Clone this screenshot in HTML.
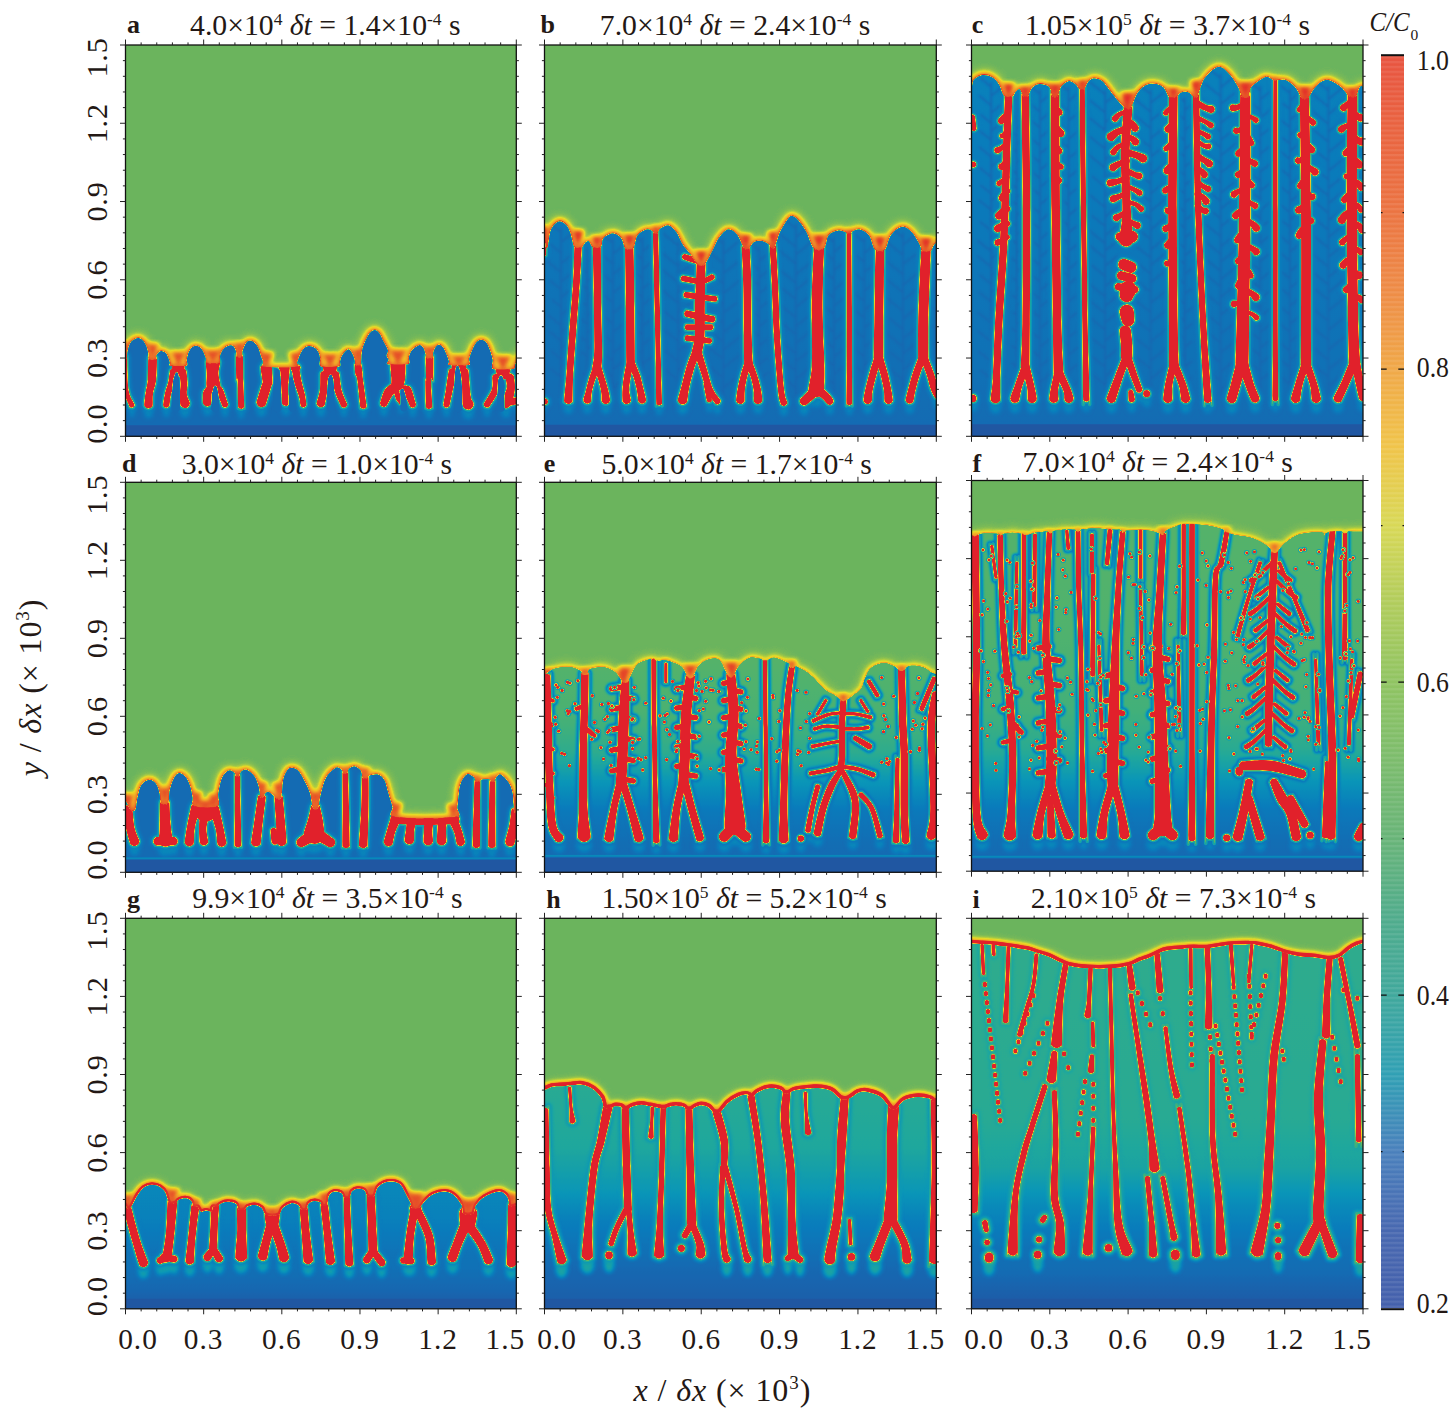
<!DOCTYPE html><html><head><meta charset="utf-8"><style>html,body{margin:0;padding:0;background:#fff;}svg{display:block;}</style></head><body><svg width="1450" height="1412" viewBox="0 0 1450 1412">
<defs><filter id="cmap" x="0" y="0" width="100%" height="100%" color-interpolation-filters="sRGB"><feComponentTransfer><feFuncR type="table" tableValues="0.165 0.129 0.094 0.039 0.039 0.125 0.251 0.361 0.416 0.627 0.902 0.949 0.941 0.925 0.902 0.890 0.886"/><feFuncG type="table" tableValues="0.310 0.341 0.400 0.486 0.588 0.659 0.690 0.706 0.706 0.784 0.863 0.753 0.627 0.471 0.314 0.188 0.133"/><feFuncB type="table" tableValues="0.620 0.639 0.690 0.737 0.722 0.612 0.486 0.392 0.369 0.282 0.157 0.141 0.157 0.157 0.157 0.165 0.169"/></feComponentTransfer></filter><filter id="gb05" x="-10%" y="-10%" width="120%" height="120%" color-interpolation-filters="sRGB"><feGaussianBlur stdDeviation="0.5"/></filter><filter id="gb25" x="-10%" y="-10%" width="120%" height="120%" color-interpolation-filters="sRGB"><feGaussianBlur stdDeviation="2.5"/></filter><filter id="gb6" x="-10%" y="-10%" width="120%" height="120%" color-interpolation-filters="sRGB"><feGaussianBlur stdDeviation="6.0"/></filter><filter id="gb07" x="-10%" y="-10%" width="120%" height="120%" color-interpolation-filters="sRGB"><feGaussianBlur stdDeviation="0.7"/></filter><filter id="gb1" x="-10%" y="-10%" width="120%" height="120%" color-interpolation-filters="sRGB"><feGaussianBlur stdDeviation="1.0"/></filter><filter id="gb15" x="-10%" y="-10%" width="120%" height="120%" color-interpolation-filters="sRGB"><feGaussianBlur stdDeviation="1.5"/></filter><filter id="gb2" x="-10%" y="-10%" width="120%" height="120%" color-interpolation-filters="sRGB"><feGaussianBlur stdDeviation="2.0"/></filter><filter id="gb3" x="-10%" y="-10%" width="120%" height="120%" color-interpolation-filters="sRGB"><feGaussianBlur stdDeviation="3.0"/></filter><filter id="gb4" x="-10%" y="-10%" width="120%" height="120%" color-interpolation-filters="sRGB"><feGaussianBlur stdDeviation="4.0"/></filter><filter id="gb5" x="-10%" y="-10%" width="120%" height="120%" color-interpolation-filters="sRGB"><feGaussianBlur stdDeviation="5.0"/></filter><filter id="gb8" x="-10%" y="-10%" width="120%" height="120%" color-interpolation-filters="sRGB"><feGaussianBlur stdDeviation="8.0"/></filter><filter id="blur1" x="-5%" y="-5%" width="110%" height="110%"><feGaussianBlur stdDeviation="1.2"/></filter><filter id="blur3" x="-10%" y="-10%" width="120%" height="120%"><feGaussianBlur stdDeviation="3"/></filter><filter id="blur6" x="-10%" y="-20%" width="120%" height="140%"><feGaussianBlur stdDeviation="6"/></filter></defs>
<rect width="1450" height="1412" fill="#fff"/>
<svg x="125.50" y="45.00" width="390.80" height="391.30" viewBox="0 0 391 391" preserveAspectRatio="none" overflow="hidden">
<rect width="391" height="391" fill="#69b35f"/>
<defs><path id="fra" d="M-6 300.7C-5.4 301.8 -3.6 305.4 -2.6 307.6C-1.5 309.8 -0.5 312.9 0.2 313.8C0.9 314.7 1.2 314.6 1.6 313.1C1.9 311.6 1.6 307.6 2.3 304.8C2.9 302 4 298.3 5.7 296.3C7.4 294.3 10.6 292.9 12.6 292.7C14.6 292.5 16.1 293.8 17.4 295.2C18.8 296.5 20 298.6 20.9 300.7C21.8 302.8 22.3 305.3 22.7 307.6C23.1 309.9 21.9 313.3 23.2 314.5C24.5 315.6 29.2 315.3 30.5 314.5C31.9 313.7 30.8 310.9 31.2 309.7C31.7 308.4 32.4 307.5 33.3 306.9C34.2 306.3 35.6 305.8 36.7 305.9C37.9 306 39.2 306.6 40.2 307.6C41.2 308.6 41.8 310.1 42.5 311.7C43.2 313.3 43.9 315.7 44.3 317.2C44.7 318.7 42.3 320.1 45 320.7C47.8 321.3 58.2 321.7 60.9 320.7C63.6 319.7 60.9 316.7 61.3 314.5C61.6 312.3 62.1 309.7 62.9 307.6C63.8 305.5 65.1 303.3 66.4 302.1C67.7 300.9 69.2 300.4 70.5 300.4C71.9 300.4 73.4 301 74.7 302.1C75.9 303.1 77.2 305.1 78.1 306.9C79 308.7 79.7 311.3 80.2 313.1C80.7 314.9 78.9 317.1 81.2 317.9C83.5 318.7 91.7 319.2 94 317.9C96.2 316.7 94 312.8 94.7 310.3C95.4 307.9 96.5 305.2 98.1 303.4C99.7 301.7 102.6 300.3 104.3 300C106.1 299.7 107.4 300.3 108.5 301.4C109.5 302.4 110.1 304.5 110.5 306.2C111 307.9 110.2 310.8 111.2 311.7C112.3 312.6 115.7 312.9 116.7 311.7C117.8 310.6 116.7 307.2 117.4 304.8C118.1 302.4 119.6 298.9 120.9 297.2C122.1 295.6 123.5 295.1 125 295.2C126.5 295.3 128.5 296.6 129.8 297.9C131.2 299.3 132.4 301.4 133.3 303.4C134.2 305.5 134.7 308.3 135.4 310.3C136 312.4 136.9 314.3 137.2 315.9C137.4 317.5 136.7 319 136.7 320C136.8 321 131.7 321.7 137.4 322.1C143.2 322.4 165.5 322.9 171.2 322.1C177 321.3 171.3 319.4 171.9 317.2C172.5 315.1 173.5 311.4 174.7 309C175.8 306.6 177.3 304.1 178.8 302.8C180.3 301.4 181.8 300.7 183.6 300.7C185.5 300.7 188.2 301.6 189.8 302.8C191.5 303.9 192.5 305.9 193.3 307.6C194.1 309.3 194.3 310.8 194.7 313.1C195.1 315.4 192.5 320 195.6 321.4C198.8 322.8 210.4 322.3 213.6 321.4C216.7 320.5 214.1 317.8 214.7 315.9C215.2 313.9 215.6 311.6 217 309.7C218.4 307.7 221.5 304.1 223.2 304.1C225 304.1 226.6 307.7 227.6 309.7C228.7 311.6 229 314.1 229.4 315.9C229.8 317.6 229.1 319.3 230.1 320C231.1 320.7 234.3 322.1 235.4 320C236.4 317.9 235.8 311 236.3 307.6C236.8 304.1 237.1 302.5 238.4 299.3C239.7 296.1 242.1 290.7 243.9 288.3C245.8 285.9 247.7 284.8 249.4 284.8C251.2 284.8 252.9 286.6 254.3 288.3C255.6 290 256.3 292.4 257.7 295.2C259.1 297.9 262 302.3 262.5 304.8C263.1 307.4 261 308.7 261.2 310.3C261.3 312 263 313 263.2 314.5C263.5 316 259.3 318.5 262.5 319.3C265.8 320.1 279 320.6 282.5 319.3C286.1 318 282.9 314.1 283.6 311.7C284.3 309.3 285 306.8 286.7 304.8C288.3 302.9 291.7 300.5 293.6 300C295.4 299.5 296.7 300.8 297.7 302.1C298.7 303.3 299.3 305.7 299.8 307.6C300.3 309.4 299.4 312.2 300.7 313.1C302.1 314 306.4 314.1 307.6 313.1C308.9 312.1 307.6 308.7 308.1 306.9C308.5 305.1 309.2 303.3 310.1 302.1C311 300.8 312.3 299.3 313.6 299.3C314.8 299.3 316.6 300.7 317.7 302.1C318.9 303.4 319.5 305.3 320.5 307.6C321.5 309.9 323.1 313.8 323.6 315.9C324.2 317.9 320.6 319.3 323.9 320C327.2 320.7 339.9 321.1 343.2 320C346.6 318.9 343.2 315.9 343.9 313.1C344.6 310.3 346.1 306.2 347.4 303.4C348.6 300.7 350.1 298 351.5 296.6C352.9 295.1 354.1 294.5 355.6 294.5C357.1 294.5 359 294.8 360.5 296.6C362 298.3 363.5 301.8 364.6 304.8C365.8 307.8 366.8 311.3 367.4 314.5C367.9 317.7 364.7 322.5 368.1 324.1C371.4 325.7 383.7 325.1 387.4 324.1C391 323.2 389.2 320.5 390.1 318.6C391 316.8 391.5 314.9 392.9 313.1C394.3 311.3 397.5 308.5 398.4 307.6L398.4 430L-6 430Z"/><g id="cha"><path d="M-2.1 313.2C-2 318.7 -2.2 337.3 -1.3 345.2C-0.3 353.1 2.8 357.9 3.7 360.7C4.7 363.4 4.2 361.5 4.5 361.8C4.9 362.1 5.3 362.3 5.8 362.4C6.2 362.5 6.8 362.4 7.2 362.3C7.6 362.1 8 361.8 8.3 361.5C8.6 361.1 8.8 360.7 8.9 360.2C9 359.8 9.8 361.4 8.8 358.8C7.8 356.2 4.2 352.2 3 344.6C1.8 337 1.9 318.5 1.6 313C1.3 307.6 1.5 312.4 1.3 312.1C1.2 311.9 0.9 311.6 0.6 311.5C0.4 311.3 0 311.3 -0.3 311.3C-0.6 311.3 -0.9 311.4 -1.2 311.5C-1.5 311.7 -1.7 312 -1.8 312.2C-2 312.5 -2.2 307.7 -2.1 313.2Z"/><path d="M22.7 314.1C22.5 317.9 22.6 329.3 22.2 334.8C21.7 340.3 20.7 343.1 20.1 347.1C19.5 351 18.9 356.3 18.7 358.6C18.6 360.9 18.8 360.2 19.1 360.8C19.5 361.5 20 362.1 20.6 362.5C21.2 362.9 22 363.2 22.7 363.2C23.4 363.3 24.3 363.1 24.9 362.8C25.6 362.5 26.2 362 26.6 361.4C27 360.8 27.2 361.5 27.3 359.2C27.5 357 27 352.1 27.6 348.1C28.1 344.2 30 341.2 30.6 335.6C31.3 330 31.4 318.3 31.5 314.4C31.5 310.4 31.3 312.8 31 312.1C30.6 311.5 30 310.9 29.4 310.5C28.8 310.1 28 309.8 27.2 309.8C26.5 309.8 25.7 310 25 310.3C24.4 310.7 23.7 311.3 23.4 311.9C23 312.5 22.9 310.3 22.7 314.1Z"/><path d="M46.7 320.5C46.5 321.8 46.6 323.7 46.7 325C46.7 326.2 46.8 327.1 47.2 328C47.6 328.9 48.3 329.8 49.1 330.4C50 331 51.1 331.4 52 331.5C53 331.6 54.2 331.4 55.1 330.9C56 330.5 56.9 329.8 57.5 329C58.1 328.2 58.2 327.3 58.5 326.1C58.9 324.9 59.3 323 59.3 321.7C59.3 320.4 59.2 319.4 58.8 318.5C58.3 317.5 57.5 316.6 56.7 316C55.8 315.3 54.7 314.9 53.6 314.8C52.6 314.7 51.3 314.9 50.4 315.4C49.4 315.8 48.5 316.6 47.9 317.4C47.3 318.3 46.9 319.3 46.7 320.5Z"/><path d="M44.3 326.4C43.9 328.4 43.4 333.7 42.7 337.1C41.9 340.5 40.6 343.2 39.7 346.8C38.9 350.4 38 356.4 37.7 358.7C37.4 360.9 37.6 359.9 37.8 360.4C38 360.9 38.4 361.4 38.8 361.7C39.2 362.1 39.8 362.3 40.3 362.4C40.9 362.5 41.5 362.4 42 362.2C42.5 362 43 361.7 43.4 361.3C43.7 360.8 43.7 361.9 44.1 359.7C44.5 357.6 44.8 351.8 45.8 348.3C46.7 344.8 48.7 342.3 49.6 338.8C50.5 335.3 51 329.6 51.3 327.4C51.5 325.2 51.3 326.1 51.1 325.6C50.9 325 50.5 324.5 50 324.1C49.5 323.7 48.9 323.5 48.3 323.4C47.7 323.3 47 323.4 46.5 323.6C45.9 323.8 45.4 324.2 45 324.7C44.6 325.1 44.6 324.3 44.3 326.4Z"/><path d="M53.9 327.3C54 329.3 54.9 334.4 55 338C55.1 341.6 54.4 345.7 54.4 349.1C54.4 352.6 54.5 356.7 54.7 358.7C55 360.7 55.3 360.4 55.8 361C56.3 361.6 57.1 362.2 57.9 362.4C58.6 362.7 59.6 362.8 60.4 362.6C61.2 362.5 62 362.1 62.7 361.6C63.3 361 63.8 360.3 64.1 359.5C64.4 358.7 64.7 358.8 64.3 357C63.8 355.2 61.8 352 61.4 348.8C61 345.6 62.2 341.6 62.1 337.9C62 334.2 61.3 328.7 61 326.5C60.7 324.4 60.7 325.3 60.3 324.8C60 324.3 59.4 323.9 58.9 323.7C58.4 323.4 57.7 323.3 57.1 323.4C56.5 323.4 55.8 323.7 55.4 324C54.9 324.4 54.4 324.9 54.2 325.4C53.9 326 53.8 325.2 53.9 327.3Z"/><path d="M80.4 317.4C80.3 319.8 81 324.6 81.1 328.4C81.2 332.1 80.6 337.3 80.8 339.7C80.9 342.2 81.3 342.2 81.9 343.2C82.6 344.2 83.6 345.1 84.7 345.6C85.7 346.1 87 346.4 88.2 346.3C89.4 346.2 90.7 345.8 91.7 345.1C92.6 344.5 93.5 343.5 94.1 342.4C94.6 341.4 94.9 341.2 94.8 338.9C94.6 336.5 93.1 331.7 93.1 328.2C93 324.7 94.5 320.2 94.6 317.9C94.8 315.6 94.4 315.4 93.8 314.3C93.3 313.3 92.3 312.2 91.3 311.6C90.3 311 89 310.6 87.8 310.5C86.6 310.5 85.2 310.8 84.2 311.3C83.1 311.9 82.1 312.8 81.5 313.8C80.8 314.9 80.4 315 80.4 317.4Z"/><path d="M81.9 341.1C80.9 342.2 78.5 344 77.8 346.6C77 349.2 77.3 354.5 77.4 356.5C77.4 358.5 77.6 358.1 78 358.8C78.4 359.5 79 360.1 79.7 360.5C80.3 360.9 81.2 361.1 82 361.1C82.7 361.1 83.6 360.9 84.2 360.5C84.9 360.1 85.5 359.5 85.9 358.8C86.3 358.1 86.5 358.2 86.5 356.5C86.6 354.8 85.9 350.4 86.2 348.6C86.4 346.8 87.7 346.6 88.2 345.8C88.6 345 88.8 344.5 88.9 343.9C89 343.2 88.9 342.5 88.6 341.9C88.3 341.3 87.9 340.7 87.3 340.3C86.8 339.9 86.1 339.6 85.5 339.6C84.8 339.5 84.1 339.6 83.5 339.9C82.9 340.1 82.8 340 81.9 341.1Z"/><path d="M89.7 345.6C90.1 346.2 90.3 345.2 91.5 347.6C92.6 350.1 95.6 358 96.6 360.3C97.6 362.6 97.2 361.3 97.6 361.6C98 361.9 98.5 362.2 99 362.3C99.5 362.4 100.1 362.3 100.6 362.1C101.1 361.9 101.6 361.6 101.9 361.2C102.2 360.8 102.5 360.2 102.6 359.7C102.7 359.2 103.2 360.6 102.4 358.1C101.6 355.6 99 347.6 97.9 344.8C96.7 342 96.1 342.1 95.5 341.3C94.8 340.6 94.6 340.4 94 340.2C93.5 339.9 92.8 339.8 92.2 339.9C91.6 340 91 340.2 90.5 340.6C90 340.9 89.6 341.5 89.3 342C89.1 342.6 89 343.3 89.1 343.8C89.1 344.4 89.3 344.9 89.7 345.6Z"/><path d="M110.4 311.5C110.4 315.8 110.7 331.5 111 335.3C111.2 339.1 111.7 330 112 334.2C112.3 338.4 112.5 356 112.7 360.7C112.8 365.3 112.8 361.8 113.1 362.2C113.4 362.6 113.8 363 114.3 363.3C114.7 363.5 115.3 363.7 115.8 363.7C116.4 363.6 116.9 363.5 117.4 363.2C117.8 362.9 118.2 362.5 118.5 362C118.7 361.6 118.9 365.2 118.8 360.5C118.7 355.8 118.1 338.2 117.9 333.9C117.7 329.7 117.9 338.8 117.8 335C117.8 331.3 117.7 315.6 117.5 311.4C117.4 307.2 117.3 310.1 117 309.6C116.7 309.1 116.2 308.6 115.7 308.3C115.2 308 114.5 307.9 113.9 307.9C113.3 307.9 112.7 308.1 112.1 308.4C111.6 308.7 111.2 309.2 110.9 309.7C110.6 310.2 110.4 307.2 110.4 311.5Z"/><path d="M135.3 323.6C135.5 326.5 137.1 335.7 137.3 338.1C137.6 340.5 137.8 335 136.8 338C135.8 340.9 132.3 352.3 131.4 355.6C130.5 359 131.1 357.3 131.3 358.1C131.5 358.9 131.9 359.8 132.5 360.4C133 360.9 133.8 361.5 134.6 361.7C135.4 361.9 136.3 362 137.1 361.8C137.9 361.6 138.7 361.2 139.3 360.6C139.9 360.1 139.5 361.7 140.7 358.5C141.8 355.2 145 344.4 146 341C147.1 337.5 147.1 340.8 147.2 337.8C147.3 334.7 146.8 325.5 146.5 322.5C146.2 319.5 146 320.5 145.5 319.8C144.9 319 144.1 318.3 143.2 317.9C142.4 317.5 141.3 317.3 140.4 317.4C139.4 317.5 138.4 317.9 137.6 318.4C136.9 319 136.2 319.8 135.8 320.7C135.4 321.5 135 320.7 135.3 323.6Z"/><path d="M153.3 324C153.5 325 154.6 323.4 154.9 326.9C155.2 330.4 155 340 155.2 345C155.4 350 155.9 354.7 156.2 357C156.5 359.3 156.6 358.4 157 359C157.4 359.6 158.1 360.1 158.7 360.3C159.3 360.6 160.1 360.7 160.8 360.7C161.5 360.6 162.3 360.3 162.8 359.9C163.4 359.4 163.9 358.8 164.2 358.2C164.5 357.5 164.7 358.3 164.5 356C164.3 353.8 162.8 349.6 162.8 344.8C162.7 339.9 163.8 330.6 164.1 326.9C164.4 323.1 164.5 323.3 164.4 322C164.2 320.8 163.7 320.1 163.1 319.4C162.5 318.7 161.6 318.1 160.7 317.7C159.8 317.4 158.7 317.3 157.8 317.5C156.9 317.7 155.9 318.1 155.2 318.7C154.5 319.3 153.8 320.2 153.5 321.1C153.2 322 153 323.1 153.3 324Z"/><path d="M165.3 323.5C165.5 324.4 166.1 324.5 166.7 326.8C167.3 329.2 167.7 333.7 168.9 337.7C170 341.7 172.4 347.4 173.4 351C174.5 354.7 174.6 358 175 359.7C175.4 361.3 175.3 360.7 175.6 361.1C175.9 361.4 176.4 361.8 176.8 362C177.3 362.1 177.9 362.2 178.4 362.1C178.9 362.1 179.4 361.8 179.8 361.5C180.2 361.2 180.5 360.8 180.7 360.3C180.9 359.8 181 360.6 180.9 358.8C180.7 357 180.5 353.4 179.7 349.5C178.9 345.7 177.1 339.8 176.2 335.9C175.3 331.9 174.6 327.8 174.4 325.6C174.2 323.4 175.2 323.5 175.2 322.6C175.2 321.7 174.8 320.9 174.3 320.2C173.8 319.5 173.1 318.9 172.3 318.6C171.6 318.2 170.7 318 169.8 318.1C169 318.2 168.1 318.5 167.4 319C166.8 319.5 166.1 320.2 165.8 320.9C165.4 321.7 165.2 322.5 165.3 323.5Z"/><path d="M197.6 321.7C197.6 323 198 324.9 198.3 326.2C198.5 327.5 198.6 328.5 199.1 329.4C199.7 330.3 200.5 331.2 201.4 331.7C202.4 332.2 203.6 332.5 204.6 332.5C205.7 332.5 206.9 332.2 207.8 331.7C208.7 331.2 209.5 330.3 210.1 329.4C210.6 328.5 210.7 327.5 210.9 326.2C211.2 324.9 211.7 323 211.6 321.7C211.6 320.3 211.3 319.2 210.7 318.2C210.1 317.1 209.1 316.2 208.1 315.6C207.1 315 205.8 314.6 204.6 314.6C203.4 314.6 202.1 315 201.1 315.6C200.1 316.2 199.1 317.1 198.5 318.2C198 319.2 197.6 320.3 197.6 321.7Z"/><path d="M194.8 329.4C194.7 332.3 195 339.8 194.5 344.4C193.9 349 191.9 354.5 191.4 357C190.9 359.5 191.3 358.5 191.5 359.2C191.7 359.8 192.2 360.5 192.7 361C193.2 361.4 194 361.8 194.6 362C195.3 362.1 196.1 362 196.8 361.8C197.5 361.6 198.2 361.2 198.6 360.6C199.1 360.1 199 361.3 199.6 358.7C200.1 356.2 201.3 350.2 201.9 345.4C202.6 340.6 203.2 332.8 203.3 329.9C203.5 327 203.2 328.4 202.9 327.7C202.6 327.1 202 326.5 201.4 326.1C200.8 325.7 200 325.5 199.3 325.4C198.6 325.4 197.8 325.5 197.2 325.9C196.5 326.2 195.9 326.7 195.5 327.3C195.1 327.9 195 326.6 194.8 329.4Z"/><path d="M206.3 330.3C206.8 333.5 208.2 342.2 209.7 347.2C211.2 352.2 214.4 358 215.5 360.5C216.6 362.9 216.1 361.5 216.5 361.8C216.9 362.1 217.5 362.3 218.1 362.4C218.6 362.5 219.2 362.4 219.7 362.2C220.2 362 220.7 361.6 221 361.2C221.4 360.7 221.6 360.2 221.7 359.6C221.8 359.1 222.3 360.4 221.5 358C220.6 355.6 217.7 350.1 216.4 345.3C215.2 340.4 214.5 332 214 329C213.4 325.9 213.5 327.6 213.1 327.1C212.7 326.6 212.1 326.2 211.4 326C210.8 325.8 210.1 325.7 209.4 325.8C208.8 325.9 208.1 326.2 207.6 326.7C207.1 327.1 206.7 327.7 206.5 328.3C206.2 328.9 205.7 327.2 206.3 330.3Z"/><path d="M229.2 320.1C229.3 321.9 229.5 326.4 229.9 328.8C230.3 331.2 231 329.2 231.8 334.5C232.6 339.8 234.1 356.1 234.7 360.7C235.3 365.3 235 361.8 235.4 362.2C235.7 362.7 236.2 363.1 236.7 363.3C237.2 363.5 237.8 363.6 238.3 363.5C238.9 363.4 239.5 363.2 239.9 362.9C240.3 362.5 240.7 362 240.9 361.6C241.1 361.1 241.7 364.5 241.2 359.9C240.6 355.2 238.3 339 237.6 333.7C237 328.3 237.5 330.1 237.2 327.7C237 325.4 236.3 321 236 319.3C235.7 317.7 235.7 318.2 235.4 317.7C235 317.2 234.5 316.8 234 316.6C233.4 316.4 232.8 316.3 232.2 316.3C231.7 316.4 231 316.6 230.6 317C230.1 317.3 229.7 317.8 229.5 318.4C229.2 318.9 229.1 318.4 229.2 320.1Z"/><path d="M264.9 320.2C264.9 322.8 265.7 329.2 265.9 332.3C266 335.3 265.8 337.1 265.9 338.7C266 340.3 266 340.9 266.4 341.9C266.9 342.9 267.6 343.8 268.5 344.4C269.4 345.1 270.5 345.5 271.6 345.6C272.6 345.7 273.8 345.5 274.8 345.1C275.7 344.6 276.7 343.9 277.3 343C277.9 342.1 278 341.7 278.5 339.9C278.9 338.2 279.6 335.9 279.9 332.6C280.2 329.2 280.4 322.6 280.3 319.8C280.2 317.1 279.8 317.1 279.2 316C278.5 314.9 277.4 313.9 276.3 313.3C275.2 312.6 273.7 312.3 272.4 312.3C271.2 312.3 269.7 312.8 268.6 313.4C267.5 314.1 266.5 315.2 265.9 316.3C265.2 317.4 264.9 317.5 264.9 320.2Z"/><path d="M265.5 338.8C264.1 340 260.8 342 259 344.9C257.3 347.9 255.8 354.1 255 356.3C254.3 358.5 254.7 357.6 254.7 358.2C254.8 358.9 255.1 359.6 255.4 360.1C255.8 360.6 256.4 361 256.9 361.3C257.5 361.6 258.3 361.7 258.9 361.6C259.5 361.5 260.2 361.3 260.7 360.9C261.2 360.5 260.9 361.2 261.9 359.4C263 357.6 265.5 352.6 267.2 350.2C268.8 347.9 270.9 346.5 271.9 345.4C272.9 344.2 273 344.1 273.2 343.3C273.4 342.6 273.4 341.7 273.2 340.9C273 340.2 272.6 339.4 272 338.9C271.5 338.3 270.7 337.9 270 337.6C269.2 337.4 268.4 337.4 267.6 337.6C266.9 337.8 267 337.6 265.5 338.8Z"/><path d="M277.9 346.4C278.1 346.7 277.2 344.4 278.2 346.7C279.3 349 283.2 357.9 284.4 360.4C285.6 362.9 284.9 361.4 285.4 361.7C285.8 362.1 286.4 362.3 286.9 362.4C287.4 362.5 288.1 362.4 288.6 362.2C289.1 362 289.6 361.7 289.9 361.3C290.3 360.8 290.5 360.3 290.6 359.7C290.7 359.2 291.2 360.8 290.4 358.1C289.6 355.3 287.2 346 285.8 343.1C284.3 340.1 282.7 341 281.7 340.5C280.7 339.9 280.5 339.9 279.9 339.9C279.4 339.9 278.7 340 278.1 340.3C277.6 340.6 277.1 341 276.8 341.5C276.5 342 276.2 342.7 276.2 343.3C276.2 343.9 276.3 344.6 276.6 345.1C276.9 345.6 277.6 346.2 277.9 346.4Z"/><path d="M268.6 347C268.9 348.4 269.7 352.1 270.6 354C271.5 356 273.1 357.5 273.8 358.4C274.5 359.3 274.4 359 274.7 359.2C275.1 359.4 275.5 359.5 275.9 359.5C276.3 359.4 276.8 359.3 277.1 359.1C277.5 358.8 277.8 358.5 278 358.1C278.1 357.8 278.2 357.3 278.2 356.9C278.2 356.5 278.2 356.5 277.8 355.7C277.4 354.9 276.2 353.6 275.6 351.9C274.9 350.2 274.2 346.8 273.8 345.5C273.4 344.2 273.4 344.6 273.1 344.3C272.8 344 272.3 343.7 271.9 343.6C271.4 343.5 270.9 343.5 270.5 343.6C270 343.8 269.6 344 269.3 344.4C269 344.7 268.7 345.1 268.6 345.6C268.5 346 268.3 345.5 268.6 347Z"/><path d="M300.1 312.9C300.1 316.9 300.8 331.4 300.8 334.9C300.7 338.5 299.9 329.7 299.9 334C299.8 338.3 300.2 355.9 300.4 360.7C300.6 365.4 300.6 361.8 300.9 362.3C301.2 362.7 301.6 363.2 302.1 363.4C302.6 363.7 303.2 363.8 303.7 363.8C304.3 363.8 304.9 363.6 305.3 363.3C305.8 363 306.2 362.6 306.5 362.1C306.7 361.6 307 365.1 306.9 360.5C306.8 355.8 305.6 338.3 305.8 334.1C306 330 307.5 339 307.9 335.4C308.3 331.8 308.3 316.9 308.3 312.8C308.3 308.7 308.1 311.3 307.7 310.8C307.4 310.2 306.8 309.6 306.2 309.3C305.6 308.9 304.8 308.7 304.2 308.7C303.5 308.7 302.7 308.9 302.1 309.3C301.5 309.6 301 310.2 300.6 310.8C300.3 311.4 300.1 308.8 300.1 312.9Z"/><path d="M326.3 319.9C326.1 320.9 326.5 321.8 326.7 322.8C326.8 323.9 326.8 325.2 327.2 326.2C327.7 327.2 328.5 328.2 329.4 328.9C330.3 329.5 331.6 330 332.7 330.1C333.8 330.2 335.1 330 336.1 329.5C337.1 329 338.1 328.2 338.7 327.3C339.4 326.4 339.6 325.1 339.9 324.1C340.3 323.1 340.8 322.3 340.9 321.2C340.9 320.2 340.8 318.6 340.3 317.5C339.7 316.4 338.8 315.3 337.8 314.6C336.8 313.9 335.5 313.3 334.3 313.2C333 313.1 331.6 313.4 330.5 313.9C329.4 314.4 328.3 315.3 327.6 316.3C326.9 317.3 326.4 318.8 326.3 319.9Z"/><path d="M323.2 326.1C322.6 329.4 321.3 338.8 320.5 344.2C319.6 349.6 318.4 355.9 318 358.6C317.6 361.3 318 359.8 318.2 360.3C318.3 360.8 318.7 361.3 319.1 361.7C319.5 362 320.1 362.3 320.6 362.4C321.1 362.5 321.8 362.4 322.3 362.3C322.8 362.1 323.3 361.7 323.7 361.3C324 360.9 323.8 362.4 324.4 359.8C325 357.2 326.2 350.9 327.4 345.5C328.5 340.2 330.9 331 331.5 327.7C332.2 324.4 331.6 326.2 331.4 325.5C331.1 324.8 330.7 324.1 330.1 323.7C329.6 323.2 328.9 322.9 328.2 322.7C327.5 322.6 326.6 322.7 326 322.9C325.3 323.1 324.6 323.6 324.1 324.1C323.7 324.7 323.8 322.7 323.2 326.1Z"/><path d="M334.8 327.2C334.9 331.7 335.4 346.6 335.9 352.2C336.3 357.8 337 358.7 337.5 360.5C338.1 362.3 338.4 362.3 339 363C339.7 363.6 340.6 364.1 341.5 364.3C342.4 364.5 343.5 364.5 344.4 364.2C345.3 364 346.2 363.4 346.8 362.7C347.5 362.1 348 361.1 348.2 360.2C348.4 359.3 348.6 358.9 348.1 357.4C347.7 355.8 346.3 356.2 345.5 351.1C344.7 346 343.8 331 343.3 326.6C342.8 322.2 343 325.1 342.6 324.5C342.2 324 341.6 323.4 341 323.1C340.3 322.8 339.5 322.6 338.8 322.7C338.1 322.7 337.3 323 336.7 323.4C336.1 323.8 335.6 324.4 335.3 325C335 325.6 334.8 322.6 334.8 327.2Z"/><path d="M370.4 324.4C370.3 325.6 370.8 326.5 371 327.6C371.3 328.7 371.4 330 371.9 330.9C372.5 331.9 373.4 332.8 374.4 333.4C375.3 333.9 376.6 334.2 377.7 334.2C378.8 334.2 380.1 333.9 381 333.4C382 332.8 382.9 331.9 383.5 330.9C384 330 384.1 328.7 384.4 327.6C384.6 326.5 385.1 325.6 385.1 324.4C385 323.3 384.7 321.8 384.1 320.7C383.5 319.7 382.4 318.7 381.4 318C380.3 317.4 378.9 317.1 377.7 317.1C376.5 317.1 375.1 317.4 374 318C373 318.7 372 319.7 371.3 320.7C370.7 321.8 370.4 323.3 370.4 324.4Z"/><path d="M366.9 332.1C366.7 334.4 367.9 339.5 366.6 343.8C365.2 348 360.3 355 358.9 357.6C357.6 360.2 358.5 358.7 358.5 359.2C358.5 359.8 358.7 360.4 359 360.9C359.2 361.3 359.7 361.8 360.2 362C360.6 362.3 361.2 362.4 361.8 362.4C362.3 362.4 362.9 362.3 363.4 362C363.9 361.7 362.9 363.5 364.6 360.8C366.2 358.1 371.5 350.7 373.2 346C374.9 341.3 374.5 335.3 374.7 332.7C374.9 330.2 374.6 331.3 374.3 330.7C374 330.1 373.5 329.6 373 329.2C372.5 328.8 371.8 328.6 371.1 328.5C370.5 328.5 369.7 328.6 369.1 328.9C368.5 329.2 368 329.7 367.6 330.2C367.2 330.8 367.1 329.9 366.9 332.1Z"/><path d="M380.4 332.8C380.5 334.7 381.7 339 381.4 341.9C381.1 344.8 379.6 347.8 378.7 350.2C377.9 352.7 376.9 355.2 376.4 356.7C376 358.2 376 358.3 376.1 359.1C376.3 359.8 376.6 360.6 377.1 361.2C377.6 361.8 378.3 362.4 379 362.7C379.7 362.9 380.6 363 381.3 362.9C382.1 362.8 382.9 362.5 383.5 362C384.1 361.5 384.2 361.6 384.9 360.1C385.7 358.6 387.2 356 388 353C388.8 350.1 389.6 345.9 389.7 342.4C389.9 338.9 389.1 334.1 388.8 332C388.6 329.9 388.5 330.5 388.1 329.9C387.6 329.4 387 328.8 386.4 328.5C385.7 328.3 384.9 328.1 384.2 328.2C383.5 328.3 382.7 328.5 382.1 329C381.6 329.4 381 330 380.7 330.7C380.4 331.3 380.3 330.9 380.4 332.8Z"/><path d="M381.4 361C383.7 360.6 391.2 359.1 393.5 358.6C395.8 358.1 394.7 358.2 395.2 357.8C395.6 357.4 396 356.8 396.2 356.3C396.4 355.7 396.4 355 396.3 354.5C396.2 353.9 395.9 353.3 395.5 352.8C395.1 352.4 394.5 352 394 351.8C393.4 351.6 394.5 351.3 392.2 351.7C389.8 352.1 382.3 353.6 380 354.2C377.7 354.7 378.8 354.6 378.4 355C377.9 355.3 377.6 355.9 377.4 356.5C377.2 357 377.1 357.7 377.2 358.3C377.4 358.8 377.7 359.5 378.1 359.9C378.4 360.3 379 360.7 379.6 360.9C380.1 361.1 379 361.4 381.4 361Z"/></g><clipPath id="cla"><use href="#fra" transform="translate(0,-0.5)"/></clipPath><clipPath id="c0a"><use href="#fra"/></clipPath></defs><g filter="url(#cmap)"><rect x="-5" y="-5" width="401" height="401" fill="#808080"/><use href="#fra" fill="#b2b2b2" stroke="#b2b2b2" stroke-width="6" filter="url(#gb5)"/><use href="#fra" fill="#e6e6e6" stroke="#e6e6e6" stroke-width="3.0" filter="url(#gb25)"/><use href="#fra" fill="#ffffff" stroke="#ffffff" stroke-width="1.0" filter="url(#gb05)"/><path d="M-4.3 297.1L3.8 297.1L-0.2 316.1ZM20.5 298.2L33.7 298.2L27.1 317.2ZM44.5 306.0L61.5 306.0L53.0 324.1ZM78.2 304.2L96.8 304.2L87.5 320.7ZM108.2 297.3L119.7 297.3L114.0 314.4ZM133.1 307.0L148.7 307.0L140.9 326.0ZM163.1 307.0L177.4 307.0L170.3 326.0ZM195.4 308.1L213.8 308.1L204.6 324.7ZM227.0 303.7L238.2 303.7L232.6 322.7ZM262.7 304.0L282.5 304.0L272.6 323.0ZM297.9 301.0L310.5 301.0L304.2 315.8ZM324.0 309.7L343.1 309.7L333.6 323.6ZM368.2 310.3L387.3 310.3L377.7 327.4Z" fill="#e0e0e0" filter="url(#gb25)"/><g filter="url(#gb07)"><use href="#fra" fill="#242424"/><g fill="#383838" filter="url(#gb2)"><ellipse cx="6.3" cy="365.1" rx="3.1" ry="7.0"/><ellipse cx="23.0" cy="366.0" rx="4.7" ry="7.0"/><ellipse cx="40.9" cy="365.1" rx="3.6" ry="7.0"/><ellipse cx="59.5" cy="365.4" rx="5.3" ry="7.0"/><ellipse cx="87.8" cy="349.0" rx="7.4" ry="7.0"/><ellipse cx="82.0" cy="363.8" rx="5.0" ry="7.0"/><ellipse cx="99.5" cy="365.0" rx="3.5" ry="7.0"/><ellipse cx="115.7" cy="366.4" rx="3.5" ry="7.0"/><ellipse cx="136.0" cy="364.6" rx="5.3" ry="7.0"/><ellipse cx="160.4" cy="363.4" rx="4.6" ry="7.0"/><ellipse cx="177.9" cy="364.9" rx="3.4" ry="7.0"/><ellipse cx="195.5" cy="364.7" rx="4.6" ry="7.0"/><ellipse cx="218.5" cy="365.1" rx="3.6" ry="7.0"/><ellipse cx="237.9" cy="366.2" rx="3.6" ry="7.0"/><ellipse cx="272.2" cy="348.3" rx="6.7" ry="7.0"/><ellipse cx="258.5" cy="364.3" rx="4.2" ry="7.0"/><ellipse cx="287.4" cy="365.1" rx="3.6" ry="7.0"/><ellipse cx="275.8" cy="362.2" rx="2.8" ry="7.0"/><ellipse cx="303.6" cy="366.5" rx="3.6" ry="7.0"/><ellipse cx="321.2" cy="365.1" rx="3.6" ry="7.0"/><ellipse cx="342.8" cy="367.2" rx="5.9" ry="7.0"/><ellipse cx="361.8" cy="365.1" rx="3.6" ry="7.0"/><ellipse cx="380.7" cy="365.7" rx="5.0" ry="7.0"/><ellipse cx="392.8" cy="361.4" rx="3.9" ry="7.0"/></g><use href="#cha" fill="#333333" stroke="#333333" stroke-width="7" filter="url(#gb15)" clip-path="url(#c0a)"/><use href="#cha" fill="#4c4c4c" stroke="#4c4c4c" stroke-width="3.5" filter="url(#gb07)" clip-path="url(#c0a)"/><use href="#cha" fill="#fff" clip-path="url(#cla)"/><g fill="#242424"><path d="M49.7 328.5C49.3 329.7 48.2 332.1 47.7 335.1C47.2 338 47 341.5 46.7 346.1C46.5 350.7 46.1 359.6 46.1 362.7C46.1 365.8 46.3 364.2 46.6 364.8C47 365.4 47.5 366 48.1 366.3C48.7 366.7 49.5 366.9 50.2 366.9C50.9 366.9 51.7 366.7 52.3 366.4C52.9 366 53.5 365.5 53.8 364.9C54.2 364.3 54.3 365.9 54.4 362.8C54.5 359.7 54.4 350.9 54.3 346.3C54.2 341.7 54.2 338.2 53.9 335.3C53.6 332.4 53 329.9 52.7 328.6C52.5 327.4 52.7 328.1 52.6 327.9C52.5 327.7 52.3 327.4 52.1 327.3C51.9 327.1 51.6 327.1 51.3 327C51.1 327 50.8 327.1 50.5 327.2C50.3 327.3 50.1 327.5 50 327.7C49.8 327.9 50.1 327.2 49.7 328.5Z"/><path d="M88.1 342.3C87.9 343.6 87.1 345.6 86.7 349C86.3 352.4 85.8 360.1 85.7 362.8C85.6 365.4 85.9 364.2 86.3 364.8C86.6 365.4 87.2 366 87.8 366.3C88.4 366.7 89.2 366.9 89.8 366.9C90.5 366.9 91.3 366.7 91.9 366.3C92.5 366 93.1 365.4 93.4 364.8C93.8 364.2 94.1 365.4 94 362.8C93.9 360.1 93.4 352.4 92.9 349C92.5 345.6 91.8 343.6 91.6 342.3C91.3 341.1 91.5 341.7 91.3 341.5C91.2 341.2 91 341 90.7 340.9C90.5 340.7 90.1 340.6 89.8 340.6C89.6 340.6 89.2 340.7 89 340.9C88.7 341 88.5 341.2 88.4 341.5C88.2 341.7 88.4 341.1 88.1 342.3Z"/><path d="M149.8 325.8C149.6 327.5 148.8 331.3 148.5 335.2C148.1 339 147.9 344.4 147.8 349C147.7 353.6 147.7 360.1 147.8 362.8C147.9 365.4 148 364.2 148.3 364.8C148.7 365.4 149.2 366 149.8 366.3C150.4 366.7 151.2 366.9 151.9 366.9C152.6 366.9 153.4 366.7 154 366.3C154.6 366 155.2 365.4 155.5 364.8C155.8 364.2 156 365.4 156.1 362.8C156.1 360.1 156.2 353.6 156.1 349C155.9 344.4 155.7 339 155.4 335.2C155 331.3 154.3 327.5 154 325.8C153.7 324.1 153.9 325.1 153.7 324.8C153.5 324.5 153.2 324.2 152.9 324C152.6 323.8 152.3 323.7 151.9 323.7C151.6 323.7 151.2 323.8 150.9 324C150.6 324.2 150.3 324.5 150.1 324.8C149.9 325.1 150.1 324.1 149.8 325.8Z"/><path d="M163.8 334.2C163.7 335.7 163.4 337.4 163.3 342.2C163.2 347 163.2 359.1 163.3 362.9C163.4 366.6 163.5 364.2 163.9 364.8C164.2 365.3 164.7 365.8 165.3 366.1C165.9 366.4 166.6 366.6 167.2 366.5C167.8 366.5 168.6 366.3 169.1 366C169.6 365.6 170.1 365.1 170.4 364.5C170.7 364 171 366.4 170.9 362.6C170.7 358.9 170 346.7 169.5 341.9C169 337.1 168 335.4 167.6 333.9C167.3 332.4 167.5 333.2 167.3 333C167.1 332.7 166.8 332.5 166.5 332.3C166.2 332.2 165.9 332.1 165.5 332.1C165.2 332.2 164.9 332.3 164.6 332.5C164.3 332.7 164.1 333 164 333.3C163.8 333.5 163.9 332.7 163.8 334.2Z"/><path d="M203.6 331.3C203.3 332.6 202.5 332.7 202.2 337.9C201.8 343.2 201.5 358.3 201.5 362.8C201.5 367.2 201.7 364.1 202 364.7C202.3 365.2 202.8 365.7 203.4 366C203.9 366.4 204.7 366.6 205.3 366.6C205.9 366.6 206.6 366.4 207.2 366C207.7 365.7 208.3 365.2 208.6 364.7C208.9 364.1 209.1 367.2 209.1 362.8C209.1 358.3 208.7 343.2 208.4 337.9C208.1 332.7 207.3 332.6 207 331.3C206.7 330.1 206.9 330.7 206.8 330.4C206.6 330.2 206.4 330 206.2 329.8C205.9 329.7 205.6 329.6 205.3 329.6C205 329.6 204.7 329.7 204.4 329.8C204.2 330 203.9 330.2 203.8 330.4C203.7 330.7 203.8 330.1 203.6 331.3Z"/><path d="M275.3 345.3C275.2 346.5 275 349 275 351.9C274.9 354.9 274.9 360.9 275 363C275 365.1 275.2 364.2 275.5 364.7C275.8 365.1 276.3 365.6 276.9 365.8C277.4 366.1 278 366.2 278.6 366.2C279.2 366.2 279.8 365.9 280.3 365.6C280.8 365.3 281.2 364.8 281.5 364.3C281.7 363.8 282 364.7 281.8 362.5C281.7 360.4 281 354.4 280.5 351.5C279.9 348.6 279.1 346.2 278.7 344.9C278.4 343.7 278.6 344.3 278.4 344.1C278.2 343.9 278 343.6 277.7 343.5C277.5 343.4 277.1 343.4 276.8 343.4C276.6 343.4 276.2 343.5 276 343.7C275.8 343.9 275.6 344.1 275.4 344.4C275.3 344.7 275.4 344 275.3 345.3Z"/><path d="M330.5 322.4C330.2 323.8 329.6 326.5 329.4 329.8C329.1 333 329.2 336.6 329.1 342.1C329 347.6 328.7 359 328.7 362.8C328.8 366.5 329 364.2 329.3 364.8C329.6 365.4 330.2 366 330.8 366.3C331.4 366.7 332.2 366.9 332.9 366.9C333.6 366.9 334.4 366.7 334.9 366.3C335.5 366 336.1 365.4 336.5 364.8C336.8 364.2 337 366.6 337 362.8C337.1 359 336.9 347.6 336.7 342C336.4 336.5 336 332.8 335.6 329.5C335.1 326.3 334.2 323.6 333.9 322.3C333.6 320.9 333.8 321.7 333.6 321.4C333.5 321.2 333.2 321 333 320.8C332.7 320.7 332.4 320.6 332.1 320.6C331.8 320.6 331.5 320.7 331.3 320.9C331 321 330.8 321.3 330.7 321.5C330.5 321.8 330.7 321 330.5 322.4Z"/><path d="M373.9 332C373.6 333.1 372.9 332.8 372.5 337.9C372.2 343.1 371.9 358.3 371.8 362.8C371.8 367.2 372 364.1 372.4 364.7C372.7 365.2 373.2 365.7 373.7 366C374.3 366.4 375 366.6 375.6 366.6C376.3 366.6 377 366.4 377.5 366C378.1 365.7 378.6 365.2 378.9 364.7C379.2 364.1 379.5 367.2 379.4 362.8C379.4 358.3 379.1 343.1 378.7 337.9C378.4 332.8 377.6 333.1 377.4 332C377.1 330.9 377.3 331.4 377.1 331.1C377 330.9 376.7 330.7 376.5 330.5C376.3 330.4 375.9 330.3 375.6 330.3C375.4 330.3 375 330.4 374.8 330.5C374.5 330.7 374.3 330.9 374.1 331.1C374 331.4 374.2 330.9 373.9 332Z"/></g><rect x="-5" y="380" width="401" height="30" fill="#101010"/></g></g>
</svg>
<rect x="125.50" y="45.00" width="390.80" height="391.30" fill="none" stroke="#111" stroke-width="1.3"/>
<path d="M125.50 45.00v-5.5M125.50 436.30v5.5M125.50 436.30h-5.5M516.30 436.30h5.5M141.13 45.00v-2.6M141.13 436.30v2.6M125.50 420.65h-2.6M516.30 420.65h2.6M156.76 45.00v-2.6M156.76 436.30v2.6M125.50 405.00h-2.6M516.30 405.00h2.6M172.40 45.00v-2.6M172.40 436.30v2.6M125.50 389.34h-2.6M516.30 389.34h2.6M188.03 45.00v-2.6M188.03 436.30v2.6M125.50 373.69h-2.6M516.30 373.69h2.6M203.66 45.00v-5.5M203.66 436.30v5.5M125.50 358.04h-5.5M516.30 358.04h5.5M219.29 45.00v-2.6M219.29 436.30v2.6M125.50 342.39h-2.6M516.30 342.39h2.6M234.92 45.00v-2.6M234.92 436.30v2.6M125.50 326.74h-2.6M516.30 326.74h2.6M250.56 45.00v-2.6M250.56 436.30v2.6M125.50 311.08h-2.6M516.30 311.08h2.6M266.19 45.00v-2.6M266.19 436.30v2.6M125.50 295.43h-2.6M516.30 295.43h2.6M281.82 45.00v-5.5M281.82 436.30v5.5M125.50 279.78h-5.5M516.30 279.78h5.5M297.45 45.00v-2.6M297.45 436.30v2.6M125.50 264.13h-2.6M516.30 264.13h2.6M313.08 45.00v-2.6M313.08 436.30v2.6M125.50 248.48h-2.6M516.30 248.48h2.6M328.72 45.00v-2.6M328.72 436.30v2.6M125.50 232.82h-2.6M516.30 232.82h2.6M344.35 45.00v-2.6M344.35 436.30v2.6M125.50 217.17h-2.6M516.30 217.17h2.6M359.98 45.00v-5.5M359.98 436.30v5.5M125.50 201.52h-5.5M516.30 201.52h5.5M375.61 45.00v-2.6M375.61 436.30v2.6M125.50 185.87h-2.6M516.30 185.87h2.6M391.24 45.00v-2.6M391.24 436.30v2.6M125.50 170.22h-2.6M516.30 170.22h2.6M406.88 45.00v-2.6M406.88 436.30v2.6M125.50 154.56h-2.6M516.30 154.56h2.6M422.51 45.00v-2.6M422.51 436.30v2.6M125.50 138.91h-2.6M516.30 138.91h2.6M438.14 45.00v-5.5M438.14 436.30v5.5M125.50 123.26h-5.5M516.30 123.26h5.5M453.77 45.00v-2.6M453.77 436.30v2.6M125.50 107.61h-2.6M516.30 107.61h2.6M469.40 45.00v-2.6M469.40 436.30v2.6M125.50 91.96h-2.6M516.30 91.96h2.6M485.04 45.00v-2.6M485.04 436.30v2.6M125.50 76.30h-2.6M516.30 76.30h2.6M500.67 45.00v-2.6M500.67 436.30v2.6M125.50 60.65h-2.6M516.30 60.65h2.6M516.30 45.00v-5.5M516.30 436.30v5.5M125.50 45.00h-5.5M516.30 45.00h5.5" stroke="#222" stroke-width="1" fill="none"/>
<svg x="544.50" y="45.00" width="391.80" height="391.30" viewBox="0 0 391 391" preserveAspectRatio="none" overflow="hidden">
<rect width="391" height="391" fill="#69b35f"/>
<defs><path id="frb" d="M-8.6 182C-7.3 183.8 -2.1 189.5 -0.5 192.8C1.1 196.2 0.4 201 1.1 202.3C1.8 203.7 2.7 203.9 3.6 201C4.4 198 4.5 188.9 6.3 184.7C8.1 180.6 11.7 176.8 14.4 176.1C17.1 175.4 20.5 178.3 22.5 180.7C24.5 183 25.3 186.5 26.5 190.1C27.8 193.7 28 200.3 29.8 202.3C31.6 204.3 35.6 203 37.3 202.3C39.1 201.6 38.9 199.3 40.1 198.3C41.2 197.2 42.8 195.4 44.1 196.1C45.5 196.8 46.1 201.3 48.2 202.3C50.2 203.3 54.5 203.9 56.3 202.3C58.1 200.7 56.9 195.2 59 192.8C61 190.5 65.5 188 68.4 188C71.4 188 74.5 190.2 76.5 192.8C78.6 195.5 78.6 201.9 80.6 203.7C82.6 205.5 86.7 205.9 88.7 203.7C90.7 201.4 90.5 193.4 92.8 190.1C95 186.9 99.8 184.9 102.2 184.2C104.7 183.5 106.5 185.3 107.6 186.1C108.8 186.9 108.4 188.3 109.3 188.8C110.1 189.2 111.4 189.7 112.5 188.8C113.6 187.9 113.9 184.8 115.7 183.4C117.6 181.9 121.2 179.5 123.9 180.1C126.6 180.8 129.7 184.4 132 187.4C134.2 190.5 135.1 194.7 137.4 198.3C139.6 201.9 142.9 205.5 145.5 209.1C148.1 212.7 150.7 218.1 153.1 219.9C155.4 221.7 157.2 222.1 159.5 219.9C161.9 217.6 164.7 210.9 167.1 206.4C169.5 201.9 171.2 196.5 173.9 192.8C176.6 189.2 180.2 184.6 183.3 184.2C186.5 183.7 190.2 186.9 192.8 190.1C195.4 193.4 197.2 201.4 199 203.7C200.9 205.9 202.2 204.8 203.9 203.7C205.5 202.5 207 198.3 209 196.9C211 195.6 213.5 195.3 215.8 195.6C218 195.8 220.8 197.1 222.5 198.3C224.2 199.4 224.8 201.6 226 202.3C227.3 203 228.4 204.8 229.8 202.3C231.3 199.8 232.5 192.2 234.7 187.4C236.9 182.7 240.8 176.7 242.8 173.9C244.8 171.1 245.1 170.5 246.9 170.7C248.7 170.9 251.1 172.5 253.6 175.3C256.1 178.1 259.2 182.7 261.7 187.4C264.3 192.2 265.9 201 268.8 203.7C271.6 206.4 276.6 205.9 279 203.7C281.5 201.4 281.1 193.2 283.4 190.1C285.7 187.1 290.1 185.8 292.8 185.3C295.5 184.7 298 186.3 299.6 186.9C301.2 187.5 301.2 188.5 302.3 188.8C303.3 189.1 304.9 189.2 305.8 188.8C306.7 188.3 306.2 186.9 307.7 186.1C309.1 185.3 311.7 183.5 314.4 184.2C317.2 184.9 321.3 186.7 323.9 190.1C326.5 193.6 327.2 202.5 329.9 205C332.5 207.5 337 207.5 339.6 205C342.2 202.5 342.7 194.1 345.5 190.1C348.3 186.2 353 182.2 356.4 181.5C359.7 180.8 362.9 183.3 365.8 186.1C368.7 188.9 372.1 194.9 373.9 198.3C375.8 201.6 375 205 376.9 206.4C378.8 207.7 383.6 207.5 385.6 206.4C387.5 205.2 386.9 201.9 388.8 199.6C390.7 197.4 395.6 194 396.9 192.8L396.9 430L-8.6 430Z"/><g id="chb"><path d="M-4 195.7C-3.8 198.2 -2.9 206.7 -2.6 209.2C-2.3 211.6 -2.5 209.9 -2.3 210.2C-2.1 210.5 -1.8 210.8 -1.5 210.9C-1.2 211.1 -0.8 211.2 -0.4 211.2C-0.1 211.2 0.3 211.1 0.6 210.9C0.9 210.7 1.2 210.4 1.4 210.1C1.5 209.7 1.5 211.4 1.6 209C1.7 206.5 1.9 197.9 1.9 195.4C1.9 192.9 1.7 194.4 1.4 194C1.2 193.6 0.8 193.2 0.3 193C-0.1 192.7 -0.7 192.6 -1.2 192.6C-1.6 192.6 -2.2 192.8 -2.6 193.1C-3 193.3 -3.4 193.8 -3.6 194.2C-3.9 194.6 -4.1 193.2 -4 195.7Z"/><path d="M2 353.8C1.4 353.4 0.2 352.8 -0.4 352.5C-1.1 352.2 -1.4 352.1 -1.9 352.1C-2.4 352.1 -2.9 352.3 -3.4 352.5C-3.8 352.8 -4.2 353.2 -4.4 353.6C-4.7 354.1 -4.8 354.6 -4.8 355.1C-4.8 355.6 -4.6 356.1 -4.4 356.6C-4.1 357 -3.9 357.2 -3.3 357.6C-2.7 358 -1.5 358.7 -0.8 359C-0.2 359.3 0.1 359.3 0.6 359.3C1.1 359.3 1.7 359.2 2.1 358.9C2.5 358.7 2.9 358.3 3.1 357.8C3.4 357.4 3.5 356.8 3.5 356.4C3.5 355.9 3.3 355.3 3.1 354.9C2.8 354.5 2.6 354.2 2 353.8Z"/><path d="M29.8 200.8C29.5 206.9 29.4 221 28.5 235.9C27.6 250.7 25.5 274.2 24.4 289.9C23.3 305.7 22.5 319.8 21.7 330.5C20.9 341.2 19.8 349.9 19.6 354.3C19.3 358.6 19.7 355.8 20 356.4C20.3 357.1 20.9 357.7 21.5 358.1C22.1 358.5 22.9 358.8 23.6 358.8C24.3 358.8 25.1 358.7 25.8 358.3C26.4 358 27 357.5 27.4 356.9C27.8 356.3 27.9 359.1 28.1 354.8C28.3 350.4 28.1 341.7 28.6 330.9C29.2 320.2 30.2 306.2 31.4 290.4C32.5 274.6 34.4 251.2 35.4 236.3C36.4 221.4 37.1 207.3 37.3 201.1C37.6 195 37.2 199.8 36.9 199.2C36.6 198.7 36.1 198.1 35.6 197.8C35.1 197.5 34.4 197.2 33.7 197.2C33.1 197.2 32.4 197.3 31.8 197.6C31.3 197.9 30.7 198.4 30.4 198.9C30.1 199.5 30.1 194.6 29.8 200.8Z"/><path d="M48.2 201C48.3 211.7 49.1 245.6 49.3 263.2C49.5 280.7 49.8 296.5 49.6 306.3C49.3 316.2 47.9 319.2 47.7 322.2C47.4 325.3 47.8 323.9 48.1 324.6C48.4 325.2 49 325.9 49.6 326.4C50.2 326.8 51.1 327.1 51.8 327.2C52.6 327.2 53.5 327.1 54.2 326.7C54.8 326.4 55.5 325.8 56 325.2C56.4 324.6 56.5 326.1 56.8 323C57 319.9 57.6 316.4 57.6 306.4C57.6 296.5 57 280.7 56.8 263.1C56.5 245.5 56.4 211.6 56.2 200.9C56 190.2 56 199.5 55.7 198.9C55.3 198.3 54.8 197.8 54.2 197.5C53.6 197.1 52.8 196.9 52.2 196.9C51.5 197 50.7 197.2 50.2 197.5C49.6 197.9 49 198.4 48.7 199C48.4 199.6 48.1 190.3 48.2 201Z"/><path d="M49 320.1C47.9 322.8 45.1 330.8 43.8 335.2C42.4 339.5 41.8 343.1 41 346.3C40.2 349.4 39.1 352.2 38.8 353.8C38.5 355.4 38.8 355.2 39 355.9C39.2 356.5 39.7 357.2 40.2 357.6C40.7 358 41.4 358.3 42 358.5C42.7 358.6 43.5 358.5 44.1 358.3C44.7 358.1 45.4 357.6 45.8 357.1C46.3 356.6 46.5 356.8 46.7 355.2C46.9 353.6 46.7 350.7 47.2 347.6C47.8 344.6 48.5 341.3 49.9 337.1C51.2 332.9 54.5 325.2 55.5 322.4C56.4 319.7 55.7 321.2 55.6 320.7C55.5 320.1 55.2 319.5 54.9 319C54.5 318.6 53.9 318.2 53.4 318C52.9 317.8 52.2 317.7 51.6 317.8C51 317.9 50.4 318.2 50 318.6C49.5 319 50 317.3 49 320.1Z"/><path d="M49.7 322.3C50.5 325.1 53.1 332.9 54.3 337.1C55.4 341.3 56.2 344.7 56.6 347.6C57.1 350.6 56.7 353.4 56.9 355C57 356.5 57.3 356.5 57.7 357C58.1 357.6 58.8 358.1 59.4 358.4C60.1 358.7 60.9 358.8 61.6 358.8C62.3 358.7 63.1 358.4 63.7 358C64.2 357.6 64.8 356.9 65.1 356.2C65.3 355.6 65.6 355.7 65.4 354.1C65.2 352.4 64.7 349.4 64 346.2C63.3 343.1 62.2 339.5 61 335.2C59.7 330.8 57.3 323 56.3 320.2C55.4 317.5 55.8 319.1 55.4 318.7C55 318.3 54.4 318 53.8 317.9C53.2 317.7 52.6 317.8 52 317.9C51.4 318.1 50.9 318.5 50.5 318.9C50.1 319.3 49.8 319.9 49.6 320.5C49.5 321.1 48.9 319.5 49.7 322.3Z"/><path d="M80.4 202.4C80.4 212.9 81 244 81.2 263.2C81.4 282.3 81.5 307.9 81.7 317.2C81.9 326.6 82 318.8 82.3 319.4C82.7 320 83.3 320.6 83.9 320.9C84.5 321.3 85.3 321.5 86.1 321.5C86.8 321.5 87.6 321.3 88.2 320.9C88.8 320.5 89.4 319.9 89.7 319.3C90.1 318.7 90.3 326.5 90.3 317.2C90.3 307.8 90 282.2 89.8 263.1C89.5 243.9 89.2 212.7 88.9 202.3C88.7 191.8 88.7 200.7 88.3 200.1C88 199.5 87.4 198.9 86.8 198.6C86.1 198.2 85.3 198 84.6 198C83.9 198 83.1 198.3 82.5 198.6C81.9 199 81.3 199.6 80.9 200.2C80.6 200.8 80.3 191.9 80.4 202.4Z"/><path d="M82.1 316.5C81.5 319.1 80.1 325.6 79.3 330.2C78.6 334.8 77.9 340 77.7 344.1C77.4 348.2 77.6 352.7 77.7 354.9C77.8 357 78 356.4 78.4 356.9C78.8 357.5 79.5 358.1 80.1 358.4C80.8 358.7 81.6 358.8 82.3 358.8C83 358.7 83.8 358.4 84.4 358C85 357.6 85.5 357 85.8 356.4C86.1 355.7 86.4 356.2 86.2 354.2C86 352.2 84.6 348.2 84.6 344.4C84.6 340.5 85.5 335.7 86.2 331.3C86.9 326.9 88.4 320.4 88.9 317.9C89.3 315.4 88.9 316.6 88.8 316.1C88.6 315.5 88.2 315 87.8 314.6C87.3 314.2 86.7 313.9 86.2 313.8C85.6 313.7 84.9 313.7 84.4 313.9C83.8 314.1 83.2 314.5 82.9 314.9C82.5 315.3 82.7 314 82.1 316.5Z"/><path d="M83.3 318.5C84.2 321 87.2 327.4 88.7 331.8C90.1 336.2 91.3 341.1 92.1 345C92.9 348.9 93 353.2 93.4 355.2C93.8 357.3 93.9 356.6 94.3 357.1C94.7 357.6 95.4 358.1 96 358.3C96.7 358.5 97.4 358.6 98.1 358.5C98.7 358.3 99.5 358 100 357.6C100.5 357.1 100.9 356.5 101.1 355.9C101.4 355.2 101.7 355.9 101.3 353.8C100.9 351.7 99.9 347.5 98.9 343.5C97.8 339.4 96.8 334.2 95.3 329.6C93.7 325 90.9 318.4 89.8 315.9C88.7 313.4 89.2 314.8 88.7 314.5C88.2 314.1 87.6 313.9 87 313.8C86.5 313.7 85.8 313.8 85.3 314C84.7 314.2 84.2 314.6 83.8 315.1C83.5 315.5 83.2 316.1 83.1 316.7C83 317.3 82.4 316 83.3 318.5Z"/><path d="M108.2 187.5C108.4 200.3 109.4 241.6 109.8 263.2C110.3 284.8 110.7 301.6 110.9 317.3C111.2 332.9 111.3 350.4 111.5 357.3C111.6 364.2 111.6 358.3 111.9 358.7C112.1 359.2 112.6 359.6 113 359.8C113.4 360 114 360.2 114.5 360.1C114.9 360.1 115.5 360 115.9 359.7C116.3 359.5 116.7 359.1 117 358.6C117.2 358.2 117.4 364.1 117.3 357.2C117.2 350.2 116.6 332.8 116.2 317.2C115.9 301.5 115.6 284.7 115.2 263.1C114.7 241.5 113.9 200.2 113.5 187.4C113.2 174.5 113.4 186.4 113.2 186.1C112.9 185.7 112.6 185.3 112.2 185.1C111.8 184.9 111.3 184.8 110.8 184.8C110.4 184.8 109.9 184.9 109.5 185.2C109.1 185.4 108.8 185.8 108.5 186.2C108.3 186.5 108 174.7 108.2 187.5Z"/><path d="M151.7 218.4C151.5 221.7 151.5 228.5 151.2 236C150.9 243.4 150 254.1 149.9 263.1C149.7 272 150.6 282.8 150.1 289.9C149.7 297 147.7 302.5 147.2 305.6C146.8 308.6 147.2 307.4 147.5 308.2C147.8 309 148.3 309.8 149 310.3C149.7 310.9 150.6 311.3 151.4 311.4C152.2 311.6 153.2 311.5 154 311.2C154.8 310.9 155.6 310.3 156.2 309.6C156.7 309 156.7 310.4 157.3 307.2C157.9 304 159.3 297.8 159.8 290.5C160.2 283.1 160 272.3 160 263.2C160.1 254.2 160.2 243.7 160.3 236.2C160.4 228.8 160.9 222 160.9 218.7C160.9 215.4 160.7 217 160.3 216.4C160 215.7 159.3 215.1 158.7 214.7C158.1 214.3 157.2 214 156.4 214C155.7 214 154.8 214.2 154.1 214.5C153.5 214.9 152.8 215.5 152.4 216.1C152 216.8 151.9 215.1 151.7 218.4Z"/><path d="M147.7 305C146.5 308 143.5 315.5 141.6 321.4C139.8 327.4 138.1 335.3 136.7 340.6C135.3 346 133.8 351 133.2 353.5C132.6 356.1 133.1 355.3 133.3 356C133.6 356.8 134.1 357.6 134.7 358.1C135.3 358.6 136.1 359.1 136.9 359.2C137.7 359.4 138.7 359.3 139.4 359.1C140.2 358.8 141 358.3 141.5 357.7C142.1 357.1 142.1 358 142.6 355.5C143.1 353 143.4 347.7 144.5 342.5C145.6 337.2 147.5 329.6 149.3 323.8C151.1 318 154.2 310.8 155.2 307.8C156.2 304.8 155.5 306.4 155.4 305.7C155.3 305 154.9 304.3 154.5 303.8C154.1 303.3 153.4 302.9 152.8 302.6C152.2 302.4 151.4 302.3 150.7 302.4C150.1 302.6 149.4 302.9 148.9 303.3C148.3 303.7 148.9 302 147.7 305Z"/><path d="M149.5 307.5C150.5 311 153.6 320 155.7 326.4C157.8 332.7 159.7 340.3 162 345.5C164.4 350.7 168.3 355.4 169.8 357.6C171.3 359.8 170.6 358.5 171.1 358.7C171.5 359 172.2 359.1 172.7 359.1C173.2 359 173.8 358.8 174.3 358.5C174.7 358.3 175.1 357.8 175.4 357.3C175.6 356.8 175.7 356.2 175.7 355.7C175.7 355.2 176.5 356.2 175.2 354.1C173.9 352 170 347.9 167.9 342.9C165.7 338 164.2 330.6 162.3 324.3C160.4 318 157.7 308.7 156.6 305.3C155.5 301.8 156 304.1 155.6 303.6C155.1 303.2 154.5 302.9 153.9 302.7C153.3 302.6 152.5 302.6 151.9 302.8C151.3 303 150.7 303.4 150.3 303.9C149.9 304.3 149.5 305 149.4 305.6C149.3 306.2 148.4 304.1 149.5 307.5Z"/><path d="M139.2 214.6C142.1 215.6 152.4 219 155.4 220C158.3 220.9 156.4 220.2 156.9 220.1C157.4 220 157.9 219.7 158.2 219.4C158.6 219 158.9 218.6 159.1 218.1C159.2 217.6 159.3 217.1 159.2 216.6C159.1 216.1 158.8 215.6 158.5 215.2C158.2 214.9 160.1 215.4 157.2 214.4C154.3 213.4 144 209.9 141 209C138.1 208.1 140 208.8 139.5 208.9C139 209 138.5 209.3 138.1 209.6C137.8 209.9 137.5 210.4 137.3 210.8C137.1 211.3 137.1 211.9 137.2 212.4C137.3 212.8 137.6 213.4 137.9 213.7C138.2 214.1 136.2 213.5 139.2 214.6Z"/><path d="M138.3 236.3C141.5 236.9 151.5 239.3 156.4 239C161.4 238.8 166 235.6 168.1 234.8C170.3 233.9 169.1 234.3 169.4 233.9C169.7 233.5 169.9 233 170 232.5C170.1 232 170 231.5 169.9 231C169.7 230.6 169.4 230.1 169 229.8C168.6 229.5 168.1 229.2 167.6 229.2C167.1 229.1 168 228.6 166.1 229.3C164.2 230 160.6 233 156.2 233.2C151.7 233.4 142.3 230.9 139.2 230.5C136.1 230.1 138.1 230.5 137.7 230.7C137.2 230.8 136.7 231.2 136.4 231.6C136.1 231.9 135.9 232.5 135.8 233C135.8 233.4 135.8 234 136 234.5C136.2 234.9 136.5 235.4 136.9 235.7C137.3 236 135 235.7 138.3 236.3Z"/><path d="M141 252.5C146 253.3 164.4 255.9 169.4 256.6C174.4 257.2 170.5 256.6 170.9 256.4C171.4 256.2 171.8 255.9 172.1 255.5C172.4 255.1 172.7 254.6 172.7 254.1C172.8 253.6 172.7 253 172.5 252.6C172.4 252.1 172 251.7 171.6 251.4C171.2 251.1 175.2 251.5 170.2 250.8C165.3 250 146.8 247.4 141.8 246.7C136.9 246.1 140.8 246.7 140.3 246.9C139.9 247.1 139.4 247.4 139.1 247.8C138.8 248.2 138.6 248.7 138.5 249.2C138.5 249.7 138.5 250.3 138.7 250.7C138.9 251.2 139.2 251.6 139.6 251.9C140 252.2 136.1 251.7 141 252.5Z"/><path d="M142 271.9C146.3 273 162 276.5 166.4 277.3C170.7 278.2 167.6 277.4 168.2 277.3C168.7 277.1 169.3 276.7 169.7 276.3C170.1 275.9 170.4 275.3 170.5 274.7C170.6 274.1 170.6 273.5 170.4 272.9C170.3 272.4 169.9 271.8 169.5 271.4C169 271 172.2 271.6 167.9 270.6C163.5 269.5 147.9 266 143.5 265.2C139.2 264.3 142.3 265.1 141.7 265.2C141.2 265.4 140.6 265.8 140.2 266.2C139.8 266.6 139.5 267.2 139.4 267.8C139.3 268.4 139.3 269 139.5 269.6C139.6 270.1 140 270.7 140.4 271.1C140.9 271.5 137.7 270.9 142 271.9Z"/><path d="M142.8 285C146.9 285.1 161.7 285.1 165.8 285C169.8 284.9 166.8 284.8 167.2 284.6C167.7 284.4 168.1 284 168.3 283.5C168.5 283.1 168.7 282.6 168.7 282.1C168.7 281.6 168.5 281 168.3 280.6C168.1 280.2 167.7 279.8 167.2 279.5C166.8 279.3 169.8 279.2 165.8 279.1C161.7 279.1 146.9 279.1 142.8 279.1C138.7 279.2 141.7 279.3 141.3 279.5C140.9 279.8 140.5 280.2 140.2 280.6C140 281 139.8 281.6 139.8 282.1C139.8 282.6 140 283.1 140.2 283.5C140.5 284 140.9 284.4 141.3 284.6C141.7 284.8 138.7 284.9 142.8 285Z"/><path d="M142.4 295.8C146.3 296.3 160.2 298.1 164 298.5C167.9 298.9 165.1 298.5 165.5 298.3C166 298.1 166.5 297.7 166.7 297.3C167 297 167.3 296.4 167.3 295.9C167.4 295.5 167.3 294.9 167.1 294.4C166.9 294 166.6 293.5 166.2 293.2C165.8 292.9 168.6 293.2 164.8 292.7C160.9 292.1 147 290.4 143.1 290C139.3 289.5 142.1 290 141.6 290.2C141.2 290.4 140.7 290.7 140.4 291.1C140.1 291.5 139.9 292 139.9 292.5C139.8 293 139.9 293.6 140.1 294C140.3 294.5 140.6 294.9 141 295.2C141.4 295.5 138.6 295.2 142.4 295.8Z"/><path d="M158.8 339.3C159.3 342.1 161.2 352.2 161.8 355.1C162.4 357.9 162.1 356 162.4 356.3C162.7 356.6 163.2 356.9 163.6 357C164 357.2 164.5 357.2 164.9 357.1C165.4 357 165.8 356.8 166.2 356.5C166.5 356.2 166.8 355.8 166.9 355.3C167.1 354.9 167.6 356.8 167 354C166.4 351.1 164.2 341.1 163.5 338.3C162.8 335.6 163.2 337.5 163 337.2C162.7 336.9 162.3 336.7 161.9 336.6C161.5 336.4 161.1 336.4 160.7 336.5C160.3 336.6 159.9 336.8 159.6 337C159.3 337.3 159 337.7 158.9 338.1C158.8 338.5 158.3 336.5 158.8 339.3Z"/><path d="M196.9 203.8C197 209.6 197.9 221.8 198.2 236.2C198.6 250.6 198.6 276.7 198.8 290.2C199 303.8 199.1 312.5 199.3 317.3C199.5 322.2 199.6 318.9 200 319.5C200.3 320.1 201 320.6 201.6 321C202.2 321.3 203 321.5 203.7 321.5C204.5 321.5 205.3 321.2 205.9 320.9C206.5 320.5 207 319.9 207.4 319.2C207.7 318.6 208 321.9 207.9 317.1C207.8 312.2 207.1 303.6 206.8 290.1C206.5 276.6 206.6 250.5 206.3 236C206 221.6 205.2 209.2 204.9 203.5C204.6 197.7 204.7 202.1 204.3 201.5C203.9 200.9 203.4 200.4 202.8 200.1C202.2 199.8 201.4 199.6 200.7 199.7C200.1 199.7 199.3 199.9 198.8 200.3C198.2 200.6 197.7 201.2 197.3 201.8C197 202.4 196.7 198.1 196.9 203.8Z"/><path d="M200 316.1C199.1 318.7 196.9 325.3 195.7 329.8C194.4 334.4 193.3 339.6 192.6 343.7C191.9 347.7 191.4 352.1 191.2 354.2C191.1 356.3 191.3 355.7 191.6 356.4C191.9 357 192.5 357.6 193.1 358C193.7 358.4 194.4 358.7 195.2 358.8C195.9 358.8 196.7 358.7 197.3 358.4C198 358.1 198.6 357.5 199 356.9C199.4 356.4 199.6 356.9 199.8 354.9C199.9 352.8 199.6 348.7 200 344.8C200.4 340.9 201.3 336 202.4 331.6C203.5 327.2 205.9 320.8 206.6 318.3C207.4 315.7 206.9 317 206.7 316.5C206.6 315.9 206.3 315.3 205.9 314.9C205.5 314.4 204.9 314.1 204.4 313.9C203.8 313.7 203.2 313.7 202.6 313.8C202 313.9 201.4 314.2 201 314.6C200.6 315 200.9 313.6 200 316.1Z"/><path d="M200.6 318.4C201.5 321 204.4 327.3 205.7 331.8C207 336.2 208.1 341 208.6 344.9C209.1 348.7 208.6 352.8 208.8 354.9C209 356.9 209.1 356.4 209.5 356.9C209.9 357.5 210.6 358.1 211.2 358.4C211.9 358.7 212.7 358.8 213.4 358.8C214.1 358.7 214.9 358.4 215.5 358C216.1 357.6 216.6 357 216.9 356.4C217.2 355.7 217.5 356.3 217.3 354.2C217.2 352.1 216.8 347.7 216 343.6C215.1 339.5 213.8 334.3 212.3 329.7C210.9 325.1 208.2 318.5 207.1 316C206.1 313.4 206.5 314.9 206.1 314.5C205.6 314.1 205 313.9 204.4 313.8C203.9 313.7 203.2 313.8 202.6 314C202.1 314.2 201.6 314.6 201.2 315C200.8 315.5 200.5 316.1 200.5 316.7C200.4 317.2 199.8 315.9 200.6 318.4Z"/><path d="M224.7 202.5C225 208.4 226 221.6 226.6 236.3C227.3 250.9 227.8 272.3 228.8 290.4C229.8 308.4 231.8 333.3 232.9 344.6C234 355.8 234.8 355.4 235.4 357.9C235.9 360.4 235.8 359.1 236.2 359.5C236.5 360 237.1 360.3 237.7 360.5C238.2 360.7 238.9 360.7 239.5 360.6C240 360.5 240.6 360.2 241.1 359.8C241.5 359.4 241.9 358.9 242.1 358.3C242.2 357.8 242.6 358.9 242.2 356.5C241.7 354.1 240.4 355 239.2 343.9C238.1 332.8 236.2 308 235.2 290C234.2 272 233.7 250.6 233 236C232.4 221.3 231.5 208 231.1 202.1C230.7 196.2 230.9 201 230.6 200.6C230.3 200.1 229.9 199.7 229.4 199.5C228.9 199.2 228.3 199.1 227.8 199.1C227.2 199.1 226.6 199.3 226.2 199.6C225.7 199.9 225.3 200.4 225.1 200.9C224.8 201.3 224.5 196.6 224.7 202.5Z"/><path d="M268.8 203.4C268.4 209.3 267.6 226 267.2 235.9C266.8 245.9 266.4 254.1 266.4 263.1C266.3 272.2 266.9 280.4 266.9 290.3C267 300.2 267.2 313.6 266.6 322.5C266.1 331.3 263.8 339.4 263.4 343.6C263 347.7 263.6 346.4 264.1 347.5C264.7 348.7 265.7 349.9 266.7 350.6C267.8 351.4 269.2 351.9 270.5 352C271.8 352.1 273.3 351.9 274.5 351.3C275.7 350.8 276.8 349.8 277.6 348.7C278.3 347.6 278.6 349.2 279 344.9C279.3 340.6 279.7 331.9 279.5 322.8C279.4 313.6 278.5 300 278.2 290.1C277.9 280.1 277.7 272.1 277.6 263.1C277.6 254.2 277.7 246.2 277.9 236.3C278.1 226.4 278.9 209.7 279 203.9C279.1 198 278.8 202.1 278.4 201.3C278 200.5 277.3 199.8 276.6 199.4C275.9 198.9 275 198.6 274.1 198.6C273.3 198.5 272.3 198.8 271.5 199.1C270.8 199.5 270.1 200.2 269.6 200.9C269.1 201.6 269.2 197.6 268.8 203.4Z"/><path d="M266.2 342C264.8 343.4 261.6 347.3 259.9 349C258.3 350.8 257.1 351.7 256.2 352.6C255.4 353.5 255.2 353.8 255 354.5C254.7 355.1 254.7 356 254.8 356.7C255 357.4 255.3 358.1 255.8 358.7C256.3 359.2 257 359.7 257.6 359.9C258.3 360.1 259.1 360.2 259.8 360.1C260.5 359.9 260.8 359.8 261.8 359.1C262.9 358.4 264.3 357.3 266.2 355.7C268.2 354 272 350.7 273.4 349.2C274.9 347.7 274.5 347.7 274.8 346.9C275 346.1 275 345.1 274.8 344.3C274.5 343.5 274 342.6 273.4 342C272.8 341.4 272 340.9 271.2 340.7C270.3 340.5 269.3 340.5 268.5 340.7C267.7 340.9 267.7 340.6 266.2 342Z"/><path d="M271.1 349.1C272.4 350.3 276.1 352.4 277.9 353.9C279.7 355.4 280.9 357.4 281.8 358.3C282.8 359.2 282.8 359.2 283.4 359.4C284 359.6 284.7 359.7 285.3 359.6C286 359.4 286.6 359.1 287.1 358.7C287.6 358.3 288 357.7 288.2 357.2C288.4 356.6 288.5 355.8 288.4 355.2C288.3 354.6 288.4 354.7 287.6 353.5C286.8 352.3 285.2 350 283.4 348.1C281.6 346.2 278.2 343.2 276.7 342C275.3 340.9 275.3 341.2 274.6 341.1C273.8 341 272.9 341.1 272.2 341.3C271.5 341.6 270.8 342.2 270.3 342.7C269.9 343.3 269.5 344.2 269.4 344.9C269.3 345.7 269.4 346.5 269.7 347.2C269.9 348 269.7 348 271.1 349.1Z"/><path d="M301.5 189.6C301.5 202.1 301.5 241.9 301.5 263.1C301.5 284.4 301.6 301.5 301.5 317.2C301.5 332.9 301.2 350.3 301.2 357.2C301.3 364.1 301.4 358.3 301.6 358.7C301.9 359.1 302.3 359.5 302.7 359.8C303.1 360 303.7 360.1 304.2 360.1C304.7 360.1 305.2 360 305.6 359.8C306.1 359.5 306.5 359.1 306.7 358.7C307 358.3 307.1 364.1 307.1 357.2C307.1 350.3 306.9 332.9 306.8 317.2C306.8 301.5 306.9 284.4 306.8 263.1C306.7 241.9 306.4 202.1 306.3 189.6C306.2 177.1 306.2 188.7 306 188.4C305.8 188.1 305.4 187.7 305.1 187.5C304.7 187.3 304.3 187.2 303.9 187.2C303.5 187.2 303 187.3 302.7 187.5C302.4 187.7 302 188.1 301.8 188.4C301.6 188.8 301.6 177.2 301.5 189.6Z"/><path d="M330.4 204.9C330.2 210.5 329.9 224.1 329.6 236C329.4 248 329.3 264 329.1 276.6C328.9 289.2 328.5 305.5 328.5 311.8C328.6 318 328.8 313.5 329.2 314.2C329.6 314.9 330.2 315.6 330.9 316C331.6 316.4 332.5 316.6 333.3 316.6C334.1 316.6 335.1 316.4 335.8 316C336.5 315.6 337.1 314.9 337.5 314.2C337.9 313.6 338.1 318.1 338.2 311.8C338.3 305.6 338.1 289.3 338.2 276.7C338.3 264.1 338.6 248.1 338.7 236.2C338.9 224.2 339.1 210.6 339 205.1C339 199.5 338.8 203.6 338.5 202.9C338.1 202.3 337.5 201.7 336.9 201.3C336.3 201 335.5 200.7 334.8 200.7C334.1 200.7 333.3 200.9 332.6 201.3C332 201.6 331.4 202.2 331.1 202.8C330.7 203.4 330.7 199.4 330.4 204.9Z"/><path d="M329.5 310.7C328.5 313.7 325.9 321.5 324.4 327C322.8 332.5 321.3 339 320.2 343.5C319.2 348 318.6 351.8 318.3 354C318 356.1 318.3 355.5 318.6 356.2C318.9 356.8 319.4 357.5 320 357.9C320.5 358.3 321.3 358.7 322 358.8C322.7 358.9 323.5 358.7 324.2 358.5C324.9 358.2 325.5 357.7 326 357.1C326.4 356.6 326.5 357.1 326.8 355.1C327.1 353.1 326.8 349.3 327.6 345C328.4 340.7 330.1 334.4 331.6 329C333.1 323.7 335.8 315.9 336.7 312.9C337.5 309.9 336.9 311.6 336.8 311C336.6 310.4 336.3 309.7 335.9 309.3C335.4 308.8 334.8 308.4 334.2 308.2C333.6 308 332.9 308 332.3 308.1C331.7 308.3 331 308.6 330.6 309C330.1 309.5 330.6 307.7 329.5 310.7Z"/><path d="M330.3 312.9C331.1 315.9 333.8 323.6 335.2 329C336.5 334.3 337.9 340.5 338.6 344.9C339.3 349.2 338.9 352.9 339.1 355C339.3 357 339.5 356.5 339.9 357C340.3 357.6 341 358.1 341.6 358.4C342.3 358.7 343.1 358.8 343.8 358.8C344.5 358.7 345.3 358.4 345.9 358C346.5 357.6 347 356.9 347.3 356.3C347.6 355.6 347.9 356.2 347.6 354.1C347.4 352 346.9 348.1 346 343.6C345.1 339.1 343.8 332.6 342.4 327.1C341 321.6 338.5 313.7 337.5 310.7C336.5 307.7 336.9 309.5 336.5 309.1C336 308.6 335.4 308.3 334.8 308.2C334.2 308 333.4 308 332.8 308.2C332.2 308.4 331.6 308.8 331.2 309.2C330.8 309.7 330.4 310.3 330.3 310.9C330.1 311.5 329.5 309.9 330.3 312.9Z"/><path d="M375.9 206.1C375.5 211.5 374.7 224.2 374.2 235.9C373.7 247.6 373.1 263.9 372.9 276.6C372.7 289.2 372.8 305.5 372.9 311.8C373 318.1 373.1 313.6 373.6 314.3C374 315.1 374.7 315.8 375.4 316.2C376.2 316.6 377.1 316.9 378 316.9C378.8 316.9 379.8 316.6 380.5 316.2C381.3 315.8 382 315.1 382.4 314.3C382.8 313.6 383 318.1 383.1 311.8C383.2 305.5 382.9 289.3 383.1 276.7C383.3 264.2 384 248 384.4 236.3C384.8 224.6 385.4 211.9 385.5 206.6C385.6 201.2 385.3 204.9 385 204.1C384.6 203.4 384 202.7 383.3 202.3C382.6 201.9 381.7 201.6 380.9 201.5C380.1 201.5 379.2 201.7 378.5 202.1C377.7 202.5 377.1 203.1 376.6 203.8C376.2 204.4 376.3 200.8 375.9 206.1Z"/><path d="M373.9 310.5C372.7 313.4 369.5 321.4 367.7 326.8C365.8 332.3 364.2 338.8 363 343.3C361.8 347.8 360.9 351.6 360.5 353.7C360.1 355.8 360.4 355.1 360.6 355.8C360.9 356.4 361.3 357.1 361.8 357.5C362.3 357.9 363 358.3 363.6 358.4C364.3 358.6 365.1 358.5 365.7 358.3C366.3 358.1 367 357.7 367.5 357.2C367.9 356.7 367.9 357.3 368.4 355.3C368.9 353.3 369.2 349.5 370.3 345.2C371.3 340.8 373 334.5 374.8 329.2C376.6 323.9 379.9 316.1 380.9 313.1C382 310.1 381.2 311.8 381.1 311.2C381 310.6 380.7 309.9 380.3 309.4C380 309 379.4 308.5 378.8 308.3C378.2 308.1 377.5 308 376.9 308.1C376.2 308.2 375.6 308.5 375.1 308.9C374.6 309.3 375.2 307.5 373.9 310.5Z"/><path d="M375 313.1C376.1 316.1 379.5 324.3 381.2 329.2C382.9 334.2 383.7 339.2 385 342.9C386.3 346.7 388.1 349.9 389 351.6C389.9 353.3 389.9 352.8 390.5 353.2C391.1 353.6 391.9 353.9 392.6 353.9C393.3 354 394.1 353.8 394.8 353.5C395.4 353.2 396 352.6 396.4 352C396.8 351.4 397.1 350.6 397.1 349.9C397.2 349.2 397.4 349.4 396.7 347.7C395.9 346.1 394 343.6 392.6 340.1C391.2 336.6 390 331.7 388.3 326.8C386.5 321.9 383.3 313.4 382 310.5C380.8 307.5 381.4 309.3 380.9 308.9C380.4 308.5 379.7 308.2 379.1 308.1C378.5 308 377.8 308.1 377.2 308.3C376.6 308.5 376 309 375.6 309.4C375.2 309.9 374.9 310.6 374.8 311.2C374.7 311.8 374 310.1 375 313.1Z"/></g><clipPath id="clb"><use href="#frb" transform="translate(0,-0.5)"/></clipPath><clipPath id="c0b"><use href="#frb"/></clipPath><linearGradient id="cg_b" gradientUnits="userSpaceOnUse" x1="0" y1="0" x2="0" y2="391"><stop offset="0.3836" stop-color="#2e2e2e"/><stop offset="0.6394" stop-color="#2a2a2a"/><stop offset="0.8696" stop-color="#262626"/><stop offset="0.9719" stop-color="#242424"/></linearGradient></defs><g filter="url(#cmap)"><rect x="-5" y="-5" width="401" height="401" fill="#808080"/><use href="#frb" fill="#b2b2b2" stroke="#b2b2b2" stroke-width="6" filter="url(#gb5)"/><use href="#frb" fill="#e6e6e6" stroke="#e6e6e6" stroke-width="3.0" filter="url(#gb25)"/><use href="#frb" fill="#ffffff" stroke="#ffffff" stroke-width="1.0" filter="url(#gb05)"/><path d="M-6.5 181.3L4.4 181.3L-1.0 198.6ZM27.3 185.0L39.8 185.0L33.6 204.0ZM45.7 191.2L58.7 191.2L52.2 204.0ZM77.9 189.2L91.4 189.2L84.7 205.3ZM106.6 181.2L115.1 181.2L110.9 190.4ZM149.2 205.4L163.4 205.4L156.3 221.5ZM194.4 189.3L207.4 189.3L200.9 206.7ZM222.2 186.3L233.6 186.3L227.9 205.3ZM266.3 189.4L281.5 189.4L273.9 206.7ZM300.4 184.9L307.4 184.9L303.9 192.6ZM327.9 190.8L341.5 190.8L334.7 208.0ZM373.4 192.0L388.0 192.0L380.7 209.4Z" fill="#f2f2f2" filter="url(#gb25)"/><g filter="url(#gb07)"><use href="#frb" fill="url(#cg_b)"/><g clip-path="url(#c0b)"><path d="M16.5 183.3L16.5 350.0M16.5 187.3L5.1 178.1M16.5 197.2L28.9 187.3M16.5 207.8L4.5 198.1M16.5 218.3L25.1 211.4M16.5 227.2L3.5 216.7M16.5 236.7L29.4 226.4M16.5 244.3L5.8 235.7M16.5 252.4L27.6 243.5M16.5 261.7L8.0 254.9M16.5 269.7L26.3 261.8M16.5 280.1L4.4 270.4M16.5 287.9L28.9 278.1M16.5 295.6L5.1 286.5M16.5 303.3L25.0 296.5M16.5 313.6L7.1 306.1M16.5 321.6L29.8 311.0M16.5 331.9L6.7 324.1M16.5 342.6L27.6 333.7M42.9 202.7L42.9 350.0M42.9 206.7L38.6 203.3M42.9 217.3L48.2 213.1M42.9 228.0L37.1 223.4M42.9 236.3L47.5 232.6M42.9 244.1L38.8 240.8M42.9 251.5L47.4 247.9M42.9 260.9L39.1 257.8M42.9 270.5L47.4 266.9M42.9 278.8L37.3 274.4M42.9 287.8L47.4 284.2M42.9 296.7L37.5 292.4M42.9 304.1L48.8 299.3M42.9 311.4L37.4 307.0M42.9 321.6L46.7 318.6M42.9 331.7L38.3 328.0M42.9 341.0L46.7 337.9M68.4 194.0L68.4 350.0M68.4 198.0L59.7 191.0M68.4 208.6L77.3 201.5M68.4 218.5L56.2 208.8M68.4 229.1L78.0 221.5M68.4 237.6L58.1 229.3M68.4 247.6L76.9 240.9M68.4 257.5L56.8 248.2M68.4 267.8L76.5 261.3M68.4 278.4L60.1 271.7M68.4 286.8L79.2 278.2M68.4 297.3L58.9 289.7M68.4 307.9L78.9 299.5M68.4 316.2L59.0 308.7M68.4 324.0L76.7 317.4M68.4 331.8L57.3 322.9M68.4 342.5L77.1 335.6M97.8 193.0L97.8 350.0M97.8 197.0L88.2 189.4M97.8 206.1L105.3 200.1M97.8 214.2L89.6 207.6M97.8 224.4L105.4 218.2M97.8 233.1L91.5 228.1M97.8 243.6L104.0 238.6M97.8 252.5L88.7 245.3M97.8 260.2L106.4 253.3M97.8 270.8L89.5 264.2M97.8 280.9L104.2 275.7M97.8 289.6L91.2 284.4M97.8 299.9L104.9 294.2M97.8 308.7L88.2 301.0M97.8 319.0L107.3 311.4M97.8 327.8L90.0 321.6M97.8 337.6L105.5 331.4M97.8 345.9L90.3 339.9M133.6 196.7L133.6 350.0M133.6 200.7L119.2 189.1M133.6 211.4L152.0 196.7M133.6 220.9L118.3 208.7M133.6 229.3L146.0 219.4M133.6 237.5L116.4 223.7M133.6 247.8L147.9 236.4M133.6 257.9L116.4 244.1M133.6 267.6L150.0 254.4M133.6 277.5L119.3 266.0M133.6 287.2L147.4 276.2M133.6 296.2L116.5 282.5M133.6 305.9L147.4 294.8M133.6 316.5L117.3 303.4M133.6 325.8L145.5 316.2M133.6 334.9L120.0 324.1M133.6 344.5L148.6 332.5M178.6 194.5L178.6 350.0M178.6 198.5L162.6 185.8M178.6 208.6L192.5 197.4M178.6 218.1L162.0 204.9M178.6 228.3L192.5 217.1M178.6 238.5L161.1 224.6M178.6 248.2L196.8 233.7M178.6 258.8L163.5 246.8M178.6 268.0L191.3 257.8M178.6 278.2L160.7 263.8M178.6 287.1L194.9 274.1M178.6 296.9L162.1 283.7M178.6 304.7L195.5 291.2M178.6 314.0L162.5 301.1M178.6 322.7L194.4 310.1M178.6 332.7L162.7 320.0M178.6 342.5L190.4 333.1M214.4 201.8L214.4 350.0M214.4 205.8L206.5 199.5M214.4 215.4L221.5 209.7M214.4 225.0L205.8 218.1M214.4 232.4L222.5 225.9M214.4 240.4L207.9 235.2M214.4 248.1L221.9 242.1M214.4 255.9L207.4 250.3M214.4 263.3L222.4 256.8M214.4 271.8L205.9 265.0M214.4 281.2L221.6 275.4M214.4 291.6L208.1 286.6M214.4 300.3L221.8 294.4M214.4 308.9L207.7 303.6M214.4 319.1L222.1 313.0M214.4 326.5L205.9 319.6M214.4 334.0L222.7 327.4M214.4 342.4L206.0 335.7M250.9 179.4L250.9 350.0M250.9 183.4L233.2 169.3M250.9 192.1L268.6 178.0M250.9 201.7L236.3 190.0M250.9 209.4L267.1 196.4M250.9 218.6L232.2 203.7M250.9 229.3L267.2 216.3M250.9 237.7L232.7 223.2M250.9 245.0L263.7 234.8M250.9 254.2L234.6 241.2M250.9 261.9L267.3 248.8M250.9 272.3L236.3 260.6M250.9 281.1L264.5 270.2M250.9 289.3L232.1 274.3M250.9 297.9L269.6 282.9M250.9 308.4L234.8 295.4M250.9 316.5L269.8 301.4M250.9 325.5L236.0 313.6M250.9 333.8L269.8 318.7M250.9 342.8L236.9 331.6M288.9 193.3L288.9 350.0M288.9 197.3L281.2 191.1M288.9 206.7L298.0 199.5M288.9 215.0L278.4 206.6M288.9 225.2L296.2 219.4M288.9 234.3L280.5 227.6M288.9 244.8L299.4 236.5M288.9 252.9L280.6 246.3M288.9 260.7L300.3 251.6M288.9 268.9L279.1 261.1M288.9 277.9L298.8 269.9M288.9 287.2L278.6 279.0M288.9 294.9L299.3 286.5M288.9 303.1L279.5 295.6M288.9 311.5L297.4 304.8M288.9 320.7L279.7 313.3M288.9 329.2L299.2 320.9M288.9 338.5L281.5 332.6M319.3 193.3L319.3 350.0M319.3 197.3L309.9 189.7M319.3 207.8L330.6 198.7M319.3 216.9L311.8 210.9M319.3 226.9L328.6 219.5M319.3 236.2L308.8 227.8M319.3 245.7L328.9 238.0M319.3 256.2L310.2 248.9M319.3 264.8L330.5 255.8M319.3 272.7L310.6 265.7M319.3 282.9L327.0 276.7M319.3 293.1L308.9 284.7M319.3 301.8L328.0 294.9M319.3 311.8L307.9 302.7M319.3 319.6L328.8 311.9M319.3 328.7L309.7 321.0M319.3 337.1L327.4 330.6M357.7 188.2L357.7 350.0M357.7 192.2L340.0 178.0M357.7 199.6L371.3 188.7M357.7 209.7L340.2 195.7M357.7 219.3L369.9 209.6M357.7 229.1L338.9 214.1M357.7 239.9L374.6 226.4M357.7 247.3L339.8 233.0M357.7 255.3L374.2 242.1M357.7 265.9L340.7 252.3M357.7 273.6L371.7 262.4M357.7 284.1L344.7 273.7M357.7 293.5L372.6 281.6M357.7 301.3L341.4 288.2M357.7 308.6L370.4 298.5M357.7 317.2L345.2 307.2M357.7 324.6L373.7 311.8M357.7 334.5L339.6 320.0M357.7 342.2L372.7 330.2M390.1 204.5L390.1 350.0M390.1 208.5L384.9 204.3M390.1 217.4L396.1 212.6M390.1 226.0L386.1 222.8M390.1 235.7L394.4 232.3M390.1 245.2L385.1 241.2M390.1 255.7L395.3 251.5M390.1 265.1L385.7 261.5M390.1 274.3L394.6 270.7M390.1 284.2L385.1 280.1M390.1 291.9L394.6 288.3M390.1 300.4L384.6 296.0M390.1 308.2L395.6 303.8M390.1 317.8L386.1 314.5M390.1 327.4L394.2 324.1M390.1 335.0L384.9 330.9M390.1 343.1L396.0 338.4" stroke="#212121" stroke-width="1.6" fill="none" stroke-linecap="round" filter="url(#gb1)"/></g><g fill="#383838" filter="url(#gb2)"><ellipse cx="-1.9" cy="361.0" rx="3.6" ry="7.0"/><ellipse cx="23.8" cy="361.8" rx="5.0" ry="7.0"/><ellipse cx="42.8" cy="361.5" rx="4.7" ry="7.0"/><ellipse cx="61.1" cy="361.8" rx="5.0" ry="7.0"/><ellipse cx="82.0" cy="361.8" rx="5.0" ry="7.0"/><ellipse cx="97.4" cy="361.5" rx="4.7" ry="7.0"/><ellipse cx="114.4" cy="363.1" rx="3.6" ry="7.0"/><ellipse cx="137.9" cy="362.3" rx="5.5" ry="7.0"/><ellipse cx="172.5" cy="362.1" rx="3.9" ry="7.0"/><ellipse cx="164.4" cy="360.2" rx="3.4" ry="7.0"/><ellipse cx="195.5" cy="361.8" rx="5.0" ry="7.0"/><ellipse cx="213.1" cy="361.8" rx="5.0" ry="7.0"/><ellipse cx="238.8" cy="363.7" rx="4.2" ry="7.0"/><ellipse cx="271.2" cy="355.0" rx="8.5" ry="7.0"/><ellipse cx="259.0" cy="363.1" rx="5.0" ry="7.0"/><ellipse cx="284.7" cy="362.6" rx="4.4" ry="7.0"/><ellipse cx="304.2" cy="363.1" rx="3.6" ry="7.0"/><ellipse cx="322.6" cy="361.8" rx="5.0" ry="7.0"/><ellipse cx="343.4" cy="361.8" rx="5.0" ry="7.0"/><ellipse cx="364.5" cy="361.5" rx="4.7" ry="7.0"/><ellipse cx="392.8" cy="356.9" rx="5.0" ry="7.0"/></g><use href="#chb" fill="#333333" stroke="#333333" stroke-width="7" filter="url(#gb15)" clip-path="url(#c0b)"/><use href="#chb" fill="#4c4c4c" stroke="#4c4c4c" stroke-width="3.5" filter="url(#gb07)" clip-path="url(#c0b)"/><use href="#chb" fill="#fff" clip-path="url(#clb)"/><rect x="-5" y="379.5" width="401" height="30" fill="#101010"/></g></g>
</svg>
<rect x="544.50" y="45.00" width="391.80" height="391.30" fill="none" stroke="#111" stroke-width="1.3"/>
<path d="M544.50 45.00v-5.5M544.50 436.30v5.5M544.50 436.30h-5.5M936.30 436.30h5.5M560.17 45.00v-2.6M560.17 436.30v2.6M544.50 420.65h-2.6M936.30 420.65h2.6M575.84 45.00v-2.6M575.84 436.30v2.6M544.50 405.00h-2.6M936.30 405.00h2.6M591.52 45.00v-2.6M591.52 436.30v2.6M544.50 389.34h-2.6M936.30 389.34h2.6M607.19 45.00v-2.6M607.19 436.30v2.6M544.50 373.69h-2.6M936.30 373.69h2.6M622.86 45.00v-5.5M622.86 436.30v5.5M544.50 358.04h-5.5M936.30 358.04h5.5M638.53 45.00v-2.6M638.53 436.30v2.6M544.50 342.39h-2.6M936.30 342.39h2.6M654.20 45.00v-2.6M654.20 436.30v2.6M544.50 326.74h-2.6M936.30 326.74h2.6M669.88 45.00v-2.6M669.88 436.30v2.6M544.50 311.08h-2.6M936.30 311.08h2.6M685.55 45.00v-2.6M685.55 436.30v2.6M544.50 295.43h-2.6M936.30 295.43h2.6M701.22 45.00v-5.5M701.22 436.30v5.5M544.50 279.78h-5.5M936.30 279.78h5.5M716.89 45.00v-2.6M716.89 436.30v2.6M544.50 264.13h-2.6M936.30 264.13h2.6M732.56 45.00v-2.6M732.56 436.30v2.6M544.50 248.48h-2.6M936.30 248.48h2.6M748.24 45.00v-2.6M748.24 436.30v2.6M544.50 232.82h-2.6M936.30 232.82h2.6M763.91 45.00v-2.6M763.91 436.30v2.6M544.50 217.17h-2.6M936.30 217.17h2.6M779.58 45.00v-5.5M779.58 436.30v5.5M544.50 201.52h-5.5M936.30 201.52h5.5M795.25 45.00v-2.6M795.25 436.30v2.6M544.50 185.87h-2.6M936.30 185.87h2.6M810.92 45.00v-2.6M810.92 436.30v2.6M544.50 170.22h-2.6M936.30 170.22h2.6M826.60 45.00v-2.6M826.60 436.30v2.6M544.50 154.56h-2.6M936.30 154.56h2.6M842.27 45.00v-2.6M842.27 436.30v2.6M544.50 138.91h-2.6M936.30 138.91h2.6M857.94 45.00v-5.5M857.94 436.30v5.5M544.50 123.26h-5.5M936.30 123.26h5.5M873.61 45.00v-2.6M873.61 436.30v2.6M544.50 107.61h-2.6M936.30 107.61h2.6M889.28 45.00v-2.6M889.28 436.30v2.6M544.50 91.96h-2.6M936.30 91.96h2.6M904.96 45.00v-2.6M904.96 436.30v2.6M544.50 76.30h-2.6M936.30 76.30h2.6M920.63 45.00v-2.6M920.63 436.30v2.6M544.50 60.65h-2.6M936.30 60.65h2.6M936.30 45.00v-5.5M936.30 436.30v5.5M544.50 45.00h-5.5M936.30 45.00h5.5" stroke="#222" stroke-width="1" fill="none"/>
<svg x="971.50" y="45.00" width="391.50" height="391.30" viewBox="0 0 391 391" preserveAspectRatio="none" overflow="hidden">
<rect width="391" height="391" fill="#69b35f"/>
<defs><path id="frc" d="M-8.8 33.3C-7.4 34.7 -2.4 41.4 -0.5 41.6C1.4 41.9 0.4 36.6 2.3 34.7C4.1 32.8 7.6 30.4 10.6 30C13.6 29.5 17.5 30.4 20.3 31.9C23.1 33.4 25.2 35.6 27.3 38.9C29.3 42.1 30.5 49.3 32.8 51.4C35.1 53.4 39.3 52.1 41.1 51.4C43 50.7 42.8 48.4 43.9 47.2C45.1 46 46.8 43.7 48.1 44.4C49.4 45.1 50.3 50.2 51.7 51.4C53.1 52.5 54.9 52.7 56.4 51.4C57.9 50 58.7 45.1 60.6 43C62.4 40.9 64.7 39.1 67.5 38.9C70.3 38.6 75.1 39.6 77.2 41.6C79.4 43.7 79.1 49.7 80.6 51.4C82 53 84.6 53 86.1 51.4C87.6 49.7 88 44.2 89.7 41.6C91.5 39.1 94.4 36.6 96.7 36.1C99 35.6 101.8 37.5 103.6 38.9C105.5 40.3 106.2 43.5 107.8 44.4C109.3 45.3 111.4 45.6 112.8 44.4C114.2 43.3 114.6 39.3 116.1 37.5C117.6 35.6 119.3 33.6 121.7 33.3C124 33 127.7 34.1 130 35.5C132.3 36.9 133.2 38.8 135.5 41.6C137.8 44.5 140.9 49.1 143.9 52.7C146.9 56.4 151 61.5 153.6 63.3C156.1 65.1 157.1 66 159.1 63.3C161.2 60.6 163.1 51.3 166.1 47.2C169.1 43.1 173 39.8 177.2 38.9C181.3 37.9 187.7 39.4 191.1 41.6C194.4 43.9 194.9 50.4 197.2 52.2C199.5 54 203.2 52.8 204.9 52.2C206.7 51.6 206.6 49.5 207.7 48.6C208.9 47.7 210.3 46.8 211.9 46.6C213.5 46.5 216 47 217.4 47.8C218.9 48.5 219.4 50.8 220.8 51.4C222.2 52 223.8 54.4 225.8 51.4C227.8 48.4 229.2 38.3 232.7 33.3C236.2 28.4 242.4 22.3 246.6 21.7C250.7 21 254.5 25.8 257.7 29.2C260.9 32.5 263.9 37.8 266 41.6C268.1 45.5 268.3 50.4 270.2 52.2C272 54 275.5 54 277.1 52.2C278.7 50.4 277.1 45 279.9 41.6C282.7 38.3 290.2 32.9 293.8 31.9C297.4 30.9 299.6 34.9 301.6 35.5C303.5 36.1 303.5 35.7 305.4 35.5C307.4 35.4 310.3 33.7 313.2 34.7C316.1 35.7 320.2 38.5 322.9 41.6C325.7 44.7 327.7 51.4 329.9 53.3C332 55.2 333.7 55.2 336 53.3C338.3 51.4 340.6 44.7 343.8 41.6C346.9 38.5 350.7 34.7 354.9 34.7C359 34.7 365 38.9 368.7 41.6C372.4 44.4 374.5 49.7 377.1 51.4C379.6 53 382.2 53 384 51.4C385.9 49.7 386.6 43.3 388.2 41.6C389.8 40 390.9 42.6 393.7 41.6C396.5 40.7 403 37 404.8 36.1L404.8 430L-8.8 430Z"/><g id="chc"><path d="M33.2 51.2C32.8 61.5 32 87.1 31.2 110.9C30.4 134.7 29.7 166.4 28.5 194.2C27.2 221.9 24.7 254.3 23.5 277.4C22.3 300.6 22 320.4 21.2 333C20.5 345.6 19.3 349.1 19 352.9C18.7 356.6 19.2 354.6 19.5 355.4C19.9 356.1 20.6 356.8 21.2 357.3C21.9 357.7 22.8 358 23.7 358C24.5 358.1 25.4 357.9 26.2 357.5C26.9 357.2 27.6 356.5 28 355.8C28.5 355.1 28.7 357.2 28.8 353.4C29 349.7 28.5 345.9 28.8 333.3C29.2 320.7 29.9 301 31.1 277.8C32.3 254.7 34.8 222.3 36.1 194.5C37.4 166.7 38.1 135 38.8 111.2C39.6 87.3 40.5 61.8 40.8 51.5C41 41.2 40.6 50.1 40.3 49.6C40 49 39.5 48.5 39 48.1C38.5 47.8 37.7 47.6 37.1 47.6C36.5 47.5 35.7 47.7 35.2 48C34.6 48.3 34.1 48.8 33.7 49.3C33.4 49.9 33.6 41 33.2 51.2Z"/><path d="M49.8 51.4C50 70.9 51.1 128.9 51.2 166.6C51.4 204.3 51 251.7 50.7 277.6C50.3 303.5 49.4 314.2 49.3 322C49.1 329.7 49.5 323.5 49.8 324.2C50.2 324.8 50.8 325.4 51.4 325.8C52 326.2 52.8 326.4 53.6 326.4C54.3 326.4 55.1 326.2 55.7 325.9C56.4 325.5 57 324.9 57.4 324.3C57.8 323.7 57.8 329.9 58 322.1C58.2 314.4 58.1 303.6 58.3 277.7C58.4 251.7 59 204.3 58.8 166.6C58.7 128.8 57.8 70.8 57.4 51.3C57.1 31.8 57.2 50 56.9 49.4C56.6 48.9 56.1 48.3 55.5 48C54.9 47.7 54.2 47.5 53.6 47.6C53 47.6 52.2 47.8 51.7 48.1C51.1 48.4 50.6 48.9 50.3 49.5C50 50 49.7 31.9 49.8 51.4Z"/><path d="M50 320.8C48.7 324.3 44.9 335.1 43.1 340.3C41.2 345.5 39.6 349.5 38.9 351.9C38.2 354.2 38.7 353.5 38.9 354.3C39 355 39.5 355.8 40 356.4C40.6 356.9 41.3 357.4 42.1 357.6C42.8 357.8 43.7 357.8 44.5 357.6C45.2 357.5 46 357 46.6 356.5C47.1 355.9 47.2 356.7 47.8 354.4C48.4 352.1 48.7 347.9 50.3 342.7C51.9 337.5 56 326.9 57.2 323.3C58.4 319.8 57.5 322 57.4 321.4C57.3 320.7 57 320.1 56.5 319.6C56.1 319.1 55.5 318.7 54.9 318.5C54.3 318.2 53.6 318.2 53 318.3C52.3 318.4 51.7 318.7 51.2 319.1C50.7 319.6 51.4 317.2 50 320.8Z"/><path d="M50.8 322.9C51.5 326.5 54.6 337.1 55.5 342.2C56.3 347.3 55.7 351.4 56 353.7C56.2 356 56.4 355.3 56.9 355.9C57.3 356.5 58 357.1 58.7 357.4C59.5 357.7 60.4 357.8 61.1 357.7C61.9 357.7 62.7 357.3 63.4 356.9C64 356.4 64.5 355.7 64.8 355C65.1 354.3 65.5 355 65.2 352.6C64.9 350.2 64.1 346 62.9 340.7C61.8 335.5 59.1 324.7 58.2 321.1C57.2 317.6 57.7 319.9 57.2 319.4C56.8 319 56.2 318.6 55.5 318.4C54.9 318.2 54.2 318.2 53.6 318.3C53 318.5 52.3 318.8 51.8 319.3C51.4 319.7 51 320.4 50.8 321C50.6 321.6 50 319.4 50.8 322.9Z"/><path d="M79 51.4C79 71 79.4 128.9 79.8 166.6C80.2 204.3 80.8 250.8 81.2 277.7C81.6 304.6 81.8 319 82 327.7C82.3 336.5 82.3 329.5 82.8 330.2C83.2 330.9 83.9 331.5 84.6 331.9C85.3 332.3 86.3 332.5 87.1 332.5C87.9 332.5 88.8 332.2 89.5 331.8C90.2 331.4 90.9 330.7 91.3 329.9C91.7 329.2 92.1 336.2 91.9 327.5C91.6 318.7 90.5 304.4 89.9 277.5C89.4 250.7 88.9 204.2 88.5 166.5C88.2 128.8 87.9 70.9 87.7 51.3C87.5 31.8 87.5 49.8 87.1 49.2C86.7 48.5 86.1 47.9 85.5 47.6C84.9 47.2 84 47 83.3 47C82.6 47 81.8 47.2 81.1 47.6C80.5 48 79.9 48.6 79.5 49.2C79.2 49.8 78.9 31.8 79 51.4Z"/><path d="M82.7 326.8C81.9 329.9 79.9 339.3 79 343.6C78.2 348 77.8 350.9 77.6 352.8C77.4 354.8 77.7 354.5 78.1 355.2C78.4 355.9 79 356.6 79.7 357C80.3 357.4 81.2 357.7 81.9 357.8C82.7 357.8 83.6 357.6 84.3 357.3C85 356.9 85.7 356.3 86.1 355.7C86.5 355.1 86.8 355.2 86.9 353.4C86.9 351.6 86 349 86.5 344.9C87.1 340.7 89.5 331.5 90.1 328.4C90.7 325.3 90.2 327 90 326.4C89.8 325.8 89.4 325.2 89 324.8C88.5 324.3 87.8 324 87.2 323.9C86.6 323.7 85.8 323.8 85.2 324C84.6 324.2 84 324.6 83.6 325C83.1 325.5 83.4 323.7 82.7 326.8Z"/><path d="M84.3 329.2C85.6 332.2 90.3 341.4 91.7 345.6C93.1 349.7 92.3 352.3 92.7 354.1C93 355.9 93.3 355.7 93.8 356.3C94.3 356.8 95.1 357.3 95.8 357.6C96.6 357.8 97.5 357.8 98.2 357.7C99 357.5 99.8 357.1 100.3 356.6C100.9 356 101.4 355.3 101.6 354.5C101.9 353.8 102.2 354.1 101.8 352.1C101.3 350.2 100.6 347.3 98.9 342.9C97.1 338.6 92.7 329.1 91.3 326C89.8 323 90.5 324.9 90 324.5C89.5 324.1 88.8 323.9 88.2 323.8C87.5 323.7 86.8 323.9 86.2 324.1C85.6 324.4 85.1 324.9 84.7 325.4C84.3 325.9 84.1 326.6 84 327.2C83.9 327.8 83 326.1 84.3 329.2Z"/><path d="M107.9 44.5C108 65 108.8 127.7 109.2 166.6C109.7 205.5 110.3 246.6 110.6 277.7C111 308.8 111.2 340.3 111.5 353.2C111.7 366.1 111.6 354.4 111.9 354.8C112.2 355.3 112.7 355.7 113.1 356C113.6 356.2 114.2 356.4 114.8 356.4C115.3 356.4 115.9 356.2 116.4 355.9C116.9 355.6 117.3 355.2 117.6 354.7C117.8 354.2 118.2 365.9 118 353.1C117.7 340.2 116.6 308.7 116 277.6C115.5 246.5 115.1 205.4 114.6 166.5C114.2 127.7 113.5 65 113.2 44.4C113 23.8 113.1 43.4 112.9 43C112.6 42.7 112.3 42.3 111.9 42.1C111.5 41.8 111 41.7 110.5 41.7C110.1 41.7 109.6 41.9 109.2 42.1C108.8 42.3 108.4 42.7 108.2 43.1C108 43.5 107.7 23.9 107.9 44.5Z"/><path d="M152 63C151.4 71.4 149.4 93.7 149.2 111C149 128.3 150.9 152.8 150.6 166.6C150.3 180.5 147.7 189 147.3 194.2C146.9 199.4 147.6 196.7 148.2 197.8C148.7 198.8 149.7 199.8 150.7 200.4C151.7 201.1 153.1 201.5 154.3 201.5C155.5 201.5 156.8 201.2 157.9 200.6C158.9 200 159.9 199 160.5 198C161.1 197 161.8 199.7 161.6 194.5C161.4 189.2 159.9 180.4 159.3 166.5C158.7 152.6 157.7 128.3 157.9 111.1C158.2 93.9 160.3 71.8 160.7 63.6C161.1 55.3 160.6 62 160.3 61.3C159.9 60.7 159.4 60.1 158.8 59.7C158.1 59.3 157.3 59 156.6 58.9C155.9 58.9 155 59.1 154.4 59.4C153.7 59.7 153.1 60.3 152.7 60.9C152.3 61.5 152.6 54.7 152 63Z"/><path d="M148 195.9C150.5 196.3 158 197.2 160.5 197.3C163.1 197.4 162.6 197 163.4 196.5C164.2 196.1 165 195.3 165.5 194.4C166 193.6 166.3 192.5 166.3 191.6C166.3 190.6 166 189.5 165.5 188.7C165 187.9 164.2 187.1 163.4 186.6C162.6 186.1 163.1 185.7 160.5 185.8C158 185.9 150.5 186.9 148 187.2C145.6 187.5 146.5 187.4 145.8 187.8C145.2 188.1 144.6 188.7 144.2 189.4C143.9 190 143.7 190.8 143.7 191.6C143.7 192.3 143.9 193.1 144.2 193.7C144.6 194.4 145.2 195 145.8 195.3C146.5 195.7 145.6 195.6 148 195.9Z"/><path d="M150.1 224.7C151.6 225.4 155.3 226.9 157 227.4C158.6 228 159 227.9 160 227.8C160.9 227.7 161.9 227.2 162.7 226.6C163.4 226 164.1 225.1 164.5 224.2C164.8 223.3 165 222.2 164.8 221.3C164.7 220.3 164.2 219.3 163.7 218.5C163.1 217.8 162.8 217.5 161.3 216.8C159.7 216 156 214.5 154.3 214C152.7 213.5 152.3 213.5 151.4 213.6C150.4 213.8 149.4 214.2 148.6 214.8C147.9 215.4 147.2 216.3 146.9 217.2C146.5 218.1 146.4 219.2 146.5 220.1C146.6 221.1 147.1 222.1 147.7 222.9C148.3 223.6 148.5 223.9 150.1 224.7Z"/><path d="M148.4 234.7C150.5 235.3 157.2 237 159.5 237.4C161.7 237.9 161 237.6 161.7 237.4C162.4 237.2 163.2 236.8 163.7 236.2C164.2 235.7 164.6 235 164.8 234.3C164.9 233.6 164.9 232.7 164.7 232C164.5 231.3 164.1 230.6 163.6 230.1C163 229.6 163.8 229.6 161.6 229C159.4 228.3 152.7 226.6 150.5 226.2C148.2 225.7 148.9 226 148.2 226.2C147.5 226.4 146.8 226.9 146.3 227.4C145.8 227.9 145.4 228.7 145.2 229.4C145 230.1 145 230.9 145.2 231.6C145.4 232.3 145.9 233.1 146.4 233.6C146.9 234.1 146.2 234 148.4 234.7Z"/><path d="M148.1 242.2C147.7 243.9 148 246.5 148 248.1C148 249.7 147.8 250.7 148.1 251.8C148.4 253 149.2 254.2 150 255C150.9 255.8 152.1 256.5 153.2 256.8C154.4 257.1 155.8 257.1 156.9 256.7C158.1 256.4 159.3 255.7 160.1 254.8C160.9 254 161.1 253 161.9 251.6C162.7 250.2 164.2 248 164.6 246.4C165.1 244.8 164.9 243.3 164.6 242C164.2 240.6 163.3 239.2 162.3 238.2C161.3 237.2 159.8 236.4 158.4 236C157 235.7 155.4 235.7 154 236.1C152.6 236.5 151.2 237.4 150.2 238.4C149.2 239.4 148.4 240.6 148.1 242.2Z"/><path d="M146 245.2C149.1 245.7 159.6 247.5 162.7 247.9C165.8 248.4 164 248 164.6 247.7C165.2 247.5 165.7 247.1 166.1 246.6C166.5 246.2 166.8 245.5 166.9 244.9C167 244.3 166.9 243.6 166.7 243C166.5 242.4 166.1 241.9 165.6 241.5C165.2 241.1 167 241.3 163.9 240.7C160.8 240.1 150.3 238.3 147.2 237.9C144.2 237.5 145.9 237.9 145.4 238.1C144.8 238.3 144.2 238.7 143.8 239.2C143.4 239.7 143.1 240.3 143 240.9C142.9 241.5 143 242.2 143.2 242.8C143.4 243.4 143.8 244 144.3 244.4C144.8 244.8 143 244.6 146 245.2Z"/><path d="M147.9 267.7C148.2 269.7 149.4 274 150 275.9C150.6 277.8 150.7 278.1 151.4 278.9C152.1 279.8 153.1 280.5 154.1 280.9C155.1 281.3 156.4 281.4 157.4 281.2C158.5 281 159.6 280.5 160.5 279.8C161.3 279.1 162 278.1 162.4 277.1C162.8 276.1 162.8 275.7 162.7 273.8C162.7 271.8 162.4 267.3 162 265.3C161.6 263.4 161.2 262.9 160.5 262C159.7 261.1 158.6 260.2 157.5 259.8C156.4 259.4 155 259.3 153.8 259.5C152.6 259.7 151.3 260.2 150.4 261C149.5 261.8 148.7 262.9 148.3 264C147.9 265.1 147.6 265.7 147.9 267.7Z"/><path d="M147.9 286.5C148 289.3 149 296.1 149.2 300.2C149.5 304.2 149.1 308.7 149.2 310.9C149.3 313.2 149.5 313 150 313.8C150.5 314.6 151.3 315.4 152.1 315.9C152.9 316.4 154 316.7 155 316.7C155.9 316.7 157 316.4 157.8 315.9C158.7 315.4 159.5 314.6 160 313.8C160.4 313 160.6 313.3 160.7 310.9C160.8 308.6 160.9 303.8 160.7 299.5C160.5 295.3 159.7 288.2 159.3 285.4C158.9 282.6 158.8 283.4 158.3 282.6C157.7 281.8 156.8 281.1 155.9 280.7C155.1 280.3 154 280.1 153 280.2C152.1 280.3 151 280.7 150.2 281.3C149.4 281.8 148.7 282.7 148.3 283.6C147.9 284.5 147.7 283.8 147.9 286.5Z"/><path d="M151.4 309.6C149.8 313.6 145.5 324.8 142.8 331.8C140.1 338.8 136.6 347.9 135.3 351.6C134 355.3 135 353.3 135.1 354C135.3 354.8 135.7 355.6 136.2 356.2C136.7 356.8 137.4 357.3 138.2 357.5C138.9 357.8 139.8 357.8 140.6 357.7C141.3 357.6 142.2 357.2 142.7 356.6C143.3 356.1 142.8 358.3 144.1 354.7C145.4 351 148.1 341.6 150.5 334.5C152.9 327.5 157.2 316.3 158.5 312.3C159.9 308.2 158.8 310.9 158.7 310.3C158.6 309.7 158.3 309 157.9 308.5C157.5 308 156.9 307.6 156.3 307.4C155.7 307.1 155 307.1 154.3 307.2C153.7 307.3 153 307.6 152.5 308C152.1 308.4 153 305.6 151.4 309.6Z"/><path d="M151.9 312.2C153.3 316.2 157.9 328.8 160 334.3C162.1 339.9 163.5 343.3 164.4 345.4C165.3 347.5 165 346.4 165.4 346.8C165.8 347.1 166.4 347.4 166.9 347.5C167.5 347.6 168.1 347.5 168.6 347.3C169.1 347.1 169.6 346.7 170 346.3C170.3 345.9 170.6 345.3 170.7 344.8C170.8 344.3 171.2 345.2 170.5 343.1C169.8 341 168.5 337.5 166.6 332C164.7 326.4 160.6 313.7 159.1 309.7C157.7 305.7 158.5 308.5 158 308.1C157.5 307.6 156.9 307.3 156.2 307.2C155.6 307.1 154.9 307.1 154.3 307.3C153.7 307.6 153.1 308 152.6 308.5C152.2 308.9 151.9 309.6 151.8 310.2C151.7 310.9 150.6 308.2 151.9 312.2Z"/><path d="M156.5 347.4C156.5 348.7 156.6 352.9 156.7 354.4C156.9 355.8 157 355.5 157.4 355.9C157.7 356.4 158.2 356.7 158.7 357C159.2 357.2 159.8 357.3 160.4 357.2C160.9 357.1 161.5 356.9 161.9 356.6C162.4 356.2 162.7 355.7 163 355.2C163.2 354.8 163.4 355 163.2 353.6C163 352.2 162.1 348.1 161.8 346.7C161.5 345.3 161.6 345.8 161.3 345.4C161 345.1 160.6 344.7 160.2 344.5C159.8 344.4 159.3 344.3 158.8 344.4C158.4 344.4 157.9 344.6 157.5 344.9C157.2 345.1 156.8 345.6 156.7 346C156.5 346.4 156.4 346 156.5 347.4Z"/><path d="M171.4 348.4a3.5 3.5 0 1 0 7.1 0a3.5 3.5 0 1 0 -7.1 0Z"/><path d="M197.2 52.2C197 71.6 196.4 129 196.4 166.6C196.4 204.2 197.1 252.2 197.2 277.7C197.4 303.1 197.1 312 197.2 319.3C197.4 326.7 197.5 321.1 197.9 321.8C198.4 322.5 199 323.2 199.8 323.6C200.5 324 201.4 324.2 202.2 324.2C203.1 324.2 204 323.9 204.7 323.5C205.4 323.1 206.1 322.4 206.5 321.7C206.9 321 207.2 326.5 207.1 319.2C207 311.9 206.3 303 206 277.6C205.7 252.1 205.1 204.1 205.1 166.6C205.1 129 205.9 71.6 206 52.2C206 32.8 205.8 50.7 205.4 50C205 49.4 204.4 48.8 203.8 48.4C203.2 48.1 202.4 47.8 201.6 47.8C200.9 47.8 200.1 48 199.5 48.4C198.8 48.8 198.2 49.4 197.8 50C197.5 50.6 197.5 32.7 197.2 52.2Z"/><path d="M197.9 318.4C197 322 194.5 332.4 193.4 338.1C192.3 343.8 191.7 349.9 191.4 352.8C191.2 355.6 191.5 354.4 191.9 355.1C192.2 355.8 192.8 356.5 193.4 357C194.1 357.4 194.9 357.7 195.7 357.8C196.5 357.8 197.4 357.7 198.1 357.3C198.8 357 199.5 356.4 199.9 355.8C200.3 355.1 200.5 356.2 200.7 353.5C200.9 350.8 200.2 344.9 200.9 339.3C201.7 333.8 204.6 323.6 205.3 320.1C206 316.6 205.4 318.8 205.3 318.1C205.1 317.5 204.7 316.9 204.2 316.5C203.7 316 203.1 315.7 202.5 315.6C201.8 315.4 201.1 315.4 200.5 315.6C199.9 315.8 199.3 316.2 198.8 316.7C198.4 317.1 198.8 314.9 197.9 318.4Z"/><path d="M199.2 320.7C200.5 324.2 205.2 334.3 206.9 339.9C208.6 345.5 208.7 351.4 209.3 354.2C209.9 356.9 209.9 355.7 210.4 356.3C211 356.9 211.7 357.3 212.5 357.6C213.2 357.8 214.1 357.8 214.9 357.7C215.6 357.5 216.4 357.1 217 356.5C217.6 356 218 355.2 218.3 354.5C218.5 353.8 219 354.9 218.3 352.1C217.7 349.3 216.1 343.2 214.1 337.5C212.1 331.8 207.8 321.4 206.3 317.9C204.8 314.3 205.6 316.7 205.1 316.3C204.6 315.9 203.9 315.6 203.3 315.5C202.6 315.4 201.9 315.5 201.3 315.7C200.7 316 200.1 316.4 199.7 316.9C199.3 317.4 199 318.1 199 318.7C198.9 319.4 197.9 317.2 199.2 320.7Z"/><path d="M221.1 51.4C221.4 70.9 222.2 128.9 223.3 166.7C224.5 204.4 226.6 246.5 228.1 277.8C229.5 309 231.4 341.2 232.2 354.2C233 367.3 232.5 355.5 232.9 356.1C233.2 356.6 233.8 357.1 234.3 357.4C234.9 357.7 235.6 357.8 236.3 357.8C236.9 357.7 237.6 357.5 238.1 357.1C238.7 356.8 239.2 356.2 239.4 355.7C239.7 355.1 240.7 366.8 239.8 353.7C239 340.7 236.2 308.7 234.6 277.5C232.9 246.2 231 204.2 229.8 166.5C228.7 128.8 228.1 70.8 227.6 51.3C227.2 31.8 227.4 50.1 227.2 49.7C226.9 49.2 226.4 48.8 225.9 48.5C225.5 48.2 224.9 48.1 224.3 48.1C223.8 48.1 223.2 48.3 222.7 48.6C222.2 48.9 221.8 49.3 221.5 49.8C221.3 50.3 220.8 31.9 221.1 51.4Z"/><path d="M268.3 52.2C268 71.7 267.8 129 267.2 166.5C266.6 204.1 265.3 252.1 264.7 277.5C264.1 302.9 263.6 311.6 263.6 319.1C263.5 326.6 263.9 321.5 264.4 322.4C264.9 323.4 265.8 324.3 266.8 324.9C267.7 325.5 269 325.8 270.1 325.9C271.1 325.9 272.4 325.6 273.4 325C274.3 324.5 275.3 323.6 275.8 322.7C276.4 321.7 276.5 326.9 276.8 319.4C277 311.9 277 303.2 277.3 277.7C277.6 252.3 278.5 204.2 278.7 166.6C278.9 129.1 278.8 71.7 278.7 52.2C278.6 32.7 278.5 50.4 278 49.6C277.6 48.9 276.9 48.1 276.1 47.7C275.4 47.3 274.4 47 273.5 47C272.7 47 271.7 47.3 270.9 47.7C270.2 48.1 269.5 48.8 269 49.6C268.6 50.3 268.6 32.7 268.3 52.2Z"/><path d="M264.3 317.9C263.1 322 260 334.5 258.5 340.2C257 345.8 255.7 349.4 255.2 351.8C254.6 354.1 254.9 353.5 255.1 354.3C255.3 355.1 255.8 356 256.4 356.6C256.9 357.1 257.8 357.6 258.6 357.9C259.3 358.1 260.3 358.1 261.1 357.9C261.9 357.7 262.7 357.2 263.3 356.7C263.9 356.1 263.9 356.8 264.6 354.5C265.4 352.2 266.4 348.4 268 342.8C269.6 337.2 273.3 324.8 274.4 320.6C275.4 316.5 274.6 318.8 274.4 318C274.2 317.1 273.7 316.2 273 315.6C272.4 315 271.6 314.5 270.7 314.3C269.9 314 268.9 314 268 314.2C267.2 314.5 266.3 315 265.7 315.6C265.1 316.2 265.5 313.8 264.3 317.9Z"/><path d="M266.9 320.7C268.1 324.9 272.3 337.2 274.4 342.9C276.4 348.6 278.2 352.5 279.2 354.8C280.2 357.1 280 356.1 280.5 356.6C281.1 357 281.9 357.4 282.6 357.5C283.3 357.6 284.2 357.5 284.9 357.2C285.5 356.9 286.2 356.4 286.7 355.8C287.1 355.2 287.5 354.5 287.6 353.7C287.7 353 288.1 353.8 287.3 351.5C286.5 349.2 284.5 345.7 282.6 340.1C280.8 334.4 277.6 321.9 276.3 317.8C275 313.7 275.5 316.2 274.9 315.6C274.3 315.1 273.4 314.6 272.6 314.5C271.8 314.3 270.9 314.3 270.1 314.6C269.3 314.8 268.5 315.3 268 315.9C267.4 316.5 267 317.4 266.8 318.2C266.6 319 265.6 316.6 266.9 320.7Z"/><path d="M301.4 35.5C301.3 57.6 301.1 126.2 301.1 166.6C301 206.9 301.2 246.5 301.1 277.6C301 308.7 300.5 340.3 300.5 353.1C300.5 366 300.7 354.2 300.9 354.6C301.2 355.1 301.6 355.5 302 355.7C302.4 356 303 356.1 303.5 356.1C304 356.1 304.6 356 305 355.7C305.4 355.5 305.8 355.1 306.1 354.6C306.3 354.2 306.5 366 306.5 353.1C306.4 340.3 306 308.7 305.9 277.6C305.8 246.5 306 206.9 305.9 166.6C305.9 126.2 305.7 57.6 305.6 35.5C305.5 13.5 305.5 34.8 305.4 34.5C305.2 34.2 304.9 33.9 304.6 33.7C304.3 33.5 303.9 33.4 303.5 33.4C303.1 33.4 302.7 33.5 302.4 33.7C302.1 33.9 301.8 34.2 301.6 34.5C301.5 34.8 301.4 13.5 301.4 35.5Z"/><path d="M328 53.4C328.1 72.6 328.9 129.2 329.1 166.6C329.3 204 329.2 252.2 329.1 277.6C329.1 303.1 328.8 311.9 328.8 319.3C328.9 326.6 329.1 321.1 329.5 321.9C330 322.6 330.7 323.3 331.4 323.8C332.2 324.2 333.2 324.5 334 324.5C334.9 324.5 335.9 324.2 336.6 323.8C337.4 323.3 338.1 322.6 338.5 321.9C339 321.1 339.2 326.6 339.2 319.3C339.3 311.9 339 303.1 339 277.6C338.9 252.2 339.2 203.9 339 166.5C338.7 129.1 337.7 72.5 337.3 53.2C336.9 34 337 51.6 336.6 50.9C336.2 50.3 335.6 49.6 334.9 49.3C334.2 48.9 333.4 48.7 332.6 48.7C331.8 48.7 330.9 48.9 330.3 49.3C329.6 49.7 329 50.4 328.6 51C328.2 51.7 327.9 34.1 328 53.4Z"/><path d="M329.6 318.1C328.4 321.7 325.1 332 323.4 337.7C321.7 343.3 319.9 349.3 319.2 352.1C318.6 354.9 319.1 353.8 319.3 354.5C319.6 355.2 320 356 320.6 356.5C321.2 357.1 322 357.5 322.7 357.7C323.5 357.8 324.4 357.8 325.1 357.6C325.9 357.3 326.6 356.9 327.2 356.3C327.7 355.7 327.7 356.9 328.3 354.2C328.9 351.4 329.3 345.4 330.8 339.7C332.2 334.1 335.8 324 336.8 320.4C337.9 316.9 337.1 319.1 336.9 318.4C336.8 317.8 336.4 317.2 336 316.7C335.6 316.2 335 315.8 334.3 315.6C333.7 315.4 333 315.4 332.4 315.5C331.8 315.7 331.1 316 330.6 316.5C330.2 316.9 330.8 314.6 329.6 318.1Z"/><path d="M331.3 320.5C332.4 324 336.4 334.1 337.9 339.7C339.3 345.3 339.3 351.3 339.7 354C340.2 356.8 340.3 355.6 340.8 356.2C341.3 356.8 342.1 357.3 342.8 357.5C343.5 357.8 344.4 357.8 345.2 357.7C345.9 357.5 346.8 357.2 347.3 356.6C347.9 356.1 348.4 355.4 348.7 354.7C348.9 353.9 349.4 355.1 348.9 352.3C348.3 349.4 346.9 343.4 345.2 337.7C343.5 332 339.8 321.6 338.5 318C337.2 314.5 337.9 316.8 337.4 316.4C336.9 316 336.2 315.7 335.6 315.5C335 315.4 334.2 315.5 333.6 315.7C333 315.9 332.4 316.3 332 316.8C331.6 317.2 331.3 317.9 331.1 318.5C331 319.2 330.1 317 331.3 320.5Z"/><path d="M375.5 51.3C375.2 71 374.6 128.9 374.6 166.6C374.7 204.3 375.7 252.2 376 277.7C376.4 303.2 376.6 312 376.9 319.5C377.2 326.9 377.2 321.5 377.7 322.3C378.2 323.1 379.1 323.9 379.9 324.3C380.8 324.8 381.9 325 382.8 325C383.8 325 384.8 324.7 385.7 324.2C386.5 323.6 387.2 322.8 387.7 322C388.1 321.1 388.6 326.5 388.4 319.1C388.2 311.7 387 302.9 386.4 277.5C385.9 252.1 385.2 204.2 385 166.6C384.9 128.9 385.4 71 385.3 51.4C385.3 31.8 385.1 49.6 384.7 48.9C384.3 48.2 383.6 47.5 382.9 47.1C382.2 46.7 381.2 46.4 380.4 46.4C379.6 46.4 378.7 46.7 378 47.1C377.2 47.5 376.6 48.2 376.2 48.9C375.7 49.6 375.7 31.7 375.5 51.3Z"/><path d="M377.2 317.5C375.6 321.1 371.7 331.4 369.2 337C366.6 342.6 363.3 348.5 362 351.2C360.8 354 361.6 352.7 361.6 353.5C361.7 354.2 361.9 355 362.4 355.6C362.8 356.2 363.4 356.8 364.1 357.1C364.7 357.4 365.6 357.5 366.3 357.5C367 357.4 367.8 357.2 368.4 356.7C369 356.3 368.5 357.8 369.9 355C371.3 352.3 374.1 346.1 376.6 340.4C379.2 334.7 383.8 324.6 385.2 321C386.7 317.4 385.7 319.5 385.6 318.8C385.5 318 385.2 317.2 384.7 316.7C384.3 316.1 383.6 315.5 383 315.3C382.3 315 381.4 314.8 380.7 314.9C380 315 379.2 315.3 378.6 315.8C378 316.2 378.8 314 377.2 317.5Z"/><path d="M379.7 320.2C380.4 323.8 382.8 334.3 383.9 339.7C385.1 345.1 386.1 350 386.8 352.5C387.4 355 387.4 354.1 388 354.7C388.6 355.2 389.4 355.7 390.2 355.9C391 356.2 392 356.2 392.8 355.9C393.6 355.7 394.4 355.3 395 354.7C395.6 354.1 396 353.3 396.3 352.5C396.5 351.7 396.9 352.4 396.3 349.9C395.6 347.5 393.8 343 392.4 337.7C391.1 332.4 389.1 321.9 388.3 318.4C387.4 314.8 387.7 316.9 387.2 316.3C386.8 315.8 386 315.3 385.4 315.1C384.7 314.9 383.8 314.8 383.1 315C382.4 315.2 381.6 315.5 381.1 316C380.5 316.5 380.1 317.2 379.9 317.9C379.6 318.6 379.1 316.6 379.7 320.2Z"/><path d="M-1.8 72.5C-1.6 74.6 -0.7 81.6 -0.4 83.6C-0.1 85.7 -0.1 84.6 0.1 84.9C0.4 85.3 0.8 85.6 1.2 85.8C1.6 85.9 2.2 86 2.6 86C3.1 85.9 3.5 85.7 3.9 85.4C4.3 85.2 4.6 84.8 4.8 84.3C4.9 83.9 5.2 85 5 83C4.8 80.9 3.9 73.9 3.6 71.8C3.2 69.8 3.3 70.9 3 70.6C2.8 70.2 2.4 69.9 1.9 69.7C1.5 69.5 1 69.4 0.6 69.5C0.1 69.6 -0.4 69.8 -0.7 70C-1.1 70.3 -1.4 70.7 -1.6 71.1C-1.8 71.5 -2 70.4 -1.8 72.5Z"/><path d="M-1.3 119.4a3 3 0 1 0 6 0a3 3 0 1 0 -6 0Z"/><path d="M-1.5 353.1a3.3 3.3 0 1 0 6.5 0a3.3 3.3 0 1 0 -6.5 0Z"/><path d="M33.8 67.1C33 67.7 31.2 69.1 30 70.3C28.9 71.4 27.5 73.1 26.8 74.1C26.2 75 26.3 75.2 26.3 75.7C26.3 76.3 26.5 77 26.7 77.5C27 78 27.4 78.4 27.9 78.7C28.4 79 29 79.2 29.6 79.3C30.2 79.3 30.8 79.1 31.3 78.9C31.8 78.6 32.1 78.5 32.6 77.7C33.1 76.8 33.3 74.9 34.1 73.9C34.9 72.9 36.6 72.3 37.3 71.7C38 71.1 38.1 70.9 38.2 70.5C38.4 70.1 38.5 69.5 38.4 69C38.4 68.6 38.2 68 37.9 67.7C37.6 67.3 37.1 66.9 36.7 66.8C36.3 66.6 35.7 66.5 35.2 66.6C34.7 66.6 34.7 66.5 33.8 67.1Z"/><path d="M33.7 84C33.1 84.8 31.7 87.2 31 87.9C30.2 88.6 29.6 88.2 29.1 88.4C28.6 88.7 28.3 89.1 28.1 89.5C27.9 89.9 27.8 90.5 27.8 90.9C27.9 91.4 28 91.9 28.3 92.3C28.5 92.7 28.9 93 29.4 93.2C29.8 93.4 30.3 93.5 30.8 93.5C31.2 93.5 31.5 93.5 32.1 93.1C32.7 92.6 33.3 92 34.2 91C35.1 89.9 36.8 87.7 37.5 86.8C38.1 86 37.9 86.1 37.9 85.7C38 85.3 37.9 84.9 37.7 84.5C37.6 84.2 37.3 83.8 37 83.6C36.7 83.3 36.3 83.2 35.9 83.1C35.5 83.1 35 83.1 34.7 83.3C34.3 83.4 34.3 83.3 33.7 84Z"/><path d="M34 96.8C32.8 97.5 30 99.9 28.4 100.8C26.8 101.7 25.2 101.8 24.4 102.2C23.5 102.6 23.4 102.9 23.1 103.4C22.8 103.8 22.6 104.4 22.6 105C22.6 105.5 22.7 106.2 23 106.7C23.2 107.2 23.7 107.6 24.1 107.9C24.6 108.2 25.2 108.4 25.8 108.4C26.3 108.5 26.5 108.6 27.4 108.1C28.3 107.5 29.6 106.4 31.2 105.3C32.8 104.2 36 102.2 37.2 101.4C38.3 100.6 37.9 100.7 38.1 100.3C38.3 99.9 38.4 99.3 38.4 98.9C38.3 98.4 38.2 97.9 37.9 97.5C37.6 97.1 37.2 96.8 36.8 96.6C36.4 96.4 35.8 96.3 35.4 96.3C34.9 96.3 35.2 96 34 96.8Z"/><path d="M33.3 113.4C32.6 114.2 31.1 116.5 30.2 117.4C29.3 118.3 28.3 118.4 27.7 118.9C27.1 119.4 26.9 119.9 26.8 120.4C26.6 121 26.6 121.7 26.8 122.3C26.9 122.8 27.2 123.4 27.6 123.8C28.1 124.3 28.6 124.6 29.2 124.8C29.8 124.9 30.5 124.9 31 124.8C31.6 124.7 32 124.5 32.6 123.9C33.2 123.3 33.6 122.3 34.5 121.1C35.3 120 37.2 118 37.9 117.1C38.6 116.1 38.4 116.1 38.5 115.7C38.6 115.2 38.5 114.6 38.3 114.1C38.2 113.7 37.8 113.2 37.4 112.9C37.1 112.6 36.5 112.4 36 112.3C35.5 112.2 35 112.3 34.5 112.5C34.1 112.6 34 112.5 33.3 113.4Z"/><path d="M34.1 130.1C33.1 130.8 30.7 132.9 29.3 133.9C27.9 135 26.5 135.6 25.7 136.2C25 136.7 25.1 136.9 24.9 137.4C24.7 137.8 24.7 138.4 24.7 138.8C24.8 139.3 25.1 139.8 25.3 140.2C25.6 140.5 26.1 140.8 26.5 141C27 141.2 27.5 141.2 28 141.2C28.5 141.1 28.6 141.2 29.3 140.5C30 139.9 30.9 138.6 32.2 137.5C33.5 136.4 36.1 134.6 37.1 133.8C38 133.1 37.7 133.2 37.8 132.8C38 132.5 38 132 38 131.6C37.9 131.2 37.7 130.8 37.5 130.5C37.2 130.2 36.9 129.9 36.5 129.7C36.1 129.6 35.7 129.5 35.3 129.6C34.9 129.6 35.1 129.3 34.1 130.1Z"/><path d="M33.3 143.8C32.6 144.5 31.2 146 30.2 147.2C29.2 148.5 27.9 150.2 27.4 151.2C26.8 152.1 27 152.4 27 153.1C27 153.7 27.3 154.4 27.6 154.9C28 155.5 28.5 155.9 29.1 156.2C29.6 156.5 30.4 156.7 31 156.6C31.6 156.6 32.3 156.4 32.9 156C33.4 155.7 33.8 155.4 34.2 154.5C34.5 153.7 34.6 151.8 35.2 150.7C35.8 149.7 37.3 148.9 37.9 148.2C38.5 147.6 38.6 147.3 38.7 146.8C38.8 146.3 38.8 145.6 38.7 145.1C38.5 144.6 38.2 144.1 37.8 143.7C37.4 143.3 36.9 143 36.4 142.9C35.9 142.8 35.2 142.8 34.7 142.9C34.2 143.1 34.1 143.1 33.3 143.8Z"/><path d="M34 160.8C32.8 161.4 30.2 162.7 28.6 164C27 165.3 25.1 167.3 24.3 168.4C23.4 169.4 23.6 169.6 23.5 170.2C23.4 170.8 23.5 171.6 23.8 172.2C24 172.8 24.5 173.4 25 173.8C25.5 174.2 26.2 174.4 26.8 174.5C27.5 174.6 28.2 174.5 28.8 174.3C29.4 174 29.7 174 30.4 173C31 172.1 31.5 169.8 32.6 168.7C33.8 167.6 36.2 167 37.2 166.4C38.1 165.9 38.1 165.7 38.4 165.3C38.7 164.8 38.8 164.2 38.8 163.6C38.8 163.1 38.7 162.5 38.4 162C38.2 161.5 37.7 161.1 37.3 160.8C36.8 160.5 36.2 160.4 35.6 160.3C35.1 160.3 35.2 160.1 34 160.8Z"/><path d="M34.6 175.5C33.3 175.9 30.3 176.9 28.5 177.8C26.8 178.6 24.8 179.7 23.8 180.4C22.9 181.1 22.9 181.4 22.7 182C22.4 182.6 22.3 183.3 22.4 184C22.5 184.6 22.8 185.3 23.2 185.8C23.6 186.3 24.2 186.7 24.8 186.9C25.4 187.2 26.1 187.3 26.7 187.2C27.4 187.1 27.8 187.1 28.6 186.4C29.3 185.7 30 184 31.4 183.2C32.7 182.4 35.5 182 36.6 181.5C37.7 181.1 37.7 181 38 180.6C38.4 180.2 38.6 179.7 38.7 179.1C38.8 178.6 38.8 178 38.6 177.5C38.4 177 38.1 176.5 37.7 176.1C37.3 175.8 36.7 175.5 36.2 175.4C35.7 175.3 35.8 175.1 34.6 175.5Z"/><path d="M34.2 189.7C33 190.3 30.2 192.4 28.6 193.2C26.9 194 25.4 194.2 24.5 194.6C23.6 195.1 23.6 195.3 23.3 195.8C23 196.2 22.8 196.9 22.8 197.4C22.8 197.9 22.9 198.6 23.2 199C23.4 199.5 23.9 200 24.3 200.3C24.8 200.6 25.4 200.8 25.9 200.8C26.5 200.8 26.7 200.9 27.6 200.4C28.5 199.9 29.6 198.7 31.2 197.8C32.7 196.8 35.9 195.2 37 194.4C38.1 193.7 37.8 193.8 38 193.4C38.2 193 38.4 192.5 38.4 192C38.3 191.6 38.2 191 38 190.7C37.7 190.3 37.3 189.9 36.9 189.7C36.5 189.4 36 189.3 35.6 189.3C35.1 189.3 35.3 189 34.2 189.7Z"/><path d="M80.8 62.9C81.5 63.6 83.2 64.9 83.9 66C84.7 67 84.9 68.5 85.4 69.2C85.8 70 86.1 70.1 86.6 70.3C87.1 70.5 87.7 70.7 88.2 70.6C88.7 70.6 89.3 70.4 89.7 70.1C90.2 69.8 90.6 69.3 90.8 68.9C91.1 68.4 91.2 67.8 91.1 67.3C91.1 66.7 91.2 66.4 90.6 65.7C90.1 65 88.9 63.8 87.9 62.8C86.9 61.7 85.5 59.9 84.7 59.2C84 58.5 84 58.6 83.5 58.5C83.1 58.4 82.6 58.4 82.2 58.5C81.7 58.6 81.3 58.8 80.9 59.1C80.6 59.4 80.4 59.9 80.2 60.3C80.1 60.7 80.1 61.3 80.2 61.7C80.3 62.1 80.2 62.2 80.8 62.9Z"/><path d="M80.4 82.7C81.2 83.5 83.3 85.2 84.2 86.4C85.1 87.7 85.4 89.5 86 90.4C86.5 91.2 86.9 91.4 87.5 91.7C88.1 91.9 88.8 92.1 89.5 92C90.1 92 90.8 91.7 91.4 91.4C91.9 91 92.4 90.4 92.6 89.8C92.9 89.2 93.1 88.5 93 87.9C93 87.2 93 86.9 92.3 86C91.7 85.1 90.2 83.8 89 82.5C87.8 81.2 86 79.1 85.2 78.2C84.3 77.3 84.2 77.5 83.7 77.3C83.2 77.2 82.6 77.1 82 77.3C81.5 77.4 80.9 77.7 80.6 78.1C80.2 78.4 79.8 79 79.7 79.5C79.5 80 79.5 80.7 79.6 81.2C79.7 81.7 79.7 81.8 80.4 82.7Z"/><path d="M80.1 99.9C80.6 100.8 82.1 102.8 82.7 104.1C83.4 105.4 83.4 106.7 83.8 107.5C84.2 108.3 84.6 108.6 85.2 108.9C85.7 109.2 86.4 109.5 87 109.5C87.7 109.5 88.4 109.3 88.9 109C89.5 108.7 90 108.2 90.3 107.6C90.7 107.1 90.9 106.4 90.9 105.7C90.9 105.1 90.9 104.6 90.4 103.8C89.9 103.1 88.8 102.3 88 101.1C87.2 99.8 86.1 97.5 85.5 96.6C84.9 95.7 84.8 95.7 84.3 95.4C83.9 95.2 83.3 95 82.7 95C82.2 95 81.6 95.2 81.2 95.5C80.7 95.8 80.3 96.2 80 96.7C79.7 97.1 79.6 97.7 79.6 98.3C79.6 98.8 79.5 98.9 80.1 99.9Z"/><path d="M81 117.1C81.8 118 83.9 119.9 85 121C86 122.2 86.7 123.3 87.3 123.9C87.9 124.5 88.1 124.5 88.6 124.6C89.1 124.7 89.7 124.7 90.2 124.6C90.7 124.4 91.2 124.1 91.5 123.7C91.8 123.4 92.1 122.8 92.2 122.3C92.3 121.9 92.3 121.3 92.1 120.8C92 120.3 91.9 120 91.3 119.5C90.7 118.9 89.5 118.6 88.4 117.6C87.3 116.6 85.4 114.4 84.6 113.6C83.8 112.8 83.9 113 83.5 112.9C83.1 112.8 82.6 112.8 82.2 112.9C81.7 113 81.3 113.2 81 113.5C80.7 113.8 80.5 114.3 80.3 114.7C80.2 115.1 80.2 115.6 80.3 116C80.4 116.4 80.2 116.3 81 117.1Z"/><path d="M80 132.1C80.5 133.1 81.8 135.8 82.8 136.9C83.8 138.1 85.1 138.7 85.9 139C86.8 139.3 87.3 139.1 87.9 138.9C88.5 138.7 89.1 138.3 89.5 137.8C89.9 137.3 90.3 136.7 90.4 136.1C90.5 135.5 90.5 134.7 90.3 134.1C90.1 133.5 89.7 132.9 89.2 132.5C88.7 132.1 87.8 131.5 87.5 131.6C87.2 131.7 87.8 133.5 87.5 133.1C87.2 132.6 86.1 129.9 85.6 129.1C85.1 128.2 84.9 128.2 84.5 127.9C84 127.6 83.4 127.4 82.9 127.4C82.4 127.4 81.8 127.5 81.3 127.8C80.8 128 80.4 128.4 80.1 128.9C79.8 129.3 79.6 129.9 79.6 130.5C79.6 131 79.5 131 80 132.1Z"/><path d="M154 64.1C152.6 64.6 148.8 65.7 146.7 66.9C144.5 68.1 142.2 70.3 141.2 71.3C140.1 72.3 140.5 72.2 140.3 72.8C140.2 73.3 140.2 73.9 140.3 74.4C140.4 75 140.7 75.5 141.1 75.9C141.5 76.3 142 76.6 142.5 76.7C143.1 76.9 143.7 76.9 144.2 76.8C144.7 76.6 144.8 76.8 145.7 75.9C146.5 75 147.7 72.5 149.4 71.3C151.1 70.2 154.6 69.7 155.9 69.2C157.2 68.7 156.8 68.7 157 68.4C157.3 68 157.6 67.6 157.7 67.1C157.7 66.7 157.7 66.1 157.5 65.7C157.4 65.3 157.1 64.8 156.7 64.5C156.4 64.3 155.9 64 155.5 63.9C155 63.9 155.5 63.6 154 64.1Z"/><path d="M153.9 79.3C154.8 79.6 157 79.4 158 80.4C159.1 81.4 159.5 84.1 160.1 85.2C160.7 86.2 161.1 86.2 161.6 86.5C162.2 86.8 162.9 86.9 163.6 86.9C164.2 86.8 164.9 86.6 165.5 86.2C166 85.9 166.5 85.3 166.8 84.7C167.1 84.2 167.2 83.4 167.2 82.8C167.2 82.2 167.4 82.1 166.6 80.9C165.7 79.7 163.7 76.9 161.9 75.6C160.2 74.3 157.3 73.6 156.1 73.1C154.8 72.7 154.9 72.9 154.4 73C153.9 73.1 153.3 73.4 152.9 73.7C152.5 74.1 152.1 74.6 151.9 75.1C151.7 75.6 151.7 76.3 151.8 76.8C151.9 77.3 152.1 77.9 152.5 78.3C152.9 78.7 153 78.9 153.9 79.3Z"/><path d="M153.8 80.5C151.9 81.1 146.9 82.6 144 83.9C141.2 85.2 138.2 87.2 136.7 88.3C135.3 89.3 135.6 89.4 135.4 90C135.1 90.7 134.9 91.5 135 92.3C135.1 93 135.4 93.8 135.9 94.3C136.3 94.9 137 95.4 137.6 95.7C138.3 96 139.1 96.1 139.9 96C140.6 96 140.7 96.2 142 95.2C143.2 94.2 144.8 91.4 147.1 90.1C149.5 88.9 154.3 88.1 156.1 87.4C157.9 86.8 157.3 86.9 157.7 86.4C158.1 85.9 158.4 85.3 158.5 84.7C158.7 84.1 158.6 83.4 158.4 82.8C158.2 82.3 157.9 81.7 157.4 81.2C157 80.8 156.3 80.5 155.7 80.4C155.1 80.3 155.8 79.9 153.8 80.5Z"/><path d="M153.9 94.7C154.9 95.1 157.4 95.3 158.6 96.1C159.8 96.9 160.3 98.8 161 99.5C161.7 100.3 162.1 100.3 162.7 100.5C163.3 100.6 164.1 100.6 164.7 100.4C165.3 100.3 165.9 99.9 166.4 99.4C166.8 99 167.2 98.3 167.3 97.7C167.5 97.1 167.5 96.3 167.3 95.7C167.1 95.1 167.2 94.8 166.3 94C165.4 93.2 163.4 91.7 161.7 90.8C160 89.9 157.2 89 156 88.6C154.8 88.2 154.9 88.4 154.3 88.5C153.8 88.6 153.2 88.9 152.8 89.2C152.4 89.6 152.1 90.1 151.9 90.6C151.7 91.1 151.7 91.8 151.8 92.3C151.9 92.8 152.2 93.4 152.5 93.8C152.9 94.2 152.9 94.3 153.9 94.7Z"/><path d="M154.4 97C152.7 97.4 148.2 97.9 145.7 99.2C143.2 100.5 140.5 103.6 139.3 104.8C138.1 106 138.7 105.7 138.5 106.2C138.4 106.8 138.4 107.4 138.6 107.9C138.7 108.4 139.1 109 139.4 109.4C139.8 109.7 140.4 110 140.9 110.2C141.4 110.3 142.1 110.3 142.6 110.1C143.1 110 143.1 110.3 144 109.3C145 108.2 146.3 104.9 148.3 103.7C150.2 102.6 154.1 102.7 155.6 102.3C157 102 156.5 102 156.8 101.7C157.2 101.4 157.4 100.9 157.6 100.5C157.7 100.1 157.7 99.5 157.6 99.1C157.5 98.6 157.3 98.2 157 97.8C156.7 97.5 156.2 97.2 155.8 97.1C155.4 96.9 156 96.7 154.4 97Z"/><path d="M154 110.8C155.9 111.4 161 112.2 163.6 113.3C166.1 114.3 168.1 116.4 169.4 117.1C170.7 117.9 170.8 117.6 171.5 117.6C172.2 117.5 173 117.3 173.6 116.9C174.2 116.5 174.7 115.9 175 115.3C175.4 114.6 175.5 113.8 175.5 113.1C175.4 112.4 175.2 111.6 174.8 111C174.4 110.5 174.6 110.3 173.2 109.6C171.7 108.9 168.8 107.9 165.9 106.9C163 106 157.9 104.5 155.9 104C153.9 103.5 154.7 103.8 154.1 103.9C153.5 104.1 152.9 104.4 152.5 104.9C152.1 105.3 151.7 105.9 151.5 106.4C151.4 107 151.4 107.7 151.5 108.3C151.7 108.9 152 109.5 152.4 109.9C152.8 110.3 152.2 110.2 154 110.8Z"/><path d="M153.8 112.8C152.1 113.4 147.9 115.2 145.5 116.2C143.1 117.3 140.7 118.3 139.4 119C138.2 119.7 138.4 119.9 138 120.5C137.7 121 137.6 121.7 137.6 122.4C137.6 123 137.8 123.7 138.1 124.3C138.5 124.8 139 125.3 139.6 125.6C140.1 126 140.8 126.1 141.5 126.1C142.1 126.1 142.3 126.3 143.4 125.6C144.5 124.8 146 122.9 148.2 121.8C150.3 120.6 154.6 119.4 156.2 118.8C157.7 118.1 157.2 118.2 157.5 117.8C157.8 117.4 158.1 116.8 158.2 116.3C158.2 115.7 158.2 115.1 158 114.6C157.8 114.1 157.4 113.6 157 113.3C156.6 112.9 156 112.7 155.4 112.6C154.9 112.5 155.4 112.2 153.8 112.8Z"/><path d="M153.6 128.3C155.1 129.1 159.2 130.9 161.3 131.9C163.4 132.9 165.1 133.9 166.3 134.3C167.4 134.7 167.5 134.5 168.1 134.3C168.7 134.2 169.3 133.9 169.8 133.5C170.2 133.1 170.6 132.5 170.8 131.9C171 131.3 171 130.6 170.9 130C170.7 129.5 170.4 128.8 170 128.4C169.6 127.9 169.5 127.7 168.4 127.4C167.4 127.1 165.6 127.3 163.5 126.6C161.5 125.8 157.8 123.5 156.3 122.9C154.9 122.2 155.3 122.5 154.8 122.6C154.3 122.6 153.7 122.8 153.3 123.1C152.9 123.3 152.5 123.8 152.2 124.2C152 124.7 151.9 125.3 151.9 125.8C152 126.3 152.2 126.9 152.4 127.3C152.7 127.7 152.2 127.5 153.6 128.3Z"/><path d="M154 130.3C152.1 130.8 147 132.9 144.3 133.6C141.6 134.2 139.2 133.8 137.8 134.1C136.4 134.3 136.5 134.5 136.1 134.9C135.6 135.3 135.2 135.9 135 136.5C134.8 137.1 134.7 137.8 134.8 138.4C135 139.1 135.3 139.7 135.7 140.2C136.1 140.6 136.7 141.1 137.3 141.3C137.9 141.5 137.8 141.7 139.2 141.4C140.7 141.1 143.1 140.2 145.9 139.3C148.7 138.5 154 136.9 155.9 136.2C157.8 135.6 156.9 135.7 157.3 135.4C157.6 135 157.9 134.4 158 133.9C158.1 133.4 158.1 132.8 158 132.3C157.8 131.8 157.5 131.3 157.1 130.9C156.7 130.6 156.1 130.3 155.6 130.2C155.1 130.1 155.9 129.7 154 130.3Z"/><path d="M153.9 143.7C155.4 144.3 159.6 145.7 161.7 146.9C163.7 148 165.4 149.8 166.4 150.5C167.4 151.1 167.4 150.9 167.9 150.9C168.4 150.9 169 150.8 169.5 150.5C169.9 150.3 170.3 149.9 170.6 149.4C170.9 149 171 148.4 171 147.9C171.1 147.4 170.9 146.8 170.7 146.4C170.4 145.9 170.7 145.9 169.6 145.2C168.4 144.6 166.2 143.5 163.9 142.5C161.6 141.4 157.5 139.5 156 138.9C154.5 138.3 155.1 138.7 154.7 138.7C154.2 138.8 153.8 139 153.4 139.2C153.1 139.5 152.8 139.9 152.6 140.3C152.4 140.7 152.4 141.2 152.4 141.6C152.5 142 152.6 142.5 152.9 142.8C153.2 143.2 152.5 143 153.9 143.7Z"/><path d="M153.7 145.3C152.1 146 148 148.2 145.8 149C143.5 149.8 141.4 150 140.2 150.4C139 150.8 139.1 151 138.7 151.5C138.3 152 138 152.6 137.9 153.2C137.8 153.8 137.9 154.5 138.1 155.1C138.3 155.7 138.8 156.2 139.2 156.6C139.7 157 140.4 157.3 141 157.4C141.6 157.5 141.7 157.7 142.9 157.2C144 156.7 145.8 155.5 148 154.4C150.3 153.4 154.6 151.7 156.2 151C157.8 150.2 157.1 150.4 157.5 150C157.8 149.6 158 149 158 148.5C158.1 148 158 147.4 157.8 146.9C157.6 146.4 157.2 146 156.8 145.7C156.4 145.4 155.8 145.2 155.3 145.1C154.8 145 155.3 144.7 153.7 145.3Z"/><path d="M154.4 159.7C156 160.1 160.4 160.2 162.6 161.2C164.7 162.3 166.3 165.3 167.4 166.2C168.4 167.1 168.3 166.8 168.8 166.9C169.3 167 169.9 166.9 170.4 166.8C170.9 166.6 171.4 166.2 171.7 165.8C172 165.5 172.3 164.9 172.4 164.4C172.5 163.9 172.4 163.3 172.2 162.8C172.1 162.4 172.6 162.5 171.3 161.5C170.1 160.5 167.3 157.9 164.6 156.8C162 155.6 157.3 155 155.5 154.6C153.8 154.3 154.6 154.6 154.2 154.7C153.8 154.9 153.3 155.1 153 155.4C152.8 155.8 152.5 156.2 152.4 156.6C152.4 157.1 152.4 157.6 152.5 158C152.6 158.4 152.9 158.8 153.2 159.1C153.6 159.4 152.9 159.3 154.4 159.7Z"/><path d="M153.5 164.4C152.2 165 149.2 167 147.5 167.8C145.7 168.6 144 168.9 143.1 169.4C142.1 169.8 142 170.1 141.7 170.6C141.4 171.2 141.2 171.8 141.2 172.5C141.1 173.1 141.3 173.8 141.6 174.3C141.9 174.8 142.4 175.3 142.9 175.7C143.4 176 144.1 176.2 144.7 176.2C145.3 176.2 145.6 176.3 146.5 175.8C147.5 175.2 148.6 173.9 150.3 172.9C151.9 171.9 155.2 170.5 156.4 169.7C157.7 169 157.3 169.1 157.6 168.7C157.9 168.2 158 167.6 158 167.1C158 166.6 157.9 166 157.7 165.6C157.4 165.1 157 164.7 156.6 164.4C156.1 164.2 155.6 164 155.1 164C154.5 164 154.8 163.7 153.5 164.4Z"/><path d="M153.6 177.6C154.9 178.3 158.4 179.8 160.1 180.8C161.9 181.8 163.1 183 164.1 183.5C165.1 184 165.3 183.9 165.9 183.9C166.5 183.8 167.1 183.6 167.6 183.3C168.1 183 168.6 182.5 168.8 181.9C169.1 181.4 169.2 180.7 169.2 180.1C169.2 179.6 168.9 178.9 168.6 178.4C168.3 177.9 168.2 177.7 167.2 177.2C166.2 176.8 164.5 176.5 162.7 175.7C160.9 174.9 157.6 172.9 156.3 172.3C155 171.7 155.3 171.9 154.8 172C154.3 172 153.8 172.2 153.4 172.4C152.9 172.7 152.6 173.1 152.3 173.6C152.1 174 152 174.6 152 175.1C152 175.6 152.2 176.1 152.5 176.5C152.7 176.9 152.3 176.9 153.6 177.6Z"/><path d="M199.3 59.2C198.4 59.9 196.4 61.6 195.1 62.8C193.9 63.9 192.5 65.5 191.8 66.3C191.2 67.1 191.3 67.2 191.3 67.7C191.2 68.1 191.3 68.7 191.5 69.1C191.7 69.5 192 69.9 192.4 70.2C192.8 70.5 193.3 70.7 193.7 70.7C194.2 70.8 194.7 70.7 195.2 70.5C195.6 70.3 195.8 70.4 196.3 69.6C196.8 68.8 197.3 67 198.3 65.9C199.3 64.8 201.5 63.6 202.2 62.9C203 62.2 202.8 62.3 203 61.9C203.1 61.6 203.2 61.1 203.1 60.7C203 60.3 202.9 59.9 202.6 59.6C202.4 59.3 202 59 201.6 58.9C201.3 58.7 200.8 58.7 200.4 58.8C200 58.8 200.2 58.6 199.3 59.2Z"/><path d="M198.7 76.7C198 77.2 196.8 78.5 195.8 79.4C194.9 80.3 193.7 81.3 193.1 82C192.6 82.8 192.6 83.2 192.5 83.9C192.5 84.5 192.6 85.2 192.9 85.8C193.2 86.3 193.7 86.9 194.2 87.2C194.7 87.5 195.4 87.8 196 87.8C196.6 87.8 197.3 87.7 197.9 87.4C198.4 87.2 198.9 86.8 199.3 86.2C199.7 85.5 199.7 84.1 200.3 83.4C200.8 82.6 202.2 82 202.8 81.4C203.4 80.9 203.6 80.6 203.7 80.1C203.9 79.6 203.9 79 203.9 78.5C203.8 78 203.5 77.4 203.2 77C202.8 76.6 202.3 76.3 201.8 76.1C201.3 75.9 200.7 75.9 200.2 76C199.7 76.1 199.5 76.1 198.7 76.7Z"/><path d="M199.4 95.9C198.6 96.5 196.6 97.8 195.4 98.8C194.2 99.7 192.8 100.9 192.2 101.6C191.5 102.3 191.6 102.5 191.5 103C191.4 103.5 191.5 104 191.6 104.5C191.8 104.9 192.1 105.4 192.5 105.7C192.8 106 193.3 106.3 193.8 106.3C194.3 106.4 194.8 106.4 195.3 106.2C195.7 106.1 196 106 196.5 105.4C197 104.7 197.5 103.2 198.4 102.3C199.4 101.4 201.4 100.5 202.1 100C202.9 99.4 202.8 99.4 202.9 99C203.1 98.7 203.2 98.2 203.2 97.8C203.2 97.4 203 97 202.8 96.6C202.6 96.3 202.2 96 201.9 95.8C201.5 95.6 201 95.5 200.6 95.5C200.2 95.6 200.3 95.4 199.4 95.9Z"/><path d="M199 117.3C198.2 117.9 196.5 119 195.4 120C194.2 121 192.8 122.6 192.2 123.5C191.6 124.4 191.6 124.8 191.6 125.4C191.6 126 191.7 126.8 192 127.3C192.3 127.9 192.8 128.4 193.4 128.7C193.9 129.1 194.6 129.3 195.2 129.3C195.9 129.4 196.6 129.2 197.1 128.9C197.7 128.6 198.1 128.3 198.6 127.6C199 126.8 199 125.1 199.7 124.2C200.4 123.4 201.9 123.1 202.5 122.6C203.2 122.2 203.4 121.9 203.6 121.4C203.9 120.9 204 120.3 204 119.8C203.9 119.3 203.7 118.7 203.4 118.2C203.1 117.8 202.7 117.4 202.2 117.1C201.7 116.9 201.1 116.8 200.6 116.8C200.1 116.8 199.9 116.8 199 117.3Z"/><path d="M199.5 138.1C198.5 138.6 196.3 139.9 195 140.7C193.6 141.5 192.2 142.4 191.4 143C190.7 143.6 190.6 143.9 190.5 144.4C190.3 144.9 190.3 145.6 190.4 146.1C190.5 146.6 190.8 147.2 191.1 147.6C191.5 148 192 148.4 192.6 148.6C193.1 148.7 193.7 148.8 194.3 148.7C194.8 148.5 195.2 148.5 195.8 147.9C196.4 147.3 196.9 145.9 198 145.1C199 144.3 201.2 143.5 202.1 143C202.9 142.5 202.9 142.5 203.1 142.1C203.4 141.7 203.5 141.2 203.6 140.7C203.6 140.2 203.4 139.7 203.2 139.3C203 138.9 202.6 138.5 202.2 138.2C201.9 138 201.3 137.8 200.9 137.8C200.4 137.8 200.5 137.7 199.5 138.1Z"/><path d="M198.2 158.5C197.6 159.3 196.5 161.7 195.9 162.3C195.3 162.9 194.9 161.9 194.4 162.1C194 162.3 193.4 163 193.1 163.5C192.8 164 192.6 164.8 192.6 165.4C192.6 166 192.8 166.7 193.2 167.2C193.5 167.8 194 168.3 194.5 168.6C195.1 168.9 195.8 169 196.4 169C197 169 197.6 169 198.3 168.5C198.9 168 199.5 167.3 200.4 166.2C201.2 165.1 202.8 162.9 203.4 162C204 161 203.9 161 203.9 160.5C203.9 159.9 203.8 159.3 203.6 158.9C203.3 158.4 202.9 157.9 202.5 157.6C202.1 157.4 201.5 157.2 201 157.1C200.5 157.1 199.9 157.2 199.4 157.5C198.9 157.7 198.8 157.7 198.2 158.5Z"/><path d="M198.7 175.8C197.9 176.6 196 178.9 194.9 179.7C193.8 180.5 192.7 180.2 192.1 180.6C191.4 180.9 191.1 181.4 190.8 181.9C190.5 182.4 190.4 183.1 190.4 183.7C190.4 184.2 190.6 184.9 190.9 185.4C191.2 185.9 191.7 186.4 192.2 186.7C192.7 186.9 193.4 187.1 194 187.1C194.6 187.1 195 187.1 195.7 186.6C196.5 186.1 197.3 185.1 198.4 184.1C199.6 183 202 181 202.8 180.1C203.7 179.2 203.5 179.3 203.6 178.8C203.8 178.3 203.8 177.8 203.7 177.3C203.5 176.8 203.3 176.3 202.9 175.9C202.6 175.6 202.1 175.3 201.6 175.1C201.1 175 200.6 175 200.1 175.1C199.6 175.2 199.6 175 198.7 175.8Z"/><path d="M198.8 192.1C198 192.7 196.6 194 195.6 195C194.6 196 193.4 197.4 192.8 198.2C192.2 199 192.3 199.4 192.3 200C192.2 200.7 192.4 201.4 192.7 201.9C193 202.4 193.5 203 194 203.3C194.6 203.6 195.3 203.8 195.9 203.8C196.5 203.8 197.2 203.7 197.7 203.4C198.3 203.1 198.7 202.8 199.1 202C199.5 201.3 199.5 199.7 200.1 198.9C200.7 198 202.2 197.5 202.8 196.9C203.4 196.4 203.5 196.1 203.7 195.6C203.9 195.1 203.9 194.5 203.8 194C203.8 193.5 203.5 192.9 203.2 192.5C202.8 192.1 202.3 191.8 201.8 191.6C201.4 191.4 200.8 191.4 200.2 191.5C199.7 191.5 199.5 191.5 198.8 192.1Z"/><path d="M198.6 211.7C197.9 212.5 196.5 215 195.8 215.6C195.1 216.2 194.9 215.1 194.4 215.2C193.9 215.3 193.3 215.7 193 216.2C192.6 216.6 192.4 217.1 192.3 217.7C192.2 218.2 192.2 218.8 192.4 219.3C192.6 219.8 192.9 220.4 193.3 220.7C193.7 221.1 194.3 221.4 194.8 221.5C195.4 221.6 195.8 221.7 196.5 221.3C197.3 221 198.3 220.5 199.4 219.4C200.4 218.4 202.3 215.9 203 215C203.6 214 203.4 214.1 203.5 213.7C203.5 213.2 203.5 212.7 203.3 212.3C203.1 211.8 202.8 211.4 202.4 211.1C202.1 210.9 201.6 210.7 201.1 210.6C200.7 210.5 200.1 210.6 199.7 210.8C199.3 211 199.3 210.9 198.6 211.7Z"/><path d="M224.2 61.1C225.8 62 230.3 64.4 232.6 65.5C235 66.6 237 67.5 238.2 67.9C239.5 68.3 239.6 68 240.2 67.9C240.8 67.7 241.5 67.3 241.9 66.9C242.4 66.5 242.7 65.8 242.9 65.2C243.1 64.6 243.1 63.8 242.9 63.2C242.8 62.6 242.4 62 241.9 61.5C241.5 61.1 241.4 60.8 240.2 60.5C239.1 60.3 237.2 60.7 235.1 59.9C232.9 59.1 228.9 56.3 227.3 55.5C225.7 54.7 226.2 55.1 225.7 55.1C225.2 55.1 224.5 55.3 224.1 55.6C223.6 55.8 223.2 56.3 223 56.8C222.7 57.2 222.5 57.8 222.6 58.4C222.6 58.9 222.8 59.5 223 60C223.3 60.4 222.6 60.2 224.2 61.1Z"/><path d="M224.7 75.4C226.2 76.1 230.5 77.7 232.6 78.9C234.8 80.2 236.4 82.1 237.5 82.8C238.5 83.5 238.5 83.3 239 83.3C239.5 83.3 240 83.2 240.5 83C240.9 82.7 241.4 82.3 241.6 81.9C241.9 81.5 242.1 80.9 242.1 80.4C242.2 79.9 242 79.4 241.8 78.9C241.6 78.5 241.9 78.5 240.8 77.7C239.6 77 237.3 75.8 234.9 74.6C232.6 73.5 228.4 71.4 226.8 70.7C225.3 70 226 70.5 225.5 70.5C225.1 70.5 224.7 70.7 224.3 71C224 71.2 223.6 71.6 223.5 72C223.3 72.4 223.2 72.8 223.2 73.3C223.3 73.7 223.4 74.2 223.7 74.5C223.9 74.9 223.2 74.6 224.7 75.4Z"/><path d="M224.8 88.8C226 89.3 229.3 90.3 230.9 91.2C232.5 92.1 233.7 93.6 234.5 94.2C235.4 94.8 235.6 94.6 236.1 94.6C236.6 94.7 237.2 94.5 237.6 94.3C238.1 94 238.5 93.6 238.8 93.2C239.1 92.7 239.2 92.2 239.3 91.7C239.3 91.1 239.1 90.5 238.9 90.1C238.7 89.6 238.8 89.5 237.8 88.9C236.8 88.4 235 87.6 233.1 86.7C231.3 85.9 228.1 84.4 226.8 83.9C225.5 83.4 225.9 83.7 225.4 83.8C225 83.8 224.5 84 224.2 84.3C223.8 84.5 223.5 84.9 223.4 85.3C223.2 85.7 223.1 86.3 223.2 86.7C223.2 87.1 223.4 87.6 223.7 87.9C223.9 88.3 223.6 88.2 224.8 88.8Z"/><path d="M224.4 98.9C225.7 99.7 229.4 102 231.3 102.9C233.3 103.8 235.1 104.1 236.2 104.3C237.3 104.5 237.3 104.3 237.8 104.2C238.3 104 238.8 103.6 239.1 103.2C239.4 102.8 239.7 102.3 239.7 101.8C239.8 101.2 239.7 100.6 239.6 100.2C239.4 99.7 239 99.2 238.6 98.9C238.2 98.5 238 98.3 237.1 98.2C236.3 98.1 235 98.9 233.3 98.3C231.6 97.7 228.3 95.2 227.1 94.4C225.9 93.7 226.2 94.1 225.8 94.1C225.4 94.1 224.9 94.2 224.5 94.4C224.1 94.6 223.7 95 223.5 95.3C223.3 95.7 223.2 96.2 223.2 96.6C223.1 97.1 223.3 97.6 223.5 98C223.7 98.3 223.1 98.1 224.4 98.9Z"/><path d="M224.1 114C225.5 114.9 229.3 116.7 231.1 118C233 119.3 234.2 121 235.2 121.8C236.2 122.5 236.4 122.4 237.1 122.5C237.7 122.5 238.5 122.4 239.1 122.1C239.6 121.9 240.2 121.4 240.6 120.9C241 120.3 241.2 119.6 241.3 119C241.3 118.3 241.2 117.6 240.9 117C240.7 116.4 240.7 116.2 239.7 115.5C238.6 114.8 236.5 113.9 234.4 112.7C232.4 111.6 228.9 109.2 227.4 108.4C226 107.6 226.3 108 225.8 107.9C225.3 107.9 224.6 108.1 224.2 108.4C223.7 108.6 223.2 109.1 223 109.5C222.7 110 222.5 110.6 222.5 111.2C222.5 111.7 222.7 112.3 222.9 112.8C223.2 113.3 222.7 113.1 224.1 114Z"/><path d="M224.3 126.8C225.1 127.3 227.1 127.7 228 128.5C228.9 129.3 229.2 131.1 229.7 131.8C230.2 132.6 230.7 132.7 231.2 132.9C231.8 133.1 232.5 133.2 233.1 133.1C233.7 133 234.4 132.7 234.8 132.3C235.3 131.9 235.7 131.4 235.9 130.8C236.1 130.2 236.2 129.5 236.1 128.9C236 128.3 236.1 128 235.3 127.2C234.6 126.4 233 124.9 231.7 123.9C230.3 123 228.2 121.8 227.2 121.4C226.2 120.9 226.2 121 225.6 121C225.1 121 224.6 121.2 224.1 121.5C223.7 121.7 223.3 122.2 223.1 122.6C222.8 123.1 222.7 123.7 222.7 124.2C222.7 124.7 222.9 125.3 223.2 125.7C223.4 126.1 223.5 126.3 224.3 126.8Z"/><path d="M224.2 139.6C225.4 140.5 228.9 142.7 230.7 143.9C232.4 145.1 233.8 146.2 234.7 146.7C235.6 147.3 235.8 147.1 236.3 147.1C236.9 147.1 237.5 146.9 237.9 146.6C238.4 146.3 238.8 145.9 239.1 145.4C239.3 144.9 239.5 144.3 239.5 143.7C239.4 143.2 239.3 142.6 239 142.1C238.7 141.7 238.7 141.4 237.7 141C236.8 140.5 235.1 140.4 233.4 139.4C231.7 138.5 228.5 135.9 227.3 135.1C226.1 134.3 226.4 134.7 226 134.7C225.5 134.6 225 134.7 224.6 134.9C224.2 135.1 223.8 135.5 223.5 135.8C223.2 136.2 223.1 136.7 223 137.2C223 137.6 223.1 138.2 223.3 138.6C223.5 139 223 138.8 224.2 139.6Z"/><path d="M224.2 151.8C225.1 152.5 227.7 153.3 228.9 154.4C230.1 155.5 230.7 157.7 231.3 158.6C232 159.4 232.4 159.5 232.9 159.7C233.5 159.9 234.3 160 234.9 159.9C235.5 159.7 236.2 159.4 236.7 159C237.2 158.6 237.6 158 237.8 157.4C238 156.8 238.1 156.1 238 155.5C237.9 154.9 238 154.7 237.1 153.7C236.3 152.7 234.4 151 232.8 149.7C231.2 148.5 228.5 147 227.4 146.3C226.2 145.7 226.3 145.9 225.8 145.9C225.3 145.9 224.7 146 224.2 146.3C223.7 146.6 223.3 147 223 147.5C222.7 147.9 222.6 148.5 222.6 149.1C222.6 149.6 222.7 150.2 223 150.7C223.3 151.1 223.2 151.2 224.2 151.8Z"/><path d="M224 163.1C225 163.9 227.7 166.1 229.2 167.1C230.6 168.1 231.9 168.7 232.8 169.1C233.7 169.4 234 169.3 234.5 169.2C235.1 169.1 235.7 168.8 236.1 168.4C236.5 168 236.9 167.5 237.1 166.9C237.2 166.4 237.3 165.7 237.2 165.2C237.1 164.6 236.8 164 236.4 163.6C236 163.2 235.6 162.8 234.9 162.6C234.2 162.4 233.3 163.1 232.1 162.5C230.8 161.8 228.5 159.4 227.6 158.6C226.6 157.9 226.7 158.1 226.2 158C225.7 157.9 225.2 158 224.7 158.2C224.3 158.3 223.8 158.7 223.5 159C223.2 159.4 223 159.9 222.9 160.4C222.9 160.9 222.9 161.4 223.1 161.9C223.3 162.3 222.9 162.2 224 163.1Z"/><path d="M271.4 55.6C270.1 56.3 266.7 58.9 264.9 59.5C263.1 60.1 261.9 59 260.9 59.1C259.9 59.1 259.6 59.4 259.1 59.8C258.6 60.1 258.2 60.7 257.9 61.3C257.7 61.8 257.5 62.6 257.6 63.2C257.7 63.8 257.9 64.5 258.3 65C258.7 65.5 259.2 65.9 259.8 66.2C260.4 66.4 260.5 66.6 261.7 66.5C262.9 66.3 264.9 65.9 267 65C269.2 64.1 273.1 61.9 274.5 61C275.9 60.2 275.4 60.3 275.7 59.9C275.9 59.4 276.1 58.9 276.1 58.3C276.1 57.8 275.9 57.2 275.7 56.8C275.4 56.3 275 55.9 274.5 55.6C274.1 55.3 273.5 55.2 273 55.2C272.5 55.2 272.8 54.9 271.4 55.6Z"/><path d="M272.2 72.2C273.4 72.7 277 73.5 278.8 74.4C280.5 75.4 281.8 77.1 282.7 77.7C283.6 78.3 283.6 78.1 284.1 78.1C284.6 78.1 285.1 78 285.5 77.8C285.9 77.6 286.3 77.2 286.6 76.8C286.8 76.4 287 75.9 287 75.5C287.1 75 287 74.5 286.7 74C286.5 73.6 286.8 73.6 285.8 73C284.8 72.3 282.7 71.2 280.7 70.3C278.7 69.5 275.1 68.2 273.8 67.7C272.4 67.3 272.9 67.6 272.5 67.6C272.1 67.7 271.7 67.9 271.4 68.2C271.1 68.4 270.9 68.8 270.7 69.2C270.6 69.6 270.6 70 270.6 70.4C270.7 70.8 270.9 71.2 271.1 71.5C271.4 71.8 270.9 71.7 272.2 72.2Z"/><path d="M271.3 79C270.3 79.7 267.9 82.1 266.6 82.7C265.4 83.2 264.6 82.3 263.9 82.4C263.1 82.5 262.7 82.8 262.3 83.1C261.9 83.5 261.5 84 261.3 84.5C261.1 85.1 261.1 85.7 261.2 86.3C261.3 86.8 261.6 87.4 261.9 87.8C262.3 88.2 262.8 88.6 263.3 88.8C263.9 89 264.1 89.1 265.1 88.9C266 88.7 267.5 88.3 269.1 87.4C270.7 86.5 273.6 84.3 274.6 83.4C275.7 82.6 275.3 82.7 275.5 82.3C275.7 81.9 275.8 81.3 275.7 80.9C275.7 80.4 275.5 79.9 275.2 79.5C274.9 79.2 274.5 78.8 274.1 78.6C273.6 78.4 273.1 78.4 272.6 78.4C272.2 78.5 272.3 78.3 271.3 79Z"/><path d="M271.9 92.5C272.6 92.9 274.3 92.6 275.2 93.7C276 94.8 276.5 98.1 277 99.2C277.4 100.3 277.5 100.1 277.9 100.4C278.3 100.7 278.8 100.9 279.3 100.9C279.8 101 280.4 100.9 280.8 100.7C281.2 100.5 281.7 100.1 281.9 99.7C282.2 99.3 282.4 98.8 282.5 98.3C282.5 97.8 282.9 98.1 282.2 96.8C281.6 95.5 280.1 92.1 278.7 90.7C277.3 89.2 275 88.6 274 88.1C273 87.7 273.2 87.9 272.7 87.9C272.3 87.9 271.9 88.1 271.6 88.3C271.2 88.6 270.9 88.9 270.7 89.3C270.6 89.7 270.5 90.1 270.5 90.5C270.6 91 270.7 91.4 271 91.7C271.2 92.1 271.2 92.2 271.9 92.5Z"/><path d="M271.4 100.7C270.5 101.2 268.6 102.6 267.4 103.5C266.2 104.5 264.7 105.6 264.1 106.3C263.4 107 263.4 107.3 263.3 107.9C263.2 108.4 263.2 109.1 263.4 109.6C263.6 110.1 264 110.7 264.4 111C264.8 111.4 265.4 111.7 266 111.8C266.5 111.9 267.2 111.8 267.7 111.7C268.2 111.5 268.6 111.4 269.1 110.7C269.7 110 270 108.5 270.9 107.6C271.8 106.7 273.8 105.9 274.5 105.4C275.3 104.8 275.3 104.7 275.5 104.3C275.7 103.8 275.8 103.3 275.8 102.8C275.7 102.4 275.6 101.8 275.3 101.4C275.1 101.1 274.6 100.7 274.2 100.5C273.8 100.3 273.3 100.2 272.8 100.2C272.3 100.2 272.3 100.1 271.4 100.7Z"/><path d="M271.8 116.1C272.9 116.7 276.1 117.7 277.6 118.6C279.2 119.5 280.2 120.9 281.1 121.5C281.9 122 282.2 122 282.8 122C283.4 122 284 121.8 284.5 121.6C285 121.3 285.5 120.8 285.8 120.3C286.1 119.8 286.3 119.2 286.3 118.6C286.3 118 286.2 117.4 285.9 116.9C285.6 116.4 285.6 116.1 284.7 115.6C283.7 115 281.9 114.4 280.2 113.7C278.4 112.9 275.4 111.3 274.1 110.8C272.9 110.3 273.1 110.5 272.7 110.6C272.2 110.6 271.6 110.8 271.3 111.1C270.9 111.4 270.5 111.8 270.3 112.3C270.1 112.7 270 113.3 270.1 113.8C270.1 114.2 270.3 114.8 270.6 115.2C270.9 115.6 270.6 115.5 271.8 116.1Z"/><path d="M271 121.7C270.2 122.4 268.3 124.5 267.2 125.4C266.1 126.2 264.9 126.3 264.3 126.8C263.6 127.3 263.4 127.7 263.2 128.2C263 128.7 262.9 129.4 263 130C263 130.5 263.3 131.2 263.7 131.6C264 132.1 264.5 132.5 265.1 132.7C265.6 132.9 266.3 133 266.8 132.9C267.4 132.8 267.8 132.8 268.4 132.2C269.1 131.6 269.7 130.6 270.8 129.5C271.9 128.5 274.1 126.7 274.9 125.9C275.7 125.1 275.6 125.1 275.7 124.7C275.9 124.2 275.9 123.6 275.8 123.2C275.7 122.7 275.4 122.2 275.1 121.8C274.8 121.5 274.3 121.2 273.8 121.1C273.4 120.9 272.8 120.9 272.3 121C271.9 121.1 271.9 121 271 121.7Z"/><path d="M271.3 135.1C272.1 135.8 274.3 137 275.3 138.2C276.3 139.3 276.8 141.2 277.4 142C277.9 142.8 278.2 142.8 278.7 143C279.2 143.2 279.8 143.3 280.3 143.3C280.8 143.2 281.4 143 281.8 142.6C282.3 142.3 282.6 141.8 282.9 141.3C283.1 140.9 283.2 140.2 283.1 139.7C283 139.2 283.2 139 282.5 138.2C281.8 137.3 280.3 135.8 279 134.6C277.7 133.4 275.6 131.6 274.6 130.9C273.7 130.2 273.8 130.4 273.4 130.4C272.9 130.3 272.4 130.4 272 130.5C271.6 130.7 271.1 131 270.9 131.4C270.6 131.7 270.4 132.2 270.3 132.6C270.2 133.1 270.3 133.6 270.4 134C270.6 134.4 270.5 134.4 271.3 135.1Z"/><path d="M271.8 140.9C270.4 141.5 267.1 143.1 265.1 144C263.2 144.9 261.2 145.7 260.2 146.4C259.1 147 259.2 147.2 259 147.7C258.7 148.2 258.5 148.9 258.6 149.5C258.6 150.1 258.8 150.7 259.1 151.2C259.5 151.7 260 152.1 260.5 152.4C261 152.7 261.7 152.8 262.2 152.8C262.8 152.8 263.1 152.9 264 152.2C264.9 151.6 266 150 267.7 149C269.4 148 272.9 146.9 274.1 146.3C275.4 145.7 275 145.8 275.3 145.4C275.6 145 275.8 144.4 275.9 143.9C275.9 143.4 275.9 142.9 275.7 142.4C275.5 142 275.1 141.5 274.7 141.2C274.3 140.9 273.8 140.7 273.3 140.7C272.8 140.6 273.1 140.4 271.8 140.9Z"/><path d="M271.6 157.1C272.8 157.8 276.1 159.5 277.8 160.6C279.5 161.6 280.7 162.9 281.6 163.5C282.5 164.1 282.7 163.9 283.2 163.9C283.8 163.9 284.4 163.8 284.8 163.5C285.3 163.2 285.8 162.8 286 162.3C286.3 161.8 286.5 161.2 286.5 160.7C286.5 160.1 286.3 159.5 286 159.1C285.8 158.6 285.8 158.4 284.9 157.9C283.9 157.4 282.2 157 280.4 156C278.7 155.1 275.6 153 274.3 152.3C273.1 151.6 273.4 152 273 152C272.5 152 272 152.1 271.6 152.3C271.2 152.5 270.8 152.9 270.6 153.3C270.4 153.7 270.2 154.2 270.2 154.7C270.2 155.1 270.3 155.7 270.6 156.1C270.8 156.5 270.4 156.3 271.6 157.1Z"/><path d="M272 161.8C270.7 162.2 267.7 163.1 265.9 164.1C264.1 165.2 262.1 167.2 261.1 168.1C260.2 169 260.4 169.2 260.3 169.7C260.1 170.3 260.1 171 260.3 171.6C260.5 172.2 260.9 172.8 261.3 173.2C261.8 173.6 262.4 173.9 263 174C263.5 174.2 264.2 174.1 264.8 173.9C265.4 173.8 265.7 173.8 266.4 173C267.1 172.1 267.7 169.9 269 169C270.2 168.1 272.9 167.9 273.9 167.5C275 167.1 274.9 167 275.2 166.7C275.6 166.3 275.8 165.8 275.9 165.3C276 164.8 276 164.2 275.8 163.7C275.7 163.2 275.3 162.7 275 162.4C274.6 162.1 274 161.8 273.6 161.7C273.1 161.6 273.3 161.4 272 161.8Z"/><path d="M271.8 178.5C273 179 276.5 179.6 278.1 180.8C279.7 181.9 280.7 184.6 281.6 185.6C282.4 186.5 282.7 186.4 283.3 186.6C283.9 186.8 284.7 186.8 285.3 186.6C285.9 186.5 286.6 186.1 287 185.7C287.5 185.2 287.9 184.6 288.1 184C288.2 183.3 288.3 182.6 288.1 181.9C287.9 181.3 288.2 181.3 287.1 180.2C286 179.1 283.7 176.8 281.5 175.6C279.3 174.3 275.7 173 274.2 172.4C272.7 171.9 273 172.1 272.5 172.2C271.9 172.3 271.4 172.6 270.9 172.9C270.5 173.2 270.1 173.7 269.9 174.2C269.7 174.8 269.7 175.4 269.7 175.9C269.8 176.5 270.1 177 270.4 177.5C270.7 177.9 270.5 177.9 271.8 178.5Z"/><path d="M271.8 185.3C270.7 185.8 268.2 186.6 266.6 187.9C265.1 189.3 263.4 192.2 262.6 193.3C261.9 194.5 262.2 194.4 262.2 195C262.2 195.5 262.3 196.2 262.6 196.6C262.9 197.1 263.3 197.6 263.8 197.9C264.3 198.1 264.9 198.3 265.5 198.3C266 198.3 266.6 198.1 267.1 197.9C267.6 197.6 267.8 197.7 268.3 196.7C268.9 195.6 269.3 192.8 270.3 191.8C271.3 190.7 273.3 190.8 274.1 190.4C274.9 190 274.9 189.9 275.2 189.5C275.5 189.1 275.7 188.6 275.7 188.1C275.8 187.7 275.7 187.1 275.5 186.7C275.3 186.3 275 185.9 274.6 185.6C274.2 185.3 273.7 185.1 273.2 185.1C272.8 185 272.9 184.8 271.8 185.3Z"/><path d="M271.5 202.4C272.9 203.2 276.5 204.6 278.3 205.7C280.1 206.9 281.3 208.8 282.2 209.5C283.1 210.3 283.4 210.2 284 210.2C284.6 210.3 285.3 210.2 285.9 209.9C286.4 209.7 287 209.2 287.4 208.7C287.7 208.3 288 207.6 288.1 207C288.1 206.4 288 205.6 287.8 205.1C287.5 204.5 287.7 204.3 286.6 203.6C285.5 202.8 283.4 201.8 281.4 200.6C279.3 199.5 275.8 197.6 274.4 196.9C273 196.2 273.3 196.5 272.8 196.6C272.3 196.6 271.7 196.8 271.3 197.1C270.8 197.3 270.4 197.8 270.2 198.2C269.9 198.7 269.8 199.3 269.8 199.8C269.9 200.3 270.1 200.9 270.3 201.4C270.6 201.8 270.2 201.7 271.5 202.4Z"/><path d="M271.8 208.4C270.8 208.8 268.7 209.6 267.4 210.5C266.1 211.4 264.5 213 263.8 213.8C263.1 214.6 263.2 214.9 263.1 215.5C263 216 263.1 216.7 263.3 217.2C263.5 217.8 263.9 218.3 264.3 218.7C264.8 219 265.4 219.3 266 219.4C266.5 219.5 267.2 219.4 267.7 219.2C268.3 219 268.7 218.8 269.2 218.1C269.7 217.4 269.9 215.7 270.7 214.9C271.6 214.2 273.4 214.1 274.1 213.7C274.9 213.4 275 213.2 275.3 212.8C275.6 212.4 275.8 211.9 275.9 211.4C275.9 210.9 275.8 210.3 275.6 209.9C275.4 209.5 275.1 209 274.7 208.7C274.3 208.4 273.8 208.2 273.3 208.2C272.8 208.1 272.8 208 271.8 208.4Z"/><path d="M271.8 225.5C272.5 225.9 274.1 225.7 274.9 226.8C275.6 227.9 276 230.9 276.5 231.9C276.9 233 277 232.8 277.4 233.1C277.8 233.4 278.3 233.6 278.8 233.6C279.3 233.6 279.8 233.6 280.2 233.4C280.7 233.2 281.1 232.8 281.4 232.4C281.7 232 281.9 231.5 281.9 231C282 230.6 282.3 230.8 281.7 229.6C281.1 228.4 279.7 225.2 278.4 223.9C277.1 222.5 275 221.7 274.1 221.2C273.2 220.8 273.3 221 272.9 221C272.5 221 272 221.1 271.7 221.3C271.3 221.5 271 221.9 270.8 222.3C270.6 222.6 270.5 223.1 270.5 223.5C270.6 223.9 270.7 224.3 270.9 224.7C271.1 225 271.2 225.2 271.8 225.5Z"/><path d="M271.4 230.3C270.4 230.8 268.4 231.7 267 233.1C265.7 234.6 264.2 237.5 263.6 238.8C262.9 240 263.2 240.1 263.2 240.7C263.3 241.3 263.6 242 263.9 242.5C264.3 243 264.9 243.5 265.4 243.7C266 244 266.7 244.1 267.3 244.1C268 244 268.7 243.7 269.2 243.4C269.7 243 270 242.9 270.4 241.9C270.8 240.8 271 238 271.7 237C272.4 236 273.8 236.2 274.5 235.8C275.2 235.4 275.4 235.1 275.7 234.7C275.9 234.2 276.1 233.6 276.1 233.1C276.1 232.6 276 232 275.7 231.5C275.5 231.1 275 230.6 274.6 230.3C274.1 230.1 273.5 229.9 273 229.9C272.5 229.9 272.4 229.8 271.4 230.3Z"/><path d="M271.5 247.9C272.8 248.6 276.3 249.7 277.9 250.8C279.6 252 280.6 254.2 281.5 255C282.4 255.8 282.7 255.7 283.3 255.9C284 256 284.7 255.9 285.4 255.7C286 255.5 286.6 255.1 287 254.6C287.4 254.1 287.8 253.4 287.9 252.8C288 252.1 288 251.4 287.7 250.8C287.5 250.1 287.7 250 286.6 249.1C285.5 248.2 283.3 246.8 281.3 245.6C279.3 244.4 275.8 242.6 274.4 242C273 241.3 273.3 241.6 272.7 241.7C272.2 241.7 271.6 241.9 271.1 242.2C270.7 242.5 270.3 243 270 243.5C269.8 244 269.7 244.6 269.7 245.2C269.7 245.7 269.9 246.3 270.2 246.8C270.5 247.2 270.2 247.2 271.5 247.9Z"/><path d="M271.6 251.5C270.3 252.2 267.1 254.5 265.4 255.2C263.8 255.8 262.3 255.3 261.4 255.5C260.5 255.7 260.3 256 259.9 256.4C259.5 256.8 259.2 257.4 259 257.9C258.9 258.5 258.9 259.1 259 259.7C259.2 260.2 259.5 260.8 259.9 261.2C260.3 261.6 260.9 261.9 261.4 262C262 262.2 262.1 262.3 263.2 262C264.2 261.7 265.8 261 267.7 260.1C269.5 259.2 273.1 257.2 274.4 256.4C275.7 255.7 275.2 255.8 275.4 255.4C275.6 255 275.8 254.5 275.8 254C275.8 253.5 275.7 253 275.4 252.6C275.2 252.2 274.8 251.8 274.4 251.5C274 251.3 273.4 251.2 273 251.1C272.5 251.1 272.8 250.8 271.6 251.5Z"/><path d="M272.1 268.4C273.4 268.9 277.1 269.7 278.9 270.8C280.7 271.8 282 274 282.9 274.7C283.8 275.5 283.8 275.2 284.3 275.3C284.7 275.4 285.3 275.3 285.7 275.1C286.2 275 286.6 274.6 286.9 274.3C287.2 273.9 287.4 273.4 287.5 272.9C287.6 272.5 287.5 271.9 287.3 271.5C287.1 271 287.5 271.1 286.5 270.3C285.4 269.5 283.2 267.8 281.1 266.8C279 265.7 275.2 264.4 273.8 264C272.4 263.5 272.9 263.8 272.5 263.8C272.2 263.9 271.7 264.1 271.4 264.4C271.1 264.6 270.9 265 270.7 265.4C270.6 265.7 270.5 266.2 270.6 266.6C270.7 267 270.9 267.4 271.1 267.7C271.4 268 270.8 267.9 272.1 268.4Z"/><path d="M332.7 56.2C331.8 56.7 329.8 57.8 328.5 59C327.3 60.2 325.8 62.3 325.2 63.3C324.6 64.2 324.8 64.2 324.8 64.7C324.8 65.2 324.9 65.8 325.1 66.2C325.4 66.6 325.8 67.1 326.2 67.3C326.6 67.6 327.2 67.7 327.7 67.8C328.2 67.8 328.7 67.6 329.1 67.4C329.6 67.2 329.8 67.2 330.3 66.3C330.7 65.5 331.1 63.3 332 62.3C332.8 61.3 334.6 60.9 335.4 60.4C336.1 60 336 59.8 336.2 59.5C336.4 59.1 336.6 58.6 336.5 58.2C336.5 57.8 336.4 57.3 336.2 57C335.9 56.6 335.6 56.3 335.2 56.1C334.8 55.9 334.4 55.8 334 55.8C333.5 55.8 333.6 55.6 332.7 56.2Z"/><path d="M332.6 74.3C333.4 74.9 335.7 75.9 336.7 76.8C337.8 77.8 338.3 79.3 338.9 79.9C339.5 80.6 339.8 80.6 340.3 80.8C340.9 80.9 341.5 80.9 342 80.7C342.5 80.6 343 80.3 343.4 79.9C343.8 79.5 344.1 79 344.2 78.5C344.4 78 344.4 77.4 344.2 76.8C344.1 76.3 344.1 76.1 343.4 75.4C342.7 74.7 341.2 73.7 339.9 72.8C338.6 71.9 336.5 70.4 335.5 69.8C334.5 69.2 334.6 69.4 334.2 69.4C333.7 69.4 333.2 69.5 332.8 69.7C332.4 69.9 332 70.2 331.8 70.6C331.5 71 331.4 71.5 331.3 71.9C331.3 72.4 331.4 72.9 331.6 73.3C331.8 73.7 331.7 73.7 332.6 74.3Z"/><path d="M331.8 82.5C331.1 83.3 329.6 85.9 328.8 86.7C328 87.5 327.3 86.9 326.7 87.2C326.2 87.5 325.8 88 325.6 88.5C325.3 89 325.2 89.6 325.2 90.2C325.3 90.7 325.5 91.4 325.8 91.8C326.1 92.3 326.6 92.7 327.1 93C327.6 93.2 328.2 93.3 328.8 93.3C329.4 93.3 329.8 93.2 330.4 92.8C331.1 92.3 331.8 91.5 332.7 90.4C333.7 89.2 335.6 86.8 336.3 85.8C337 84.9 336.8 84.9 336.8 84.5C336.9 84 336.8 83.5 336.6 83C336.4 82.6 336.1 82.2 335.7 81.9C335.4 81.6 334.8 81.4 334.4 81.3C333.9 81.3 333.4 81.4 332.9 81.5C332.5 81.7 332.5 81.6 331.8 82.5Z"/><path d="M331.8 99.9C332.6 100.8 334.5 102.4 335.4 103.5C336.3 104.7 336.6 106.1 337.1 106.8C337.6 107.5 338.1 107.7 338.6 107.9C339.2 108.1 339.9 108.2 340.4 108.1C341 108 341.7 107.7 342.1 107.4C342.6 107 343 106.4 343.2 105.9C343.5 105.3 343.5 104.6 343.4 104C343.3 103.4 343.3 103 342.7 102.3C342.1 101.6 340.8 100.8 339.7 99.7C338.6 98.7 337 96.6 336.2 95.8C335.4 95 335.4 95.1 334.9 95C334.4 94.8 333.8 94.8 333.4 94.9C332.9 95.1 332.3 95.3 332 95.7C331.6 96 331.3 96.5 331.2 97C331 97.5 331 98.1 331.1 98.6C331.2 99 331.1 99.1 331.8 99.9Z"/><path d="M332 108.3C331.1 109 329 111.6 327.9 112.2C326.8 112.9 326.2 111.9 325.5 112C324.9 112.1 324.4 112.5 324 112.9C323.5 113.3 323.2 113.9 323 114.4C322.9 115 322.9 115.7 323 116.3C323.2 116.8 323.5 117.4 323.9 117.9C324.3 118.3 324.9 118.6 325.5 118.8C326 118.9 326.4 119.1 327.3 118.8C328.2 118.5 329.5 118 331 117C332.5 116 335.1 113.6 336 112.6C337 111.7 336.7 111.8 336.9 111.4C337 110.9 337 110.3 336.9 109.8C336.8 109.3 336.6 108.8 336.2 108.5C335.9 108.1 335.4 107.8 334.9 107.6C334.5 107.5 333.9 107.4 333.4 107.6C332.9 107.7 333 107.5 332 108.3Z"/><path d="M332.4 123.7C333.5 124.4 336.4 125.6 337.8 126.6C339.2 127.6 339.9 129.2 340.7 129.9C341.5 130.6 341.9 130.6 342.6 130.7C343.2 130.7 343.9 130.7 344.5 130.4C345.1 130.2 345.7 129.7 346.1 129.2C346.5 128.7 346.8 128 346.9 127.4C347 126.7 346.9 126 346.6 125.4C346.4 124.8 346.4 124.5 345.4 123.8C344.5 123.1 342.8 122.4 341.2 121.4C339.5 120.5 336.8 118.7 335.6 118.1C334.5 117.5 334.6 117.7 334 117.7C333.5 117.7 332.9 117.9 332.4 118.1C331.9 118.4 331.5 118.9 331.2 119.3C331 119.8 330.8 120.4 330.8 120.9C330.8 121.5 331 122.1 331.2 122.6C331.5 123 331.3 123.1 332.4 123.7Z"/><path d="M332.7 132.3C331.8 132.8 329.8 133.9 328.6 135C327.4 136.2 326 138.4 325.4 139.4C324.8 140.4 325 140.4 325 140.9C325 141.4 325.1 142 325.4 142.4C325.6 142.9 326.1 143.3 326.5 143.6C326.9 143.8 327.5 144 328 144C328.5 144 329.1 143.8 329.6 143.6C330 143.3 330.2 143.3 330.7 142.4C331.1 141.6 331.5 139.4 332.2 138.4C333 137.5 334.7 137.2 335.4 136.7C336.1 136.3 336.1 136.1 336.3 135.7C336.5 135.4 336.6 134.9 336.6 134.4C336.6 134 336.5 133.5 336.2 133.2C336 132.8 335.6 132.4 335.3 132.2C334.9 132 334.4 131.9 334 131.9C333.5 131.9 333.6 131.8 332.7 132.3Z"/><path d="M331.8 148.1C332.6 149 334.7 151.4 335.9 152.6C337.1 153.7 338 154.4 338.8 154.8C339.6 155.2 340.1 155.1 340.7 155.1C341.3 155 341.9 154.8 342.4 154.4C342.9 154.1 343.3 153.5 343.6 153C343.8 152.4 343.9 151.7 343.8 151.1C343.8 150.5 343.5 149.9 343.2 149.4C342.8 148.9 342.3 148.4 341.7 148.2C341.2 148 340.6 148.9 339.7 148.2C338.8 147.5 337.1 144.9 336.3 144.1C335.5 143.3 335.5 143.4 335 143.2C334.5 143.1 334 143 333.5 143.1C333 143.2 332.4 143.5 332.1 143.8C331.7 144.1 331.3 144.6 331.2 145.1C331 145.6 331 146.2 331.1 146.7C331.2 147.2 331 147.1 331.8 148.1Z"/><path d="M332.1 157.1C331.2 157.7 329.1 159.7 327.9 160.5C326.7 161.2 325.4 161.4 324.6 161.9C323.9 162.3 323.6 162.8 323.4 163.4C323.1 163.9 323 164.7 323 165.3C323.1 165.9 323.4 166.6 323.7 167.1C324.1 167.6 324.7 168.1 325.2 168.4C325.8 168.6 326.5 168.7 327.1 168.7C327.8 168.6 328.3 168.6 329 168C329.7 167.5 330.3 166.3 331.5 165.3C332.7 164.3 335 162.9 336 162.1C336.9 161.4 336.8 161.3 337 160.8C337.2 160.3 337.3 159.7 337.2 159.2C337.1 158.7 336.9 158.1 336.6 157.7C336.2 157.3 335.8 156.9 335.3 156.7C334.8 156.5 334.2 156.4 333.6 156.4C333.1 156.5 333.1 156.4 332.1 157.1Z"/><path d="M332.2 172.8C332.8 173.4 334.5 174.5 335.2 175.3C336 176.2 336.2 177.3 336.7 177.9C337.2 178.5 337.6 178.7 338.1 178.9C338.6 179 339.3 179.1 339.8 179C340.4 178.8 341 178.5 341.4 178.2C341.8 177.8 342.1 177.3 342.3 176.7C342.5 176.2 342.5 175.6 342.4 175C342.3 174.5 342.2 174.1 341.6 173.5C341.1 172.9 339.9 172.3 339 171.5C338 170.7 336.6 169.2 335.9 168.6C335.2 168 335.1 168 334.6 167.9C334.1 167.8 333.6 167.9 333.2 168C332.7 168.2 332.3 168.5 331.9 168.8C331.6 169.2 331.4 169.7 331.3 170.1C331.2 170.6 331.2 171.1 331.4 171.6C331.5 172 331.5 172.2 332.2 172.8Z"/><path d="M332.6 179.7C331.6 180.3 329.2 181.1 327.8 182.6C326.3 184.1 324.7 187.3 324 188.6C323.3 190 323.6 189.9 323.6 190.5C323.7 191.1 323.9 191.8 324.3 192.3C324.6 192.8 325.2 193.3 325.7 193.5C326.3 193.8 327 193.9 327.6 193.9C328.2 193.8 328.9 193.6 329.4 193.2C329.9 192.9 330.1 192.9 330.6 191.8C331.1 190.7 331.4 187.6 332.2 186.5C333 185.4 334.7 185.6 335.4 185.2C336.2 184.9 336.4 184.6 336.6 184.2C336.9 183.7 337.1 183.2 337.1 182.6C337.2 182.1 337 181.5 336.8 181.1C336.6 180.6 336.2 180.2 335.7 179.9C335.3 179.6 334.7 179.4 334.2 179.4C333.7 179.4 333.7 179.2 332.6 179.7Z"/><path d="M378.5 53.1C377.4 53.9 374.8 56.1 373.3 57.2C371.7 58.4 370 59.3 369.2 60C368.3 60.7 368.3 61 368.1 61.6C367.9 62.2 367.9 62.9 368 63.5C368.2 64.1 368.5 64.7 368.9 65.2C369.3 65.6 369.9 66 370.5 66.2C371.1 66.4 371.8 66.4 372.4 66.3C373 66.1 373.3 66.2 374.1 65.4C374.8 64.7 375.6 63 377 61.8C378.3 60.5 381.2 58.8 382.3 58C383.3 57.1 383 57.2 383.2 56.7C383.4 56.3 383.5 55.7 383.5 55.1C383.4 54.6 383.2 54.1 382.9 53.7C382.5 53.3 382.1 52.9 381.6 52.7C381.1 52.5 380.5 52.4 380 52.5C379.5 52.5 379.7 52.3 378.5 53.1Z"/><path d="M378.3 69.5C379.3 70.4 382 72.4 383.4 73.5C384.8 74.7 385.8 75.7 386.6 76.2C387.5 76.7 388 76.7 388.6 76.6C389.3 76.6 390.1 76.4 390.6 76C391.2 75.7 391.7 75.1 392 74.5C392.3 74 392.5 73.2 392.5 72.5C392.5 71.9 392.2 71.1 391.9 70.5C391.5 70 391.2 69.5 390.4 69.1C389.6 68.8 388.4 69.1 387.1 68.3C385.8 67.5 383.6 65.1 382.5 64.3C381.5 63.5 381.5 63.7 381 63.6C380.4 63.5 379.8 63.5 379.2 63.7C378.7 63.9 378.2 64.3 377.8 64.7C377.5 65.2 377.2 65.8 377.1 66.3C377 66.9 377.1 67.5 377.2 68C377.4 68.6 377.2 68.6 378.3 69.5Z"/><path d="M379.4 76.1C378 76.6 374.6 77.8 372.6 78.7C370.6 79.5 368.5 80.6 367.5 81.2C366.4 81.9 366.5 82.1 366.2 82.6C366 83.2 365.8 83.9 365.9 84.5C365.9 85.1 366.2 85.8 366.5 86.3C366.8 86.8 367.4 87.3 367.9 87.5C368.5 87.8 369.2 87.9 369.8 87.9C370.4 87.9 370.7 87.9 371.6 87.3C372.5 86.6 373.5 84.9 375.1 84C376.8 83.1 380.2 82.4 381.4 81.9C382.7 81.4 382.4 81.4 382.7 81C383.1 80.6 383.3 80.1 383.4 79.6C383.5 79.1 383.5 78.5 383.3 78C383.1 77.5 382.8 77 382.4 76.7C382 76.4 381.5 76.1 381 76C380.5 75.9 380.8 75.7 379.4 76.1Z"/><path d="M378.3 94C379.5 95 382.6 97.1 384.2 98.1C385.9 99.2 387.2 100 388.3 100.4C389.3 100.8 389.8 100.7 390.5 100.6C391.2 100.4 392 100 392.5 99.6C393 99.1 393.5 98.4 393.7 97.7C393.9 97 394 96.2 393.8 95.5C393.7 94.8 393.3 94 392.8 93.5C392.4 92.9 391.8 92.5 391 92.3C390.1 92 389.1 92.8 387.6 92.1C386.2 91.5 383.7 88.9 382.5 88.2C381.4 87.4 381.4 87.6 380.8 87.5C380.2 87.4 379.5 87.5 378.9 87.8C378.4 88 377.8 88.5 377.5 89C377.1 89.5 376.9 90.1 376.8 90.7C376.7 91.3 376.8 92 377.1 92.6C377.3 93.1 377.1 93.1 378.3 94Z"/><path d="M378.6 98.8C377.7 99.5 375.6 101.4 374.4 102.6C373.1 103.9 371.6 105.3 370.9 106.2C370.3 107 370.4 107.2 370.3 107.8C370.3 108.3 370.3 108.9 370.6 109.4C370.8 109.9 371.2 110.4 371.6 110.8C372.1 111.1 372.7 111.3 373.2 111.4C373.7 111.4 374.4 111.4 374.9 111.1C375.4 110.9 375.7 110.9 376.2 110.1C376.8 109.3 377.2 107.4 378.2 106.2C379.2 105.1 381.4 103.7 382.2 102.9C383 102.1 382.9 102.1 383 101.7C383.2 101.3 383.2 100.7 383.1 100.3C383 99.8 382.8 99.3 382.5 99C382.2 98.6 381.7 98.3 381.3 98.2C380.8 98.1 380.3 98 379.8 98.1C379.4 98.2 379.5 98 378.6 98.8Z"/><path d="M378.5 116.7C379.4 117.3 381.4 117.9 382.3 118.8C383.2 119.7 383.4 121.4 384 122.2C384.5 123 385.1 123.2 385.7 123.5C386.4 123.7 387.2 123.8 387.9 123.7C388.6 123.6 389.3 123.2 389.9 122.8C390.4 122.3 390.9 121.7 391.1 121C391.4 120.4 391.4 119.6 391.3 118.9C391.2 118.2 391.2 117.8 390.4 116.9C389.7 116 388 114.7 386.7 113.7C385.3 112.7 383.3 111.3 382.3 110.7C381.2 110.1 381.1 110.2 380.5 110.2C379.9 110.2 379.3 110.3 378.7 110.6C378.2 110.9 377.7 111.3 377.4 111.8C377.1 112.3 376.9 113 376.9 113.6C376.9 114.2 377 114.8 377.3 115.4C377.6 115.9 377.7 116.1 378.5 116.7Z"/><path d="M378.4 124.1C377.7 124.8 376.1 127.2 375.2 127.9C374.3 128.7 373.5 128.3 372.9 128.6C372.4 128.9 372 129.3 371.8 129.7C371.5 130.2 371.4 130.8 371.4 131.3C371.4 131.9 371.6 132.4 371.9 132.9C372.2 133.3 372.6 133.8 373.1 134C373.5 134.3 374.1 134.4 374.7 134.4C375.2 134.4 375.6 134.4 376.2 133.9C376.9 133.5 377.6 132.7 378.6 131.7C379.7 130.6 381.7 128.5 382.4 127.6C383.1 126.7 382.9 126.8 383 126.3C383.1 125.9 383.1 125.4 382.9 125C382.8 124.6 382.5 124.1 382.2 123.8C381.8 123.5 381.4 123.3 380.9 123.2C380.5 123.1 380 123.2 379.5 123.3C379.1 123.4 379.1 123.3 378.4 124.1Z"/><path d="M379.4 139.4C380.4 139.8 382.8 139.8 383.9 140.6C385 141.5 385.5 143.7 386.2 144.5C386.8 145.3 387.2 145.4 387.9 145.6C388.5 145.8 389.2 145.8 389.9 145.7C390.5 145.6 391.2 145.2 391.7 144.8C392.2 144.3 392.6 143.7 392.8 143.1C393 142.5 393.1 141.7 392.9 141C392.8 140.4 392.9 140.2 392 139.2C391.1 138.3 389.1 136.3 387.3 135.3C385.5 134.3 382.7 133.5 381.4 133.1C380.2 132.8 380.2 132.9 379.7 133.1C379.2 133.2 378.6 133.5 378.2 133.8C377.8 134.2 377.4 134.8 377.3 135.3C377.1 135.8 377 136.4 377.2 137C377.3 137.5 377.6 138.1 377.9 138.5C378.3 138.9 378.4 139.1 379.4 139.4Z"/><path d="M378.8 144.8C377.8 145.5 375.2 147.1 373.7 148.5C372.2 149.8 370.4 151.8 369.6 152.8C368.8 153.7 369 153.8 369 154.3C368.9 154.9 369 155.5 369.2 156C369.4 156.5 369.8 157.1 370.3 157.4C370.7 157.7 371.3 158 371.9 158C372.4 158.1 373.1 158 373.6 157.8C374.1 157.6 374.3 157.6 374.9 156.7C375.5 155.8 376.2 153.6 377.3 152.4C378.5 151.1 381 150.1 382 149.4C382.9 148.8 382.7 148.8 382.9 148.3C383.1 147.9 383.2 147.4 383.2 146.9C383.2 146.5 383 145.9 382.7 145.6C382.5 145.2 382 144.8 381.6 144.6C381.2 144.4 380.7 144.3 380.2 144.3C379.7 144.4 379.9 144.1 378.8 144.8Z"/><path d="M379.2 160.2C380.2 160.7 382.7 161.1 383.9 162.2C385.1 163.2 385.7 165.5 386.4 166.4C387 167.3 387.2 167.2 387.7 167.4C388.2 167.6 388.8 167.6 389.4 167.5C389.9 167.5 390.5 167.2 390.9 166.9C391.3 166.6 391.7 166.1 391.8 165.6C392 165.1 392.1 164.4 392 163.9C391.9 163.4 392.2 163.4 391.4 162.4C390.5 161.4 388.7 159.3 387.1 158.1C385.4 157 382.7 155.8 381.6 155.3C380.4 154.8 380.6 155 380.2 155.1C379.7 155.1 379.2 155.3 378.9 155.5C378.5 155.8 378.2 156.2 378 156.6C377.8 157 377.7 157.5 377.7 157.9C377.8 158.4 377.9 158.9 378.2 159.3C378.4 159.6 378.3 159.7 379.2 160.2Z"/><path d="M379.3 163.7C377.8 164.2 374.3 164.9 372.1 166.3C370 167.7 367.6 170.9 366.5 172.2C365.5 173.5 365.8 173.5 365.7 174.2C365.7 174.9 365.8 175.7 366.1 176.4C366.3 177 366.9 177.7 367.4 178.1C368 178.5 368.8 178.8 369.5 178.9C370.2 179 371 178.9 371.6 178.6C372.3 178.3 372.6 178.4 373.4 177.2C374.1 176.1 374.8 172.9 376.1 171.8C377.5 170.7 380.3 170.9 381.5 170.5C382.6 170.2 382.6 170 383 169.5C383.4 169.1 383.7 168.5 383.9 167.9C384 167.3 384 166.6 383.8 166.1C383.6 165.5 383.3 164.9 382.8 164.5C382.4 164.1 381.8 163.8 381.2 163.6C380.6 163.5 380.9 163.3 379.3 163.7Z"/><path d="M379.1 180.8C380.2 181.3 383.1 181.8 384.4 182.8C385.8 183.9 386.5 186.2 387.2 187.1C388 188 388.4 188 389 188.2C389.6 188.4 390.4 188.4 391.1 188.3C391.8 188.1 392.5 187.8 392.9 187.3C393.4 186.9 393.9 186.2 394.1 185.5C394.3 184.9 394.3 184.1 394.1 183.5C394 182.8 394.2 182.6 393.1 181.6C392.1 180.6 390 178.7 388.1 177.5C386.2 176.3 383.1 175.1 381.7 174.5C380.4 174 380.5 174.2 380 174.3C379.4 174.4 378.8 174.6 378.3 175C377.9 175.3 377.5 175.8 377.3 176.3C377 176.9 377 177.5 377 178.1C377.1 178.6 377.3 179.3 377.7 179.7C378 180.2 377.9 180.3 379.1 180.8Z"/><path d="M378.9 187C377.6 187.8 374.6 189.8 372.8 191.1C370.9 192.3 369 193.8 368.1 194.7C367.1 195.5 367.3 195.6 367.2 196.2C367 196.7 367 197.4 367.1 197.9C367.3 198.5 367.6 199.1 368 199.5C368.4 199.9 369 200.2 369.5 200.4C370 200.5 370.7 200.5 371.2 200.4C371.8 200.2 372 200.4 372.8 199.5C373.6 198.7 374.5 196.7 376.1 195.4C377.6 194.1 380.8 192.6 381.9 191.9C383.1 191.1 382.7 191.2 382.9 190.8C383.1 190.4 383.3 189.8 383.3 189.4C383.2 188.9 383.1 188.3 382.8 187.9C382.6 187.5 382.2 187.2 381.7 186.9C381.3 186.7 380.8 186.6 380.3 186.6C379.8 186.6 380.1 186.3 378.9 187Z"/><path d="M379 203.6C380 204.3 382.7 205.5 384 206.5C385.3 207.5 386.2 208.9 386.9 209.5C387.6 210.1 387.9 210 388.4 210.1C388.9 210.2 389.6 210.1 390 209.9C390.5 209.7 391 209.3 391.4 208.9C391.7 208.5 391.9 207.9 392 207.4C392.1 206.8 392 206.2 391.8 205.7C391.6 205.2 391.6 205 390.8 204.4C389.9 203.8 388.4 203.1 386.9 202.2C385.4 201.3 382.9 199.6 381.8 199C380.7 198.4 380.9 198.7 380.4 198.6C380 198.6 379.5 198.8 379.1 199C378.7 199.2 378.3 199.6 378.1 199.9C377.9 200.3 377.7 200.8 377.7 201.3C377.7 201.7 377.8 202.2 378.1 202.6C378.3 203 378 203 379 203.6Z"/><path d="M379.2 210.4C377.9 210.9 374.9 211.9 373.1 213.1C371.3 214.3 369.2 216.5 368.2 217.6C367.3 218.6 367.5 218.7 367.4 219.3C367.3 220 367.4 220.7 367.6 221.3C367.8 221.9 368.2 222.5 368.7 222.9C369.2 223.3 369.9 223.6 370.5 223.7C371.1 223.8 371.9 223.8 372.5 223.6C373 223.3 373.4 223.3 374.1 222.4C374.7 221.5 375.4 219.1 376.6 218C377.9 217 380.5 216.8 381.6 216.4C382.6 215.9 382.6 215.8 382.9 215.4C383.2 215 383.5 214.4 383.6 213.9C383.6 213.4 383.6 212.7 383.4 212.2C383.2 211.7 382.8 211.2 382.4 210.9C382 210.6 381.4 210.3 380.9 210.3C380.4 210.2 380.5 210 379.2 210.4Z"/><path d="M378 227.7C378.9 228.6 381 230.3 382.2 231.3C383.3 232.3 384 233.2 384.8 233.7C385.6 234.1 386.2 234.2 386.9 234.2C387.6 234.1 388.4 233.9 389 233.5C389.6 233.2 390.1 232.6 390.5 231.9C390.8 231.3 391 230.5 391 229.8C391 229.1 390.7 228.3 390.3 227.7C390 227.1 389.4 226.5 388.8 226.2C388.1 225.9 387.3 226.5 386.3 225.9C385.3 225.3 383.6 223.2 382.8 222.5C381.9 221.8 381.7 221.8 381.2 221.6C380.6 221.5 379.9 221.5 379.3 221.7C378.8 221.9 378.2 222.3 377.8 222.7C377.4 223.1 377.1 223.8 376.9 224.3C376.8 224.9 376.8 225.6 377 226.2C377.2 226.7 377.1 226.9 378 227.7Z"/><path d="M378.3 236C377.5 236.8 375.8 238.8 374.7 239.8C373.6 240.9 372.3 241.6 371.7 242.2C371 242.9 371 243.3 370.9 243.8C370.7 244.4 370.8 245.1 371 245.6C371.1 246.2 371.5 246.8 371.9 247.1C372.4 247.5 373 247.8 373.6 247.9C374.1 248.1 374.8 248 375.3 247.8C375.9 247.7 376.3 247.5 376.8 246.9C377.4 246.2 377.8 244.8 378.7 243.7C379.7 242.6 381.7 241 382.5 240.2C383.2 239.4 383.1 239.3 383.2 238.9C383.4 238.4 383.4 237.8 383.2 237.4C383.1 236.9 382.8 236.4 382.5 236C382.1 235.7 381.6 235.4 381.2 235.3C380.7 235.2 380.1 235.2 379.7 235.3C379.2 235.4 379.2 235.3 378.3 236Z"/><path d="M379.1 252.2C380.2 252.8 383 253.7 384.4 254.6C385.8 255.4 386.6 256.9 387.4 257.5C388.2 258.1 388.6 258.1 389.2 258.1C389.8 258.2 390.5 258 391 257.8C391.6 257.5 392.1 257.1 392.5 256.6C392.8 256.1 393.1 255.4 393.1 254.8C393.1 254.2 393 253.5 392.8 252.9C392.5 252.4 392.4 252.1 391.5 251.5C390.6 250.9 388.9 250.2 387.3 249.4C385.6 248.6 382.9 247.2 381.7 246.7C380.5 246.2 380.6 246.4 380.1 246.4C379.6 246.4 379.1 246.7 378.6 246.9C378.2 247.2 377.8 247.7 377.6 248.2C377.4 248.6 377.3 249.2 377.3 249.7C377.4 250.2 377.6 250.8 377.9 251.2C378.2 251.6 378 251.7 379.1 252.2Z"/></g><clipPath id="clc"><use href="#frc" transform="translate(0,-0.5)"/></clipPath><clipPath id="c0c"><use href="#frc"/></clipPath><linearGradient id="cg_c" gradientUnits="userSpaceOnUse" x1="0" y1="0" x2="0" y2="391"><stop offset="0.1023" stop-color="#333333"/><stop offset="0.3069" stop-color="#303030"/><stop offset="0.6394" stop-color="#2b2b2b"/><stop offset="0.8440" stop-color="#282828"/><stop offset="0.9719" stop-color="#242424"/></linearGradient></defs><g filter="url(#cmap)"><rect x="-5" y="-5" width="401" height="401" fill="#808080"/><use href="#frc" fill="#b2b2b2" stroke="#b2b2b2" stroke-width="6" filter="url(#gb5)"/><use href="#frc" fill="#e6e6e6" stroke="#e6e6e6" stroke-width="3.0" filter="url(#gb25)"/><use href="#frc" fill="#ffffff" stroke="#ffffff" stroke-width="1.0" filter="url(#gb05)"/><path d="M30.4 38.1L43.6 38.1L37.0 54.4ZM47.0 41.1L60.2 41.1L53.6 54.4ZM76.2 38.6L90.5 38.6L83.3 54.4ZM105.1 34.6L116.0 34.6L110.5 47.4ZM149.2 47.3L163.5 47.3L156.4 66.3ZM194.4 42.4L208.8 42.4L201.6 55.2ZM218.3 35.4L230.4 35.4L224.4 54.4ZM265.5 36.6L281.5 36.6L273.5 55.2ZM300.5 32.5L306.5 32.5L303.5 38.5ZM325.2 41.3L340.1 41.3L332.6 56.3ZM372.7 42.5L388.1 42.5L380.4 54.4ZM149.4 50.6L160.5 50.6L155.0 69.6ZM328.7 42.3L339.3 42.3L334.0 61.3ZM374.5 42.9L386.3 42.9L380.4 58.5Z" fill="#f2f2f2" filter="url(#gb25)"/><g filter="url(#gb07)"><use href="#frc" fill="url(#cg_c)"/><g clip-path="url(#c0c)"><path d="M19.6 37.8L19.6 350.0M19.6 41.8L9.8 33.9M19.6 50.9L30.1 42.6M19.6 60.3L7.9 50.9M19.6 67.8L28.3 60.8M19.6 78.0L9.7 70.0M19.6 86.0L33.2 75.1M19.6 94.9L6.8 84.7M19.6 103.8L31.4 94.4M19.6 111.6L7.8 102.1M19.6 121.9L30.9 112.9M19.6 131.8L7.6 122.2M19.6 139.2L32.0 129.3M19.6 148.5L9.5 140.4M19.6 155.8L32.6 145.5M19.6 164.7L7.4 155.0M19.6 175.1L31.8 165.3M19.6 185.6L9.0 177.1M19.6 195.7L30.5 187.0M19.6 206.3L6.6 195.8M19.6 213.8L28.9 206.4M19.6 221.8L6.2 211.0M19.6 230.6L31.4 221.2M19.6 238.8L8.5 229.9M19.6 247.4L30.0 239.1M19.6 256.7L8.1 247.5M19.6 267.2L31.7 257.6M19.6 277.7L6.7 267.4M19.6 288.5L31.6 278.9M19.6 296.3L6.7 286.0M19.6 307.0L32.8 296.4M19.6 316.2L7.4 306.5M19.6 324.2L32.4 313.9M19.6 333.4L9.6 325.4M19.6 340.9L32.5 330.6M45.3 52.3L45.3 350.0M45.3 56.3L41.9 53.6M45.3 66.4L49.3 63.2M45.3 74.1L41.6 71.1M45.3 84.1L50.1 80.2M45.3 91.4L41.0 87.9M45.3 98.8L49.8 95.2M45.3 107.2L40.5 103.3M45.3 117.9L49.4 114.6M45.3 128.7L41.5 125.7M45.3 136.2L49.6 132.7M45.3 143.5L41.7 140.6M45.3 152.2L49.6 148.7M45.3 159.9L42.0 157.3M45.3 170.2L49.1 167.2M45.3 180.9L40.4 177.0M45.3 189.5L49.4 186.2M45.3 198.5L40.9 195.0M45.3 207.9L49.5 204.5M45.3 217.3L40.4 213.3M45.3 226.3L49.3 223.1M45.3 236.1L41.7 233.2M45.3 244.4L50.3 240.4M45.3 253.5L41.1 250.1M45.3 260.7L49.3 257.5M45.3 270.0L42.1 267.4M45.3 279.4L49.7 275.9M45.3 286.8L40.9 283.4M45.3 295.7L49.8 292.2M45.3 304.2L40.8 300.6M45.3 314.1L48.5 311.5M45.3 321.5L40.8 317.9M45.3 332.1L49.0 329.2M45.3 341.0L41.0 337.5M68.5 45.1L68.5 350.0M68.5 49.1L59.9 42.2M68.5 57.5L77.1 50.6M68.5 66.8L60.1 60.1M68.5 75.4L78.8 67.1M68.5 82.7L59.0 75.1M68.5 92.5L76.9 85.8M68.5 100.5L58.0 92.2M68.5 108.6L76.4 102.3M68.5 117.3L58.5 109.3M68.5 124.9L76.9 118.2M68.5 133.3L57.9 124.9M68.5 142.1L79.2 133.6M68.5 149.9L60.0 143.1M68.5 159.4L79.3 150.8M68.5 168.3L60.4 161.8M68.5 175.9L77.8 168.5M68.5 183.8L58.0 175.4M68.5 194.0L76.4 187.7M68.5 202.2L58.0 193.8M68.5 211.7L78.9 203.4M68.5 220.2L60.8 214.0M68.5 228.4L78.9 220.1M68.5 236.6L59.9 229.8M68.5 245.3L77.3 238.2M68.5 254.0L57.6 245.2M68.5 261.7L75.6 256.0M68.5 272.3L57.7 263.7M68.5 283.1L77.4 275.9M68.5 293.7L57.5 284.9M68.5 301.7L78.7 293.5M68.5 311.9L58.6 304.0M68.5 321.0L76.8 314.3M68.5 329.4L60.4 323.0M68.5 336.8L78.0 329.2M68.5 345.1L58.0 336.7M96.9 42.2L96.9 350.0M96.9 46.2L87.2 38.4M96.9 55.9L106.7 48.1M96.9 66.3L87.2 58.6M96.9 75.6L103.4 70.5M96.9 85.5L89.9 79.9M96.9 93.8L105.8 86.7M96.9 102.9L89.0 96.5M96.9 113.4L105.6 106.5M96.9 121.9L89.6 116.0M96.9 132.2L105.1 125.7M96.9 142.2L89.3 136.1M96.9 150.1L105.3 143.4M96.9 160.2L89.9 154.6M96.9 170.3L106.7 162.5M96.9 180.4L87.5 172.9M96.9 187.6L105.6 180.7M96.9 197.9L90.4 192.7M96.9 206.1L104.3 200.2M96.9 215.2L89.0 208.8M96.9 224.1L106.2 216.7M96.9 231.3L90.4 226.1M96.9 239.0L103.8 233.5M96.9 246.4L87.0 238.4M96.9 256.7L103.6 251.3M96.9 265.7L89.4 259.7M96.9 274.0L104.6 267.9M96.9 283.6L88.4 276.7M96.9 292.1L104.0 286.4M96.9 300.4L90.1 295.0M96.9 309.6L106.0 302.4M96.9 318.2L90.3 312.9M96.9 326.0L104.7 319.8M96.9 335.4L87.7 328.0M96.9 344.0L106.3 336.5M133.5 45.4L133.5 350.0M133.5 49.4L118.5 37.4M133.5 57.9L148.9 45.6M133.5 67.6L118.6 55.7M133.5 77.3L148.6 65.2M133.5 85.4L117.8 72.9M133.5 95.1L145.9 85.2M133.5 103.8L118.5 91.9M133.5 114.2L151.9 99.4M133.5 122.8L115.3 108.2M133.5 132.8L147.2 121.8M133.5 141.7L120.7 131.4M133.5 151.8L150.0 138.6M133.5 162.2L116.0 148.2M133.5 171.8L150.5 158.2M133.5 181.0L120.8 170.9M133.5 190.3L145.4 180.8M133.5 198.1L116.1 184.2M133.5 205.4L146.0 195.4M133.5 213.0L115.4 198.5M133.5 220.8L145.6 211.1M133.5 231.0L120.7 220.8M133.5 241.3L150.1 228.0M133.5 251.5L114.9 236.6M133.5 260.8L151.0 246.8M133.5 268.1L116.2 254.3M133.5 277.2L150.4 263.6M133.5 284.7L116.3 271.0M133.5 295.3L145.8 285.4M133.5 303.7L117.6 291.0M133.5 313.9L147.1 302.9M133.5 321.7L119.8 310.8M133.5 331.1L150.6 317.4M133.5 339.7L119.0 328.1M179.0 45.2L179.0 350.0M179.0 49.2L164.8 37.9M179.0 57.9L191.3 48.1M179.0 66.9L160.5 52.2M179.0 75.6L195.9 62.1M179.0 83.4L162.5 70.2M179.0 93.3L195.4 80.2M179.0 102.4L163.9 90.3M179.0 111.9L196.9 97.5M179.0 119.6L166.5 109.7M179.0 129.5L197.1 115.1M179.0 138.6L164.2 126.7M179.0 148.4L192.0 137.9M179.0 156.5L165.8 146.0M179.0 165.8L192.9 154.7M179.0 173.9L162.5 160.7M179.0 184.5L192.8 173.5M179.0 194.3L164.4 182.6M179.0 204.5L194.8 191.9M179.0 212.7L165.7 202.1M179.0 220.0L194.1 207.9M179.0 228.6L166.0 218.2M179.0 237.1L193.0 225.9M179.0 247.0L166.2 236.8M179.0 257.8L194.1 245.8M179.0 267.2L164.0 255.2M179.0 277.4L196.4 263.4M179.0 286.6L163.9 274.5M179.0 296.4L196.6 282.2M179.0 305.0L162.2 291.6M179.0 315.7L194.0 303.7M179.0 323.7L165.6 313.0M179.0 333.5L195.4 320.3M179.0 344.1L161.3 330.0M213.0 52.9L213.0 350.0M213.0 56.9L207.4 52.4M213.0 65.0L218.6 60.5M213.0 74.7L205.4 68.7M213.0 85.2L218.8 80.5M213.0 95.5L207.0 90.7M213.0 104.2L220.2 98.5M213.0 111.7L207.7 107.5M213.0 121.9L218.9 117.2M213.0 130.4L206.3 125.0M213.0 140.0L218.0 136.0M213.0 148.4L206.7 143.4M213.0 157.4L218.6 152.9M213.0 166.7L205.2 160.4M213.0 175.3L219.6 170.0M213.0 182.9L207.2 178.3M213.0 192.5L218.4 188.2M213.0 202.9L205.3 196.8M213.0 210.5L220.8 204.2M213.0 219.0L205.7 213.2M213.0 228.9L218.9 224.2M213.0 238.6L206.0 233.0M213.0 248.7L218.8 244.0M213.0 258.6L205.1 252.3M213.0 268.2L219.6 262.9M213.0 275.8L206.5 270.6M213.0 284.3L220.1 278.6M213.0 293.9L206.3 288.6M213.0 301.8L219.9 296.3M213.0 311.3L207.4 306.8M213.0 321.7L219.9 316.1M213.0 329.3L205.2 323.1M213.0 337.0L219.0 332.2M248.9 29.2L248.9 350.0M248.9 33.2L231.5 19.3M248.9 42.4L266.8 28.2M248.9 51.3L233.6 39.1M248.9 59.1L262.4 48.4M248.9 68.9L230.3 54.0M248.9 78.1L267.5 63.2M248.9 86.6L234.0 74.6M248.9 95.1L268.5 79.5M248.9 102.5L232.2 89.1M248.9 110.6L267.7 95.6M248.9 119.0L233.5 106.7M248.9 127.7L266.0 114.1M248.9 137.7L233.3 125.2M248.9 147.9L262.7 136.9M248.9 156.1L235.3 145.1M248.9 163.7L267.8 148.7M248.9 173.5L234.6 162.1M248.9 181.4L265.0 168.5M248.9 191.3L229.8 176.0M248.9 201.2L266.4 187.3M248.9 208.9L233.0 196.1M248.9 216.8L265.9 203.3M248.9 226.0L234.5 214.5M248.9 234.1L267.8 219.1M248.9 241.5L229.9 226.3M248.9 251.9L269.1 235.8M248.9 260.4L231.8 246.8M248.9 269.7L266.7 255.6M248.9 280.5L230.8 266.0M248.9 288.7L268.4 273.2M248.9 297.7L231.5 283.7M248.9 307.5L261.9 297.1M248.9 317.5L231.0 303.1M248.9 326.4L265.8 312.9M248.9 335.3L234.5 323.8M248.9 344.4L262.2 333.8M288.5 41.6L288.5 350.0M288.5 45.6L278.6 37.7M288.5 54.4L298.1 46.8M288.5 65.1L277.6 56.3M288.5 72.8L299.0 64.3M288.5 82.2L281.1 76.3M288.5 90.7L296.7 84.2M288.5 98.2L279.0 90.6M288.5 108.7L297.1 101.9M288.5 119.1L278.4 111.0M288.5 126.7L299.3 118.1M288.5 136.1L277.4 127.2M288.5 145.9L298.8 137.6M288.5 154.3L277.9 145.9M288.5 164.9L299.3 156.2M288.5 173.6L278.1 165.4M288.5 182.6L296.2 176.5M288.5 189.9L281.0 183.9M288.5 197.9L296.4 191.6M288.5 206.9L278.4 198.8M288.5 216.0L297.5 208.8M288.5 225.5L280.0 218.8M288.5 234.4L298.9 226.1M288.5 243.0L280.6 236.7M288.5 253.5L298.7 245.3M288.5 262.0L279.8 255.0M288.5 271.1L298.2 263.4M288.5 279.1L281.3 273.4M288.5 287.1L299.0 278.7M288.5 294.8L279.4 287.5M288.5 302.7L296.6 296.2M288.5 310.5L279.6 303.4M288.5 318.3L295.8 312.5M288.5 325.9L280.6 319.6M288.5 334.9L296.0 328.9M288.5 342.2L279.4 334.9M318.1 44.2L318.1 350.0M318.1 48.2L308.3 40.3M318.1 55.6L326.7 48.7M318.1 64.2L311.0 58.5M318.1 74.9L325.9 68.6M318.1 82.4L309.2 75.3M318.1 90.2L327.5 82.6M318.1 98.6L310.6 92.7M318.1 106.0L328.0 98.1M318.1 114.2L307.9 106.1M318.1 123.1L328.8 114.5M318.1 131.4L310.1 125.0M318.1 139.5L328.3 131.3M318.1 149.0L309.7 142.3M318.1 156.5L327.8 148.8M318.1 167.2L308.7 159.7M318.1 174.4L325.1 168.8M318.1 182.0L310.4 175.9M318.1 189.3L325.2 183.6M318.1 198.8L307.5 190.4M318.1 206.8L329.0 198.1M318.1 215.7L307.9 207.5M318.1 226.2L328.8 217.6M318.1 233.5L309.9 227.0M318.1 242.9L328.9 234.3M318.1 250.4L309.9 243.9M318.1 260.7L325.5 254.7M318.1 269.3L309.8 262.6M318.1 278.9L328.8 270.4M318.1 286.8L308.1 278.8M318.1 296.6L328.4 288.3M318.1 305.8L307.4 297.2M318.1 314.3L326.7 307.4M318.1 322.3L308.0 314.2M318.1 331.3L326.1 324.8M318.1 339.1L308.2 331.2M356.5 41.5L356.5 350.0M356.5 45.5L338.8 31.4M356.5 54.1L372.6 41.3M356.5 61.9L338.8 47.7M356.5 69.2L372.5 56.4M356.5 79.1L339.0 65.1M356.5 86.6L370.8 75.2M356.5 96.9L339.3 83.1M356.5 107.2L375.4 92.1M356.5 116.1L337.4 100.8M356.5 125.9L371.5 113.9M356.5 134.4L343.5 124.0M356.5 143.1L376.0 127.5M356.5 150.7L339.8 137.3M356.5 158.2L369.6 147.8M356.5 167.8L342.2 156.4M356.5 175.2L370.2 164.2M356.5 184.7L339.7 171.2M356.5 191.9L370.7 180.6M356.5 202.6L342.4 191.3M356.5 211.8L372.1 199.4M356.5 221.8L339.6 208.3M356.5 231.9L373.0 218.7M356.5 239.8L342.7 228.7M356.5 247.2L375.1 232.4M356.5 254.8L343.8 244.7M356.5 265.5L370.5 254.3M356.5 275.9L343.4 265.4M356.5 284.8L370.7 273.5M356.5 295.0L339.5 281.4M356.5 304.5L374.6 290.0M356.5 314.9L341.5 302.8M356.5 324.2L372.3 311.6M356.5 331.8L337.9 316.9M356.5 341.2L375.0 326.4M392.6 47.6L392.6 350.0M392.6 51.6L385.3 45.8M392.6 60.5L400.5 54.2M392.6 68.0L386.0 62.7M392.6 76.9L398.4 72.3M392.6 86.1L384.7 79.8M392.6 94.8L400.2 88.8M392.6 104.2L386.4 99.3M392.6 112.7L401.4 105.7M392.6 121.1L385.7 115.6M392.6 128.6L398.8 123.6M392.6 136.4L384.1 129.6M392.6 146.2L401.0 139.5M392.6 157.0L385.1 151.0M392.6 167.5L399.9 161.7M392.6 176.2L384.0 169.4M392.6 186.7L401.2 179.8M392.6 195.6L384.6 189.2M392.6 204.3L401.4 197.3M392.6 214.8L386.1 209.6M392.6 225.4L398.7 220.5M392.6 232.9L384.8 226.6M392.6 241.2L399.8 235.4M392.6 250.7L387.0 246.1M392.6 260.5L399.0 255.4M392.6 269.3L386.0 264.0M392.6 279.2L400.6 272.8M392.6 287.4L386.8 282.7M392.6 295.7L399.5 290.2M392.6 303.2L386.6 298.3M392.6 313.1L400.4 306.9M392.6 323.8L383.9 316.9M392.6 334.2L399.3 328.8M392.6 342.0L386.1 336.7" stroke="#212121" stroke-width="1.6" fill="none" stroke-linecap="round" filter="url(#gb1)"/></g><g fill="#383838" filter="url(#gb2)"><ellipse cx="23.9" cy="361.4" rx="5.9" ry="7.0"/><ellipse cx="43.4" cy="361.1" rx="5.6" ry="7.0"/><ellipse cx="60.6" cy="361.1" rx="5.6" ry="7.0"/><ellipse cx="82.2" cy="361.1" rx="5.6" ry="7.0"/><ellipse cx="97.2" cy="361.1" rx="5.6" ry="7.0"/><ellipse cx="114.7" cy="359.7" rx="4.3" ry="7.0"/><ellipse cx="139.7" cy="361.1" rx="5.6" ry="7.0"/><ellipse cx="167.5" cy="350.8" rx="4.3" ry="7.0"/><ellipse cx="160.0" cy="360.5" rx="4.3" ry="7.0"/><ellipse cx="175.0" cy="355.2" rx="4.5" ry="7.0"/><ellipse cx="196.1" cy="361.1" rx="5.6" ry="7.0"/><ellipse cx="213.8" cy="361.1" rx="5.6" ry="7.0"/><ellipse cx="236.0" cy="361.1" rx="4.8" ry="7.0"/><ellipse cx="259.9" cy="361.4" rx="5.9" ry="7.0"/><ellipse cx="283.2" cy="360.8" rx="5.4" ry="7.0"/><ellipse cx="303.5" cy="359.4" rx="4.0" ry="7.0"/><ellipse cx="323.8" cy="361.1" rx="5.6" ry="7.0"/><ellipse cx="344.3" cy="361.1" rx="5.6" ry="7.0"/><ellipse cx="366.0" cy="360.8" rx="5.4" ry="7.0"/><ellipse cx="391.5" cy="359.4" rx="5.9" ry="7.0"/><ellipse cx="1.7" cy="359.7" rx="4.3" ry="7.0"/></g><use href="#chc" fill="#333333" stroke="#333333" stroke-width="7" filter="url(#gb15)" clip-path="url(#c0c)"/><use href="#chc" fill="#4c4c4c" stroke="#4c4c4c" stroke-width="3.5" filter="url(#gb07)" clip-path="url(#c0c)"/><use href="#chc" fill="#fff" clip-path="url(#clc)"/><rect x="-5" y="379" width="401" height="30" fill="#101010"/></g></g>
</svg>
<rect x="971.50" y="45.00" width="391.50" height="391.30" fill="none" stroke="#111" stroke-width="1.3"/>
<path d="M971.50 45.00v-5.5M971.50 436.30v5.5M971.50 436.30h-5.5M1363.00 436.30h5.5M987.16 45.00v-2.6M987.16 436.30v2.6M971.50 420.65h-2.6M1363.00 420.65h2.6M1002.82 45.00v-2.6M1002.82 436.30v2.6M971.50 405.00h-2.6M1363.00 405.00h2.6M1018.48 45.00v-2.6M1018.48 436.30v2.6M971.50 389.34h-2.6M1363.00 389.34h2.6M1034.14 45.00v-2.6M1034.14 436.30v2.6M971.50 373.69h-2.6M1363.00 373.69h2.6M1049.80 45.00v-5.5M1049.80 436.30v5.5M971.50 358.04h-5.5M1363.00 358.04h5.5M1065.46 45.00v-2.6M1065.46 436.30v2.6M971.50 342.39h-2.6M1363.00 342.39h2.6M1081.12 45.00v-2.6M1081.12 436.30v2.6M971.50 326.74h-2.6M1363.00 326.74h2.6M1096.78 45.00v-2.6M1096.78 436.30v2.6M971.50 311.08h-2.6M1363.00 311.08h2.6M1112.44 45.00v-2.6M1112.44 436.30v2.6M971.50 295.43h-2.6M1363.00 295.43h2.6M1128.10 45.00v-5.5M1128.10 436.30v5.5M971.50 279.78h-5.5M1363.00 279.78h5.5M1143.76 45.00v-2.6M1143.76 436.30v2.6M971.50 264.13h-2.6M1363.00 264.13h2.6M1159.42 45.00v-2.6M1159.42 436.30v2.6M971.50 248.48h-2.6M1363.00 248.48h2.6M1175.08 45.00v-2.6M1175.08 436.30v2.6M971.50 232.82h-2.6M1363.00 232.82h2.6M1190.74 45.00v-2.6M1190.74 436.30v2.6M971.50 217.17h-2.6M1363.00 217.17h2.6M1206.40 45.00v-5.5M1206.40 436.30v5.5M971.50 201.52h-5.5M1363.00 201.52h5.5M1222.06 45.00v-2.6M1222.06 436.30v2.6M971.50 185.87h-2.6M1363.00 185.87h2.6M1237.72 45.00v-2.6M1237.72 436.30v2.6M971.50 170.22h-2.6M1363.00 170.22h2.6M1253.38 45.00v-2.6M1253.38 436.30v2.6M971.50 154.56h-2.6M1363.00 154.56h2.6M1269.04 45.00v-2.6M1269.04 436.30v2.6M971.50 138.91h-2.6M1363.00 138.91h2.6M1284.70 45.00v-5.5M1284.70 436.30v5.5M971.50 123.26h-5.5M1363.00 123.26h5.5M1300.36 45.00v-2.6M1300.36 436.30v2.6M971.50 107.61h-2.6M1363.00 107.61h2.6M1316.02 45.00v-2.6M1316.02 436.30v2.6M971.50 91.96h-2.6M1363.00 91.96h2.6M1331.68 45.00v-2.6M1331.68 436.30v2.6M971.50 76.30h-2.6M1363.00 76.30h2.6M1347.34 45.00v-2.6M1347.34 436.30v2.6M971.50 60.65h-2.6M1363.00 60.65h2.6M1363.00 45.00v-5.5M1363.00 436.30v5.5M971.50 45.00h-5.5M1363.00 45.00h5.5" stroke="#222" stroke-width="1" fill="none"/>
<svg x="125.50" y="482.30" width="390.80" height="390.00" viewBox="0 0 391 391" preserveAspectRatio="none" overflow="hidden">
<rect width="391" height="391" fill="#69b35f"/>
<defs><path id="frd" d="M-8.6 311.8C-7.3 312.9 -2.8 315.7 -0.5 318.5C1.8 321.3 3.2 326.9 4.9 328.5C6.6 330.2 8.6 330.4 9.8 328.5C10.9 326.6 10.7 321.3 11.7 317.2C12.7 313 13.7 306.8 15.7 303.7C17.7 300.5 21.4 298.5 23.8 298.3C26.3 298 28.9 300.1 30.6 302.3C32.3 304.6 33.3 308.5 34.1 311.8C34.9 315.1 34 320.3 35.5 322C36.9 323.8 41.3 324.2 42.8 322C44.2 319.9 43.2 313.3 44.1 309.1C45 304.9 46.6 299.8 48.2 296.9C49.7 294 51.5 291.7 53.6 291.5C55.6 291.3 58.4 293.3 60.3 295.5C62.2 297.8 63.8 301.6 64.9 305C66 308.4 66.5 312.4 67.1 315.8C67.7 319.2 64.6 323.7 68.7 325.3C72.9 326.9 87.9 327.5 92 325.3C96 323 92 316.7 92.8 311.8C93.6 306.8 95 299.4 96.8 295.5C98.6 291.7 101.6 289.5 103.6 288.8C105.6 288.1 107.9 290.5 109 291.5C110.1 292.5 109.6 294.4 110.3 295C111.1 295.6 112.7 295.8 113.6 295C114.5 294.2 114.5 291.3 115.7 290.1C117 289 119 287.6 121.2 288.2C123.3 288.9 126.7 291.4 128.7 294.2C130.8 297 132.3 301.4 133.3 305C134.3 308.6 133.9 314 134.7 315.8C135.4 317.6 137 316.5 137.9 315.8C138.8 315.1 139.2 312.7 140.1 311.8C141 310.9 142.2 310.2 143.3 310.4C144.4 310.6 145.6 312 146.8 313.1C148.1 314.2 149.4 316.6 150.9 317.2C152.4 317.8 154.6 319.8 155.8 316.6C156.9 313.5 156.7 302.9 157.7 298.3C158.6 293.6 160.4 290.8 161.7 288.8C163.1 286.8 164 286.1 165.8 286.1C167.6 286.1 170.3 286.5 172.5 288.8C174.8 291 177.3 295.8 179.3 299.6C181.3 303.4 183.3 307.3 184.7 311.8C186 316.3 186 324.2 187.4 326.6C188.7 329.1 191.4 329.1 192.8 326.6C194.1 324.2 194.1 317 195.5 311.8C196.9 306.6 198.4 299.8 200.9 295.5C203.4 291.3 207.9 287.3 210.4 286.1C212.8 284.8 214.5 286.9 215.8 288C217 289 216.9 291.6 217.9 292.3C218.9 293 220.7 293.2 221.7 292.3C222.7 291.4 222.6 288.2 223.9 286.9C225.1 285.6 227.4 284.4 229.3 284.7C231.2 285 233.9 286.8 235.2 288.8C236.6 290.8 236.2 295.5 237.4 296.9C238.6 298.3 241.1 297.4 242.3 296.9C243.4 296.4 242.5 294.9 244.2 294.2C245.8 293.5 249.8 292.2 252.3 292.8C254.7 293.5 257.2 295.1 259 298.3C260.8 301.4 261.7 307.3 263.1 311.8C264.4 316.3 266 321.2 267.1 325.3C268.3 329.3 259.5 334.3 269.8 336.1C280.2 337.9 319 337.9 329.3 336.1C339.7 334.3 331.1 330.7 332 325.3C332.9 319.9 333.1 309.1 334.7 303.7C336.3 298.3 339.2 294.2 341.5 292.8C343.7 291.5 346.8 294.3 348.2 295.5C349.7 296.8 349.2 299.6 350.1 300.4C351.1 301.2 352.9 300.8 353.9 300.4C355 300.1 355.3 298.7 356.4 298.3C357.4 297.8 359.1 297.7 360.4 297.7C361.8 297.7 363.7 297.8 364.5 298.3C365.3 298.7 364.5 300.1 365.3 300.4C366 300.8 368.1 301.2 369.1 300.4C370.1 299.6 370.2 296.8 371.2 295.5C372.3 294.3 373.2 291.9 375.3 292.8C377.3 293.7 381.4 297.8 383.4 301C385.4 304.1 386.5 306.9 387.4 311.8C388.3 316.6 387.9 327.1 388.8 330.2C389.7 333.2 391.5 331.4 392.8 330.2C394.2 328.9 396.2 323.8 396.9 322.6L396.9 430L-8.6 430Z"/><g id="chd"><path d="M-2.6 329.2C-2.1 332.8 -0.5 342.5 0.7 347.8C1.8 353.2 3.5 358.7 4.3 361.3C5.2 363.9 5.1 362.9 5.7 363.5C6.3 364 7.1 364.4 7.9 364.6C8.7 364.8 9.6 364.8 10.4 364.5C11.2 364.3 12 363.8 12.5 363.2C13.1 362.6 13.5 361.7 13.7 361C13.9 360.2 14.4 360.9 13.6 358.4C12.8 356 10.2 351.1 9.1 346C8 340.9 7.5 331.2 7 327.8C6.5 324.4 6.5 326.2 6 325.5C5.5 324.9 4.7 324.3 4 324C3.2 323.7 2.3 323.6 1.5 323.7C0.7 323.8 -0.2 324.2 -0.8 324.7C-1.4 325.2 -2 326 -2.3 326.7C-2.6 327.5 -3.1 325.7 -2.6 329.2Z"/><path d="M34.4 322.1C34.2 325.3 34.2 333.9 34.1 338.9C34 344 34.1 349.4 33.8 352.5C33.6 355.6 32.5 356.2 32.5 357.7C32.4 359.2 32.9 360.4 33.5 361.5C34.1 362.6 35.2 363.6 36.3 364.3C37.4 364.9 38.8 365.3 40.1 365.3C41.3 365.3 42.7 364.9 43.8 364.3C44.9 363.6 46 362.6 46.6 361.5C47.2 360.4 47.7 359.3 47.6 357.7C47.6 356.2 46.7 355.3 46.3 352.1C45.8 349 45.3 343.7 44.9 338.7C44.5 333.6 44.3 325.1 44.1 322C43.8 318.8 43.8 320.2 43.4 319.5C43 318.9 42.3 318.2 41.6 317.8C40.9 317.4 40 317.2 39.2 317.2C38.4 317.2 37.4 317.5 36.7 317.9C36.1 318.3 35.4 319 35 319.7C34.6 320.4 34.5 318.9 34.4 322.1Z"/><path d="M31.9 364.1C35 364.2 45.1 364.2 48.2 364.1C51.2 364 49.6 363.9 50.3 363.5C50.9 363.2 51.4 362.6 51.8 362C52.1 361.4 52.3 360.6 52.3 359.9C52.3 359.2 52.1 358.4 51.8 357.8C51.4 357.2 50.9 356.6 50.3 356.3C49.6 355.9 51.2 355.8 48.2 355.7C45.1 355.6 35 355.6 31.9 355.7C28.9 355.8 30.5 355.9 29.9 356.3C29.2 356.6 28.7 357.2 28.3 357.8C28 358.4 27.8 359.2 27.8 359.9C27.8 360.6 28 361.4 28.3 362C28.7 362.6 29.2 363.2 29.9 363.5C30.5 363.9 28.9 364 31.9 364.1Z"/><path d="M67.9 325.8C67.8 327.3 68.3 327.1 68.7 328.5C69.1 329.9 69.3 332.7 70.3 334.3C71.2 336 72.8 337.6 74.5 338.6C76.2 339.6 78.4 340.1 80.3 340.1C82.3 340.1 84.5 339.6 86.1 338.6C87.8 337.6 89.4 336 90.4 334.3C91.4 332.7 91.6 329.9 91.9 328.5C92.3 327.1 92.9 327.3 92.8 325.8C92.6 324.3 92.1 321.4 91.1 319.6C90.1 317.8 88.3 316.1 86.5 315.1C84.8 314 82.4 313.4 80.3 313.4C78.3 313.4 75.9 314 74.1 315.1C72.3 316.1 70.6 317.8 69.6 319.6C68.5 321.4 68.1 324.3 67.9 325.8Z"/><path d="M65.6 325.4C64.8 328.8 62.8 337.7 61.8 343.4C60.7 349.2 59.6 356.8 59.3 359.9C58.9 363 59.3 361.5 59.6 362.2C59.9 362.9 60.5 363.7 61.1 364.1C61.7 364.6 62.6 364.9 63.3 365C64.1 365.1 65 364.9 65.7 364.6C66.4 364.3 67.1 363.8 67.5 363.2C68 362.6 68 364 68.4 361C68.8 357.9 68.6 350.5 69.7 345C70.8 339.5 74.1 331.1 75 327.9C75.9 324.6 75.2 326.1 75 325.4C74.8 324.6 74.3 323.8 73.7 323.2C73.2 322.6 72.3 322.1 71.6 321.9C70.8 321.7 69.8 321.7 69 322C68.3 322.2 67.4 322.6 66.9 323.2C66.3 323.8 66.5 322 65.6 325.4Z"/><path d="M74.4 330.1C74.1 333.3 73.6 341.8 73.6 346.8C73.5 351.8 73.9 357.7 74.1 360.2C74.4 362.8 74.5 361.8 74.9 362.3C75.3 362.9 76 363.5 76.6 363.8C77.3 364.1 78.1 364.2 78.8 364.2C79.5 364.1 80.3 363.8 80.9 363.4C81.5 363 82 362.4 82.3 361.7C82.6 361.1 82.9 362 82.7 359.5C82.5 357.1 80.9 351.7 81.1 347C81.4 342.3 83.6 334.3 84.1 331.3C84.5 328.2 84 329.5 83.7 328.8C83.4 328 82.8 327.3 82.1 326.8C81.5 326.3 80.6 326 79.8 325.9C79 325.8 78.1 325.9 77.3 326.2C76.6 326.6 75.8 327.1 75.4 327.8C74.9 328.4 74.7 327 74.4 330.1Z"/><path d="M84.6 329.8C85.5 333.2 89 342.5 90.2 347.8C91.4 353.1 91.3 359 91.8 361.7C92.2 364.3 92.2 363.2 92.7 363.8C93.2 364.4 93.9 365 94.6 365.2C95.3 365.5 96.2 365.6 97 365.5C97.7 365.4 98.6 365 99.2 364.5C99.7 364.1 100.3 363.3 100.6 362.6C100.8 361.9 101.2 363 100.8 360.3C100.4 357.5 99.2 351.6 98.1 346.1C96.9 340.6 94.8 330.8 93.9 327.3C93.1 323.8 93.3 325.7 92.7 325.1C92.1 324.5 91.3 324.1 90.5 323.8C89.7 323.6 88.8 323.6 88 323.8C87.2 324 86.4 324.5 85.8 325.1C85.3 325.7 84.8 326.5 84.6 327.3C84.4 328 83.6 326.4 84.6 329.8Z"/><path d="M109.3 295C109.2 300.3 109.3 314 109.3 325.3C109.2 336.6 109 356.1 109 362.6C109 369.1 109.2 363.9 109.5 364.4C109.8 364.9 110.3 365.4 110.8 365.6C111.3 365.9 111.9 366.1 112.5 366.1C113.1 366.1 113.8 365.9 114.3 365.6C114.8 365.3 115.3 364.8 115.6 364.3C115.8 363.8 116.1 369.1 116 362.6C115.9 356.1 115.4 336.5 115.2 325.3C115 314 114.8 300.3 114.7 295C114.5 289.7 114.5 294 114.3 293.6C114.1 293.3 113.7 292.9 113.3 292.7C112.9 292.4 112.4 292.3 111.9 292.3C111.5 292.3 111 292.5 110.6 292.7C110.2 292.9 109.8 293.3 109.6 293.7C109.4 294.1 109.3 289.8 109.3 295Z"/><path d="M132.3 316.1C131.6 320.1 130.1 331 129 338.2C128 345.5 126.3 355.8 125.8 359.8C125.3 363.8 125.8 361.6 126.1 362.3C126.5 363.1 127 363.8 127.7 364.3C128.3 364.8 129.2 365.1 130 365.2C130.8 365.3 131.8 365.2 132.5 364.9C133.2 364.6 134 364 134.5 363.4C135 362.7 134.9 365 135.4 361C136 357 136.8 346.7 137.6 339.4C138.4 332 139.9 321.2 140.3 317.2C140.7 313.1 140.3 315.7 140 315.1C139.8 314.5 139.3 313.8 138.8 313.4C138.2 313 137.5 312.7 136.8 312.6C136.2 312.5 135.4 312.6 134.8 312.9C134.1 313.2 133.5 313.6 133.1 314.2C132.7 314.7 133 312.1 132.3 316.1Z"/><path d="M149 317.5C149.2 321.5 150 332 150.4 339.1C150.8 346.2 151.1 356.3 151.5 360.2C151.8 364.1 151.8 361.9 152.3 362.6C152.7 363.3 153.4 363.9 154.1 364.2C154.9 364.6 155.8 364.8 156.6 364.7C157.4 364.7 158.3 364.4 159 363.9C159.7 363.5 160.3 362.8 160.7 362C161 361.3 161.3 363.5 161.1 359.6C161 355.7 160.1 345.6 159.5 338.5C158.9 331.4 158.1 320.8 157.6 316.9C157.2 312.9 157.3 315.3 156.9 314.7C156.5 314.2 155.8 313.6 155.2 313.3C154.5 313 153.7 312.8 153 312.9C152.3 312.9 151.5 313.2 150.9 313.6C150.3 314 149.8 314.7 149.4 315.3C149.1 316 148.9 313.5 149 317.5Z"/><path d="M145 350C145.1 352 145.8 358.3 146.1 360.3C146.4 362.3 146.4 361.6 146.8 362C147.1 362.5 147.7 362.9 148.2 363.1C148.7 363.3 149.4 363.4 150 363.4C150.6 363.3 151.2 363 151.7 362.7C152.1 362.3 152.6 361.8 152.8 361.2C153 360.7 153.2 361.4 153 359.4C152.8 357.4 151.8 351.2 151.4 349.2C151 347.2 151.1 348.1 150.8 347.6C150.4 347.2 149.9 346.8 149.4 346.6C148.9 346.4 148.3 346.3 147.8 346.4C147.2 346.5 146.6 346.7 146.2 347.1C145.8 347.4 145.4 347.9 145.2 348.4C145 348.9 144.8 348 145 350Z"/><path d="M185.2 326.6C184.7 329 183.7 334.3 182.5 338.4C181.4 342.5 179.1 348.3 178.5 351.3C178 354.3 178.7 355 179.4 356.5C180.1 358.1 181.4 359.7 182.8 360.7C184.1 361.7 186 362.4 187.7 362.5C189.4 362.7 191.4 362.4 193 361.7C194.5 361 196.1 359.7 197.1 358.3C198.1 356.9 198.9 356.5 199 353.3C199 350.2 198.3 343.7 197.6 339.2C197 334.7 195.5 329.1 194.9 326.6C194.4 324.1 194.7 324.9 194.3 324.2C193.9 323.5 193.2 322.8 192.5 322.4C191.8 322 190.9 321.8 190.1 321.8C189.3 321.8 188.4 322 187.7 322.4C187 322.8 186.3 323.5 185.9 324.2C185.5 324.9 185.8 324.3 185.2 326.6Z"/><path d="M180.5 351.6C178.8 352.6 174.7 355.7 173.2 356.8C171.8 358 171.9 357.9 171.5 358.6C171.1 359.3 170.9 360.3 170.9 361.1C170.9 361.9 171.2 362.8 171.6 363.5C172 364.2 172.7 364.8 173.4 365.2C174.1 365.6 175.1 365.8 175.9 365.8C176.7 365.8 176.6 365.9 178.3 365.1C180 364.3 184.6 362.1 186.2 361.1C187.9 360.1 187.7 359.8 188.2 359C188.6 358.2 188.9 357.2 188.9 356.3C188.8 355.3 188.5 354.3 188.1 353.5C187.6 352.7 186.8 352 186 351.5C185.2 351.1 184.1 350.8 183.2 350.8C182.3 350.9 182.1 350.7 180.5 351.6Z"/><path d="M192.6 359.7C194.5 361 200.3 364.1 202.4 365.1C204.4 366.1 204 365.8 204.8 365.8C205.6 365.9 206.5 365.6 207.2 365.3C207.9 364.9 208.6 364.2 209.1 363.6C209.5 362.9 209.8 362 209.8 361.2C209.8 360.3 209.6 359.4 209.3 358.7C208.9 358 209.3 358.3 207.5 356.9C205.7 355.5 200.4 351.6 198.4 350.3C196.5 349.1 196.6 349.5 195.7 349.5C194.8 349.5 193.7 349.7 192.9 350.1C192.1 350.6 191.3 351.3 190.8 352.1C190.3 352.9 190 353.9 190 354.8C189.9 355.7 190.2 356.8 190.6 357.6C191 358.4 190.6 358.5 192.6 359.7Z"/><path d="M216.9 292.4C216.9 298.1 217.1 313.5 217.1 325.3C217.1 337.1 216.8 356.5 216.9 363.2C216.9 369.8 217.1 364.5 217.4 365C217.7 365.6 218.2 366.1 218.8 366.4C219.3 366.7 220 366.9 220.7 366.9C221.3 366.9 222 366.7 222.6 366.4C223.1 366.1 223.6 365.5 223.9 365C224.2 364.5 224.5 369.7 224.4 363.1C224.4 356.5 223.9 337.1 223.6 325.2C223.3 313.4 223 298 222.8 292.3C222.6 286.5 222.6 291.2 222.4 290.8C222.1 290.4 221.7 290 221.3 289.7C220.8 289.5 220.3 289.3 219.8 289.3C219.3 289.3 218.7 289.5 218.3 289.8C217.9 290 217.5 290.4 217.2 290.9C217 291.3 216.9 286.6 216.9 292.4Z"/><path d="M236.3 296.9C236.2 301.9 236.2 314.3 235.8 325.2C235.3 336.1 233.9 355.8 233.6 362.4C233.4 369 233.8 363.9 234.1 364.6C234.4 365.2 235 365.8 235.6 366.2C236.2 366.6 237 366.9 237.8 366.9C238.5 366.9 239.3 366.8 239.9 366.4C240.6 366.1 241.2 365.5 241.6 364.9C242 364.3 242 369.4 242.3 362.8C242.5 356.2 243.2 336.4 243.3 325.4C243.5 314.4 243.4 302 243.3 296.9C243.3 291.9 243.2 295.7 242.9 295.2C242.6 294.7 242.1 294.2 241.6 293.9C241.1 293.6 240.5 293.4 239.9 293.4C239.3 293.4 238.6 293.6 238.1 293.8C237.6 294.1 237.1 294.6 236.8 295.1C236.5 295.6 236.5 291.9 236.3 296.9Z"/><path d="M269.6 342.3C275 342.7 289.6 343.7 299.6 343.7C309.6 343.7 324.1 342.7 329.5 342.3C334.9 341.9 331.3 342 331.9 341.5C332.6 341.1 333.3 340.4 333.6 339.7C334 339 334.2 338 334.2 337.2C334.1 336.4 333.8 335.5 333.4 334.8C333 334.2 332.3 333.5 331.6 333.1C330.8 332.8 334.4 332.5 329.1 332.6C323.8 332.7 309.4 333.9 299.6 333.9C289.7 333.9 275.4 332.7 270.1 332.6C264.7 332.5 268.3 332.8 267.6 333.1C266.9 333.5 266.2 334.2 265.8 334.8C265.3 335.5 265 336.4 265 337.2C265 338 265.2 339 265.5 339.7C265.9 340.4 266.5 341.1 267.2 341.5C267.9 342 264.2 341.9 269.6 342.3Z"/><path d="M265.3 337.1C264.4 339.3 262.8 344.6 261.7 348.3C260.6 352 259.1 357.1 258.6 359.3C258.1 361.5 258.5 361 258.7 361.7C258.9 362.4 259.3 363.2 259.9 363.7C260.4 364.3 261.2 364.7 262 364.9C262.7 365.1 263.6 365 264.3 364.8C265.1 364.6 265.8 364.2 266.4 363.6C266.9 363.1 266.9 363.7 267.5 361.5C268.1 359.4 268.8 354.4 269.9 350.9C271 347.4 273.6 342.7 274.4 340.5C275.2 338.4 274.8 338.8 274.6 338C274.5 337.2 274.1 336.3 273.6 335.7C273.1 335.1 272.3 334.5 271.5 334.3C270.8 334 269.8 333.9 269 334C268.2 334.1 267.4 334.5 266.8 335.1C266.1 335.6 266.1 334.9 265.3 337.1Z"/><path d="M281.5 338.2C281.2 340.4 280.8 345.9 280.4 349.1C280 352.4 279.2 356 279.1 357.8C278.9 359.7 279.2 359.6 279.5 360.3C279.8 361 280.4 361.8 281.1 362.2C281.8 362.7 282.6 363 283.4 363.1C284.3 363.2 285.2 363 285.9 362.7C286.7 362.3 287.4 361.7 287.9 361.1C288.3 360.4 288.5 360.6 288.7 358.7C288.9 356.9 288.7 353.3 289 350.1C289.3 346.9 290.4 341.6 290.6 339.4C290.8 337.2 290.6 337.7 290.3 337C290 336.3 289.4 335.6 288.8 335.1C288.2 334.7 287.4 334.3 286.6 334.3C285.9 334.2 285 334.3 284.3 334.6C283.6 334.9 282.9 335.4 282.4 336C281.9 336.6 281.8 336.1 281.5 338.2Z"/><path d="M299.1 338.5C298.8 340.7 298.7 346 298.5 349.4C298.3 352.9 298 357.1 298 359.1C298 361.1 298.2 360.8 298.6 361.5C299 362.2 299.7 362.9 300.4 363.3C301.1 363.7 302 363.9 302.8 363.9C303.6 363.9 304.6 363.7 305.3 363.3C306 362.9 306.6 362.2 307 361.5C307.4 360.8 307.7 361 307.7 359.1C307.7 357.1 307 353.1 307.1 349.8C307.2 346.5 308.1 341.3 308.2 339.1C308.3 337 308.1 337.5 307.8 336.8C307.4 336.1 306.9 335.4 306.2 335C305.6 334.6 304.7 334.3 304 334.2C303.2 334.2 302.3 334.3 301.6 334.7C301 335 300.3 335.6 299.8 336.2C299.4 336.9 299.3 336.3 299.1 338.5Z"/><path d="M312.6 338.5C312.4 340.7 312.2 346 312 349.4C311.8 352.9 311.5 357.1 311.5 359.1C311.5 361.1 311.7 360.8 312.1 361.5C312.5 362.2 313.2 362.9 313.9 363.3C314.6 363.7 315.5 363.9 316.3 363.9C317.2 363.9 318.1 363.7 318.8 363.3C319.5 362.9 320.1 362.2 320.5 361.5C321 360.8 321.2 361 321.2 359.1C321.2 357.1 320.6 353.1 320.7 349.8C320.7 346.5 321.6 341.3 321.7 339.1C321.8 337 321.6 337.5 321.3 336.8C321 336.1 320.4 335.4 319.7 335C319.1 334.6 318.3 334.3 317.5 334.2C316.7 334.2 315.9 334.3 315.2 334.7C314.5 335 313.8 335.6 313.4 336.2C312.9 336.9 312.8 336.3 312.6 338.5Z"/><path d="M323.7 340.6C324.6 342.7 327.5 347.4 328.7 350.9C330 354.4 330.5 359.4 331.1 361.5C331.7 363.6 331.7 362.9 332.2 363.4C332.7 363.9 333.4 364.4 334.1 364.6C334.8 364.8 335.6 364.8 336.3 364.6C337 364.4 337.7 364 338.3 363.5C338.8 363 339.2 362.3 339.4 361.6C339.6 360.9 340 361.6 339.5 359.4C338.9 357.2 337.6 352.1 336.4 348.3C335.2 344.6 333.1 339.2 332.2 337C331.2 334.8 331.3 335.6 330.7 335.1C330.1 334.7 329.3 334.3 328.5 334.3C327.8 334.2 326.9 334.3 326.2 334.6C325.5 334.9 324.8 335.4 324.3 336C323.8 336.7 323.5 337.5 323.4 338.2C323.3 339 322.9 338.5 323.7 340.6Z"/><path d="M349.1 300.3C348.9 304.7 348.6 314.8 348.3 325.2C347.9 335.7 347.3 356.5 347.2 363.1C347.1 369.7 347.3 364.4 347.7 365C348 365.5 348.5 366.1 349 366.4C349.6 366.7 350.3 366.9 350.9 366.9C351.5 366.9 352.2 366.7 352.8 366.4C353.3 366.1 353.9 365.6 354.2 365.1C354.5 364.5 354.6 369.8 354.7 363.2C354.8 356.6 354.7 335.8 354.7 325.3C354.8 314.9 355 304.9 355 300.5C355 296.1 354.9 299.4 354.6 299C354.4 298.6 354 298.1 353.6 297.9C353.1 297.6 352.6 297.5 352.1 297.5C351.6 297.4 351 297.6 350.6 297.8C350.2 298.1 349.8 298.5 349.5 298.9C349.2 299.3 349.3 296 349.1 300.3Z"/><path d="M364.2 300.4C364 304.8 363.9 314.8 363.7 325.3C363.4 335.7 362.9 356.5 362.9 363.1C362.8 369.7 363 364.5 363.3 365C363.7 365.5 364.2 366.1 364.7 366.4C365.3 366.7 366 366.9 366.6 366.9C367.2 366.9 367.9 366.7 368.5 366.4C369 366.1 369.6 365.6 369.9 365C370.2 364.5 370.4 369.8 370.4 363.2C370.4 356.5 370.2 335.8 370.1 325.3C370.1 314.9 370.2 304.8 370.1 300.4C370.1 296.1 370 299.4 369.7 299C369.5 298.5 369.1 298.1 368.7 297.9C368.3 297.6 367.7 297.5 367.2 297.5C366.7 297.4 366.1 297.6 365.7 297.8C365.3 298.1 364.9 298.5 364.6 298.9C364.4 299.3 364.4 296 364.2 300.4Z"/><path d="M385.9 329.5C385.4 332.2 385 338.3 384 343.3C383.1 348.2 380.7 356.2 380 359.3C379.4 362.3 379.8 361 380.1 361.8C380.3 362.5 380.8 363.4 381.4 363.9C381.9 364.5 382.8 364.9 383.6 365.1C384.3 365.3 385.3 365.3 386.1 365.1C386.9 364.9 387.7 364.4 388.2 363.8C388.8 363.2 388.6 364.7 389.4 361.6C390.3 358.5 392.6 350.3 393.6 345.1C394.6 340 395.2 333.6 395.5 330.8C395.8 328 395.5 329.1 395.2 328.3C394.9 327.6 394.3 326.8 393.7 326.3C393 325.8 392.1 325.4 391.3 325.3C390.5 325.2 389.6 325.4 388.8 325.7C388.1 326 387.3 326.5 386.8 327.2C386.3 327.8 386.3 326.8 385.9 329.5Z"/></g><clipPath id="cld"><use href="#frd" transform="translate(0,-0.5)"/></clipPath><clipPath id="c0d"><use href="#frd"/></clipPath></defs><g filter="url(#cmap)"><rect x="-5" y="-5" width="401" height="401" fill="#808080"/><use href="#frd" fill="#b2b2b2" stroke="#b2b2b2" stroke-width="6" filter="url(#gb5)"/><use href="#frd" fill="#e6e6e6" stroke="#e6e6e6" stroke-width="3.0" filter="url(#gb25)"/><use href="#frd" fill="#ffffff" stroke="#ffffff" stroke-width="1.0" filter="url(#gb05)"/><path d="M-4.9 312.5L9.3 312.5L2.2 331.5ZM32.2 306.0L46.3 306.0L39.2 325.0ZM66.7 319.7L94.0 319.7L80.3 328.8ZM63.3 310.6L77.4 310.6L70.3 329.6ZM72.2 318.2L86.3 318.2L79.3 333.7ZM82.2 312.5L96.3 312.5L89.3 331.5ZM108.2 289.3L115.8 289.3L112.0 298.0ZM130.0 300.6L142.5 300.6L136.3 319.6ZM146.8 301.2L159.8 301.2L153.3 320.2ZM183.0 310.6L197.1 310.6L190.1 329.6ZM215.5 285.8L224.2 285.8L219.8 295.3ZM234.1 286.3L245.5 286.3L239.8 299.9ZM262.8 321.5L276.9 321.5L269.8 340.5ZM262.8 322.8L276.9 322.8L269.8 341.8ZM321.2 322.8L334.8 322.8L328.0 341.8ZM347.7 293.8L356.4 293.8L352.0 303.4ZM362.8 293.7L371.6 293.7L367.2 303.4ZM383.6 314.2L397.7 314.2L390.7 333.2Z" fill="#e0e0e0" filter="url(#gb25)"/><g filter="url(#gb07)"><use href="#frd" fill="#242424"/><g fill="#383838" filter="url(#gb2)"><ellipse cx="9.0" cy="367.4" rx="5.3" ry="7.0"/><ellipse cx="40.1" cy="368.0" rx="8.0" ry="7.0"/><ellipse cx="48.2" cy="366.8" rx="4.6" ry="7.0"/><ellipse cx="63.8" cy="367.7" rx="5.0" ry="7.0"/><ellipse cx="78.4" cy="366.9" rx="4.7" ry="7.0"/><ellipse cx="96.3" cy="368.3" rx="5.0" ry="7.0"/><ellipse cx="112.5" cy="368.8" rx="3.9" ry="7.0"/><ellipse cx="130.6" cy="368.0" rx="5.3" ry="7.0"/><ellipse cx="156.3" cy="367.4" rx="5.3" ry="7.0"/><ellipse cx="149.5" cy="366.1" rx="3.9" ry="7.0"/><ellipse cx="188.7" cy="365.3" rx="10.7" ry="7.0"/><ellipse cx="175.8" cy="368.5" rx="5.3" ry="7.0"/><ellipse cx="205.0" cy="368.5" rx="5.3" ry="7.0"/><ellipse cx="220.6" cy="369.6" rx="4.2" ry="7.0"/><ellipse cx="237.9" cy="369.6" rx="4.7" ry="7.0"/><ellipse cx="329.3" cy="345.0" rx="5.3" ry="7.0"/><ellipse cx="263.1" cy="367.7" rx="5.0" ry="7.0"/><ellipse cx="283.9" cy="365.8" rx="5.3" ry="7.0"/><ellipse cx="302.8" cy="366.6" rx="5.3" ry="7.0"/><ellipse cx="316.3" cy="366.6" rx="5.3" ry="7.0"/><ellipse cx="335.3" cy="367.4" rx="4.7" ry="7.0"/><ellipse cx="350.9" cy="369.6" rx="4.2" ry="7.0"/><ellipse cx="366.6" cy="369.6" rx="4.2" ry="7.0"/><ellipse cx="384.7" cy="368.0" rx="5.3" ry="7.0"/></g><use href="#chd" fill="#333333" stroke="#333333" stroke-width="7" filter="url(#gb15)" clip-path="url(#c0d)"/><use href="#chd" fill="#4c4c4c" stroke="#4c4c4c" stroke-width="3.5" filter="url(#gb07)" clip-path="url(#c0d)"/><use href="#chd" fill="#fff" clip-path="url(#cld)"/><rect x="-5" y="376" width="401" height="2.0" fill="#383838" filter="url(#gb05)"/><rect x="-5" y="378.5" width="401" height="30" fill="#101010"/></g></g>
</svg>
<rect x="125.50" y="482.30" width="390.80" height="390.00" fill="none" stroke="#111" stroke-width="1.3"/>
<path d="M125.50 482.30v-5.5M125.50 872.30v5.5M125.50 872.30h-5.5M516.30 872.30h5.5M141.13 482.30v-2.6M141.13 872.30v2.6M125.50 856.70h-2.6M516.30 856.70h2.6M156.76 482.30v-2.6M156.76 872.30v2.6M125.50 841.10h-2.6M516.30 841.10h2.6M172.40 482.30v-2.6M172.40 872.30v2.6M125.50 825.50h-2.6M516.30 825.50h2.6M188.03 482.30v-2.6M188.03 872.30v2.6M125.50 809.90h-2.6M516.30 809.90h2.6M203.66 482.30v-5.5M203.66 872.30v5.5M125.50 794.30h-5.5M516.30 794.30h5.5M219.29 482.30v-2.6M219.29 872.30v2.6M125.50 778.70h-2.6M516.30 778.70h2.6M234.92 482.30v-2.6M234.92 872.30v2.6M125.50 763.10h-2.6M516.30 763.10h2.6M250.56 482.30v-2.6M250.56 872.30v2.6M125.50 747.50h-2.6M516.30 747.50h2.6M266.19 482.30v-2.6M266.19 872.30v2.6M125.50 731.90h-2.6M516.30 731.90h2.6M281.82 482.30v-5.5M281.82 872.30v5.5M125.50 716.30h-5.5M516.30 716.30h5.5M297.45 482.30v-2.6M297.45 872.30v2.6M125.50 700.70h-2.6M516.30 700.70h2.6M313.08 482.30v-2.6M313.08 872.30v2.6M125.50 685.10h-2.6M516.30 685.10h2.6M328.72 482.30v-2.6M328.72 872.30v2.6M125.50 669.50h-2.6M516.30 669.50h2.6M344.35 482.30v-2.6M344.35 872.30v2.6M125.50 653.90h-2.6M516.30 653.90h2.6M359.98 482.30v-5.5M359.98 872.30v5.5M125.50 638.30h-5.5M516.30 638.30h5.5M375.61 482.30v-2.6M375.61 872.30v2.6M125.50 622.70h-2.6M516.30 622.70h2.6M391.24 482.30v-2.6M391.24 872.30v2.6M125.50 607.10h-2.6M516.30 607.10h2.6M406.88 482.30v-2.6M406.88 872.30v2.6M125.50 591.50h-2.6M516.30 591.50h2.6M422.51 482.30v-2.6M422.51 872.30v2.6M125.50 575.90h-2.6M516.30 575.90h2.6M438.14 482.30v-5.5M438.14 872.30v5.5M125.50 560.30h-5.5M516.30 560.30h5.5M453.77 482.30v-2.6M453.77 872.30v2.6M125.50 544.70h-2.6M516.30 544.70h2.6M469.40 482.30v-2.6M469.40 872.30v2.6M125.50 529.10h-2.6M516.30 529.10h2.6M485.04 482.30v-2.6M485.04 872.30v2.6M125.50 513.50h-2.6M516.30 513.50h2.6M500.67 482.30v-2.6M500.67 872.30v2.6M125.50 497.90h-2.6M516.30 497.90h2.6M516.30 482.30v-5.5M516.30 872.30v5.5M125.50 482.30h-5.5M516.30 482.30h5.5" stroke="#222" stroke-width="1" fill="none"/>
<svg x="544.50" y="482.30" width="391.80" height="390.00" viewBox="0 0 391 391" preserveAspectRatio="none" overflow="hidden">
<rect width="391" height="391" fill="#69b35f"/>
<defs><path id="fre" d="M-8.6 191.8C-7.3 192 -3.7 194 -0.5 193.1C2.7 192.2 5.8 187.7 10.3 186.4C14.8 185 22.3 184.6 26.5 185C30.8 185.5 34.1 187.7 36 189.1C37.9 190.4 36.8 192.4 37.9 193.1C39 193.8 41.5 194.2 42.8 193.1C44 192.1 42.8 188.3 45.5 186.9C48.2 185.6 54.7 184.4 59 185C63.3 185.6 68 187.8 71.1 190.4C74.3 193 75.9 198.8 77.9 200.4C79.9 202.1 81.7 202.1 83.3 200.4C84.9 198.8 85.6 193.7 87.4 190.4C89.2 187.2 90.7 183.2 94.1 181C97.5 178.7 104.8 177.3 107.6 176.9C110.4 176.5 109.6 178.5 110.9 178.8C112.1 179.1 113.9 178.9 115.2 178.8C116.5 178.7 116.6 178.1 118.5 178.3C120.3 178.4 123.4 178.5 126.6 179.6C129.7 180.7 134.7 182.3 137.4 185C140.1 187.7 141 194 142.8 195.8C144.6 197.6 146.4 197.9 148.2 195.8C150 193.8 150.9 186.8 153.6 183.7C156.3 180.5 160.8 177.8 164.4 176.9C168 176 172.1 175.3 175.2 178.3C178.4 181.2 181.1 191.8 183.3 194.5C185.6 197.2 186.9 196.3 188.7 194.5C190.5 192.7 191.4 186.8 194.1 183.7C196.9 180.5 201.4 176.7 205 175.5C208.6 174.4 213.6 176.4 215.8 176.9C217.9 177.4 216.9 178.5 217.9 178.8C219 179.1 220.4 179.3 222.3 178.8C224.2 178.3 225.9 175.2 229.3 175.5C232.7 175.9 240.2 179.2 242.8 181C245.4 182.7 244 185 245 185.8C246 186.6 247.5 186 248.8 185.8C250 185.7 249.7 184 252.3 185C254.9 186 259.7 187.9 264.4 191.8C269.2 195.6 276.4 204.4 280.7 208C284.9 211.6 287.5 211.5 290.1 213.4C292.7 215.3 294.7 218.4 296.3 219.3C298 220.3 298.2 220.3 300.1 219.3C302 218.4 305.1 215.5 307.7 213.4C310.3 211.3 313.1 210.9 315.8 206.6C318.5 202.4 320.3 192 323.9 187.7C327.5 183.4 333.4 181.6 337.4 181C341.5 180.3 345.4 182.3 348.2 183.7C351 185 352.5 188.2 354.2 189.1C355.9 190 356.8 190 358.5 189.1C360.2 188.2 361.2 184.3 364.5 183.7C367.7 183 373.9 183.7 378 185C382 186.4 385.2 190.6 388.8 191.8C392.4 192.9 397.8 191.8 399.6 191.8L399.6 430L-8.6 430Z"/><g id="che"><path d="M-1.7 195.9C-1.5 204.6 -0.7 228.6 -0.3 245.9C0.2 263.3 0.4 283.7 1.1 300.1C1.7 316.4 2 334.1 3.5 343.8C5.1 353.5 8.8 355.6 10.2 358.3C11.6 361 11.2 359.7 11.9 360.1C12.5 360.5 13.4 360.8 14.2 360.8C14.9 360.8 15.8 360.6 16.5 360.3C17.2 359.9 17.9 359.3 18.3 358.6C18.7 358 19 357.1 19 356.3C19.1 355.6 19.7 356.3 18.5 354C17.3 351.7 13.3 351.5 11.7 342.5C10.1 333.4 9.5 315.9 8.8 299.7C8 283.6 7.9 263.1 7.4 245.7C7 228.4 6.4 204.4 6.1 195.7C5.7 187.1 5.8 194.4 5.5 193.8C5.2 193.3 4.6 192.7 4 192.4C3.5 192.1 2.7 192 2.1 192C1.5 192 0.7 192.2 0.2 192.5C-0.4 192.9 -0.9 193.4 -1.2 194C-1.5 194.6 -1.8 187.3 -1.7 195.9Z"/><path d="M36.5 193.1C36.3 197.7 36.5 205.4 36.2 218.7C35.9 232 35.2 254.8 34.8 272.8C34.5 290.9 34.6 313.4 34.3 327C34 340.5 33 349.1 33 354.2C32.9 359.2 33.4 356.5 33.9 357.4C34.5 358.4 35.4 359.2 36.4 359.8C37.4 360.3 38.6 360.6 39.7 360.5C40.8 360.5 42 360.1 43 359.6C43.9 359 44.8 358 45.3 357.1C45.8 356.1 46.4 358.8 46.1 353.8C45.7 348.7 43.7 340.4 43.1 326.9C42.5 313.4 42.4 290.9 42.6 272.9C42.7 254.9 43.6 232.2 43.9 218.9C44.2 205.6 44.2 197.8 44.2 193.2C44.1 188.6 44 191.8 43.7 191.2C43.4 190.7 42.8 190.1 42.3 189.8C41.7 189.5 41 189.3 40.4 189.3C39.7 189.3 39 189.4 38.4 189.8C37.9 190.1 37.3 190.6 37 191.2C36.7 191.7 36.6 188.5 36.5 193.1Z"/><path d="M38.4 247.7C40.1 249.3 46.1 254.4 47.9 255.8C49.7 257.3 48.6 256.3 49.1 256.4C49.5 256.5 50 256.4 50.3 256.3C50.7 256.2 51.1 255.9 51.4 255.6C51.7 255.3 51.9 254.8 52 254.4C52.1 254 52 253.5 51.9 253.1C51.7 252.7 52.8 253.6 51.1 252C49.4 250.5 43.5 245.4 41.7 243.9C39.9 242.5 40.9 243.5 40.5 243.4C40.1 243.3 39.6 243.3 39.2 243.5C38.8 243.6 38.4 243.9 38.2 244.2C37.9 244.5 37.7 245 37.6 245.4C37.5 245.8 37.6 246.3 37.7 246.7C37.8 247.1 36.7 246.2 38.4 247.7Z"/><path d="M39.3 222.1C37.8 222.6 32.7 224.2 31.2 224.8C29.7 225.4 30.5 225.2 30.3 225.4C30 225.7 29.8 226.1 29.8 226.5C29.7 226.8 29.7 227.3 29.8 227.6C29.9 228 30.2 228.3 30.5 228.6C30.7 228.8 31.1 229 31.5 229.1C31.9 229.2 31.1 229.5 32.6 229C34.2 228.6 39.2 226.9 40.8 226.3C42.3 225.8 41.5 226 41.7 225.7C42 225.4 42.2 225 42.2 224.7C42.3 224.3 42.3 223.9 42.2 223.5C42.1 223.2 41.8 222.8 41.5 222.5C41.3 222.3 40.9 222.1 40.5 222C40.1 221.9 40.9 221.6 39.3 222.1Z"/><path d="M76.8 200.3C76.2 205.9 74.7 220.1 74 232.1C73.4 244.2 73.1 261.4 72.7 272.7C72.2 283.9 71.5 294.7 71.3 299.6C71.2 304.6 71.5 301.5 71.9 302.3C72.3 303.1 73 303.8 73.7 304.3C74.5 304.8 75.4 305.1 76.3 305.1C77.2 305.1 78.2 304.9 78.9 304.5C79.7 304.1 80.5 303.5 80.9 302.7C81.4 302 81.4 305.1 81.7 300.2C82.1 295.2 82.7 284.4 83.1 273.1C83.6 261.8 84.2 244.6 84.5 232.5C84.7 220.4 84.5 206.2 84.5 200.6C84.4 194.9 84.3 199.2 84 198.6C83.7 198.1 83.2 197.5 82.7 197.2C82.1 196.8 81.4 196.6 80.8 196.6C80.1 196.5 79.4 196.7 78.8 197C78.2 197.3 77.7 197.8 77.3 198.4C77 198.9 77.3 194.6 76.8 200.3Z"/><path d="M72 299C70.8 303.8 67.8 316.8 65.7 326.2C63.7 335.6 60.7 350.1 59.8 355.4C58.8 360.6 59.7 357 60 357.8C60.3 358.5 60.8 359.2 61.4 359.7C62 360.2 62.8 360.6 63.6 360.7C64.4 360.9 65.3 360.8 66 360.5C66.7 360.2 67.5 359.7 68 359.1C68.5 358.5 68.2 362.1 69 356.9C69.8 351.7 71 337 72.8 327.6C74.5 318.3 78.4 305.6 79.5 300.8C80.6 296 79.6 299.4 79.4 298.8C79.3 298.2 78.9 297.6 78.4 297.1C77.9 296.7 77.3 296.3 76.6 296.2C76 296 75.3 296 74.6 296.2C74 296.4 73.4 296.8 72.9 297.3C72.5 297.7 73.2 294.2 72 299Z"/><path d="M74.2 301C75.6 305.8 79.7 318.6 82.3 328C84.9 337.4 88.2 352.1 89.6 357.4C91 362.6 90.3 358.9 90.9 359.5C91.4 360 92.2 360.5 93 360.7C93.7 360.8 94.6 360.8 95.4 360.6C96.1 360.4 96.9 360 97.4 359.4C98 358.9 98.4 358.1 98.6 357.3C98.8 356.6 100.1 360.1 98.6 354.9C97.1 349.6 92.6 335.2 89.7 325.9C86.9 316.5 83.1 303.6 81.6 298.8C80.1 294 81 297.5 80.5 297.1C80.1 296.7 79.4 296.3 78.8 296.2C78.2 296 77.4 296 76.8 296.2C76.2 296.4 75.5 296.8 75.1 297.3C74.7 297.7 74.3 298.4 74.1 299C74 299.6 72.8 296.2 74.2 301Z"/><path d="M106.5 178.8C106.5 190.2 106.8 225.7 107 245.9C107.3 266.1 107.6 281.1 107.8 300C108.1 318.8 108.2 348.8 108.4 358.9C108.5 369 108.6 360.1 108.9 360.6C109.1 361 109.6 361.5 110.1 361.7C110.6 362 111.2 362.2 111.8 362.2C112.3 362.1 112.9 362 113.4 361.7C113.9 361.4 114.3 360.9 114.6 360.4C114.9 359.9 115.3 368.9 115 358.8C114.7 348.7 113.3 318.7 112.8 299.9C112.3 281 112.3 266 112 245.8C111.8 225.6 111.6 190.2 111.5 178.8C111.3 167.4 111.4 177.9 111.1 177.5C110.9 177.2 110.6 176.8 110.2 176.6C109.9 176.4 109.4 176.3 109 176.3C108.6 176.3 108.1 176.4 107.7 176.6C107.4 176.8 107 177.2 106.8 177.6C106.6 177.9 106.4 167.4 106.5 178.8Z"/><path d="M119.5 182.3C119.4 185.4 119.4 196.8 119.5 199.9C119.5 202.9 119.5 200.5 119.7 200.7C119.8 201 120.1 201.2 120.3 201.3C120.6 201.5 120.9 201.6 121.2 201.6C121.4 201.6 121.8 201.5 122 201.3C122.2 201.2 122.5 201 122.6 200.7C122.8 200.5 122.8 202.9 122.8 199.9C122.9 196.8 122.9 185.4 122.8 182.3C122.8 179.2 122.8 181.7 122.6 181.5C122.5 181.2 122.2 181 122 180.8C121.8 180.7 121.4 180.6 121.2 180.6C120.9 180.6 120.6 180.7 120.3 180.8C120.1 181 119.8 181.2 119.7 181.5C119.5 181.7 119.5 179.2 119.5 182.3Z"/><path d="M140.8 195.3C139.9 201.8 137.2 219.1 136.2 232C135.2 244.8 135.3 261.4 134.9 272.7C134.4 283.9 133.7 294.7 133.5 299.6C133.4 304.6 133.7 301.5 134.1 302.3C134.5 303.1 135.2 303.8 135.9 304.3C136.6 304.8 137.6 305.1 138.5 305.1C139.3 305.1 140.3 304.9 141.1 304.5C141.9 304.1 142.6 303.5 143.1 302.7C143.6 302 143.6 305.1 143.9 300.2C144.3 295.2 144.8 284.3 145.3 273.1C145.7 261.8 145.8 245.5 146.6 232.7C147.4 219.9 149.6 202.8 150.1 196.3C150.6 189.9 150.1 194.7 149.8 194C149.4 193.2 148.9 192.5 148.3 192.1C147.6 191.6 146.8 191.3 146 191.2C145.2 191.1 144.3 191.2 143.6 191.5C142.9 191.9 142.2 192.4 141.7 193.1C141.3 193.7 141.8 188.8 140.8 195.3Z"/><path d="M134.2 299.1C133 303.9 129.8 316.9 128.2 326.3C126.5 335.7 124.7 350.3 124.1 355.6C123.5 360.9 124.1 357.3 124.5 358C124.8 358.7 125.3 359.4 126 359.9C126.6 360.4 127.4 360.7 128.2 360.8C129 360.9 129.9 360.7 130.6 360.4C131.3 360.1 132 359.5 132.5 358.9C132.9 358.3 132.8 361.9 133.4 356.7C133.9 351.4 134.4 336.9 135.8 327.6C137.2 318.2 140.7 305.5 141.7 300.7C142.7 295.9 141.8 299.4 141.6 298.7C141.4 298.1 141 297.5 140.5 297.1C140 296.6 139.4 296.3 138.7 296.1C138.1 296 137.4 296 136.8 296.2C136.1 296.4 135.5 296.8 135.1 297.3C134.6 297.8 135.3 294.2 134.2 299.1Z"/><path d="M136.3 300.8C137.5 305.7 140.7 318.5 143.1 327.9C145.5 337.3 149.5 352 151 357.2C152.5 362.4 151.6 358.6 152.1 359.1C152.5 359.6 153.3 360 153.9 360.1C154.6 360.3 155.4 360.3 156.1 360.1C156.7 359.9 157.4 359.5 157.9 359C158.4 358.5 158.8 357.8 158.9 357.2C159.1 356.5 160.3 360.2 158.9 355C157.5 349.8 153.1 335.3 150.6 326C148 316.6 145.1 303.8 143.8 299C142.5 294.2 143.3 297.7 142.9 297.2C142.4 296.8 141.8 296.4 141.1 296.2C140.5 296 139.8 296 139.1 296.2C138.5 296.3 137.9 296.7 137.4 297.1C136.9 297.6 136.5 298.2 136.4 298.8C136.2 299.5 135.2 296 136.3 300.8Z"/><path d="M181.4 194.8C181.7 201.5 183.7 219.3 183.5 232.3C183.4 245.3 180.7 259.3 180.3 272.9C179.8 286.5 181 302.1 180.8 313.9C180.7 325.7 179.4 337.8 179.5 343.6C179.5 349.5 180.2 347.4 181.2 348.9C182.1 350.4 183.6 351.8 185.2 352.6C186.8 353.4 188.8 353.8 190.6 353.8C192.3 353.7 194.3 353.1 195.8 352.1C197.3 351.1 198.7 349.6 199.5 348C200.3 346.5 201.2 348.5 200.7 342.7C200.2 336.8 198.1 324.6 196.6 313C195.2 301.3 192.2 286.3 191.8 272.9C191.3 259.4 194.1 245.4 193.9 232.3C193.8 219.2 191.4 200.9 190.7 194.1C190 187.4 190.3 192.5 189.9 191.9C189.5 191.2 188.8 190.6 188.1 190.3C187.4 189.9 186.5 189.8 185.7 189.8C184.9 189.9 184.1 190.2 183.4 190.6C182.8 191 182.2 191.7 181.8 192.4C181.5 193.1 181.1 188.2 181.4 194.8Z"/><path d="M182.4 344.9C180.8 346.2 176.9 350.1 175.6 351.6C174.2 353.2 174.5 353.1 174.2 354C174 354.8 174 355.8 174.2 356.7C174.5 357.5 175 358.4 175.6 359C176.2 359.6 177.1 360.1 177.9 360.4C178.8 360.6 179.8 360.6 180.6 360.4C181.5 360.1 181.4 360.4 183 359C184.5 357.7 188.4 353.8 189.7 352.2C191.1 350.7 190.8 350.8 191.1 349.9C191.3 349.1 191.3 348.1 191.1 347.2C190.8 346.4 190.3 345.5 189.7 344.9C189.1 344.3 188.2 343.8 187.4 343.5C186.5 343.3 185.5 343.3 184.7 343.5C183.9 343.8 183.9 343.5 182.4 344.9Z"/><path d="M189.5 352.6C191.1 354.1 195.8 358 197.6 359.3C199.3 360.6 199.2 360.3 200 360.5C200.9 360.6 201.9 360.5 202.7 360.2C203.5 359.9 204.4 359.3 204.9 358.7C205.5 358 205.9 357.1 206 356.2C206.2 355.4 206.1 354.3 205.8 353.5C205.5 352.7 205.8 352.8 204.2 351.3C202.6 349.8 197.9 345.9 196.1 344.6C194.4 343.3 194.5 343.6 193.7 343.4C192.8 343.3 191.8 343.4 191 343.7C190.2 344 189.4 344.6 188.8 345.2C188.2 345.9 187.8 346.8 187.7 347.7C187.5 348.5 187.6 349.6 187.9 350.4C188.2 351.2 187.9 351.1 189.5 352.6Z"/><path d="M217.9 178.8C217.9 190.2 218.2 225.7 218.4 245.9C218.6 266 219 281.1 218.9 299.9C218.9 318.7 218 348.7 217.9 358.8C217.8 368.9 218 360 218.3 360.5C218.6 361 219 361.4 219.5 361.7C220 362 220.6 362.2 221.2 362.2C221.7 362.2 222.4 362 222.8 361.7C223.3 361.4 223.8 361 224.1 360.5C224.3 360 224.6 368.9 224.5 358.8C224.4 348.7 223.7 318.7 223.4 299.9C223.1 281.1 223.1 266 222.9 245.8C222.7 225.6 222.5 190.1 222.3 178.8C222.2 167.4 222.2 178 222 177.7C221.8 177.3 221.5 177 221.2 176.8C220.9 176.7 220.5 176.6 220.1 176.6C219.7 176.6 219.3 176.7 219 176.9C218.6 177.1 218.3 177.4 218.2 177.7C218 178 217.8 167.4 217.9 178.8Z"/><path d="M243.8 185.4C243 191.2 240.7 204 239.5 218.5C238.3 233.1 237.3 254.7 236.5 272.7C235.8 290.8 235.4 312.8 234.9 326.9C234.4 341 233.9 351.8 233.8 357.2C233.7 362.7 234.1 359 234.5 359.7C234.9 360.4 235.6 361.1 236.3 361.5C237 361.9 237.9 362.2 238.8 362.2C239.6 362.2 240.5 361.9 241.2 361.5C241.9 361.1 242.6 360.4 243 359.7C243.4 359 243.8 362.7 243.7 357.2C243.6 351.8 242.6 341 242.6 327C242.6 313 243.1 291 243.7 273C244.3 255 245.1 233.5 246.1 219.1C247.1 204.6 249.3 191.9 249.9 186.2C250.5 180.5 249.9 185.1 249.7 184.6C249.5 184.2 249.1 183.7 248.7 183.4C248.3 183.1 247.7 182.9 247.2 182.8C246.7 182.7 246.1 182.8 245.7 183C245.2 183.2 244.7 183.6 244.4 184C244.1 184.4 244.7 179.7 243.8 185.4Z"/><path d="M295.1 219.2C294.7 223.9 293.9 236.8 293.7 245.8C293.5 254.7 294 265.6 293.7 272.8C293.4 279.9 292.2 285.8 292 288.8C291.7 291.8 292 290.1 292.3 290.6C292.5 291.2 293 291.7 293.5 292C294 292.4 294.6 292.6 295.2 292.7C295.8 292.7 296.5 292.6 297.1 292.3C297.6 292.1 298.1 291.6 298.5 291.1C298.8 290.6 298.8 292.4 299.1 289.4C299.4 286.4 299.9 280.2 300.1 273C300.2 265.7 299.8 254.8 300.1 245.9C300.3 237 301.2 224.2 301.4 219.5C301.6 214.8 301.3 218.4 301.1 217.9C300.8 217.4 300.4 217 300 216.7C299.5 216.4 298.9 216.2 298.4 216.2C297.9 216.1 297.3 216.3 296.8 216.5C296.3 216.8 295.8 217.2 295.6 217.6C295.3 218.1 295.4 214.5 295.1 219.2Z"/><path d="M296.6 229.2C294.2 229.5 287.7 229.8 282.9 231.1C278 232.4 270.4 236 267.7 237.1C265 238.3 267 237.5 266.8 237.8C266.6 238.1 266.5 238.5 266.4 238.8C266.4 239.2 266.4 239.6 266.6 239.9C266.7 240.2 266.9 240.5 267.2 240.7C267.5 241 267.9 241.1 268.2 241.2C268.6 241.2 266.7 242.1 269.3 241C271.9 239.9 279.2 236 283.9 234.6C288.5 233.2 294.8 233.1 297.1 232.8C299.5 232.4 297.8 232.6 298 232.4C298.2 232.2 298.5 231.9 298.6 231.7C298.7 231.4 298.7 231 298.7 230.7C298.6 230.4 298.5 230.1 298.3 229.8C298.1 229.6 297.8 229.4 297.6 229.3C297.3 229.2 299.1 228.9 296.6 229.2Z"/><path d="M296.9 234.1C299.2 234.2 305.5 233.6 310.2 234.1C314.8 234.7 322.2 237 324.8 237.6C327.4 238.2 325.6 237.7 325.9 237.6C326.2 237.5 326.6 237.2 326.8 237C327.1 236.7 327.2 236.4 327.3 236C327.4 235.7 327.4 235.3 327.3 234.9C327.2 234.6 326.9 234.2 326.7 234C326.4 233.8 328.4 234.1 325.7 233.5C323 232.9 315.4 231 310.6 230.5C305.8 230 299.3 230.5 296.9 230.5C294.4 230.5 296.2 230.6 296 230.7C295.7 230.9 295.4 231.1 295.3 231.4C295.1 231.7 295.1 232 295.1 232.3C295.1 232.6 295.1 233 295.3 233.2C295.4 233.5 295.7 233.8 296 233.9C296.2 234.1 294.5 234.1 296.9 234.1Z"/><path d="M279.2 217.9C277.7 220.3 272.5 229.1 271.1 231.4C269.7 233.8 270.9 232 270.9 232.3C270.8 232.6 270.9 232.9 271.1 233.1C271.2 233.4 271.4 233.6 271.7 233.8C271.9 233.9 272.2 234 272.5 234C272.8 234 273.1 233.9 273.4 233.8C273.6 233.7 272.5 235.5 274 233.2C275.5 230.8 280.7 222.1 282.1 219.7C283.5 217.3 282.3 219.1 282.3 218.8C282.4 218.5 282.3 218.2 282.1 218C282 217.7 281.8 217.5 281.5 217.4C281.3 217.2 281 217.1 280.7 217.1C280.4 217.1 280.1 217.2 279.8 217.3C279.6 217.5 280.7 215.6 279.2 217.9Z"/><path d="M314.4 219.7C315.5 221.6 319.9 228.6 321.1 230.5C322.4 232.4 321.5 231 321.8 231.1C322 231.2 322.3 231.3 322.6 231.3C322.9 231.3 323.2 231.2 323.5 231.1C323.7 230.9 323.9 230.7 324.1 230.4C324.2 230.2 324.3 229.8 324.3 229.6C324.2 229.3 325.2 230.7 324 228.7C322.8 226.8 318.5 219.8 317.2 217.9C316 216 316.8 217.4 316.6 217.3C316.3 217.2 316 217.1 315.7 217.1C315.5 217.1 315.1 217.2 314.9 217.4C314.7 217.5 314.4 217.8 314.3 218C314.2 218.3 314.1 218.6 314.1 218.9C314.1 219.1 313.2 217.8 314.4 219.7Z"/><path d="M297 244C294.1 243.7 285.2 242.5 280.6 242.7C275.9 242.8 271.4 244.7 269.3 245.2C267.3 245.7 268.6 245.4 268.4 245.7C268.1 245.9 267.9 246.3 267.8 246.6C267.7 246.9 267.7 247.4 267.8 247.7C267.9 248 268.1 248.4 268.3 248.6C268.6 248.9 268.9 249.1 269.3 249.2C269.6 249.3 268.4 249.7 270.4 249.2C272.3 248.7 276.4 246.6 280.7 246.3C285.1 246 293.9 247.5 296.7 247.7C299.5 247.9 297.4 247.6 297.7 247.5C297.9 247.4 298.2 247.1 298.4 246.9C298.6 246.6 298.7 246.3 298.7 246C298.7 245.7 298.7 245.3 298.5 245.1C298.4 244.8 298.2 244.5 297.9 244.3C297.7 244.2 299.9 244.3 297 244Z"/><path d="M296.9 249C299.7 249.1 308.9 249.2 313.2 249C317.5 248.8 321.1 248.2 322.9 247.9C324.6 247.7 323.6 247.7 323.9 247.5C324.1 247.3 324.4 246.9 324.5 246.6C324.6 246.3 324.7 245.9 324.6 245.5C324.6 245.2 324.4 244.8 324.2 244.5C324 244.3 323.7 244 323.3 243.9C323 243.8 324 243.5 322.3 243.8C320.5 244 317.2 245.1 313 245.4C308.8 245.6 299.7 245.3 296.9 245.4C294 245.4 296.2 245.5 296 245.6C295.7 245.8 295.4 246 295.3 246.3C295.1 246.5 295.1 246.9 295.1 247.2C295.1 247.5 295.1 247.8 295.3 248.1C295.4 248.4 295.7 248.6 296 248.8C296.2 248.9 294 249 296.9 249Z"/><path d="M296 257.6C293.3 258 285.1 259.4 280.3 260.3C275.5 261.1 269.6 262.2 267.3 262.7C264.9 263.2 266.5 263 266.3 263.2C266 263.4 265.8 263.8 265.7 264.1C265.6 264.4 265.6 264.8 265.6 265.2C265.7 265.5 265.9 265.9 266.1 266.2C266.3 266.4 266.7 266.6 267 266.8C267.4 266.9 265.8 267.3 268.1 266.8C270.4 266.3 276.2 264.8 281 263.9C285.8 262.9 293.9 261.7 296.6 261.2C299.4 260.6 297.3 261 297.5 260.8C297.7 260.6 297.9 260.3 298.1 260C298.2 259.7 298.2 259.3 298.1 259C298.1 258.7 297.9 258.4 297.7 258.2C297.5 258 297.3 257.7 297 257.6C296.7 257.5 298.8 257.1 296 257.6Z"/><path d="M309 258.9C311.4 260.5 319.9 265.9 322.3 267.4C324.8 268.9 323.4 267.8 323.9 267.8C324.4 267.8 324.9 267.7 325.4 267.4C325.8 267.2 326.3 266.8 326.5 266.3C326.8 265.9 326.9 265.3 327 264.8C327 264.3 326.8 263.7 326.6 263.3C326.3 262.8 327.9 263.6 325.5 262.2C323 260.7 314.3 255.7 311.8 254.4C309.2 253 310.9 254 310.4 254C310 254 309.5 254.1 309.1 254.3C308.7 254.6 308.4 254.9 308.1 255.3C307.9 255.7 307.8 256.2 307.8 256.6C307.7 257 307.9 257.5 308.1 257.9C308.3 258.3 306.7 257.3 309 258.9Z"/><path d="M295 283C292.3 283.7 285.1 285.8 280.2 286.9C275.2 288 268 289.1 265.4 289.6C262.8 290.1 264.6 289.9 264.3 290.1C264.1 290.3 263.8 290.7 263.7 291C263.6 291.4 263.5 291.8 263.6 292.2C263.7 292.6 263.8 293 264.1 293.2C264.3 293.5 264.7 293.8 265 293.9C265.4 294 263.5 294.4 266.2 294C268.9 293.6 276.2 292.4 281.2 291.3C286.1 290.1 293.4 287.9 296.1 287.1C298.7 286.3 296.8 286.8 297 286.5C297.3 286.3 297.5 285.9 297.6 285.6C297.6 285.2 297.6 284.8 297.5 284.5C297.5 284.1 297.3 283.8 297 283.5C296.8 283.3 296.4 283.1 296.1 283C295.7 282.9 297.6 282.4 295 283Z"/><path d="M296.5 287.1C299.4 287.6 307.4 288.5 312.5 289.9C317.6 291.3 324.4 294.7 327.1 295.6C329.7 296.6 328 295.8 328.4 295.7C328.9 295.7 329.3 295.5 329.7 295.2C330 294.9 330.3 294.5 330.4 294C330.6 293.6 330.6 293.1 330.6 292.7C330.5 292.3 330.3 291.8 330 291.5C329.7 291.1 331.6 291.6 328.9 290.7C326.1 289.7 318.9 286.9 313.7 285.6C308.4 284.3 300.1 283.4 297.2 283C294.3 282.5 296.5 282.9 296.1 283.1C295.8 283.2 295.5 283.4 295.3 283.7C295 284 294.9 284.3 294.8 284.7C294.8 285 294.8 285.4 294.9 285.8C295 286.1 295.3 286.4 295.5 286.7C295.8 286.9 293.7 286.6 296.5 287.1Z"/><path d="M293.2 287.8C291.3 290.6 285.9 297.4 282.8 303.8C279.7 310.2 276.9 318.2 274.5 325.9C272.2 333.7 269.7 346 268.8 350.4C267.8 354.9 268.7 351.8 268.9 352.4C269.1 353 269.5 353.7 269.9 354.1C270.4 354.5 271.1 354.9 271.7 355C272.3 355.2 273.1 355.1 273.7 354.9C274.3 354.8 275 354.4 275.4 353.9C275.8 353.4 275.3 356.4 276.3 352.1C277.3 347.8 279.2 335.5 281.4 328C283.6 320.4 286.6 313.1 289.3 306.8C292.1 300.6 296.3 293.4 297.8 290.4C299.3 287.5 298.2 289.5 298.2 289.1C298.2 288.7 298 288.2 297.8 287.8C297.6 287.4 297.2 287 296.9 286.8C296.5 286.6 296 286.5 295.5 286.5C295.1 286.5 294.6 286.6 294.2 286.8C293.8 287 295.1 284.9 293.2 287.8Z"/><path d="M294.5 290.3C296.2 294.1 302.3 305.8 304.3 311.9C306.4 318 306.9 320 306.8 326.9C306.7 333.9 304.3 348.8 303.9 353.6C303.4 358.4 303.9 355 304.2 355.6C304.4 356.1 304.9 356.7 305.4 357.1C306 357.5 306.7 357.7 307.3 357.8C307.9 357.9 308.7 357.8 309.3 357.5C309.9 357.2 310.4 356.7 310.8 356.2C311.2 355.7 311 359.2 311.5 354.4C312.1 349.5 314.1 334.4 314 326.9C313.9 319.5 313.5 316 311.1 309.5C308.6 303 301.4 291.7 299.2 287.9C297.1 284.1 298.7 287.1 298.3 286.9C298 286.6 297.5 286.5 297 286.5C296.6 286.4 296.1 286.5 295.7 286.7C295.3 286.9 294.9 287.3 294.7 287.6C294.4 288 294.3 288.5 294.2 288.9C294.2 289.4 292.8 286.4 294.5 290.3Z"/><path d="M313.7 315.1C315.6 317.4 321.2 321.4 324.2 328.1C327.3 334.7 330.5 350.1 331.9 354.8C333.4 359.5 332.4 355.8 332.7 356.1C333.1 356.4 333.6 356.7 334.1 356.8C334.5 356.9 335.1 356.9 335.6 356.8C336 356.6 336.5 356.3 336.8 356C337.2 355.6 337.4 355.1 337.6 354.6C337.7 354.2 338.9 357.9 337.5 353.1C336.1 348.3 332.3 332.7 329 325.8C325.7 318.9 319.9 314.3 317.9 311.8C315.8 309.3 317.2 311.1 316.8 311C316.4 310.8 315.8 310.7 315.4 310.8C315 310.9 314.5 311.1 314.2 311.4C313.8 311.6 313.5 312.1 313.3 312.5C313.2 312.9 313.1 313.4 313.2 313.8C313.3 314.3 311.9 312.7 313.7 315.1Z"/><path d="M270 304.7C269 308.5 266.2 319.2 264.6 326.4C262.9 333.6 260.9 344.2 260.2 348C259.5 351.9 260.2 349.1 260.3 349.5C260.5 350 260.8 350.5 261.2 350.8C261.6 351.1 262.1 351.3 262.5 351.4C263 351.5 263.6 351.5 264.1 351.3C264.5 351.2 265 350.8 265.3 350.5C265.6 350.1 265.2 352.9 265.9 349.1C266.7 345.3 268.2 334.7 269.7 327.5C271.2 320.3 274.2 309.8 275.1 306C276 302.1 275.2 305 275.1 304.6C275 304.2 274.7 303.7 274.4 303.4C274.1 303.1 273.6 302.9 273.2 302.8C272.8 302.6 272.2 302.7 271.8 302.8C271.4 302.9 271 303.2 270.6 303.5C270.3 303.8 271 300.9 270 304.7Z"/><path d="M352.8 189.2C352.9 198.9 353.4 232 353.9 246C354.3 259.9 355 259.4 355.2 272.9C355.4 286.4 355 312.7 355.2 327C355.4 341.3 356.2 353.4 356.6 359C356.9 364.7 356.8 360.4 357.2 360.9C357.5 361.5 358.1 362 358.6 362.3C359.2 362.6 359.9 362.7 360.6 362.7C361.2 362.7 361.9 362.4 362.5 362.1C363 361.8 363.5 361.2 363.8 360.6C364.1 360.1 364.4 364.3 364.3 358.7C364.1 353.1 363.1 341.2 362.9 326.9C362.7 312.6 363.1 286.3 362.9 272.8C362.7 259.3 362.1 259.7 361.6 245.7C361.1 231.7 360.3 198.7 359.9 189C359.6 179.2 359.7 187.7 359.4 187.2C359.1 186.7 358.6 186.2 358.1 185.9C357.5 185.6 356.9 185.5 356.3 185.5C355.7 185.5 355 185.7 354.5 186C354 186.3 353.5 186.8 353.2 187.3C352.9 187.9 352.7 179.4 352.8 189.2Z"/><path d="M350.1 278.2C349.8 286.5 349.4 313.5 349 326.9C348.6 340.3 347.8 353.2 347.6 358.8C347.5 364.4 347.8 360 348 360.4C348.3 360.9 348.8 361.4 349.2 361.7C349.7 362 350.3 362.1 350.9 362.2C351.4 362.2 352.1 362 352.6 361.7C353 361.5 353.5 361 353.8 360.5C354.1 360.1 354.2 364.5 354.3 358.9C354.3 353.3 353.9 340.4 354 327C354 313.6 354.5 286.6 354.5 278.3C354.6 270 354.4 277.5 354.3 277.2C354.1 276.9 353.8 276.6 353.4 276.4C353.1 276.2 352.7 276.1 352.3 276C352 276 351.5 276.1 351.2 276.3C350.9 276.5 350.6 276.8 350.4 277.1C350.2 277.4 350.3 269.9 350.1 278.2Z"/><path d="M386.3 212.9C385.5 218.7 382.5 226.8 382.2 245.8C382 264.8 385.1 309 384.9 326.9C384.8 344.9 382 348.7 381.4 353.5C380.9 358.3 381.5 355.2 381.8 355.9C382.2 356.6 382.7 357.3 383.4 357.8C384 358.2 384.9 358.5 385.6 358.6C386.4 358.7 387.3 358.5 388 358.2C388.7 357.9 389.4 357.3 389.9 356.7C390.3 356.1 390.3 359.4 390.7 354.4C391.2 349.5 392.8 345 392.6 326.9C392.5 308.8 389.7 264.7 389.9 245.9C390.2 227 393.3 219.5 394 213.9C394.6 208.2 393.9 212.5 393.7 211.9C393.4 211.3 393 210.7 392.5 210.3C392 209.9 391.3 209.7 390.6 209.6C390 209.5 389.2 209.6 388.6 209.8C388.1 210.1 387.5 210.6 387.1 211.1C386.7 211.6 387.1 207.1 386.3 212.9Z"/><path d="M322 201C323.4 203.5 328.6 212.2 330.1 214.5C331.6 216.9 330.6 215.2 330.9 215.3C331.3 215.5 331.7 215.6 332.1 215.6C332.4 215.6 332.9 215.5 333.2 215.3C333.5 215.1 333.8 214.8 334 214.5C334.2 214.2 334.3 213.7 334.3 213.4C334.2 213 335.3 214.7 333.9 212.2C332.5 209.8 327.3 201.1 325.8 198.7C324.3 196.3 325.3 198.1 325 197.9C324.7 197.7 324.2 197.6 323.9 197.6C323.5 197.7 323.1 197.8 322.8 198C322.4 198.2 322.1 198.5 322 198.8C321.8 199.1 321.7 199.5 321.7 199.9C321.7 200.3 320.6 198.6 322 201Z"/><path d="M378.9 227.9C381.1 222.7 389.1 203.3 391.1 198.1C393.2 193 391.3 197.3 391.3 196.8C391.2 196.4 391 196 390.8 195.6C390.5 195.3 390.1 195 389.7 194.9C389.4 194.7 388.9 194.6 388.5 194.7C388 194.8 387.6 194.9 387.3 195.2C386.9 195.5 388.6 191.1 386.5 196.2C384.3 201.4 376.4 220.8 374.3 226C372.3 231.1 374.1 226.8 374.1 227.3C374.2 227.7 374.4 228.1 374.6 228.4C374.9 228.8 375.3 229.1 375.7 229.2C376.1 229.4 376.6 229.5 377 229.4C377.4 229.3 377.8 229.1 378.2 228.9C378.5 228.6 376.8 233 378.9 227.9Z"/><path d="M252.5 357.2a3.3 3.3 0 1 0 6.6 0a3.3 3.3 0 1 0 -6.6 0Z"/><path d="M77.5 202.5C75.4 202.8 68.7 203.8 66.7 204.2C64.7 204.5 65.7 204.5 65.4 204.7C65 205 64.7 205.5 64.5 205.9C64.3 206.3 64.3 206.9 64.3 207.3C64.4 207.8 64.6 208.3 64.9 208.6C65.2 209 65.6 209.3 66.1 209.5C66.5 209.7 65.5 209.9 67.5 209.7C69.5 209.4 76.3 208.4 78.3 208C80.3 207.7 79.3 207.7 79.6 207.5C80 207.2 80.3 206.7 80.5 206.3C80.7 205.9 80.7 205.3 80.6 204.9C80.6 204.4 80.4 203.9 80.1 203.6C79.8 203.2 79.3 202.9 78.9 202.7C78.5 202.5 79.5 202.3 77.5 202.5Z"/><path d="M77.5 218.3C79.5 218.7 86.3 219.7 88.3 219.9C90.3 220.2 89.3 219.9 89.7 219.8C90.2 219.6 90.6 219.3 90.9 218.9C91.2 218.5 91.4 218 91.5 217.6C91.5 217.1 91.5 216.6 91.3 216.2C91.1 215.7 90.8 215.3 90.4 215C90.1 214.7 91.1 214.8 89.1 214.4C87.1 214.1 80.4 213.1 78.3 212.8C76.3 212.6 77.3 212.8 76.9 213C76.5 213.1 76 213.5 75.7 213.8C75.4 214.2 75.2 214.7 75.2 215.1C75.1 215.6 75.1 216.1 75.3 216.6C75.5 217 75.8 217.4 76.2 217.7C76.5 218 75.5 217.9 77.5 218.3Z"/><path d="M77.5 223.1C75.4 223.3 68.7 224.3 66.7 224.7C64.7 225.1 65.7 225 65.4 225.3C65 225.6 64.7 226 64.5 226.4C64.3 226.9 64.3 227.4 64.3 227.9C64.4 228.3 64.6 228.8 64.9 229.2C65.2 229.5 65.6 229.9 66.1 230C66.5 230.2 65.5 230.4 67.5 230.2C69.5 230 76.3 228.9 78.3 228.6C80.3 228.2 79.3 228.3 79.6 228C80 227.7 80.3 227.3 80.5 226.8C80.7 226.4 80.7 225.9 80.6 225.4C80.6 225 80.4 224.5 80.1 224.1C79.8 223.7 79.3 223.4 78.9 223.3C78.5 223.1 79.5 222.8 77.5 223.1Z"/><path d="M77.5 238.8C79.5 239.2 86.3 240.2 88.3 240.5C90.3 240.7 89.3 240.5 89.7 240.3C90.2 240.1 90.6 239.8 90.9 239.5C91.2 239.1 91.4 238.6 91.5 238.1C91.5 237.7 91.5 237.1 91.3 236.7C91.1 236.3 90.8 235.8 90.4 235.6C90.1 235.3 91.1 235.3 89.1 235C87.1 234.6 80.4 233.6 78.3 233.4C76.3 233.1 77.3 233.4 76.9 233.5C76.5 233.7 76 234 75.7 234.4C75.4 234.7 75.2 235.2 75.2 235.7C75.1 236.2 75.1 236.7 75.3 237.1C75.5 237.6 75.8 238 76.2 238.3C76.5 238.6 75.5 238.5 77.5 238.8Z"/><path d="M77.5 243.6C75.4 243.9 68.7 244.9 66.7 245.3C64.7 245.6 65.7 245.5 65.4 245.8C65 246.1 64.7 246.6 64.5 247C64.3 247.4 64.3 248 64.3 248.4C64.4 248.9 64.6 249.4 64.9 249.7C65.2 250.1 65.6 250.4 66.1 250.6C66.5 250.8 65.5 251 67.5 250.7C69.5 250.5 76.3 249.5 78.3 249.1C80.3 248.8 79.3 248.8 79.6 248.5C80 248.3 80.3 247.8 80.5 247.4C80.7 247 80.7 246.4 80.6 246C80.6 245.5 80.4 245 80.1 244.7C79.8 244.3 79.3 244 78.9 243.8C78.5 243.6 79.5 243.4 77.5 243.6Z"/><path d="M77.5 259.4C79.5 259.8 86.3 260.8 88.3 261C90.3 261.3 89.3 261 89.7 260.9C90.2 260.7 90.6 260.4 90.9 260C91.2 259.6 91.4 259.1 91.5 258.7C91.5 258.2 91.5 257.7 91.3 257.3C91.1 256.8 90.8 256.4 90.4 256.1C90.1 255.8 91.1 255.9 89.1 255.5C87.1 255.2 80.4 254.2 78.3 253.9C76.3 253.7 77.3 253.9 76.9 254.1C76.5 254.2 76 254.6 75.7 254.9C75.4 255.3 75.2 255.8 75.2 256.2C75.1 256.7 75.1 257.2 75.3 257.7C75.5 258.1 75.8 258.5 76.2 258.8C76.5 259.1 75.5 259 77.5 259.4Z"/><path d="M77.5 264.2C75.4 264.4 68.7 265.4 66.7 265.8C64.7 266.2 65.7 266.1 65.4 266.4C65 266.7 64.7 267.1 64.5 267.5C64.3 268 64.3 268.5 64.3 269C64.4 269.4 64.6 269.9 64.9 270.3C65.2 270.6 65.6 271 66.1 271.1C66.5 271.3 65.5 271.5 67.5 271.3C69.5 271 76.3 270 78.3 269.7C80.3 269.3 79.3 269.4 79.6 269.1C80 268.8 80.3 268.4 80.5 267.9C80.7 267.5 80.7 267 80.6 266.5C80.6 266.1 80.4 265.6 80.1 265.2C79.8 264.8 79.3 264.5 78.9 264.3C78.5 264.2 79.5 263.9 77.5 264.2Z"/><path d="M77.5 279.9C79.5 280.3 86.3 281.3 88.3 281.6C90.3 281.8 89.3 281.6 89.7 281.4C90.2 281.2 90.6 280.9 90.9 280.5C91.2 280.2 91.4 279.7 91.5 279.2C91.5 278.8 91.5 278.2 91.3 277.8C91.1 277.4 90.8 276.9 90.4 276.6C90.1 276.4 91.1 276.4 89.1 276.1C87.1 275.7 80.4 274.7 78.3 274.5C76.3 274.2 77.3 274.4 76.9 274.6C76.5 274.8 76 275.1 75.7 275.5C75.4 275.8 75.2 276.3 75.2 276.8C75.1 277.2 75.1 277.8 75.3 278.2C75.5 278.6 75.8 279.1 76.2 279.4C76.5 279.7 75.5 279.6 77.5 279.9Z"/><path d="M77.5 284.7C75.4 285 68.7 286 66.7 286.3C64.7 286.7 65.7 286.6 65.4 286.9C65 287.2 64.7 287.6 64.5 288.1C64.3 288.5 64.3 289 64.3 289.5C64.4 290 64.6 290.5 64.9 290.8C65.2 291.2 65.6 291.5 66.1 291.7C66.5 291.8 65.5 292.1 67.5 291.8C69.5 291.6 76.3 290.6 78.3 290.2C80.3 289.8 79.3 289.9 79.6 289.6C80 289.4 80.3 288.9 80.5 288.5C80.7 288.1 80.7 287.5 80.6 287.1C80.6 286.6 80.4 286.1 80.1 285.7C79.8 285.4 79.3 285.1 78.9 284.9C78.5 284.7 79.5 284.5 77.5 284.7Z"/><path d="M77.5 300.5C79.5 300.9 86.3 301.9 88.3 302.1C90.3 302.4 89.3 302.1 89.7 301.9C90.2 301.8 90.6 301.5 90.9 301.1C91.2 300.7 91.4 300.2 91.5 299.8C91.5 299.3 91.5 298.8 91.3 298.4C91.1 297.9 90.8 297.5 90.4 297.2C90.1 296.9 91.1 297 89.1 296.6C87.1 296.3 80.4 295.2 78.3 295C76.3 294.8 77.3 295 76.9 295.2C76.5 295.3 76 295.7 75.7 296C75.4 296.4 75.2 296.9 75.2 297.3C75.1 297.8 75.1 298.3 75.3 298.8C75.5 299.2 75.8 299.6 76.2 299.9C76.5 300.2 75.5 300.1 77.5 300.5Z"/><path d="M141 202.6C139.1 202.8 133.3 203.8 131.5 204.2C129.7 204.5 130.6 204.5 130.2 204.8C129.8 205.1 129.5 205.5 129.4 205.9C129.2 206.4 129.2 206.9 129.2 207.4C129.3 207.8 129.5 208.3 129.8 208.7C130.1 209 130.6 209.3 131 209.5C131.4 209.7 130.6 209.9 132.4 209.6C134.3 209.4 140.1 208.4 141.9 208C143.7 207.6 142.8 207.7 143.2 207.4C143.6 207.1 143.9 206.7 144 206.2C144.2 205.8 144.2 205.3 144.2 204.8C144.1 204.4 143.9 203.9 143.6 203.5C143.3 203.2 142.8 202.8 142.4 202.7C142 202.5 142.8 202.3 141 202.6Z"/><path d="M141 217.8C142.8 218.1 148.6 219.1 150.4 219.4C152.2 219.6 151.4 219.4 151.9 219.2C152.3 219.1 152.7 218.8 153 218.4C153.3 218.1 153.5 217.6 153.6 217.1C153.7 216.7 153.7 216.1 153.5 215.7C153.3 215.2 153 214.8 152.7 214.5C152.3 214.2 153.2 214.3 151.4 213.9C149.6 213.5 143.7 212.5 141.9 212.3C140.1 212 140.9 212.3 140.5 212.4C140 212.6 139.6 212.9 139.3 213.2C139 213.6 138.8 214.1 138.7 214.5C138.6 215 138.7 215.5 138.8 216C139 216.4 139.3 216.9 139.7 217.2C140 217.4 139.2 217.4 141 217.8Z"/><path d="M141 222C139.1 222.3 133.3 223.3 131.5 223.6C129.7 224 130.6 223.9 130.2 224.2C129.8 224.5 129.5 225 129.4 225.4C129.2 225.8 129.2 226.4 129.2 226.8C129.3 227.3 129.5 227.8 129.8 228.1C130.1 228.5 130.6 228.8 131 229C131.4 229.1 130.6 229.4 132.4 229.1C134.3 228.9 140.1 227.9 141.9 227.5C143.7 227.1 142.8 227.2 143.2 226.9C143.6 226.6 143.9 226.1 144 225.7C144.2 225.3 144.2 224.7 144.2 224.3C144.1 223.8 143.9 223.3 143.6 223C143.3 222.6 142.8 222.3 142.4 222.1C142 222 142.8 221.8 141 222Z"/><path d="M141 237.2C142.8 237.6 148.6 238.6 150.4 238.8C152.2 239.1 151.4 238.9 151.9 238.7C152.3 238.5 152.7 238.2 153 237.9C153.3 237.5 153.5 237 153.6 236.6C153.7 236.1 153.7 235.6 153.5 235.1C153.3 234.7 153 234.3 152.7 234C152.3 233.7 153.2 233.7 151.4 233.4C149.6 233 143.7 232 141.9 231.7C140.1 231.5 140.9 231.7 140.5 231.9C140 232 139.6 232.4 139.3 232.7C139 233.1 138.8 233.6 138.7 234C138.6 234.5 138.7 235 138.8 235.4C139 235.9 139.3 236.3 139.7 236.6C140 236.9 139.2 236.8 141 237.2Z"/><path d="M141 241.5C139.1 241.7 133.3 242.7 131.5 243.1C129.7 243.5 130.6 243.4 130.2 243.7C129.8 244 129.5 244.4 129.4 244.9C129.2 245.3 129.2 245.9 129.2 246.3C129.3 246.8 129.5 247.3 129.8 247.6C130.1 248 130.6 248.3 131 248.4C131.4 248.6 130.6 248.8 132.4 248.6C134.3 248.3 140.1 247.3 141.9 246.9C143.7 246.6 142.8 246.6 143.2 246.3C143.6 246.1 143.9 245.6 144 245.2C144.2 244.7 144.2 244.2 144.2 243.7C144.1 243.3 143.9 242.8 143.6 242.4C143.3 242.1 142.8 241.8 142.4 241.6C142 241.5 142.8 241.2 141 241.5Z"/><path d="M141 256.7C142.8 257.1 148.6 258.1 150.4 258.3C152.2 258.6 151.4 258.3 151.9 258.2C152.3 258 152.7 257.7 153 257.3C153.3 257 153.5 256.5 153.6 256C153.7 255.6 153.7 255 153.5 254.6C153.3 254.2 153 253.7 152.7 253.4C152.3 253.1 153.2 253.2 151.4 252.8C149.6 252.5 143.7 251.5 141.9 251.2C140.1 251 140.9 251.2 140.5 251.3C140 251.5 139.6 251.8 139.3 252.2C139 252.5 138.8 253 138.7 253.5C138.6 253.9 138.7 254.5 138.8 254.9C139 255.3 139.3 255.8 139.7 256.1C140 256.4 139.2 256.3 141 256.7Z"/><path d="M141 260.9C139.1 261.2 133.3 262.2 131.5 262.6C129.7 262.9 130.6 262.9 130.2 263.2C129.8 263.5 129.5 263.9 129.4 264.3C129.2 264.8 129.2 265.3 129.2 265.8C129.3 266.2 129.5 266.7 129.8 267.1C130.1 267.4 130.6 267.7 131 267.9C131.4 268.1 130.6 268.3 132.4 268C134.3 267.8 140.1 266.8 141.9 266.4C143.7 266 142.8 266.1 143.2 265.8C143.6 265.5 143.9 265.1 144 264.6C144.2 264.2 144.2 263.7 144.2 263.2C144.1 262.8 143.9 262.3 143.6 261.9C143.3 261.6 142.8 261.2 142.4 261.1C142 260.9 142.8 260.7 141 260.9Z"/><path d="M141 276.1C142.8 276.5 148.6 277.5 150.4 277.8C152.2 278 151.4 277.8 151.9 277.6C152.3 277.5 152.7 277.2 153 276.8C153.3 276.5 153.5 276 153.6 275.5C153.7 275 153.7 274.5 153.5 274.1C153.3 273.6 153 273.2 152.7 272.9C152.3 272.6 153.2 272.7 151.4 272.3C149.6 271.9 143.7 270.9 141.9 270.7C140.1 270.4 140.9 270.7 140.5 270.8C140 271 139.6 271.3 139.3 271.6C139 272 138.8 272.5 138.7 272.9C138.6 273.4 138.7 273.9 138.8 274.4C139 274.8 139.3 275.3 139.7 275.5C140 275.8 139.2 275.8 141 276.1Z"/><path d="M141 280.4C139.1 280.7 133.3 281.7 131.5 282C129.7 282.4 130.6 282.3 130.2 282.6C129.8 282.9 129.5 283.4 129.4 283.8C129.2 284.2 129.2 284.8 129.2 285.2C129.3 285.7 129.5 286.2 129.8 286.5C130.1 286.9 130.6 287.2 131 287.4C131.4 287.5 130.6 287.7 132.4 287.5C134.3 287.3 140.1 286.2 141.9 285.9C143.7 285.5 142.8 285.6 143.2 285.3C143.6 285 143.9 284.5 144 284.1C144.2 283.7 144.2 283.1 144.2 282.7C144.1 282.2 143.9 281.7 143.6 281.4C143.3 281 142.8 280.7 142.4 280.5C142 280.4 142.8 280.2 141 280.4Z"/><path d="M141 295.6C142.8 296 148.6 297 150.4 297.2C152.2 297.5 151.4 297.3 151.9 297.1C152.3 296.9 152.7 296.6 153 296.3C153.3 295.9 153.5 295.4 153.6 295C153.7 294.5 153.7 294 153.5 293.5C153.3 293.1 153 292.7 152.7 292.4C152.3 292.1 153.2 292.1 151.4 291.8C149.6 291.4 143.7 290.4 141.9 290.1C140.1 289.9 140.9 290.1 140.5 290.3C140 290.4 139.6 290.7 139.3 291.1C139 291.5 138.8 292 138.7 292.4C138.6 292.9 138.7 293.4 138.8 293.8C139 294.3 139.3 294.7 139.7 295C140 295.3 139.2 295.2 141 295.6Z"/><path d="M186.9 197.2C185.2 197.4 179.9 198.4 178.2 198.8C176.6 199.1 177.3 199.1 176.9 199.4C176.6 199.7 176.3 200.1 176.1 200.6C176 201 175.9 201.6 176 202C176.1 202.5 176.3 203 176.6 203.3C176.9 203.7 177.4 204 177.8 204.1C178.3 204.3 177.6 204.5 179.2 204.2C180.9 204 186.2 203 187.9 202.6C189.6 202.2 188.8 202.3 189.2 202C189.5 201.7 189.9 201.2 190 200.8C190.2 200.4 190.2 199.8 190.1 199.4C190 198.9 189.8 198.4 189.5 198.1C189.2 197.7 188.7 197.4 188.3 197.3C187.9 197.1 188.6 196.9 186.9 197.2Z"/><path d="M186.9 211.3C188.5 211.6 193.8 212.6 195.5 212.9C197.2 213.1 196.5 212.9 197 212.8C197.4 212.6 197.8 212.3 198.1 212C198.4 211.6 198.7 211.1 198.8 210.7C198.9 210.2 198.8 209.7 198.7 209.2C198.5 208.8 198.2 208.3 197.8 208C197.5 207.7 198.2 207.8 196.6 207.4C194.9 207.1 189.6 206.1 187.9 205.8C186.2 205.6 186.9 205.8 186.5 205.9C186 206.1 185.6 206.4 185.3 206.7C185 207.1 184.7 207.6 184.7 208C184.6 208.5 184.6 209 184.8 209.5C184.9 209.9 185.2 210.3 185.6 210.6C185.9 210.9 185.2 210.9 186.9 211.3Z"/><path d="M186.9 214.5C185.2 214.7 179.9 215.7 178.2 216.1C176.6 216.5 177.3 216.4 176.9 216.7C176.6 217 176.3 217.4 176.1 217.9C176 218.3 175.9 218.9 176 219.3C176.1 219.8 176.3 220.3 176.6 220.6C176.9 221 177.4 221.3 177.8 221.4C178.3 221.6 177.6 221.8 179.2 221.5C180.9 221.3 186.2 220.3 187.9 219.9C189.6 219.5 188.8 219.6 189.2 219.3C189.5 219 189.9 218.5 190 218.1C190.2 217.7 190.2 217.1 190.1 216.7C190 216.2 189.8 215.7 189.5 215.4C189.2 215 188.7 214.7 188.3 214.6C187.9 214.4 188.6 214.2 186.9 214.5Z"/><path d="M186.9 228.6C188.5 228.9 193.8 229.9 195.5 230.2C197.2 230.4 196.5 230.2 197 230.1C197.4 229.9 197.8 229.6 198.1 229.3C198.4 228.9 198.7 228.4 198.8 228C198.9 227.5 198.8 227 198.7 226.5C198.5 226.1 198.2 225.6 197.8 225.3C197.5 225 198.2 225.1 196.6 224.7C194.9 224.4 189.6 223.4 187.9 223.1C186.2 222.9 186.9 223.1 186.5 223.2C186 223.4 185.6 223.7 185.3 224C185 224.4 184.7 224.9 184.7 225.3C184.6 225.8 184.6 226.3 184.8 226.8C184.9 227.2 185.2 227.6 185.6 227.9C185.9 228.2 185.2 228.2 186.9 228.6Z"/><path d="M186.9 231.8C185.2 232 179.9 233 178.2 233.4C176.6 233.8 177.3 233.7 176.9 234C176.6 234.3 176.3 234.7 176.1 235.2C176 235.6 175.9 236.2 176 236.6C176.1 237.1 176.3 237.6 176.6 237.9C176.9 238.3 177.4 238.6 177.8 238.7C178.3 238.9 177.6 239.1 179.2 238.8C180.9 238.6 186.2 237.6 187.9 237.2C189.6 236.8 188.8 236.9 189.2 236.6C189.5 236.3 189.9 235.8 190 235.4C190.2 235 190.2 234.4 190.1 234C190 233.5 189.8 233 189.5 232.7C189.2 232.3 188.7 232 188.3 231.9C187.9 231.7 188.6 231.5 186.9 231.8Z"/><path d="M186.9 245.9C188.5 246.2 193.8 247.2 195.5 247.5C197.2 247.7 196.5 247.5 197 247.4C197.4 247.2 197.8 246.9 198.1 246.6C198.4 246.2 198.7 245.7 198.8 245.3C198.9 244.8 198.8 244.3 198.7 243.8C198.5 243.4 198.2 243 197.8 242.7C197.5 242.3 198.2 242.4 196.6 242C194.9 241.7 189.6 240.7 187.9 240.4C186.2 240.2 186.9 240.4 186.5 240.5C186 240.7 185.6 241 185.3 241.3C185 241.7 184.7 242.2 184.7 242.6C184.6 243.1 184.6 243.6 184.8 244.1C184.9 244.5 185.2 244.9 185.6 245.2C185.9 245.5 185.2 245.5 186.9 245.9Z"/><path d="M186.9 249.1C185.2 249.3 179.9 250.3 178.2 250.7C176.6 251.1 177.3 251 176.9 251.3C176.6 251.6 176.3 252.1 176.1 252.5C176 252.9 175.9 253.5 176 253.9C176.1 254.4 176.3 254.9 176.6 255.2C176.9 255.6 177.4 255.9 177.8 256C178.3 256.2 177.6 256.4 179.2 256.1C180.9 255.9 186.2 254.9 187.9 254.5C189.6 254.1 188.8 254.2 189.2 253.9C189.5 253.6 189.9 253.1 190 252.7C190.2 252.3 190.2 251.7 190.1 251.3C190 250.8 189.8 250.3 189.5 250C189.2 249.6 188.7 249.3 188.3 249.2C187.9 249 188.6 248.8 186.9 249.1Z"/><path d="M186.9 263.2C188.5 263.5 193.8 264.5 195.5 264.8C197.2 265 196.5 264.8 197 264.7C197.4 264.5 197.8 264.2 198.1 263.9C198.4 263.5 198.7 263 198.8 262.6C198.9 262.1 198.8 261.6 198.7 261.1C198.5 260.7 198.2 260.3 197.8 260C197.5 259.7 198.2 259.7 196.6 259.3C194.9 259 189.6 258 187.9 257.7C186.2 257.5 186.9 257.7 186.5 257.8C186 258 185.6 258.3 185.3 258.6C185 259 184.7 259.5 184.7 259.9C184.6 260.4 184.6 260.9 184.8 261.4C184.9 261.8 185.2 262.2 185.6 262.5C185.9 262.8 185.2 262.8 186.9 263.2Z"/><path d="M186.9 266.4C185.2 266.6 179.9 267.6 178.2 268C176.6 268.4 177.3 268.3 176.9 268.6C176.6 268.9 176.3 269.4 176.1 269.8C176 270.2 175.9 270.8 176 271.2C176.1 271.7 176.3 272.2 176.6 272.5C176.9 272.9 177.4 273.2 177.8 273.3C178.3 273.5 177.6 273.7 179.2 273.4C180.9 273.2 186.2 272.2 187.9 271.8C189.6 271.4 188.8 271.5 189.2 271.2C189.5 270.9 189.9 270.4 190 270C190.2 269.6 190.2 269 190.1 268.6C190 268.1 189.8 267.6 189.5 267.3C189.2 266.9 188.7 266.6 188.3 266.5C187.9 266.3 188.6 266.1 186.9 266.4Z"/><path d="M186.9 280.5C188.5 280.8 193.8 281.8 195.5 282.1C197.2 282.3 196.5 282.1 197 282C197.4 281.8 197.8 281.5 198.1 281.2C198.4 280.8 198.7 280.3 198.8 279.9C198.9 279.4 198.8 278.9 198.7 278.4C198.5 278 198.2 277.6 197.8 277.3C197.5 277 198.2 277 196.6 276.6C194.9 276.3 189.6 275.3 187.9 275C186.2 274.8 186.9 275 186.5 275.1C186 275.3 185.6 275.6 185.3 275.9C185 276.3 184.7 276.8 184.7 277.2C184.6 277.7 184.6 278.2 184.8 278.7C184.9 279.1 185.2 279.5 185.6 279.8C185.9 280.1 185.2 280.1 186.9 280.5Z"/><path d="M186.9 283.7C185.2 283.9 179.9 284.9 178.2 285.3C176.6 285.7 177.3 285.6 176.9 285.9C176.6 286.2 176.3 286.7 176.1 287.1C176 287.5 175.9 288.1 176 288.5C176.1 289 176.3 289.5 176.6 289.8C176.9 290.2 177.4 290.5 177.8 290.6C178.3 290.8 177.6 291 179.2 290.7C180.9 290.5 186.2 289.5 187.9 289.1C189.6 288.7 188.8 288.8 189.2 288.5C189.5 288.2 189.9 287.7 190 287.3C190.2 286.9 190.2 286.3 190.1 285.9C190 285.4 189.8 284.9 189.5 284.6C189.2 284.2 188.7 283.9 188.3 283.8C187.9 283.6 188.6 283.4 186.9 283.7Z"/><path d="M2.9 203.4C2 203.7 -1 204.7 -1.9 205C-2.9 205.4 -2.6 205.4 -2.8 205.6C-3 205.9 -3.2 206.2 -3.2 206.5C-3.3 206.8 -3.3 207.2 -3.2 207.5C-3.1 207.8 -2.9 208.2 -2.6 208.4C-2.4 208.6 -2 208.8 -1.7 208.8C-1.4 208.9 -1.7 209.1 -0.7 208.8C0.3 208.5 3.2 207.5 4.2 207.1C5.1 206.8 4.8 206.8 5 206.6C5.2 206.3 5.4 206 5.5 205.7C5.5 205.4 5.5 205 5.4 204.7C5.3 204.4 5.1 204 4.9 203.8C4.6 203.6 4.3 203.4 3.9 203.4C3.6 203.3 3.9 203.1 2.9 203.4Z"/><path d="M2.9 219.3C3.9 219.7 6.8 220.7 7.8 220.9C8.8 221.2 8.5 221.1 8.8 221C9.1 220.9 9.5 220.8 9.7 220.5C10 220.3 10.2 220 10.3 219.7C10.4 219.4 10.4 219 10.3 218.7C10.3 218.4 10.1 218 9.9 217.8C9.7 217.5 10 217.6 9 217.2C8.1 216.8 5.2 215.9 4.2 215.6C3.2 215.3 3.5 215.5 3.2 215.5C2.8 215.6 2.5 215.8 2.3 216C2 216.2 1.8 216.5 1.7 216.8C1.6 217.1 1.6 217.5 1.6 217.8C1.7 218.2 1.9 218.5 2.1 218.8C2.3 219 2 218.9 2.9 219.3Z"/><path d="M2.9 227.8C2 228 -1 229 -1.9 229.4C-2.9 229.7 -2.6 229.7 -2.8 229.9C-3 230.2 -3.2 230.5 -3.2 230.8C-3.3 231.2 -3.3 231.5 -3.2 231.9C-3.1 232.2 -2.9 232.5 -2.6 232.7C-2.4 232.9 -2 233.1 -1.7 233.2C-1.4 233.2 -1.7 233.4 -0.7 233.1C0.3 232.8 3.2 231.8 4.2 231.5C5.1 231.1 4.8 231.2 5 230.9C5.2 230.7 5.4 230.3 5.5 230C5.5 229.7 5.5 229.3 5.4 229C5.3 228.7 5.1 228.4 4.9 228.1C4.6 227.9 4.3 227.8 3.9 227.7C3.6 227.6 3.9 227.5 2.9 227.8Z"/><path d="M2.9 243.6C3.9 244 6.8 245 7.8 245.3C8.8 245.5 8.5 245.4 8.8 245.3C9.1 245.3 9.5 245.1 9.7 244.9C10 244.7 10.2 244.3 10.3 244C10.4 243.7 10.4 243.3 10.3 243C10.3 242.7 10.1 242.3 9.9 242.1C9.7 241.9 10 241.9 9 241.5C8.1 241.2 5.2 240.2 4.2 239.9C3.2 239.6 3.5 239.8 3.2 239.9C2.8 239.9 2.5 240.1 2.3 240.3C2 240.5 1.8 240.9 1.7 241.2C1.6 241.5 1.6 241.9 1.6 242.2C1.7 242.5 1.9 242.8 2.1 243.1C2.3 243.3 2 243.3 2.9 243.6Z"/><path d="M2.9 252.1C2 252.4 -1 253.3 -1.9 253.7C-2.9 254.1 -2.6 254 -2.8 254.3C-3 254.5 -3.2 254.9 -3.2 255.2C-3.3 255.5 -3.3 255.9 -3.2 256.2C-3.1 256.5 -2.9 256.8 -2.6 257C-2.4 257.3 -2 257.4 -1.7 257.5C-1.4 257.6 -1.7 257.7 -0.7 257.4C0.3 257.2 3.2 256.2 4.2 255.8C5.1 255.4 4.8 255.5 5 255.2C5.2 255 5.4 254.7 5.5 254.3C5.5 254 5.5 253.6 5.4 253.3C5.3 253 5.1 252.7 4.9 252.5C4.6 252.3 4.3 252.1 3.9 252C3.6 252 3.9 251.8 2.9 252.1Z"/><path d="M2.9 268C3.9 268.3 6.8 269.3 7.8 269.6C8.8 269.9 8.5 269.7 8.8 269.7C9.1 269.6 9.5 269.4 9.7 269.2C10 269 10.2 268.7 10.3 268.4C10.4 268 10.4 267.7 10.3 267.3C10.3 267 10.1 266.7 9.9 266.4C9.7 266.2 10 266.2 9 265.9C8.1 265.5 5.2 264.5 4.2 264.3C3.2 264 3.5 264.1 3.2 264.2C2.8 264.3 2.5 264.4 2.3 264.6C2 264.9 1.8 265.2 1.7 265.5C1.6 265.8 1.6 266.2 1.6 266.5C1.7 266.8 1.9 267.2 2.1 267.4C2.3 267.7 2 267.6 2.9 268Z"/><path d="M2.9 276.4C2 276.7 -1 277.7 -1.9 278C-2.9 278.4 -2.6 278.4 -2.8 278.6C-3 278.8 -3.2 279.2 -3.2 279.5C-3.3 279.8 -3.3 280.2 -3.2 280.5C-3.1 280.8 -2.9 281.2 -2.6 281.4C-2.4 281.6 -2 281.8 -1.7 281.8C-1.4 281.9 -1.7 282 -0.7 281.8C0.3 281.5 3.2 280.5 4.2 280.1C5.1 279.8 4.8 279.8 5 279.6C5.2 279.3 5.4 279 5.5 278.7C5.5 278.4 5.5 278 5.4 277.7C5.3 277.3 5.1 277 4.9 276.8C4.6 276.6 4.3 276.4 3.9 276.4C3.6 276.3 3.9 276.1 2.9 276.4Z"/><path d="M2.9 292.3C3.9 292.7 6.8 293.6 7.8 293.9C8.8 294.2 8.5 294.1 8.8 294C9.1 293.9 9.5 293.8 9.7 293.5C10 293.3 10.2 293 10.3 292.7C10.4 292.4 10.4 292 10.3 291.7C10.3 291.4 10.1 291 9.9 290.8C9.7 290.5 10 290.6 9 290.2C8.1 289.8 5.2 288.9 4.2 288.6C3.2 288.3 3.5 288.5 3.2 288.5C2.8 288.6 2.5 288.8 2.3 289C2 289.2 1.8 289.5 1.7 289.8C1.6 290.1 1.6 290.5 1.6 290.8C1.7 291.2 1.9 291.5 2.1 291.7C2.3 292 2 291.9 2.9 292.3Z"/><path d="M2.9 300.7C2 301 -1 302 -1.9 302.4C-2.9 302.7 -2.6 302.7 -2.8 302.9C-3 303.2 -3.2 303.5 -3.2 303.8C-3.3 304.2 -3.3 304.5 -3.2 304.9C-3.1 305.2 -2.9 305.5 -2.6 305.7C-2.4 305.9 -2 306.1 -1.7 306.2C-1.4 306.2 -1.7 306.4 -0.7 306.1C0.3 305.8 3.2 304.8 4.2 304.5C5.1 304.1 4.8 304.2 5 303.9C5.2 303.7 5.4 303.3 5.5 303C5.5 302.7 5.5 302.3 5.4 302C5.3 301.7 5.1 301.4 4.9 301.1C4.6 300.9 4.3 300.8 3.9 300.7C3.6 300.6 3.9 300.5 2.9 300.7Z"/><path d="M2.9 316.6C3.9 317 6.8 318 7.8 318.3C8.8 318.5 8.5 318.4 8.8 318.3C9.1 318.3 9.5 318.1 9.7 317.9C10 317.6 10.2 317.3 10.3 317C10.4 316.7 10.4 316.3 10.3 316C10.3 315.7 10.1 315.3 9.9 315.1C9.7 314.8 10 314.9 9 314.5C8.1 314.2 5.2 313.2 4.2 312.9C3.2 312.6 3.5 312.8 3.2 312.9C2.8 312.9 2.5 313.1 2.3 313.3C2 313.5 1.8 313.8 1.7 314.2C1.6 314.5 1.6 314.8 1.6 315.2C1.7 315.5 1.9 315.8 2.1 316.1C2.3 316.3 2 316.3 2.9 316.6Z"/></g><clipPath id="cle"><use href="#fre" transform="translate(0,-0.5)"/></clipPath><clipPath id="c0e"><use href="#fre"/></clipPath><linearGradient id="cg_e" gradientUnits="userSpaceOnUse" x1="0" y1="0" x2="0" y2="391"><stop offset="0.4604" stop-color="#6b6b6b"/><stop offset="0.5882" stop-color="#666666"/><stop offset="0.6905" stop-color="#575757"/><stop offset="0.7673" stop-color="#404040"/><stop offset="0.8440" stop-color="#2e2e2e"/><stop offset="0.9207" stop-color="#262626"/><stop offset="1.0000" stop-color="#212121"/></linearGradient></defs><g filter="url(#cmap)"><rect x="-5" y="-5" width="401" height="401" fill="#808080"/><use href="#fre" fill="#999999" stroke="#999999" stroke-width="6" filter="url(#gb5)"/><use href="#fre" fill="#bfbfbf" stroke="#bfbfbf" stroke-width="2" filter="url(#gb25)"/><use href="#fre" fill="#ffffff" stroke="#ffffff" stroke-width="0.5" filter="url(#gb05)"/><path d="M-4.8 187.0L9.2 187.0L2.2 198.8ZM34.1 186.5L46.6 186.5L40.3 196.1ZM73.5 184.8L87.7 184.8L80.6 203.4ZM117.9 178.2L124.4 178.2L121.2 185.3ZM137.6 182.7L153.4 182.7L145.5 198.8ZM178.2 179.7L193.9 179.7L186.0 197.5ZM241.2 178.6L252.5 178.6L246.9 188.8ZM292.4 212.0L304.1 212.0L298.2 222.3ZM350.7 183.3L362.1 183.3L356.4 192.1ZM71.9 189.3L83.9 189.3L77.9 208.3ZM181.4 183.9L193.4 183.9L187.4 202.9Z" fill="#e6e6e6" filter="url(#gb25)"/><g filter="url(#gb07)"><use href="#fre" fill="url(#cg_e)"/><g fill="#383838" filter="url(#gb2)"><ellipse cx="14.4" cy="364.5" rx="6.1" ry="7.0"/><ellipse cx="39.5" cy="364.2" rx="8.0" ry="7.0"/><ellipse cx="64.4" cy="364.5" rx="6.1" ry="7.0"/><ellipse cx="94.1" cy="364.5" rx="6.1" ry="7.0"/><ellipse cx="111.7" cy="365.9" rx="4.7" ry="7.0"/><ellipse cx="128.7" cy="364.5" rx="6.1" ry="7.0"/><ellipse cx="154.9" cy="364.0" rx="5.5" ry="7.0"/><ellipse cx="190.1" cy="357.5" rx="12.0" ry="7.0"/><ellipse cx="179.3" cy="364.2" rx="6.6" ry="7.0"/><ellipse cx="200.9" cy="364.2" rx="6.6" ry="7.0"/><ellipse cx="221.2" cy="365.9" rx="4.7" ry="7.0"/><ellipse cx="238.8" cy="365.9" rx="6.3" ry="7.0"/><ellipse cx="272.5" cy="358.8" rx="5.3" ry="7.0"/><ellipse cx="307.7" cy="361.5" rx="5.3" ry="7.0"/><ellipse cx="334.7" cy="360.6" rx="4.3" ry="7.0"/><ellipse cx="263.1" cy="355.2" rx="4.3" ry="7.0"/><ellipse cx="360.4" cy="366.4" rx="5.3" ry="7.0"/><ellipse cx="350.9" cy="365.9" rx="4.7" ry="7.0"/><ellipse cx="386.1" cy="362.3" rx="6.1" ry="7.0"/><ellipse cx="255.8" cy="364.2" rx="4.7" ry="7.0"/></g><use href="#che" fill="#2b2b2b" stroke="#2b2b2b" stroke-width="7" filter="url(#gb1)" clip-path="url(#c0e)"/><use href="#che" fill="#4c4c4c" stroke="#4c4c4c" stroke-width="3.5" filter="url(#gb07)" clip-path="url(#c0e)"/><use href="#che" fill="#fff" clip-path="url(#cle)"/><rect x="-5" y="373.5" width="401" height="2.0" fill="#383838" filter="url(#gb05)"/><g fill="#454545" filter="url(#gb07)"><circle cx="17.6" cy="208.7" r="2.9"/><circle cx="25.4" cy="201.3" r="2.9"/><circle cx="22.7" cy="229.1" r="2.9"/><circle cx="11.2" cy="242.5" r="2.9"/><circle cx="10.7" cy="235.5" r="2.9"/><circle cx="11.5" cy="203.1" r="2.9"/><circle cx="20.0" cy="272.7" r="2.9"/><circle cx="12.8" cy="215.6" r="2.9"/><circle cx="24.9" cy="284.1" r="2.9"/><circle cx="23.7" cy="232.0" r="2.9"/><circle cx="33.3" cy="198.9" r="2.9"/><circle cx="30.4" cy="221.9" r="2.9"/><circle cx="13.2" cy="205.6" r="2.9"/><circle cx="17.2" cy="271.7" r="2.9"/><circle cx="14.1" cy="249.5" r="2.9"/><circle cx="25.1" cy="229.7" r="2.9"/><circle cx="23.0" cy="200.4" r="2.9"/><circle cx="47.7" cy="214.0" r="2.9"/><circle cx="62.6" cy="234.9" r="2.9"/><circle cx="53.8" cy="249.9" r="2.9"/><circle cx="57.2" cy="222.8" r="2.9"/><circle cx="65.4" cy="260.6" r="2.9"/><circle cx="52.1" cy="248.8" r="2.9"/><circle cx="58.9" cy="277.3" r="2.9"/><circle cx="63.8" cy="221.7" r="2.9"/><circle cx="69.9" cy="205.6" r="2.9"/><circle cx="56.3" cy="266.1" r="2.9"/><circle cx="49.9" cy="240.7" r="2.9"/><circle cx="47.2" cy="257.7" r="2.9"/><circle cx="64.7" cy="248.7" r="2.9"/><circle cx="67.3" cy="224.2" r="2.9"/><circle cx="63.0" cy="250.7" r="2.9"/><circle cx="60.2" cy="237.6" r="2.9"/><circle cx="66.5" cy="283.9" r="2.9"/><circle cx="95.0" cy="257.3" r="2.9"/><circle cx="87.9" cy="260.8" r="2.9"/><circle cx="98.0" cy="288.4" r="2.9"/><circle cx="101.0" cy="221.4" r="2.9"/><circle cx="93.5" cy="257.7" r="2.9"/><circle cx="87.2" cy="238.2" r="2.9"/><circle cx="89.7" cy="205.6" r="2.9"/><circle cx="87.8" cy="267.2" r="2.9"/><circle cx="89.1" cy="217.9" r="2.9"/><circle cx="93.6" cy="276.9" r="2.9"/><circle cx="88.2" cy="237.0" r="2.9"/><circle cx="96.3" cy="278.1" r="2.9"/><circle cx="101.0" cy="276.2" r="2.9"/><circle cx="120.4" cy="233.8" r="2.9"/><circle cx="121.9" cy="278.1" r="2.9"/><circle cx="133.1" cy="208.8" r="2.9"/><circle cx="118.5" cy="216.4" r="2.9"/><circle cx="119.6" cy="240.4" r="2.9"/><circle cx="126.2" cy="219.3" r="2.9"/><circle cx="115.3" cy="234.1" r="2.9"/><circle cx="122.1" cy="248.1" r="2.9"/><circle cx="133.0" cy="259.8" r="2.9"/><circle cx="124.8" cy="252.9" r="2.9"/><circle cx="127.8" cy="199.6" r="2.9"/><circle cx="132.0" cy="268.3" r="2.9"/><circle cx="131.5" cy="270.0" r="2.9"/><circle cx="122.5" cy="232.2" r="2.9"/><circle cx="154.5" cy="254.5" r="2.9"/><circle cx="153.4" cy="200.8" r="2.9"/><circle cx="157.3" cy="209.8" r="2.9"/><circle cx="160.8" cy="199.4" r="2.9"/><circle cx="151.7" cy="208.8" r="2.9"/><circle cx="154.4" cy="228.9" r="2.9"/><circle cx="152.4" cy="277.2" r="2.9"/><circle cx="168.1" cy="208.5" r="2.9"/><circle cx="158.5" cy="227.3" r="2.9"/><circle cx="161.4" cy="206.1" r="2.9"/><circle cx="174.4" cy="288.4" r="2.9"/><circle cx="164.2" cy="240.3" r="2.9"/><circle cx="154.0" cy="204.1" r="2.9"/><circle cx="160.9" cy="219.5" r="2.9"/><circle cx="173.9" cy="209.7" r="2.9"/><circle cx="152.3" cy="284.5" r="2.9"/><circle cx="165.8" cy="208.3" r="2.9"/><circle cx="166.2" cy="197.0" r="2.9"/><circle cx="165.8" cy="287.1" r="2.9"/><circle cx="212.4" cy="260.3" r="2.9"/><circle cx="201.2" cy="229.2" r="2.9"/><circle cx="199.4" cy="267.5" r="2.9"/><circle cx="206.2" cy="268.2" r="2.9"/><circle cx="202.5" cy="215.6" r="2.9"/><circle cx="211.4" cy="287.7" r="2.9"/><circle cx="212.2" cy="270.7" r="2.9"/><circle cx="211.6" cy="264.5" r="2.9"/><circle cx="200.5" cy="243.5" r="2.9"/><circle cx="202.9" cy="197.2" r="2.9"/><circle cx="196.8" cy="220.9" r="2.9"/><circle cx="201.1" cy="260.0" r="2.9"/><circle cx="214.2" cy="236.8" r="2.9"/><circle cx="213.8" cy="288.0" r="2.9"/><circle cx="234.8" cy="229.0" r="2.9"/><circle cx="228.1" cy="215.9" r="2.9"/><circle cx="227.9" cy="213.8" r="2.9"/><circle cx="231.8" cy="279.7" r="2.9"/><circle cx="233.8" cy="239.8" r="2.9"/><circle cx="232.0" cy="270.1" r="2.9"/><circle cx="226.8" cy="257.0" r="2.9"/><circle cx="234.4" cy="268.5" r="2.9"/><circle cx="261.3" cy="239.7" r="2.9"/><circle cx="253.0" cy="269.1" r="2.9"/><circle cx="255.2" cy="270.2" r="2.9"/><circle cx="264.6" cy="231.9" r="2.9"/><circle cx="256.2" cy="284.1" r="2.9"/><circle cx="261.0" cy="210.6" r="2.9"/><circle cx="252.2" cy="208.8" r="2.9"/><circle cx="263.6" cy="270.8" r="2.9"/><circle cx="252.5" cy="272.7" r="2.9"/><circle cx="264.7" cy="256.7" r="2.9"/><circle cx="255.5" cy="246.4" r="2.9"/><circle cx="336.5" cy="195.8" r="2.9"/><circle cx="351.0" cy="255.9" r="2.9"/><circle cx="343.3" cy="282.8" r="2.9"/><circle cx="341.7" cy="277.0" r="2.9"/><circle cx="348.5" cy="214.4" r="2.9"/><circle cx="338.5" cy="222.2" r="2.9"/><circle cx="338.3" cy="250.0" r="2.9"/><circle cx="338.7" cy="234.1" r="2.9"/><circle cx="336.5" cy="280.6" r="2.9"/><circle cx="340.3" cy="237.8" r="2.9"/><circle cx="344.3" cy="280.0" r="2.9"/><circle cx="341.5" cy="281.3" r="2.9"/><circle cx="342.9" cy="244.8" r="2.9"/><circle cx="373.6" cy="196.2" r="2.9"/><circle cx="372.3" cy="211.8" r="2.9"/><circle cx="365.3" cy="270.1" r="2.9"/><circle cx="368.0" cy="239.3" r="2.9"/><circle cx="376.8" cy="247.1" r="2.9"/><circle cx="370.5" cy="243.5" r="2.9"/><circle cx="374.1" cy="268.7" r="2.9"/><circle cx="367.0" cy="247.5" r="2.9"/><circle cx="369.2" cy="220.7" r="2.9"/><circle cx="377.6" cy="242.5" r="2.9"/><circle cx="374.2" cy="266.4" r="2.9"/><circle cx="379.8" cy="236.4" r="2.9"/></g><g fill="#fff"><circle cx="17.6" cy="208.7" r="1.7"/><circle cx="25.4" cy="201.3" r="1.7"/><circle cx="22.7" cy="229.1" r="1.7"/><circle cx="11.2" cy="242.5" r="1.7"/><circle cx="10.7" cy="235.5" r="1.7"/><circle cx="11.5" cy="203.1" r="1.7"/><circle cx="20.0" cy="272.7" r="1.7"/><circle cx="12.8" cy="215.6" r="1.7"/><circle cx="24.9" cy="284.1" r="1.7"/><circle cx="23.7" cy="232.0" r="1.7"/><circle cx="33.3" cy="198.9" r="1.7"/><circle cx="30.4" cy="221.9" r="1.7"/><circle cx="13.2" cy="205.6" r="1.7"/><circle cx="17.2" cy="271.7" r="1.7"/><circle cx="14.1" cy="249.5" r="1.7"/><circle cx="25.1" cy="229.7" r="1.7"/><circle cx="23.0" cy="200.4" r="1.7"/><circle cx="47.7" cy="214.0" r="1.7"/><circle cx="62.6" cy="234.9" r="1.7"/><circle cx="53.8" cy="249.9" r="1.7"/><circle cx="57.2" cy="222.8" r="1.7"/><circle cx="65.4" cy="260.6" r="1.7"/><circle cx="52.1" cy="248.8" r="1.7"/><circle cx="58.9" cy="277.3" r="1.7"/><circle cx="63.8" cy="221.7" r="1.7"/><circle cx="69.9" cy="205.6" r="1.7"/><circle cx="56.3" cy="266.1" r="1.7"/><circle cx="49.9" cy="240.7" r="1.7"/><circle cx="47.2" cy="257.7" r="1.7"/><circle cx="64.7" cy="248.7" r="1.7"/><circle cx="67.3" cy="224.2" r="1.7"/><circle cx="63.0" cy="250.7" r="1.7"/><circle cx="60.2" cy="237.6" r="1.7"/><circle cx="66.5" cy="283.9" r="1.7"/><circle cx="95.0" cy="257.3" r="1.7"/><circle cx="87.9" cy="260.8" r="1.7"/><circle cx="98.0" cy="288.4" r="1.7"/><circle cx="101.0" cy="221.4" r="1.7"/><circle cx="93.5" cy="257.7" r="1.7"/><circle cx="87.2" cy="238.2" r="1.7"/><circle cx="89.7" cy="205.6" r="1.7"/><circle cx="87.8" cy="267.2" r="1.7"/><circle cx="89.1" cy="217.9" r="1.7"/><circle cx="93.6" cy="276.9" r="1.7"/><circle cx="88.2" cy="237.0" r="1.7"/><circle cx="96.3" cy="278.1" r="1.7"/><circle cx="101.0" cy="276.2" r="1.7"/><circle cx="120.4" cy="233.8" r="1.7"/><circle cx="121.9" cy="278.1" r="1.7"/><circle cx="133.1" cy="208.8" r="1.7"/><circle cx="118.5" cy="216.4" r="1.7"/><circle cx="119.6" cy="240.4" r="1.7"/><circle cx="126.2" cy="219.3" r="1.7"/><circle cx="115.3" cy="234.1" r="1.7"/><circle cx="122.1" cy="248.1" r="1.7"/><circle cx="133.0" cy="259.8" r="1.7"/><circle cx="124.8" cy="252.9" r="1.7"/><circle cx="127.8" cy="199.6" r="1.7"/><circle cx="132.0" cy="268.3" r="1.7"/><circle cx="131.5" cy="270.0" r="1.7"/><circle cx="122.5" cy="232.2" r="1.7"/><circle cx="154.5" cy="254.5" r="1.7"/><circle cx="153.4" cy="200.8" r="1.7"/><circle cx="157.3" cy="209.8" r="1.7"/><circle cx="160.8" cy="199.4" r="1.7"/><circle cx="151.7" cy="208.8" r="1.7"/><circle cx="154.4" cy="228.9" r="1.7"/><circle cx="152.4" cy="277.2" r="1.7"/><circle cx="168.1" cy="208.5" r="1.7"/><circle cx="158.5" cy="227.3" r="1.7"/><circle cx="161.4" cy="206.1" r="1.7"/><circle cx="174.4" cy="288.4" r="1.7"/><circle cx="164.2" cy="240.3" r="1.7"/><circle cx="154.0" cy="204.1" r="1.7"/><circle cx="160.9" cy="219.5" r="1.7"/><circle cx="173.9" cy="209.7" r="1.7"/><circle cx="152.3" cy="284.5" r="1.7"/><circle cx="165.8" cy="208.3" r="1.7"/><circle cx="166.2" cy="197.0" r="1.7"/><circle cx="165.8" cy="287.1" r="1.7"/><circle cx="212.4" cy="260.3" r="1.7"/><circle cx="201.2" cy="229.2" r="1.7"/><circle cx="199.4" cy="267.5" r="1.7"/><circle cx="206.2" cy="268.2" r="1.7"/><circle cx="202.5" cy="215.6" r="1.7"/><circle cx="211.4" cy="287.7" r="1.7"/><circle cx="212.2" cy="270.7" r="1.7"/><circle cx="211.6" cy="264.5" r="1.7"/><circle cx="200.5" cy="243.5" r="1.7"/><circle cx="202.9" cy="197.2" r="1.7"/><circle cx="196.8" cy="220.9" r="1.7"/><circle cx="201.1" cy="260.0" r="1.7"/><circle cx="214.2" cy="236.8" r="1.7"/><circle cx="213.8" cy="288.0" r="1.7"/><circle cx="234.8" cy="229.0" r="1.7"/><circle cx="228.1" cy="215.9" r="1.7"/><circle cx="227.9" cy="213.8" r="1.7"/><circle cx="231.8" cy="279.7" r="1.7"/><circle cx="233.8" cy="239.8" r="1.7"/><circle cx="232.0" cy="270.1" r="1.7"/><circle cx="226.8" cy="257.0" r="1.7"/><circle cx="234.4" cy="268.5" r="1.7"/><circle cx="261.3" cy="239.7" r="1.7"/><circle cx="253.0" cy="269.1" r="1.7"/><circle cx="255.2" cy="270.2" r="1.7"/><circle cx="264.6" cy="231.9" r="1.7"/><circle cx="256.2" cy="284.1" r="1.7"/><circle cx="261.0" cy="210.6" r="1.7"/><circle cx="252.2" cy="208.8" r="1.7"/><circle cx="263.6" cy="270.8" r="1.7"/><circle cx="252.5" cy="272.7" r="1.7"/><circle cx="264.7" cy="256.7" r="1.7"/><circle cx="255.5" cy="246.4" r="1.7"/><circle cx="336.5" cy="195.8" r="1.7"/><circle cx="351.0" cy="255.9" r="1.7"/><circle cx="343.3" cy="282.8" r="1.7"/><circle cx="341.7" cy="277.0" r="1.7"/><circle cx="348.5" cy="214.4" r="1.7"/><circle cx="338.5" cy="222.2" r="1.7"/><circle cx="338.3" cy="250.0" r="1.7"/><circle cx="338.7" cy="234.1" r="1.7"/><circle cx="336.5" cy="280.6" r="1.7"/><circle cx="340.3" cy="237.8" r="1.7"/><circle cx="344.3" cy="280.0" r="1.7"/><circle cx="341.5" cy="281.3" r="1.7"/><circle cx="342.9" cy="244.8" r="1.7"/><circle cx="373.6" cy="196.2" r="1.7"/><circle cx="372.3" cy="211.8" r="1.7"/><circle cx="365.3" cy="270.1" r="1.7"/><circle cx="368.0" cy="239.3" r="1.7"/><circle cx="376.8" cy="247.1" r="1.7"/><circle cx="370.5" cy="243.5" r="1.7"/><circle cx="374.1" cy="268.7" r="1.7"/><circle cx="367.0" cy="247.5" r="1.7"/><circle cx="369.2" cy="220.7" r="1.7"/><circle cx="377.6" cy="242.5" r="1.7"/><circle cx="374.2" cy="266.4" r="1.7"/><circle cx="379.8" cy="236.4" r="1.7"/></g><rect x="-5" y="376.5" width="401" height="30" fill="#101010"/></g></g>
</svg>
<rect x="544.50" y="482.30" width="391.80" height="390.00" fill="none" stroke="#111" stroke-width="1.3"/>
<path d="M544.50 482.30v-5.5M544.50 872.30v5.5M544.50 872.30h-5.5M936.30 872.30h5.5M560.17 482.30v-2.6M560.17 872.30v2.6M544.50 856.70h-2.6M936.30 856.70h2.6M575.84 482.30v-2.6M575.84 872.30v2.6M544.50 841.10h-2.6M936.30 841.10h2.6M591.52 482.30v-2.6M591.52 872.30v2.6M544.50 825.50h-2.6M936.30 825.50h2.6M607.19 482.30v-2.6M607.19 872.30v2.6M544.50 809.90h-2.6M936.30 809.90h2.6M622.86 482.30v-5.5M622.86 872.30v5.5M544.50 794.30h-5.5M936.30 794.30h5.5M638.53 482.30v-2.6M638.53 872.30v2.6M544.50 778.70h-2.6M936.30 778.70h2.6M654.20 482.30v-2.6M654.20 872.30v2.6M544.50 763.10h-2.6M936.30 763.10h2.6M669.88 482.30v-2.6M669.88 872.30v2.6M544.50 747.50h-2.6M936.30 747.50h2.6M685.55 482.30v-2.6M685.55 872.30v2.6M544.50 731.90h-2.6M936.30 731.90h2.6M701.22 482.30v-5.5M701.22 872.30v5.5M544.50 716.30h-5.5M936.30 716.30h5.5M716.89 482.30v-2.6M716.89 872.30v2.6M544.50 700.70h-2.6M936.30 700.70h2.6M732.56 482.30v-2.6M732.56 872.30v2.6M544.50 685.10h-2.6M936.30 685.10h2.6M748.24 482.30v-2.6M748.24 872.30v2.6M544.50 669.50h-2.6M936.30 669.50h2.6M763.91 482.30v-2.6M763.91 872.30v2.6M544.50 653.90h-2.6M936.30 653.90h2.6M779.58 482.30v-5.5M779.58 872.30v5.5M544.50 638.30h-5.5M936.30 638.30h5.5M795.25 482.30v-2.6M795.25 872.30v2.6M544.50 622.70h-2.6M936.30 622.70h2.6M810.92 482.30v-2.6M810.92 872.30v2.6M544.50 607.10h-2.6M936.30 607.10h2.6M826.60 482.30v-2.6M826.60 872.30v2.6M544.50 591.50h-2.6M936.30 591.50h2.6M842.27 482.30v-2.6M842.27 872.30v2.6M544.50 575.90h-2.6M936.30 575.90h2.6M857.94 482.30v-5.5M857.94 872.30v5.5M544.50 560.30h-5.5M936.30 560.30h5.5M873.61 482.30v-2.6M873.61 872.30v2.6M544.50 544.70h-2.6M936.30 544.70h2.6M889.28 482.30v-2.6M889.28 872.30v2.6M544.50 529.10h-2.6M936.30 529.10h2.6M904.96 482.30v-2.6M904.96 872.30v2.6M544.50 513.50h-2.6M936.30 513.50h2.6M920.63 482.30v-2.6M920.63 872.30v2.6M544.50 497.90h-2.6M936.30 497.90h2.6M936.30 482.30v-5.5M936.30 872.30v5.5M544.50 482.30h-5.5M936.30 482.30h5.5" stroke="#222" stroke-width="1" fill="none"/>
<svg x="971.50" y="480.50" width="391.50" height="390.70" viewBox="0 0 391 391" preserveAspectRatio="none" overflow="hidden">
<rect width="391" height="391" fill="#69b35f"/>
<defs><path id="frf" d="M-8.8 55C-7.4 55 -2.6 54.8 -0.5 55C1.6 55.3 2.3 56.6 3.7 56.4C5.1 56.2 5.7 54.3 7.8 53.6C9.9 52.9 12.9 52.2 16.2 52.2C19.4 52.2 25.2 52.9 27.3 53.6C29.3 54.3 28 56.4 28.7 56.4C29.3 56.4 29.3 54.4 31.4 53.6C33.5 52.8 37.9 51.7 41.1 51.7C44.4 51.7 48.8 53.1 50.9 53.6C52.9 54.2 51.6 55.3 53.6 55C55.7 54.8 59.7 52.9 63.4 52.2C67.1 51.6 73.3 50.6 75.8 50.9C78.4 51.1 77.5 53.7 78.6 53.6C79.8 53.5 80 51.1 82.8 50.3C85.6 49.5 91.8 49.1 95.3 48.9C98.8 48.8 101.8 48.9 103.6 49.5C105.5 50 105.2 52.3 106.4 52.2C107.5 52.2 107.5 49.7 110.5 48.9C113.6 48.1 119.8 47.3 124.4 47.3C129.1 47.3 134.1 48.5 138.3 48.9C142.5 49.3 147.3 48.8 149.4 49.5C151.5 50.1 149.9 52.7 150.8 52.8C151.7 52.9 152.4 50.6 155 50C157.5 49.5 161.9 49.5 166.1 49.5C170.2 49.5 176.3 49.3 180 50C183.7 50.7 186.4 52.8 188.3 53.6C190.1 54.5 190.1 55.5 191.1 55C192 54.6 192.4 52.2 193.8 50.9C195.2 49.6 196.6 48.4 199.4 47.3C202.2 46.1 207 44.5 210.5 43.9C214 43.4 216 43.8 220.2 43.9C224.4 44 230.6 43.8 235.5 44.5C240.3 45.2 246.1 46.8 249.4 48.1C252.6 49.4 252.1 51.2 254.9 52.2C257.7 53.3 262.3 53.8 266 54.5C269.7 55.2 273.4 55.4 277.1 56.4C280.8 57.4 285 59 288.2 60.6C291.5 62.2 294.5 64.2 296.6 66.1C298.6 68.1 299.3 71.2 300.7 72.2C302.1 73.3 303.3 73.5 304.9 72.2C306.5 71 308.1 67.1 310.4 64.7C312.8 62.3 316 59.7 318.8 57.8C321.5 56 323.9 54.7 327.1 53.6C330.3 52.6 334.3 52 338.2 51.7C342.1 51.4 348.4 51.1 350.7 51.7C353 52.2 351.4 54.9 352.1 55C352.8 55.1 352.1 52.9 354.9 52.2C357.6 51.6 365.7 50.6 368.7 50.9C371.7 51.1 371.5 53.6 372.9 53.6C374.3 53.6 374.5 51.3 377.1 50.9C379.6 50.4 384.5 51 388.2 50.9C391.9 50.7 396 50.2 399.3 50C402.5 49.9 406.2 50 407.6 50L407.6 430L-8.8 430Z"/><g id="chf"><path d="M-0 56.5C0.1 75 1.4 133.9 1.4 166.1C1.4 198.2 0 221.6 -0 249.4C-0.1 277.2 0.2 315.2 1.1 332.9C2 350.6 4.2 351.5 5.2 355.7C6.1 359.9 5.9 357.6 6.6 358.2C7.2 358.9 8.2 359.5 9.1 359.7C10 360 11.1 360 12 359.8C12.9 359.5 13.9 359 14.5 358.3C15.2 357.7 15.8 356.7 16 355.8C16.3 354.9 17.2 356.8 16.1 352.9C14.9 349 10.5 349.6 9 332.4C7.6 315.1 7.4 277.1 7.4 249.4C7.3 221.6 8.7 198.2 8.7 166.1C8.7 133.9 7.7 75 7.4 56.4C7 37.8 7.1 55.1 6.8 54.5C6.5 54 6 53.5 5.5 53.2C4.9 52.9 4.2 52.7 3.6 52.7C3 52.7 2.3 52.9 1.8 53.2C1.3 53.6 0.7 54.1 0.4 54.6C0.1 55.1 -0.2 37.9 -0 56.5Z"/><path d="M25.8 56.5C26 65.8 26.6 92.4 27.2 110.7C27.8 129 28.2 147.8 29.4 166.3C30.6 184.9 33.1 203.4 34.4 221.9C35.8 240.4 37.2 258.7 37.5 277.2C37.7 295.6 36.7 319.7 35.8 332.5C34.9 345.3 32.7 349.8 32.2 353.9C31.7 358 32.4 356.1 32.8 357C33.3 358 34.1 358.9 34.9 359.5C35.8 360 36.9 360.4 38 360.5C39 360.5 40.2 360.3 41.1 359.8C42 359.4 42.9 358.6 43.5 357.7C44.1 356.9 44.5 358.9 44.5 354.7C44.6 350.5 43.7 345.7 43.7 332.8C43.8 319.9 45.1 295.7 44.8 277.1C44.6 258.5 43.8 239.8 42.3 221.3C40.9 202.8 37.8 184.3 36.2 165.8C34.6 147.3 33.7 128.7 32.9 110.4C32.1 92.2 31.8 65.6 31.5 56.3C31.2 47.1 31.3 55.3 31.1 54.9C30.8 54.5 30.4 54.1 30 53.9C29.6 53.7 29.1 53.5 28.6 53.6C28.1 53.6 27.6 53.7 27.2 54C26.8 54.2 26.4 54.6 26.1 55C25.9 55.5 25.6 47.2 25.8 56.5Z"/><path d="M37.6 242.9C39.3 245 45.5 252 47.3 254C49.1 256 48.1 254.7 48.6 254.8C49 255 49.6 255 50 254.9C50.5 254.8 51 254.6 51.4 254.3C51.7 254 52 253.5 52.2 253.1C52.3 252.6 52.4 252.1 52.3 251.6C52.2 251.1 53.3 252.3 51.6 250.3C49.9 248.2 43.7 241.1 41.9 239.2C40.1 237.2 41.1 238.5 40.7 238.3C40.2 238.2 39.7 238.1 39.2 238.2C38.7 238.3 38.2 238.6 37.9 238.9C37.5 239.2 37.2 239.7 37.1 240.1C36.9 240.6 36.9 241.1 37 241.6C37 242.1 35.9 240.8 37.6 242.9Z"/><path d="M49.9 55C49.9 64.5 50 91.1 49.9 110.5C49.9 130 49.4 161.2 49.4 171.6C49.4 182 49.5 172.6 49.8 173.1C50 173.5 50.4 173.9 50.8 174.1C51.2 174.3 51.8 174.5 52.2 174.5C52.7 174.5 53.3 174.3 53.7 174.1C54.1 173.9 54.5 173.5 54.7 173.1C55 172.6 55.1 182 55.1 171.6C55.1 161.2 54.6 130 54.5 110.5C54.5 91.1 54.6 64.5 54.5 55C54.5 45.6 54.4 54.2 54.2 53.9C54 53.5 53.7 53.2 53.4 53C53.1 52.8 52.6 52.7 52.2 52.7C51.9 52.7 51.4 52.8 51.1 53C50.8 53.2 50.4 53.5 50.3 53.9C50.1 54.2 50 45.6 49.9 55Z"/><path d="M61.3 55C61.1 66.7 60.6 112.7 60.5 124.4C60.4 136.2 60.6 125.2 60.8 125.6C61 125.9 61.3 126.2 61.6 126.4C62 126.6 62.4 126.7 62.8 126.7C63.2 126.7 63.6 126.6 63.9 126.4C64.3 126.2 64.6 125.9 64.8 125.6C65 125.3 65 136.2 65.1 124.4C65.2 112.7 65.4 66.8 65.4 55C65.4 43.3 65.3 54.3 65.1 54C64.9 53.7 64.7 53.5 64.4 53.3C64.1 53.1 63.7 53 63.4 53C63 53 62.6 53.1 62.4 53.3C62.1 53.4 61.8 53.7 61.6 54C61.4 54.3 61.5 43.3 61.3 55Z"/><path d="M74.9 53.5C74.5 63.3 73.5 91.7 72.7 110.5C72 129.2 70.3 147.6 70.5 166.2C70.7 184.7 73.1 203.3 73.8 221.8C74.5 240.3 74.8 263.3 74.7 277.1C74.6 290.9 73.4 299.6 73.3 304.6C73.1 309.7 73.5 306.5 73.9 307.3C74.3 308.1 75 308.9 75.7 309.4C76.5 309.9 77.5 310.2 78.4 310.2C79.2 310.3 80.3 310.1 81.1 309.6C81.9 309.2 82.6 308.5 83.1 307.8C83.6 307 83.6 310.3 84 305.2C84.3 300 85.5 291.1 85.4 277.1C85.3 263.2 84.6 239.9 83.4 221.4C82.3 202.8 79.2 184.4 78.4 166C77.7 147.5 78.6 129.3 79 110.6C79.3 91.9 80.4 63.5 80.6 53.7C80.9 44 80.5 52.7 80.3 52.3C80.1 51.9 79.7 51.5 79.3 51.2C78.9 51 78.4 50.8 77.9 50.8C77.4 50.8 76.9 50.9 76.4 51.1C76 51.3 75.6 51.7 75.4 52.1C75.1 52.5 75.4 43.8 74.9 53.5Z"/><path d="M74 303.7C72.4 308.7 67.7 323.4 65.6 331.7C63.5 340 61.8 349.5 61.1 353.5C60.4 357.6 61.1 355.4 61.4 356.1C61.7 356.9 62.3 357.7 63 358.3C63.6 358.8 64.5 359.2 65.4 359.3C66.2 359.4 67.2 359.3 68 359C68.8 358.7 69.6 358.1 70.1 357.5C70.6 356.8 70.6 359.1 71.1 355.1C71.7 351.1 71.6 341.7 73.3 333.6C75.1 325.4 80.2 311 81.6 306C83 301.1 81.8 304.6 81.6 304C81.5 303.3 81.1 302.6 80.7 302.2C80.2 301.7 79.6 301.3 78.9 301.1C78.3 300.9 77.5 300.9 76.9 301C76.2 301.2 75.6 301.5 75.1 302C74.6 302.5 75.6 298.8 74 303.7Z"/><path d="M76.2 306C77.6 311 82 325.6 84.6 333.9C87.2 342.3 90.4 352.1 91.9 356.1C93.4 360.2 92.8 357.7 93.5 358.2C94.1 358.8 95 359.2 95.9 359.3C96.7 359.4 97.7 359.3 98.5 359C99.3 358.7 100.1 358.2 100.6 357.5C101.1 356.8 101.5 355.9 101.7 355.1C101.8 354.3 103 356.4 101.4 352.5C99.8 348.5 95 339.5 92.1 331.4C89.2 323.3 85.4 308.6 83.8 303.7C82.2 298.8 83.2 302.5 82.7 302C82.2 301.5 81.6 301.2 80.9 301C80.3 300.9 79.5 300.9 78.9 301.1C78.2 301.3 77.6 301.7 77.1 302.2C76.7 302.6 76.3 303.3 76.2 304C76 304.6 74.8 301 76.2 306Z"/><path d="M75.5 318.9C75.5 325.1 75.6 348.2 75.8 354.5C75.9 360.7 76 356 76.4 356.6C76.8 357.2 77.4 357.7 78 358.1C78.7 358.4 79.5 358.6 80.2 358.5C80.9 358.5 81.7 358.3 82.3 357.9C82.9 357.5 83.4 356.9 83.8 356.3C84.1 355.7 84.6 360.4 84.2 354.1C83.9 347.9 82.2 324.8 81.8 318.6C81.3 312.5 81.5 317.5 81.3 317.1C81 316.7 80.5 316.2 80.1 316C79.6 315.8 79 315.6 78.5 315.6C78 315.7 77.4 315.8 77 316.1C76.5 316.4 76.1 316.8 75.9 317.3C75.6 317.8 75.5 312.7 75.5 318.9Z"/><path d="M93.5 51C93.7 53.9 94.4 64.7 94.7 67.7C94.9 70.6 94.8 68.4 95 68.7C95.2 68.9 95.5 69.2 95.8 69.3C96.1 69.5 96.5 69.6 96.8 69.5C97.2 69.5 97.5 69.4 97.8 69.2C98.1 69 98.4 68.7 98.5 68.4C98.6 68.1 98.9 70.3 98.7 67.3C98.4 64.4 97.3 53.6 97 50.7C96.7 47.8 96.9 50.1 96.7 49.9C96.5 49.6 96.3 49.4 96 49.3C95.8 49.2 95.4 49.1 95.1 49.1C94.8 49.1 94.5 49.3 94.3 49.4C94 49.6 93.8 49.9 93.7 50.1C93.6 50.4 93.4 48.1 93.5 51Z"/><path d="M103.8 52.3C103.9 62.2 104.2 91.6 104.6 110.6C105.1 129.6 106 138.4 106.6 166.1C107.1 193.9 107.7 245.7 108 277.2C108.3 308.6 108.1 341.7 108.3 354.9C108.4 368.2 108.5 356.2 108.8 356.8C109.1 357.3 109.6 357.8 110.2 358.1C110.7 358.4 111.4 358.6 112 358.5C112.6 358.5 113.3 358.3 113.8 358C114.4 357.7 114.9 357.2 115.2 356.6C115.5 356.1 116 368.1 115.6 354.8C115.3 341.5 113.8 308.5 113.1 277.1C112.5 245.6 112.3 193.8 111.7 166C111.2 138.3 110.3 129.5 109.8 110.5C109.3 91.5 109.2 62.1 109 52.2C108.8 42.3 108.8 51.3 108.6 50.9C108.4 50.6 108 50.2 107.6 50C107.3 49.8 106.8 49.7 106.3 49.7C105.9 49.7 105.4 49.8 105.1 50C104.7 50.3 104.3 50.6 104.1 51C103.9 51.4 103.7 42.3 103.8 52.3Z"/><path d="M118.2 55C118.2 61.2 118.2 84.9 118.2 91.1C118.3 97.3 118.3 91.8 118.5 92.1C118.7 92.4 119 92.7 119.3 92.9C119.5 93 119.9 93.1 120.3 93.1C120.6 93.1 121 93 121.3 92.9C121.6 92.7 121.8 92.4 122 92.1C122.2 91.8 122.2 97.3 122.3 91.1C122.3 84.9 122.3 61.2 122.3 55C122.2 48.8 122.2 54.3 122 54C121.8 53.7 121.6 53.4 121.3 53.3C121 53.1 120.6 53 120.3 53C119.9 53 119.5 53.1 119.3 53.3C119 53.4 118.7 53.7 118.5 54C118.3 54.3 118.3 48.8 118.2 55Z"/><path d="M119.4 95.3C119.2 111.9 118.6 177.2 118.5 193.8C118.4 210.5 118.6 194.7 118.9 195.1C119.1 195.5 119.4 195.8 119.8 196.1C120.2 196.3 120.7 196.4 121.1 196.4C121.5 196.4 122 196.3 122.4 196.1C122.7 195.9 123.1 195.5 123.3 195.1C123.5 194.8 123.6 210.5 123.7 193.9C123.8 177.2 124 111.9 124 95.3C123.9 78.7 123.8 94.5 123.7 94.1C123.5 93.8 123.1 93.5 122.8 93.3C122.5 93.1 122.1 93 121.7 93C121.3 93 120.8 93.1 120.5 93.3C120.2 93.5 119.9 93.8 119.7 94.1C119.5 94.5 119.5 78.7 119.4 95.3Z"/><path d="M135.7 50.6C135.3 56.2 133.6 77.1 133.2 82.6C132.9 88.1 133.3 83.4 133.5 83.8C133.6 84.1 133.9 84.5 134.2 84.7C134.5 84.9 135 85 135.3 85.1C135.7 85.1 136.2 85 136.5 84.9C136.9 84.7 137.2 84.4 137.4 84.1C137.6 83.8 137.2 88.5 137.8 83C138.4 77.5 140.4 56.6 140.9 51.1C141.3 45.5 140.8 50.2 140.6 49.8C140.5 49.4 140.1 49 139.8 48.7C139.4 48.5 139 48.3 138.5 48.3C138.1 48.3 137.6 48.3 137.2 48.5C136.8 48.7 136.4 49 136.2 49.4C136 49.7 136.2 45.1 135.7 50.6Z"/><path d="M148 52.6C147.1 62.5 144.9 91.5 143.5 110.4C142.2 129.2 141 147.4 139.9 165.9C138.8 184.4 137.9 202.9 137.1 221.5C136.3 240 135.4 263.1 135.2 277C134.9 290.9 135.5 299.8 135.7 304.9C135.9 310 136 306.8 136.5 307.6C136.9 308.3 137.6 309.1 138.4 309.5C139.2 310 140.2 310.2 141.1 310.2C142 310.2 143 310 143.8 309.5C144.5 309.1 145.3 308.3 145.7 307.6C146.2 306.8 146.2 309.9 146.4 304.9C146.7 299.8 146.8 291.1 147 277.2C147.2 263.4 147.7 240.2 147.8 221.7C148 203.2 147.5 184.7 147.8 166.2C148.1 147.7 148.8 129.6 149.8 110.7C150.7 91.9 153.1 62.9 153.7 53C154.3 43.1 153.6 52 153.4 51.6C153.2 51.1 152.8 50.7 152.4 50.4C152 50.2 151.5 50 151 50C150.5 49.9 150 50 149.6 50.2C149.1 50.4 148.7 50.8 148.4 51.2C148.2 51.6 148.8 42.7 148 52.6Z"/><path d="M136.7 303.8C135.2 308.8 130.8 323.5 128.9 331.8C126.9 340.1 125.5 349.6 124.9 353.7C124.4 357.7 125 355.5 125.3 356.3C125.6 357 126.2 357.8 126.9 358.3C127.6 358.9 128.5 359.2 129.3 359.3C130.2 359.4 131.2 359.3 131.9 359C132.7 358.7 133.5 358.1 134 357.4C134.5 356.7 134.6 358.9 135 354.9C135.5 351 135.1 341.6 136.6 333.5C138.2 325.3 143.1 310.9 144.4 306C145.6 301 144.5 304.5 144.4 303.9C144.2 303.3 143.8 302.6 143.4 302.1C142.9 301.6 142.2 301.2 141.6 301.1C141 300.9 140.2 300.9 139.5 301C138.9 301.2 138.2 301.6 137.8 302.1C137.3 302.5 138.2 298.9 136.7 303.8Z"/><path d="M138.6 305.8C139.8 310.8 144 325.3 145.5 333.5C147.1 341.7 147.2 351.1 147.7 355.1C148.3 359.1 148.3 356.8 148.8 357.5C149.3 358.1 150.1 358.7 150.9 359C151.7 359.3 152.7 359.4 153.5 359.3C154.4 359.2 155.3 358.8 155.9 358.3C156.6 357.7 157.2 356.9 157.5 356.1C157.8 355.4 158.5 357.6 157.8 353.5C157.1 349.5 155.2 340.1 153.3 331.8C151.4 323.6 147.7 308.9 146.3 303.9C145 299 145.8 302.6 145.3 302.1C144.9 301.7 144.2 301.3 143.6 301.1C142.9 300.9 142.2 300.9 141.5 301C140.9 301.2 140.2 301.6 139.7 302C139.2 302.5 138.8 303.2 138.7 303.8C138.5 304.4 137.5 300.9 138.6 305.8Z"/><path d="M166.8 50.9C166.8 58.7 166.8 88.9 166.8 96.7C166.9 104.5 166.9 97.4 167.1 97.7C167.3 98 167.5 98.3 167.8 98.4C168.1 98.6 168.5 98.7 168.9 98.7C169.2 98.7 169.6 98.6 169.9 98.4C170.2 98.3 170.4 98 170.6 97.7C170.8 97.4 170.8 104.5 170.9 96.7C170.9 88.9 170.9 58.7 170.9 50.9C170.8 43.1 170.8 50.1 170.6 49.8C170.4 49.6 170.2 49.3 169.9 49.1C169.6 48.9 169.2 48.8 168.9 48.8C168.5 48.8 168.1 48.9 167.8 49.1C167.5 49.3 167.3 49.6 167.1 49.8C166.9 50.1 166.9 43.1 166.8 50.9Z"/><path d="M187.7 54.9C187.1 64.4 185.8 91.8 184.6 110.4C183.4 128.9 181.1 147.5 180.7 166.1C180.3 184.6 182 203.3 182.4 221.8C182.8 240.4 182.8 258.8 182.9 277.3C183 295.8 183.2 321.3 182.9 332.8C182.7 344.4 181.6 343.4 181.5 346.5C181.5 349.6 182 349.9 182.8 351.3C183.6 352.7 184.9 354 186.3 354.8C187.7 355.6 189.5 356 191.1 356C192.6 356 194.4 355.6 195.8 354.8C197.2 354 198.5 352.7 199.3 351.3C200.1 349.9 200.6 349.7 200.6 346.5C200.6 343.4 199.9 344.1 199.2 332.5C198.5 320.9 197.2 295.5 196.4 277C195.6 258.4 195.2 239.9 194.2 221.4C193.2 202.9 190.7 184.5 190.3 166.1C189.9 147.6 191.3 129.2 192 110.7C192.7 92.3 194.1 64.7 194.5 55.2C194.8 45.7 194.4 54 194.1 53.5C193.8 53 193.4 52.5 192.9 52.2C192.4 51.9 191.8 51.6 191.2 51.6C190.7 51.6 190 51.7 189.5 52C189 52.3 188.5 52.7 188.2 53.2C187.9 53.7 188.3 45.3 187.7 54.9Z"/><path d="M184.9 345.1C183.4 346.2 179.4 349.4 178 350.7C176.6 352 176.7 352.1 176.4 352.9C176 353.7 175.9 354.8 176.1 355.7C176.2 356.5 176.6 357.5 177.2 358.2C177.7 358.9 178.6 359.5 179.4 359.8C180.2 360.2 181.3 360.3 182.1 360.1C183 360 183.1 360.1 184.7 359C186.3 357.9 190.2 354.8 191.6 353.5C193.1 352.2 192.9 352.1 193.3 351.3C193.6 350.4 193.7 349.4 193.6 348.5C193.4 347.6 193 346.7 192.5 346C191.9 345.3 191.1 344.6 190.2 344.3C189.4 344 188.4 343.9 187.5 344C186.6 344.1 186.5 344 184.9 345.1Z"/><path d="M190.5 353.5C191.9 354.8 195.9 357.9 197.4 359C199 360.1 199.1 360 200 360.1C200.9 360.3 201.9 360.2 202.7 359.8C203.6 359.5 204.4 358.9 205 358.2C205.5 357.5 205.9 356.5 206.1 355.7C206.2 354.8 206.1 353.7 205.8 352.9C205.4 352.1 205.6 352 204.1 350.7C202.7 349.4 198.8 346.2 197.2 345.1C195.6 344 195.5 344.1 194.6 344C193.8 343.9 192.7 344 191.9 344.3C191.1 344.6 190.2 345.3 189.7 346C189.1 346.7 188.7 347.6 188.5 348.5C188.4 349.4 188.5 350.4 188.9 351.3C189.2 352.1 189.1 352.2 190.5 353.5Z"/><path d="M209.6 45.3C209.5 56.4 209.7 92.7 209.6 110.5C209.5 128.4 209.1 145 209 152.2C209 159.4 209.2 153.2 209.4 153.6C209.6 154 210 154.4 210.5 154.7C210.9 154.9 211.4 155 211.9 155C212.4 155 212.9 154.9 213.3 154.7C213.7 154.4 214.1 154 214.4 153.6C214.6 153.2 214.8 159.4 214.7 152.2C214.7 145 214.3 128.4 214.2 110.5C214.1 92.7 214.2 56.4 214.2 45.3C214.1 34.2 214.1 44.5 213.9 44.2C213.7 43.8 213.4 43.5 213 43.3C212.7 43.1 212.3 43 211.9 43C211.5 43 211.1 43.1 210.7 43.3C210.4 43.5 210.1 43.8 209.9 44.2C209.7 44.5 209.6 34.2 209.6 45.3Z"/><path d="M217.4 45.3C217.3 65.7 217.4 127.4 217.4 166.1C217.4 204.7 217.5 245.2 217.4 277.1C217.2 309.1 216.6 343.9 216.5 357.6C216.5 371.4 216.7 358.9 217 359.5C217.3 360 217.8 360.5 218.4 360.8C218.9 361.1 219.6 361.3 220.2 361.3C220.8 361.3 221.5 361.1 222.1 360.8C222.6 360.5 223.1 360 223.4 359.5C223.7 358.9 224 371.4 223.9 357.6C223.8 343.9 223.2 309.1 223.1 277.1C222.9 245.2 223.1 204.7 223.1 166.1C223.1 127.4 223.1 65.7 223.1 45.3C223 24.9 222.9 44.3 222.7 43.9C222.4 43.5 222 43.1 221.6 42.8C221.2 42.6 220.7 42.5 220.2 42.5C219.7 42.5 219.2 42.6 218.8 42.8C218.4 43.1 218 43.5 217.7 43.9C217.5 44.3 217.4 24.9 217.4 45.3Z"/><path d="M252.4 51.8C251.3 57 248.5 74.7 246.6 82.1C244.7 89.5 242.2 82.4 241 96.4C239.7 110.4 240.1 140.5 239.3 166C238.5 191.5 237.1 217.8 236.2 249.3C235.4 280.8 234.3 336.9 234 354.8C233.7 372.7 234.2 356.3 234.6 356.9C234.9 357.5 235.5 358.1 236.1 358.5C236.7 358.9 237.5 359.1 238.2 359.1C238.9 359.1 239.7 358.9 240.3 358.6C240.9 358.2 241.5 357.6 241.9 357C242.3 356.4 242.3 372.8 242.5 354.9C242.7 337 242.5 280.9 243.1 249.4C243.6 218 245 191.6 245.6 166.2C246.2 140.7 245.6 110.7 246.7 96.9C247.7 83.1 250.3 90.8 252.1 83.5C253.9 76.1 256.6 58.1 257.4 52.7C258.3 47.4 257.5 51.8 257.3 51.4C257.2 51 256.9 50.6 256.6 50.3C256.3 50 255.8 49.8 255.4 49.7C255 49.6 254.4 49.7 254 49.8C253.6 50 253.2 50.3 252.9 50.6C252.7 50.9 253.4 46.5 252.4 51.8Z"/><path d="M299.3 72.1C298.8 78.7 297.5 94.7 296.8 110.4C296 126 295.4 147.4 294.8 165.9C294.2 184.5 293.4 205.3 293.1 221.5C292.9 237.7 293.1 256 293.1 263.2C293.2 270.4 293.3 264.4 293.6 264.9C293.9 265.4 294.3 265.9 294.8 266.2C295.3 266.5 295.9 266.6 296.5 266.7C297.1 266.7 297.7 266.5 298.2 266.2C298.7 265.9 299.2 265.5 299.5 265C299.8 264.5 299.7 270.5 300 263.3C300.2 256.1 300.6 237.9 301.1 221.7C301.5 205.5 302.1 184.7 302.7 166.2C303.3 147.7 304.1 126.3 304.7 110.7C305.2 95.1 305.9 79.1 306.1 72.4C306.2 65.7 306 71.2 305.7 70.7C305.4 70.2 305 69.7 304.5 69.4C304 69.1 303.4 68.9 302.8 68.8C302.3 68.8 301.6 68.9 301.1 69.2C300.6 69.5 300.1 69.9 299.8 70.4C299.5 70.9 299.8 65.4 299.3 72.1Z"/><path d="M357.3 52C356.5 62 353.4 86.8 352.8 110.5C352.3 134.1 353.3 166.1 353.9 193.9C354.6 221.7 356.4 250.4 356.4 277.2C356.5 304 354.5 341.4 354.2 354.8C354 368.1 354.4 356.5 354.8 357.2C355.2 357.9 355.9 358.6 356.6 359C357.2 359.4 358.1 359.6 358.9 359.7C359.7 359.7 360.6 359.4 361.3 359.1C362 358.7 362.7 358 363.1 357.3C363.5 356.6 363.6 368.3 363.8 354.9C364 341.6 364.8 304 364.4 277.1C364 250.2 362.1 221.5 361.3 193.7C360.5 166 359.3 134.2 359.7 110.6C360 87.1 362.9 62.4 363.5 52.5C364.1 42.5 363.5 51.3 363.2 50.9C363 50.4 362.6 49.9 362.2 49.7C361.7 49.4 361.2 49.2 360.6 49.1C360.1 49.1 359.5 49.2 359 49.4C358.6 49.7 358.1 50.1 357.8 50.5C357.5 50.9 358.1 42 357.3 52Z"/><path d="M352.8 282.6C352.3 294.8 350.5 342.5 350.1 354.8C349.7 367.1 350.2 356 350.5 356.5C350.8 357 351.2 357.5 351.7 357.8C352.2 358.1 352.8 358.3 353.4 358.3C354 358.3 354.6 358.1 355.1 357.8C355.6 357.6 356.1 357.1 356.4 356.6C356.7 356.1 356.8 367.2 356.9 354.9C357 342.6 356.9 294.9 356.9 282.7C356.8 270.5 356.8 282 356.6 281.7C356.5 281.4 356.2 281.1 355.9 280.9C355.6 280.8 355.2 280.7 354.9 280.7C354.6 280.6 354.2 280.7 353.9 280.9C353.6 281.1 353.3 281.3 353.1 281.6C353 281.9 353.3 270.4 352.8 282.6Z"/><path d="M370.6 53.6C370.6 63.3 370.7 90 370.6 110.5C370.5 131.1 370.1 165.8 370 177.2C370 188.5 370.2 178.2 370.4 178.6C370.7 179 371.1 179.4 371.5 179.7C371.9 179.9 372.4 180 372.9 180C373.4 180 373.9 179.9 374.3 179.7C374.7 179.4 375.1 179 375.4 178.6C375.6 178.2 375.8 188.5 375.8 177.2C375.7 165.8 375.3 131.1 375.2 110.5C375.1 90 375.3 63.3 375.2 53.6C375.2 44 375.1 52.8 374.9 52.5C374.7 52.2 374.4 51.8 374.1 51.6C373.7 51.5 373.3 51.3 372.9 51.3C372.5 51.3 372.1 51.5 371.8 51.6C371.4 51.8 371.1 52.2 370.9 52.5C370.7 52.8 370.7 44 370.6 53.6Z"/><path d="M385.4 193.3C383.9 200.4 378.4 227.7 377 234.9C375.7 242.1 377 235.9 377.1 236.4C377.3 236.8 377.6 237.3 378 237.6C378.3 237.9 378.8 238.2 379.3 238.3C379.8 238.4 380.3 238.3 380.8 238.2C381.2 238 381.7 237.7 382 237.4C382.3 237 381.1 243.2 382.6 236C384.1 228.9 389.6 201.6 391 194.4C392.3 187.2 391 193.4 390.9 192.9C390.7 192.5 390.4 192 390.1 191.7C389.7 191.4 389.2 191.1 388.7 191C388.3 190.9 387.7 191 387.3 191.1C386.8 191.3 386.3 191.6 386 192C385.7 192.3 386.9 186.1 385.4 193.3Z"/><path d="M387.3 345C386.3 346.8 383.3 352.4 382.4 354.4C381.5 356.3 381.9 356 382 356.8C382.1 357.6 382.5 358.5 382.9 359.1C383.4 359.8 384.2 360.3 384.9 360.7C385.6 361 386.6 361.1 387.4 361C388.1 360.9 389 360.6 389.7 360.1C390.3 359.6 390.4 360.1 391.2 358.1C392 356.1 394 350.1 394.6 348.1C395.2 346.1 395 346.7 394.9 346.1C394.8 345.4 394.5 344.7 394.1 344.2C393.7 343.6 393.1 343.1 392.5 342.9C391.9 342.6 391.1 342.5 390.5 342.6C389.8 342.7 389.1 343 388.6 343.4C388 343.8 388.3 343.1 387.3 345Z"/><path d="M271.6 290C276.4 290.2 289.1 289.4 298.6 290.8C308.1 292.1 323.3 296.9 328.7 298.1C334.1 299.4 330.3 298.3 331 298.2C331.8 298 332.5 297.5 333.1 297C333.6 296.5 334 295.7 334.2 295C334.4 294.2 334.4 293.4 334.2 292.6C334.1 291.9 333.6 291.1 333.1 290.6C332.6 290.1 336.6 291.2 331.1 289.4C325.6 287.7 310 281.6 300.1 280.2C290.2 278.7 276.7 280.7 271.6 280.9C266.4 281.2 270 281.2 269.3 281.5C268.7 281.9 268 282.5 267.7 283.2C267.3 283.8 267.1 284.7 267.1 285.5C267.1 286.2 267.3 287.1 267.7 287.7C268 288.4 268.7 289 269.3 289.4C270 289.7 266.7 289.7 271.6 290Z"/><path d="M263.4 291a4 4 0 1 0 7.9 0a4 4 0 1 0 -7.9 0Z"/><path d="M273.2 301.4C272.1 306.8 269.2 322.8 267.1 331.7C265.1 340.7 262.1 350.8 261.1 355.1C260.1 359.4 260.9 356.9 261.2 357.7C261.4 358.5 261.9 359.4 262.5 359.9C263.2 360.5 264 361 264.9 361.2C265.7 361.4 266.7 361.3 267.5 361.1C268.3 360.9 269.1 360.3 269.7 359.7C270.3 359.1 269.9 361.8 271 357.4C272 353 274.3 342.7 276 333.6C277.7 324.5 280.2 308.3 281 302.8C281.8 297.4 281.1 301.4 280.9 300.8C280.6 300.2 280.2 299.5 279.7 299.1C279.2 298.7 278.5 298.3 277.8 298.2C277.2 298.1 276.4 298.2 275.8 298.4C275.2 298.6 274.5 299 274.1 299.5C273.7 300 274.4 296 273.2 301.4Z"/><path d="M273.3 319.9C275.1 326.5 281.9 350.9 283.9 357.5C285.9 364.1 284.6 359 285.1 359.5C285.7 360 286.4 360.5 287.2 360.6C287.9 360.8 288.8 360.8 289.5 360.6C290.2 360.4 291 359.9 291.5 359.4C292 358.8 292.4 358 292.6 357.3C292.8 356.6 294.5 361.6 292.6 355C290.6 348.4 283 324.2 280.9 317.6C278.8 311.1 280.3 316.3 279.9 315.9C279.4 315.4 278.7 315.1 278 314.9C277.4 314.8 276.6 314.8 276 315C275.4 315.2 274.7 315.6 274.2 316C273.8 316.5 273.4 317.2 273.3 317.8C273.1 318.5 271.6 313.3 273.3 319.9Z"/><path d="M298.6 303.9C299.8 307.1 303.1 316.3 305.7 321.3C308.4 326.4 312 328.3 314.3 334.3C316.6 340.3 318.6 353.1 319.6 357.3C320.7 361.5 320.3 359 320.8 359.5C321.4 360.1 322.2 360.6 322.9 360.8C323.7 361.1 324.6 361.1 325.4 360.9C326.2 360.7 327 360.3 327.6 359.7C328.2 359.2 328.7 358.4 328.9 357.6C329.1 356.9 329.9 359.6 329 355.1C328 350.7 325.6 337.5 323.3 331C321 324.5 318.1 321.3 315.1 316.2C312.2 311.1 307.5 303.2 305.7 300.3C303.8 297.4 304.8 299.2 304.3 298.8C303.7 298.4 303 298.2 302.3 298.2C301.7 298.1 300.9 298.3 300.3 298.6C299.7 298.9 299.2 299.4 298.8 299.9C298.4 300.5 298.2 301.2 298.2 301.9C298.1 302.5 297.3 300.6 298.6 303.9Z"/><path d="M315.3 320.7C317.7 325.2 326.6 341.3 329.2 345.7C331.7 350.1 330 346.8 330.6 347.2C331.2 347.5 331.9 347.7 332.6 347.7C333.2 347.7 334 347.5 334.6 347.2C335.2 346.9 335.7 346.4 336 345.8C336.4 345.2 336.6 344.5 336.6 343.8C336.6 343.2 338.5 346.3 336.1 341.8C333.7 337.3 324.8 321.3 322.2 316.8C319.7 312.4 321.4 315.7 320.8 315.4C320.2 315 319.5 314.8 318.8 314.8C318.2 314.8 317.4 315 316.8 315.3C316.3 315.6 315.7 316.2 315.4 316.7C315 317.3 314.8 318 314.8 318.7C314.8 319.4 312.9 316.2 315.3 320.7Z"/><path d="M251.2 357.6a3.7 3.7 0 1 0 7.4 0a3.7 3.7 0 1 0 -7.4 0Z"/><path d="M334.5 354.9a3.7 3.7 0 1 0 7.4 0a3.7 3.7 0 1 0 -7.4 0Z"/><path d="M298.2 81.3C296.1 83.2 289.8 89.5 286.5 92.3C283.1 95 279.6 96.8 278 97.9C276.5 99 277.4 98.6 277.2 99C277 99.4 277 99.9 277 100.3C277.1 100.7 277.2 101.2 277.5 101.5C277.7 101.9 278.1 102.2 278.5 102.4C278.9 102.5 279.4 102.6 279.8 102.6C280.3 102.5 279.5 103.2 281.1 102.1C282.7 100.9 286 98.5 289.3 95.5C292.6 92.6 298.9 86.3 300.9 84.3C303 82.2 301.4 83.7 301.5 83.4C301.6 83 301.6 82.6 301.5 82.3C301.4 82 301.3 81.6 301 81.4C300.8 81.1 300.4 80.9 300.1 80.8C299.8 80.8 299.4 80.7 299.1 80.8C298.8 80.9 300.3 79.4 298.2 81.3Z"/><path d="M305.6 92C307.6 93.8 314.9 100.1 317 101.8C319.1 103.5 317.7 102.2 318.1 102.3C318.5 102.3 318.9 102.3 319.3 102.1C319.6 102 320 101.7 320.2 101.4C320.5 101.1 320.6 100.7 320.7 100.4C320.8 100 320.7 99.5 320.6 99.2C320.4 98.8 322 99.9 319.9 98.2C317.8 96.5 310.1 90.7 308 89.1C305.8 87.5 307.4 88.8 307.1 88.7C306.8 88.7 306.4 88.7 306.1 88.8C305.8 88.9 305.5 89.1 305.3 89.4C305.1 89.6 305 90 304.9 90.3C304.9 90.6 304.9 90.9 305 91.2C305.1 91.5 303.6 90.3 305.6 92Z"/><path d="M302.1 100.9C304.1 102.9 310.3 109.1 313.7 112.2C317.1 115.2 320.8 118 322.5 119.3C324.2 120.5 323.3 119.7 323.7 119.8C324.2 119.8 324.7 119.8 325.1 119.6C325.4 119.4 325.8 119.1 326.1 118.8C326.4 118.4 326.5 117.9 326.6 117.5C326.7 117.1 326.6 116.6 326.4 116.2C326.2 115.8 327.2 116.4 325.6 115.2C323.9 113.9 320 111.8 316.6 108.9C313.1 106.1 307 99.9 304.9 98C302.8 96.1 304.3 97.6 304 97.5C303.6 97.4 303.3 97.4 302.9 97.5C302.6 97.6 302.3 97.8 302 98.1C301.8 98.3 301.6 98.6 301.5 99C301.5 99.3 301.5 99.7 301.6 100C301.7 100.3 300.1 98.9 302.1 100.9Z"/><path d="M295.1 105.8C293 107.3 285.3 113.2 283.2 114.9C281.1 116.6 282.6 115.5 282.5 115.8C282.3 116.2 282.3 116.6 282.3 117C282.4 117.4 282.6 117.8 282.8 118.1C283.1 118.4 283.4 118.7 283.8 118.8C284.2 118.9 284.6 119 285 118.9C285.4 118.9 284 120.2 286.1 118.4C288.1 116.7 295.5 110.4 297.5 108.7C299.5 106.9 297.9 108.2 298 107.9C298.1 107.6 298.2 107.2 298.1 106.9C298.1 106.6 297.9 106.3 297.7 106C297.5 105.8 297.2 105.6 297 105.5C296.7 105.3 296.3 105.3 296 105.4C295.7 105.4 297.2 104.2 295.1 105.8Z"/><path d="M297.2 114.6C295.1 116.5 288.8 122.8 285.5 125.6C282.1 128.3 278.6 130.1 277 131.2C275.5 132.4 276.4 131.9 276.2 132.3C276 132.7 276 133.2 276 133.6C276.1 134 276.2 134.5 276.5 134.8C276.7 135.2 277.1 135.5 277.5 135.7C277.9 135.8 278.4 135.9 278.8 135.9C279.3 135.8 278.5 136.6 280.1 135.4C281.7 134.2 285 131.8 288.3 128.8C291.6 125.9 297.9 119.6 299.9 117.6C302 115.5 300.4 117 300.5 116.7C300.6 116.3 300.6 116 300.5 115.6C300.4 115.3 300.3 115 300 114.7C299.8 114.5 299.4 114.3 299.1 114.2C298.8 114.1 298.4 114.1 298.1 114.1C297.8 114.2 299.3 112.7 297.2 114.6Z"/><path d="M304.6 125.3C306.6 127.1 313.9 133.4 316 135.1C318.1 136.8 316.7 135.5 317.1 135.6C317.5 135.6 317.9 135.6 318.3 135.5C318.6 135.3 319 135.1 319.2 134.8C319.5 134.5 319.6 134.1 319.7 133.7C319.8 133.3 319.7 132.8 319.6 132.5C319.4 132.1 321 133.2 318.9 131.5C316.8 129.8 309.1 124 307 122.4C304.8 120.8 306.4 122.1 306.1 122C305.8 122 305.4 122 305.1 122.1C304.8 122.2 304.5 122.4 304.3 122.7C304.1 122.9 304 123.3 303.9 123.6C303.9 123.9 303.9 124.3 304 124.6C304.1 124.8 302.6 123.6 304.6 125.3Z"/><path d="M301.1 134.2C303.1 136.3 309.3 142.4 312.7 145.5C316.1 148.6 319.8 151.3 321.5 152.6C323.2 153.9 322.3 153 322.7 153.1C323.2 153.1 323.7 153.1 324.1 152.9C324.4 152.7 324.8 152.4 325.1 152.1C325.4 151.7 325.5 151.3 325.6 150.8C325.7 150.4 325.6 149.9 325.4 149.5C325.2 149.1 326.2 149.7 324.6 148.5C322.9 147.3 319 145.1 315.6 142.2C312.1 139.4 306 133.2 303.9 131.3C301.8 129.4 303.3 130.9 303 130.8C302.6 130.7 302.3 130.7 301.9 130.8C301.6 130.9 301.3 131.1 301 131.4C300.8 131.6 300.6 132 300.5 132.3C300.5 132.6 300.5 133 300.6 133.3C300.7 133.7 299.1 132.2 301.1 134.2Z"/><path d="M294.1 139.1C292 140.7 284.3 146.5 282.2 148.2C280.1 149.9 281.6 148.8 281.5 149.1C281.3 149.5 281.3 150 281.3 150.3C281.4 150.7 281.6 151.1 281.8 151.4C282.1 151.7 282.4 152 282.8 152.1C283.2 152.3 283.6 152.3 284 152.2C284.4 152.2 283 153.5 285.1 151.8C287.1 150.1 294.5 143.8 296.5 142C298.5 140.2 296.9 141.5 297 141.2C297.1 140.9 297.2 140.5 297.1 140.2C297.1 139.9 296.9 139.6 296.7 139.3C296.5 139.1 296.2 138.9 296 138.8C295.7 138.7 295.3 138.6 295 138.7C294.7 138.7 296.2 137.5 294.1 139.1Z"/><path d="M296.2 148C294.1 149.9 287.8 156.1 284.5 158.9C281.1 161.7 277.6 163.4 276 164.6C274.5 165.7 275.4 165.2 275.2 165.6C275 166 275 166.5 275 166.9C275.1 167.3 275.2 167.8 275.5 168.2C275.7 168.5 276.1 168.8 276.5 169C276.9 169.2 277.4 169.2 277.8 169.2C278.3 169.1 277.5 169.9 279.1 168.7C280.7 167.5 284 165.1 287.3 162.2C290.6 159.2 296.9 152.9 299 150.9C301 148.9 299.4 150.3 299.5 150C299.6 149.7 299.6 149.3 299.5 148.9C299.4 148.6 299.3 148.3 299 148C298.8 147.8 298.5 147.6 298.1 147.5C297.8 147.4 297.4 147.4 297.1 147.5C296.8 147.5 298.3 146 296.2 148Z"/><path d="M303.6 158.7C305.6 160.4 312.9 166.7 315 168.4C317.1 170.1 315.7 168.8 316.1 168.9C316.5 169 316.9 168.9 317.3 168.8C317.6 168.6 318 168.4 318.2 168.1C318.5 167.8 318.6 167.4 318.7 167C318.8 166.6 318.7 166.2 318.6 165.8C318.4 165.4 320 166.5 317.9 164.8C315.8 163.2 308.1 157.3 306 155.7C303.8 154.1 305.4 155.4 305.1 155.3C304.8 155.3 304.4 155.3 304.1 155.4C303.8 155.5 303.5 155.8 303.3 156C303.1 156.2 303 156.6 302.9 156.9C302.9 157.2 302.9 157.6 303 157.9C303.1 158.2 301.6 156.9 303.6 158.7Z"/><path d="M300.1 167.5C302.1 169.6 308.3 175.8 311.7 178.8C315.1 181.9 318.8 184.6 320.5 185.9C322.2 187.2 321.3 186.3 321.7 186.4C322.2 186.5 322.7 186.4 323.1 186.2C323.4 186 323.8 185.7 324.1 185.4C324.4 185 324.5 184.6 324.6 184.2C324.7 183.7 324.6 183.2 324.4 182.8C324.2 182.4 325.2 183 323.6 181.8C321.9 180.6 318 178.4 314.6 175.5C311.1 172.7 305 166.5 302.9 164.6C300.8 162.7 302.3 164.2 302 164.1C301.6 164 301.3 164 300.9 164.1C300.6 164.2 300.3 164.4 300 164.7C299.8 164.9 299.6 165.3 299.5 165.6C299.5 165.9 299.5 166.3 299.6 166.6C299.7 167 298.1 165.5 300.1 167.5Z"/><path d="M293.1 172.4C291 174 283.3 179.8 281.2 181.5C279.1 183.2 280.6 182.1 280.5 182.5C280.3 182.8 280.3 183.3 280.4 183.6C280.4 184 280.6 184.4 280.8 184.7C281.1 185 281.4 185.3 281.8 185.4C282.2 185.6 282.6 185.6 283 185.6C283.4 185.5 282 186.8 284.1 185.1C286.1 183.4 293.5 177.1 295.5 175.3C297.5 173.6 295.9 174.8 296 174.5C296.2 174.2 296.2 173.9 296.1 173.6C296.1 173.2 295.9 172.9 295.7 172.7C295.5 172.4 295.2 172.2 295 172.1C294.7 172 294.3 171.9 294 172C293.7 172 295.2 170.8 293.1 172.4Z"/><path d="M295.2 181.3C293.1 183.2 286.8 189.4 283.5 192.2C280.1 195 276.6 196.7 275 197.9C273.5 199 274.4 198.5 274.2 198.9C274 199.3 274 199.8 274 200.2C274.1 200.7 274.2 201.1 274.5 201.5C274.7 201.8 275.1 202.1 275.5 202.3C275.9 202.5 276.4 202.6 276.8 202.5C277.3 202.5 276.5 203.2 278.1 202C279.7 200.8 283 198.4 286.3 195.5C289.6 192.5 295.9 186.2 298 184.2C300 182.2 298.4 183.6 298.5 183.3C298.6 183 298.6 182.6 298.5 182.3C298.4 181.9 298.3 181.6 298 181.3C297.8 181.1 297.5 180.9 297.1 180.8C296.8 180.7 296.4 180.7 296.1 180.8C295.8 180.8 297.3 179.4 295.2 181.3Z"/><path d="M302.6 192C304.6 193.7 311.9 200 314 201.7C316.1 203.4 314.7 202.2 315.1 202.2C315.5 202.3 315.9 202.2 316.3 202.1C316.6 202 317 201.7 317.2 201.4C317.5 201.1 317.6 200.7 317.7 200.3C317.8 199.9 317.7 199.5 317.6 199.1C317.4 198.8 319 199.8 316.9 198.2C314.8 196.5 307.1 190.6 305 189C302.8 187.5 304.4 188.7 304.1 188.6C303.8 188.6 303.4 188.6 303.1 188.7C302.8 188.9 302.5 189.1 302.3 189.3C302.1 189.6 302 189.9 301.9 190.2C301.9 190.5 301.9 190.9 302 191.2C302.1 191.5 300.6 190.2 302.6 192Z"/><path d="M299.1 200.9C301.1 202.9 307.3 209.1 310.7 212.1C314.1 215.2 317.8 218 319.5 219.2C321.2 220.5 320.3 219.7 320.7 219.7C321.2 219.8 321.7 219.7 322.1 219.5C322.5 219.4 322.8 219 323.1 218.7C323.4 218.4 323.5 217.9 323.6 217.5C323.7 217 323.6 216.5 323.4 216.1C323.2 215.8 324.2 216.3 322.6 215.1C320.9 213.9 317 211.7 313.6 208.9C310.1 206 304 199.8 301.9 197.9C299.8 196 301.3 197.5 301 197.4C300.6 197.3 300.3 197.4 299.9 197.5C299.6 197.5 299.3 197.8 299 198C298.8 198.2 298.6 198.6 298.5 198.9C298.5 199.2 298.5 199.6 298.6 200C298.7 200.3 297.1 198.8 299.1 200.9Z"/><path d="M292.1 205.7C290 207.3 282.3 213.1 280.2 214.8C278.1 216.5 279.6 215.4 279.5 215.8C279.3 216.1 279.3 216.6 279.4 217C279.4 217.3 279.6 217.8 279.8 218C280.1 218.3 280.4 218.6 280.8 218.7C281.2 218.9 281.6 218.9 282 218.9C282.4 218.8 281 220.1 283.1 218.4C285.1 216.7 292.5 210.4 294.5 208.6C296.5 206.9 294.9 208.1 295 207.8C295.2 207.5 295.2 207.2 295.1 206.9C295.1 206.6 294.9 206.2 294.7 206C294.5 205.7 294.2 205.5 294 205.4C293.7 205.3 293.3 205.3 293 205.3C292.7 205.4 294.2 204.1 292.1 205.7Z"/><path d="M294.2 214.6C292.1 216.5 285.8 222.7 282.5 225.5C279.1 228.3 275.6 230.1 274 231.2C272.5 232.3 273.4 231.8 273.2 232.2C273 232.6 273 233.1 273 233.5C273.1 234 273.2 234.4 273.5 234.8C273.7 235.1 274.1 235.4 274.5 235.6C274.9 235.8 275.4 235.9 275.8 235.8C276.3 235.8 275.5 236.5 277.1 235.3C278.7 234.2 282 231.8 285.3 228.8C288.6 225.8 294.9 219.5 297 217.5C299 215.5 297.4 216.9 297.5 216.6C297.6 216.3 297.6 215.9 297.5 215.6C297.4 215.2 297.3 214.9 297 214.7C296.8 214.4 296.5 214.2 296.1 214.1C295.8 214 295.4 214 295.1 214.1C294.8 214.2 296.3 212.7 294.2 214.6Z"/><path d="M301.6 225.3C303.6 227 310.9 233.3 313 235C315.1 236.8 313.7 235.5 314.1 235.5C314.5 235.6 314.9 235.5 315.3 235.4C315.6 235.3 316 235 316.2 234.7C316.5 234.4 316.6 234 316.7 233.6C316.8 233.2 316.7 232.8 316.6 232.4C316.4 232.1 318 233.2 315.9 231.5C313.8 229.8 306.1 223.9 304 222.4C301.8 220.8 303.4 222 303.1 222C302.8 221.9 302.4 222 302.1 222.1C301.8 222.2 301.5 222.4 301.3 222.6C301.1 222.9 301 223.2 300.9 223.5C300.9 223.8 300.9 224.2 301 224.5C301.1 224.8 299.6 223.5 301.6 225.3Z"/><path d="M298.1 234.2C300.1 236.2 306.3 242.4 309.7 245.4C313.1 248.5 316.8 251.3 318.5 252.5C320.2 253.8 319.3 253 319.7 253C320.2 253.1 320.7 253 321.1 252.8C321.5 252.7 321.8 252.4 322.1 252C322.4 251.7 322.6 251.2 322.6 250.8C322.7 250.4 322.6 249.9 322.4 249.5C322.2 249.1 323.2 249.6 321.6 248.4C319.9 247.2 316 245 312.6 242.2C309.1 239.3 303 233.1 300.9 231.2C298.8 229.3 300.3 230.8 300 230.7C299.6 230.7 299.3 230.7 298.9 230.8C298.6 230.9 298.3 231.1 298 231.3C297.8 231.6 297.6 231.9 297.5 232.2C297.5 232.6 297.5 233 297.6 233.3C297.7 233.6 296.1 232.1 298.1 234.2Z"/><path d="M291.1 239C289 240.6 281.3 246.5 279.2 248.1C277.1 249.8 278.6 248.7 278.5 249.1C278.3 249.4 278.3 249.9 278.4 250.3C278.4 250.7 278.6 251.1 278.8 251.4C279.1 251.7 279.4 251.9 279.8 252.1C280.2 252.2 280.6 252.2 281 252.2C281.4 252.1 280 253.4 282.1 251.7C284.1 250 291.5 243.7 293.5 241.9C295.5 240.2 293.9 241.4 294 241.2C294.2 240.9 294.2 240.5 294.1 240.2C294.1 239.9 293.9 239.5 293.7 239.3C293.5 239 293.2 238.8 293 238.7C292.7 238.6 292.3 238.6 292 238.6C291.7 238.7 293.2 237.4 291.1 239Z"/><path d="M293.2 247.9C291.1 249.8 284.8 256.1 281.5 258.8C278.1 261.6 274.6 263.4 273 264.5C271.5 265.6 272.4 265.1 272.2 265.5C272 265.9 272 266.4 272 266.9C272.1 267.3 272.2 267.8 272.5 268.1C272.7 268.4 273.1 268.8 273.5 268.9C273.9 269.1 274.4 269.2 274.9 269.1C275.3 269.1 274.5 269.8 276.1 268.7C277.7 267.5 281 265.1 284.3 262.1C287.6 259.1 293.9 252.9 296 250.8C298 248.8 296.4 250.3 296.5 249.9C296.6 249.6 296.6 249.2 296.5 248.9C296.4 248.6 296.3 248.2 296 248C295.8 247.7 295.5 247.5 295.1 247.4C294.8 247.3 294.4 247.3 294.1 247.4C293.8 247.5 295.3 246 293.2 247.9Z"/><path d="M300.6 258.6C302.6 260.4 309.9 266.7 312 268.4C314.1 270.1 312.7 268.8 313.1 268.8C313.5 268.9 313.9 268.9 314.3 268.7C314.6 268.6 315 268.3 315.2 268C315.5 267.7 315.6 267.3 315.7 266.9C315.8 266.6 315.7 266.1 315.6 265.7C315.4 265.4 317 266.5 314.9 264.8C312.8 263.1 305.1 257.3 303 255.7C300.8 254.1 302.4 255.3 302.1 255.3C301.8 255.2 301.4 255.3 301.1 255.4C300.8 255.5 300.5 255.7 300.3 256C300.1 256.2 300 256.5 299.9 256.8C299.9 257.2 299.9 257.5 300 257.8C300.1 258.1 298.6 256.8 300.6 258.6Z"/><path d="M286.3 82.1C284.4 87.9 278.9 103.5 275.2 115.5C271.4 127.5 265.7 147.7 263.8 154.3C261.9 161 263.7 155.2 263.8 155.5C263.9 155.9 264.1 156.3 264.4 156.6C264.6 156.8 265 157.1 265.4 157.2C265.8 157.3 266.2 157.3 266.6 157.2C266.9 157.1 267.3 156.9 267.6 156.6C267.9 156.4 266.3 162.3 268.2 155.6C270.1 148.9 275.4 128.7 279.1 116.7C282.7 104.7 288.3 89.1 290.1 83.4C292 77.7 290.3 82.7 290.2 82.4C290.1 82.1 290 81.7 289.7 81.4C289.5 81.2 289.2 81 288.9 80.9C288.5 80.8 288.2 80.7 287.8 80.8C287.5 80.9 287.1 81.1 286.9 81.3C286.6 81.5 288.3 76.4 286.3 82.1Z"/><path d="M305.8 83.6C308.1 89.3 315.1 105.7 319.7 116.9C324.2 128 330.7 144.6 333 150.4C335.4 156.2 333.5 151.2 333.9 151.5C334.2 151.7 334.7 151.9 335.1 152C335.5 152 336 152 336.4 151.8C336.8 151.6 337.2 151.3 337.5 151C337.7 150.6 337.9 150.2 338 149.7C338 149.3 340.2 154.2 337.8 148.4C335.4 142.7 328.1 126.4 323.4 115.3C318.7 104.3 311.9 87.7 309.5 82C307.1 76.3 309.2 81.4 308.9 81.2C308.6 81 308.3 80.8 307.9 80.8C307.6 80.7 307.2 80.8 306.9 80.9C306.6 81.1 306.3 81.3 306.1 81.6C305.9 81.8 305.7 82.2 305.7 82.5C305.6 82.9 303.5 77.8 305.8 83.6Z"/><path d="M18.6 66.4C19.3 71.6 22 91.7 22.8 96.9C23.5 102.1 22.9 97.5 23.1 97.7C23.3 98 23.6 98.2 23.8 98.3C24.1 98.4 24.4 98.4 24.7 98.4C25 98.4 25.3 98.2 25.6 98C25.8 97.9 26 97.6 26.1 97.3C26.2 97.1 26.9 101.7 26.2 96.4C25.5 91.2 22.8 71.1 22 65.9C21.3 60.7 21.9 65.3 21.7 65.1C21.5 64.8 21.3 64.6 21 64.5C20.7 64.4 20.4 64.4 20.1 64.4C19.8 64.4 19.5 64.6 19.3 64.8C19 64.9 18.8 65.2 18.7 65.5C18.6 65.7 17.9 61.1 18.6 66.4Z"/><path d="M43.6 82.8C43.2 96.8 42.1 152 41.9 166C41.7 180.1 42 166.8 42.2 167.1C42.3 167.3 42.6 167.6 42.9 167.8C43.2 168 43.5 168.1 43.9 168.1C44.2 168.1 44.6 168 44.9 167.8C45.2 167.7 45.5 167.4 45.7 167.1C45.8 166.8 45.7 180.2 45.9 166.1C46.2 152.1 46.9 96.8 47.1 82.8C47.2 68.8 47 82.2 46.8 81.9C46.7 81.7 46.5 81.4 46.2 81.3C46 81.1 45.6 81 45.3 81C45 81 44.7 81.1 44.5 81.3C44.2 81.4 44 81.6 43.8 81.9C43.7 82.1 43.9 68.7 43.6 82.8Z"/><path d="M167.1 110.6C167.3 124.6 168 179.8 168.2 193.9C168.5 207.9 168.3 194.6 168.5 194.9C168.7 195.2 169 195.4 169.3 195.6C169.6 195.8 169.9 195.9 170.3 195.9C170.6 195.9 171 195.7 171.3 195.6C171.6 195.4 171.8 195.1 172 194.8C172.2 194.5 172.5 207.9 172.3 193.8C172 179.8 170.9 124.5 170.6 110.5C170.3 96.5 170.5 109.9 170.3 109.7C170.2 109.4 170 109.2 169.7 109C169.4 108.9 169.1 108.8 168.8 108.8C168.5 108.8 168.2 108.9 168 109.1C167.7 109.2 167.5 109.4 167.3 109.7C167.2 110 167 96.6 167.1 110.6Z"/><path d="M125.5 166.1C125.8 180.2 127.5 235.4 128 249.4C128.4 263.5 128.1 250.1 128.3 250.4C128.4 250.7 128.7 251 129 251.1C129.3 251.3 129.7 251.4 130.1 251.4C130.4 251.4 130.8 251.3 131.1 251.1C131.3 250.9 131.6 250.6 131.8 250.3C131.9 250 132.5 263.3 132 249.3C131.5 235.2 129.5 180 128.9 166C128.4 152 128.8 165.4 128.7 165.2C128.5 164.9 128.3 164.7 128 164.5C127.8 164.4 127.4 164.3 127.1 164.3C126.9 164.3 126.5 164.4 126.3 164.6C126 164.7 125.8 165 125.7 165.3C125.5 165.5 125.1 152.1 125.5 166.1Z"/><path d="M204.6 166.1C204.7 180.1 205.5 235.3 205.7 249.4C205.9 263.4 205.8 250.1 206 250.4C206.2 250.7 206.4 251 206.7 251.1C207 251.3 207.4 251.4 207.8 251.4C208.1 251.4 208.5 251.3 208.8 251.1C209 250.9 209.3 250.6 209.5 250.3C209.6 250 210 263.4 209.7 249.3C209.5 235.3 208.4 180.1 208.1 166C207.8 152 208 165.4 207.8 165.2C207.7 164.9 207.4 164.7 207.2 164.6C206.9 164.4 206.6 164.3 206.3 164.3C206 164.3 205.7 164.4 205.4 164.6C205.2 164.7 204.9 165 204.8 165.2C204.7 165.5 204.4 152.1 204.6 166.1Z"/><path d="M342 180C342.4 194 344 249.3 344.5 263.3C345 277.4 344.6 264 344.8 264.3C345 264.6 345.3 264.9 345.6 265C345.9 265.2 346.3 265.3 346.6 265.3C346.9 265.3 347.3 265.1 347.6 265C347.9 264.8 348.2 264.5 348.3 264.2C348.5 263.9 349 277.2 348.5 263.2C348.1 249.1 346 193.9 345.5 179.9C344.9 165.9 345.4 179.3 345.2 179C345.1 178.8 344.8 178.6 344.6 178.4C344.3 178.3 344 178.2 343.7 178.2C343.4 178.2 343.1 178.3 342.8 178.5C342.6 178.6 342.4 178.9 342.2 179.1C342.1 179.4 341.6 166 342 180Z"/><path d="M378.1 179.9C377.5 193.9 375.5 249.1 375 263.2C374.6 277.2 375.1 263.9 375.3 264.2C375.4 264.5 375.7 264.8 376 265C376.3 265.1 376.7 265.3 377 265.3C377.3 265.3 377.7 265.2 378 265C378.3 264.9 378.6 264.6 378.8 264.3C379 264 378.6 277.4 379.1 263.3C379.6 249.3 381.2 194 381.6 180C382 166 381.5 179.4 381.4 179.1C381.2 178.9 381 178.6 380.8 178.5C380.5 178.3 380.2 178.2 379.9 178.2C379.6 178.2 379.3 178.3 379 178.4C378.8 178.6 378.5 178.8 378.4 179C378.2 179.3 378.7 165.9 378.1 179.9Z"/><path d="M76.8 163.3C74.8 163.5 68.2 164.5 66.2 164.9C64.3 165.3 65.3 165.2 64.9 165.5C64.5 165.8 64.2 166.3 64 166.7C63.9 167.2 63.8 167.7 63.9 168.2C63.9 168.7 64.2 169.2 64.5 169.5C64.8 169.9 65.2 170.2 65.7 170.4C66.1 170.6 65.1 170.8 67.1 170.6C69.1 170.3 75.7 169.3 77.7 168.9C79.7 168.5 78.7 168.6 79 168.3C79.4 168 79.7 167.5 79.9 167.1C80.1 166.7 80.1 166.1 80.1 165.6C80 165.2 79.8 164.6 79.5 164.3C79.2 163.9 78.7 163.6 78.3 163.4C77.8 163.2 78.8 163 76.8 163.3Z"/><path d="M76.8 181.4C78.8 181.8 85.3 182.8 87.3 183.1C89.3 183.3 88.4 183.1 88.8 182.9C89.3 182.7 89.7 182.4 90 182C90.3 181.7 90.5 181.1 90.6 180.7C90.7 180.2 90.6 179.7 90.4 179.2C90.3 178.8 89.9 178.3 89.6 178C89.2 177.7 90.2 177.8 88.2 177.4C86.2 177 79.7 176 77.7 175.7C75.7 175.5 76.7 175.7 76.2 175.9C75.8 176.1 75.3 176.4 75 176.8C74.7 177.1 74.5 177.7 74.4 178.1C74.3 178.6 74.4 179.1 74.6 179.6C74.7 180 75.1 180.5 75.4 180.8C75.8 181.1 74.8 181 76.8 181.4Z"/><path d="M76.8 188.2C74.8 188.5 68.2 189.5 66.2 189.9C64.3 190.3 65.3 190.2 64.9 190.5C64.5 190.8 64.2 191.3 64 191.7C63.9 192.1 63.8 192.7 63.9 193.2C63.9 193.6 64.2 194.2 64.5 194.5C64.8 194.9 65.2 195.2 65.7 195.4C66.1 195.6 65.1 195.8 67.1 195.5C69.1 195.3 75.7 194.3 77.7 193.9C79.7 193.5 78.7 193.6 79 193.3C79.4 193 79.7 192.5 79.9 192.1C80.1 191.6 80.1 191.1 80.1 190.6C80 190.1 79.8 189.6 79.5 189.3C79.2 188.9 78.7 188.6 78.3 188.4C77.8 188.2 78.8 188 76.8 188.2Z"/><path d="M76.8 206.4C78.8 206.7 85.3 207.8 87.3 208C89.3 208.3 88.4 208.1 88.8 207.9C89.3 207.7 89.7 207.4 90 207C90.3 206.6 90.5 206.1 90.6 205.7C90.7 205.2 90.6 204.6 90.4 204.2C90.3 203.8 89.9 203.3 89.6 203C89.2 202.7 90.2 202.8 88.2 202.4C86.2 202 79.7 201 77.7 200.7C75.7 200.5 76.7 200.7 76.2 200.9C75.8 201.1 75.3 201.4 75 201.8C74.7 202.1 74.5 202.6 74.4 203.1C74.3 203.6 74.4 204.1 74.6 204.6C74.7 205 75.1 205.5 75.4 205.8C75.8 206.1 74.8 206 76.8 206.4Z"/><path d="M76.8 213.2C74.8 213.5 68.2 214.5 66.2 214.9C64.3 215.3 65.3 215.2 64.9 215.5C64.5 215.8 64.2 216.2 64 216.7C63.9 217.1 63.8 217.7 63.9 218.2C63.9 218.6 64.2 219.1 64.5 219.5C64.8 219.9 65.2 220.2 65.7 220.4C66.1 220.5 65.1 220.8 67.1 220.5C69.1 220.3 75.7 219.2 77.7 218.9C79.7 218.5 78.7 218.6 79 218.3C79.4 218 79.7 217.5 79.9 217.1C80.1 216.6 80.1 216.1 80.1 215.6C80 215.1 79.8 214.6 79.5 214.3C79.2 213.9 78.7 213.6 78.3 213.4C77.8 213.2 78.8 213 76.8 213.2Z"/><path d="M76.8 231.4C78.8 231.7 85.3 232.8 87.3 233C89.3 233.3 88.4 233 88.8 232.9C89.3 232.7 89.7 232.4 90 232C90.3 231.6 90.5 231.1 90.6 230.7C90.7 230.2 90.6 229.6 90.4 229.2C90.3 228.7 89.9 228.3 89.6 228C89.2 227.7 90.2 227.8 88.2 227.4C86.2 227 79.7 226 77.7 225.7C75.7 225.5 76.7 225.7 76.2 225.9C75.8 226 75.3 226.4 75 226.7C74.7 227.1 74.5 227.6 74.4 228.1C74.3 228.6 74.4 229.1 74.6 229.6C74.7 230 75.1 230.5 75.4 230.8C75.8 231.1 74.8 231 76.8 231.4Z"/><path d="M76.8 238.2C74.8 238.5 68.2 239.5 66.2 239.9C64.3 240.3 65.3 240.2 64.9 240.5C64.5 240.8 64.2 241.2 64 241.7C63.9 242.1 63.8 242.7 63.9 243.1C63.9 243.6 64.2 244.1 64.5 244.5C64.8 244.9 65.2 245.2 65.7 245.4C66.1 245.5 65.1 245.8 67.1 245.5C69.1 245.3 75.7 244.2 77.7 243.9C79.7 243.5 78.7 243.6 79 243.3C79.4 243 79.7 242.5 79.9 242.1C80.1 241.6 80.1 241.1 80.1 240.6C80 240.1 79.8 239.6 79.5 239.2C79.2 238.9 78.7 238.5 78.3 238.4C77.8 238.2 78.8 238 76.8 238.2Z"/><path d="M76.8 256.3C78.8 256.7 85.3 257.8 87.3 258C89.3 258.3 88.4 258 88.8 257.9C89.3 257.7 89.7 257.4 90 257C90.3 256.6 90.5 256.1 90.6 255.6C90.7 255.2 90.6 254.6 90.4 254.2C90.3 253.7 89.9 253.3 89.6 253C89.2 252.7 90.2 252.8 88.2 252.4C86.2 252 79.7 251 77.7 250.7C75.7 250.5 76.7 250.7 76.2 250.9C75.8 251 75.3 251.4 75 251.7C74.7 252.1 74.5 252.6 74.4 253.1C74.3 253.6 74.4 254.1 74.6 254.5C74.7 255 75.1 255.4 75.4 255.7C75.8 256 74.8 256 76.8 256.3Z"/><path d="M76.8 263.2C74.8 263.5 68.2 264.5 66.2 264.9C64.3 265.2 65.3 265.2 64.9 265.5C64.5 265.8 64.2 266.2 64 266.7C63.9 267.1 63.8 267.7 63.9 268.1C63.9 268.6 64.2 269.1 64.5 269.5C64.8 269.8 65.2 270.2 65.7 270.3C66.1 270.5 65.1 270.8 67.1 270.5C69.1 270.3 75.7 269.2 77.7 268.8C79.7 268.5 78.7 268.5 79 268.2C79.4 267.9 79.7 267.5 79.9 267C80.1 266.6 80.1 266 80.1 265.6C80 265.1 79.8 264.6 79.5 264.2C79.2 263.9 78.7 263.5 78.3 263.4C77.8 263.2 78.8 262.9 76.8 263.2Z"/><path d="M76.8 281.3C78.8 281.7 85.3 282.7 87.3 283C89.3 283.2 88.4 283 88.8 282.8C89.3 282.7 89.7 282.3 90 282C90.3 281.6 90.5 281.1 90.6 280.6C90.7 280.2 90.6 279.6 90.4 279.2C90.3 278.7 89.9 278.3 89.6 278C89.2 277.7 90.2 277.7 88.2 277.4C86.2 277 79.7 275.9 77.7 275.7C75.7 275.4 76.7 275.7 76.2 275.8C75.8 276 75.3 276.3 75 276.7C74.7 277.1 74.5 277.6 74.4 278.1C74.3 278.5 74.4 279.1 74.6 279.5C74.7 280 75.1 280.4 75.4 280.7C75.8 281 74.8 281 76.8 281.3Z"/><path d="M76.8 288.2C74.8 288.4 68.2 289.5 66.2 289.9C64.3 290.2 65.3 290.2 64.9 290.5C64.5 290.8 64.2 291.2 64 291.6C63.9 292.1 63.8 292.6 63.9 293.1C63.9 293.6 64.2 294.1 64.5 294.5C64.8 294.8 65.2 295.2 65.7 295.3C66.1 295.5 65.1 295.7 67.1 295.5C69.1 295.2 75.7 294.2 77.7 293.8C79.7 293.4 78.7 293.5 79 293.2C79.4 292.9 79.7 292.5 79.9 292C80.1 291.6 80.1 291 80.1 290.6C80 290.1 79.8 289.6 79.5 289.2C79.2 288.8 78.7 288.5 78.3 288.3C77.8 288.2 78.8 287.9 76.8 288.2Z"/><path d="M141.9 191C140.3 191.3 135.2 192.3 133.6 192.7C132 193.1 132.6 193 132.3 193.4C131.9 193.7 131.6 194.1 131.4 194.6C131.3 195 131.3 195.6 131.3 196.1C131.4 196.5 131.7 197 132 197.4C132.3 197.7 132.8 198.1 133.2 198.2C133.7 198.4 133.1 198.6 134.7 198.3C136.3 198 141.4 197 143 196.6C144.6 196.2 144 196.3 144.4 196C144.7 195.7 145 195.2 145.2 194.8C145.3 194.3 145.4 193.7 145.3 193.3C145.2 192.8 144.9 192.3 144.6 192C144.3 191.6 143.8 191.3 143.4 191.1C142.9 191 143.6 190.8 141.9 191Z"/><path d="M141.9 209.1C143.5 209.5 148.6 210.5 150.2 210.8C151.9 211.1 151.3 210.9 151.7 210.7C152.2 210.5 152.6 210.2 152.9 209.9C153.3 209.5 153.5 209 153.6 208.6C153.7 208.1 153.7 207.5 153.5 207.1C153.4 206.6 153 206.2 152.7 205.9C152.3 205.5 153 205.6 151.4 205.2C149.8 204.8 144.7 203.8 143 203.5C141.4 203.3 142 203.5 141.6 203.6C141.1 203.8 140.6 204.1 140.3 204.4C140 204.8 139.8 205.3 139.7 205.8C139.6 206.2 139.6 206.8 139.8 207.2C139.9 207.7 140.2 208.2 140.6 208.5C140.9 208.8 140.3 208.7 141.9 209.1Z"/><path d="M141.9 216C140.3 216.3 135.2 217.3 133.6 217.7C132 218.1 132.6 218 132.3 218.3C131.9 218.7 131.6 219.1 131.4 219.6C131.3 220 131.3 220.6 131.3 221C131.4 221.5 131.7 222 132 222.4C132.3 222.7 132.8 223 133.2 223.2C133.7 223.3 133.1 223.5 134.7 223.3C136.3 223 141.4 222 143 221.6C144.6 221.2 144 221.3 144.4 221C144.7 220.7 145 220.2 145.2 219.7C145.3 219.3 145.4 218.7 145.3 218.3C145.2 217.8 144.9 217.3 144.6 216.9C144.3 216.6 143.8 216.3 143.4 216.1C142.9 216 143.6 215.8 141.9 216Z"/><path d="M141.9 234.1C143.5 234.5 148.6 235.5 150.2 235.8C151.9 236 151.3 235.8 151.7 235.7C152.2 235.5 152.6 235.2 152.9 234.9C153.3 234.5 153.5 234 153.6 233.5C153.7 233.1 153.7 232.5 153.5 232.1C153.4 231.6 153 231.2 152.7 230.8C152.3 230.5 153 230.6 151.4 230.2C149.8 229.8 144.7 228.8 143 228.5C141.4 228.3 142 228.5 141.6 228.6C141.1 228.8 140.6 229.1 140.3 229.4C140 229.8 139.8 230.3 139.7 230.8C139.6 231.2 139.6 231.8 139.8 232.2C139.9 232.7 140.2 233.1 140.6 233.5C140.9 233.8 140.3 233.7 141.9 234.1Z"/><path d="M141.9 241C140.3 241.3 135.2 242.3 133.6 242.7C132 243.1 132.6 243 132.3 243.3C131.9 243.6 131.6 244.1 131.4 244.6C131.3 245 131.3 245.6 131.3 246C131.4 246.5 131.7 247 132 247.4C132.3 247.7 132.8 248 133.2 248.2C133.7 248.3 133.1 248.5 134.7 248.3C136.3 248 141.4 247 143 246.6C144.6 246.2 144 246.3 144.4 246C144.7 245.6 145 245.2 145.2 244.7C145.3 244.3 145.4 243.7 145.3 243.2C145.2 242.8 144.9 242.3 144.6 241.9C144.3 241.6 143.8 241.3 143.4 241.1C142.9 241 143.6 240.7 141.9 241Z"/><path d="M141.9 259.1C143.5 259.5 148.6 260.5 150.2 260.8C151.9 261 151.3 260.8 151.7 260.7C152.2 260.5 152.6 260.2 152.9 259.9C153.3 259.5 153.5 259 153.6 258.5C153.7 258.1 153.7 257.5 153.5 257.1C153.4 256.6 153 256.1 152.7 255.8C152.3 255.5 153 255.6 151.4 255.2C149.8 254.8 144.7 253.8 143 253.5C141.4 253.2 142 253.4 141.6 253.6C141.1 253.8 140.6 254.1 140.3 254.4C140 254.8 139.8 255.3 139.7 255.7C139.6 256.2 139.6 256.8 139.8 257.2C139.9 257.7 140.2 258.1 140.6 258.4C140.9 258.8 140.3 258.7 141.9 259.1Z"/><path d="M141.9 266C140.3 266.3 135.2 267.3 133.6 267.7C132 268 132.6 268 132.3 268.3C131.9 268.6 131.6 269.1 131.4 269.5C131.3 270 131.3 270.6 131.3 271C131.4 271.5 131.7 272 132 272.3C132.3 272.7 132.8 273 133.2 273.2C133.7 273.3 133.1 273.5 134.7 273.3C136.3 273 141.4 272 143 271.6C144.6 271.2 144 271.3 144.4 270.9C144.7 270.6 145 270.2 145.2 269.7C145.3 269.3 145.4 268.7 145.3 268.2C145.2 267.8 144.9 267.3 144.6 266.9C144.3 266.6 143.8 266.2 143.4 266.1C142.9 265.9 143.6 265.7 141.9 266Z"/><path d="M141.9 284.1C143.5 284.5 148.6 285.5 150.2 285.8C151.9 286 151.3 285.8 151.7 285.7C152.2 285.5 152.6 285.2 152.9 284.8C153.3 284.5 153.5 284 153.6 283.5C153.7 283 153.7 282.5 153.5 282C153.4 281.6 153 281.1 152.7 280.8C152.3 280.5 153 280.5 151.4 280.2C149.8 279.8 144.7 278.8 143 278.5C141.4 278.2 142 278.4 141.6 278.6C141.1 278.7 140.6 279 140.3 279.4C140 279.8 139.8 280.3 139.7 280.7C139.6 281.2 139.6 281.8 139.8 282.2C139.9 282.7 140.2 283.1 140.6 283.4C140.9 283.7 140.3 283.7 141.9 284.1Z"/><path d="M141.9 291C140.3 291.2 135.2 292.3 133.6 292.6C132 293 132.6 293 132.3 293.3C131.9 293.6 131.6 294.1 131.4 294.5C131.3 295 131.3 295.5 131.3 296C131.4 296.5 131.7 297 132 297.3C132.3 297.7 132.8 298 133.2 298.2C133.7 298.3 133.1 298.5 134.7 298.2C136.3 298 141.4 297 143 296.6C144.6 296.2 144 296.2 144.4 295.9C144.7 295.6 145 295.1 145.2 294.7C145.3 294.2 145.4 293.7 145.3 293.2C145.2 292.8 144.9 292.3 144.6 291.9C144.3 291.5 143.8 291.2 143.4 291.1C142.9 290.9 143.6 290.7 141.9 291Z"/><path d="M187.7 163.3C186.1 163.5 181.4 164.6 179.9 164.9C178.4 165.3 179 165.3 178.6 165.6C178.2 165.9 177.9 166.4 177.8 166.9C177.6 167.3 177.6 167.9 177.7 168.3C177.8 168.8 178.1 169.3 178.4 169.7C178.7 170 179.2 170.3 179.6 170.5C180.1 170.6 179.6 170.8 181.1 170.5C182.6 170.3 187.4 169.3 188.9 168.9C190.4 168.5 189.8 168.5 190.2 168.2C190.6 167.9 190.9 167.4 191 167C191.1 166.5 191.2 165.9 191.1 165.5C191 165 190.7 164.5 190.4 164.2C190.1 163.8 189.6 163.5 189.2 163.4C188.7 163.2 189.2 163 187.7 163.3Z"/><path d="M187.7 180C189.2 180.4 193.9 181.4 195.5 181.6C197 181.9 196.5 181.7 196.9 181.6C197.4 181.4 197.9 181.1 198.2 180.8C198.5 180.4 198.7 179.9 198.8 179.4C198.9 179 198.9 178.4 198.8 178C198.6 177.5 198.3 177 198 176.7C197.6 176.4 198.2 176.4 196.7 176.1C195.1 175.7 190.4 174.7 188.9 174.4C187.3 174.1 187.9 174.3 187.4 174.5C187 174.6 186.5 174.9 186.2 175.3C185.8 175.6 185.6 176.1 185.5 176.6C185.4 177 185.4 177.6 185.6 178.1C185.7 178.5 186 179 186.4 179.3C186.7 179.6 186.2 179.6 187.7 180Z"/><path d="M187.7 185.5C186.1 185.8 181.4 186.8 179.9 187.2C178.4 187.5 179 187.5 178.6 187.8C178.2 188.2 177.9 188.6 177.8 189.1C177.6 189.5 177.6 190.1 177.7 190.5C177.8 191 178.1 191.5 178.4 191.9C178.7 192.2 179.2 192.5 179.6 192.7C180.1 192.8 179.6 193 181.1 192.7C182.6 192.5 187.4 191.5 188.9 191.1C190.4 190.7 189.8 190.7 190.2 190.4C190.6 190.1 190.9 189.6 191 189.2C191.1 188.7 191.2 188.2 191.1 187.7C191 187.2 190.7 186.7 190.4 186.4C190.1 186 189.6 185.7 189.2 185.6C188.7 185.4 189.2 185.2 187.7 185.5Z"/><path d="M187.7 202.2C189.2 202.6 193.9 203.6 195.5 203.8C197 204.1 196.5 203.9 196.9 203.8C197.4 203.6 197.9 203.3 198.2 203C198.5 202.6 198.7 202.1 198.8 201.7C198.9 201.2 198.9 200.6 198.8 200.2C198.6 199.7 198.3 199.3 198 198.9C197.6 198.6 198.2 198.7 196.7 198.3C195.1 197.9 190.4 196.9 188.9 196.6C187.3 196.3 187.9 196.5 187.4 196.7C187 196.8 186.5 197.1 186.2 197.5C185.8 197.8 185.6 198.3 185.5 198.8C185.4 199.3 185.4 199.8 185.6 200.3C185.7 200.7 186 201.2 186.4 201.5C186.7 201.8 186.2 201.8 187.7 202.2Z"/><path d="M187.7 207.7C186.1 208 181.4 209 179.9 209.4C178.4 209.8 179 209.7 178.6 210C178.2 210.4 177.9 210.8 177.8 211.3C177.6 211.7 177.6 212.3 177.7 212.8C177.8 213.2 178.1 213.7 178.4 214.1C178.7 214.4 179.2 214.7 179.6 214.9C180.1 215 179.6 215.2 181.1 215C182.6 214.7 187.4 213.7 188.9 213.3C190.4 212.9 189.8 212.9 190.2 212.6C190.6 212.3 190.9 211.8 191 211.4C191.1 210.9 191.2 210.4 191.1 209.9C191 209.4 190.7 208.9 190.4 208.6C190.1 208.2 189.6 207.9 189.2 207.8C188.7 207.6 189.2 207.4 187.7 207.7Z"/><path d="M187.7 224.4C189.2 224.8 193.9 225.8 195.5 226.1C197 226.3 196.5 226.1 196.9 226C197.4 225.8 197.9 225.5 198.2 225.2C198.5 224.8 198.7 224.3 198.8 223.9C198.9 223.4 198.9 222.8 198.8 222.4C198.6 221.9 198.3 221.5 198 221.1C197.6 220.8 198.2 220.9 196.7 220.5C195.1 220.1 190.4 219.1 188.9 218.8C187.3 218.5 187.9 218.7 187.4 218.9C187 219 186.5 219.3 186.2 219.7C185.8 220 185.6 220.5 185.5 221C185.4 221.5 185.4 222 185.6 222.5C185.7 222.9 186 223.4 186.4 223.7C186.7 224 186.2 224 187.7 224.4Z"/><path d="M187.7 229.9C186.1 230.2 181.4 231.2 179.9 231.6C178.4 232 179 231.9 178.6 232.3C178.2 232.6 177.9 233 177.8 233.5C177.6 233.9 177.6 234.5 177.7 235C177.8 235.4 178.1 235.9 178.4 236.3C178.7 236.6 179.2 236.9 179.6 237.1C180.1 237.2 179.6 237.4 181.1 237.2C182.6 236.9 187.4 235.9 188.9 235.5C190.4 235.1 189.8 235.1 190.2 234.8C190.6 234.5 190.9 234 191 233.6C191.1 233.1 191.2 232.6 191.1 232.1C191 231.6 190.7 231.1 190.4 230.8C190.1 230.4 189.6 230.1 189.2 230C188.7 229.8 189.2 229.6 187.7 229.9Z"/><path d="M187.7 246.6C189.2 247 193.9 248 195.5 248.3C197 248.5 196.5 248.3 196.9 248.2C197.4 248 197.9 247.7 198.2 247.4C198.5 247 198.7 246.5 198.8 246.1C198.9 245.6 198.9 245 198.8 244.6C198.6 244.1 198.3 243.7 198 243.4C197.6 243 198.2 243.1 196.7 242.7C195.1 242.3 190.4 241.3 188.9 241C187.3 240.8 187.9 240.9 187.4 241.1C187 241.2 186.5 241.5 186.2 241.9C185.8 242.2 185.6 242.7 185.5 243.2C185.4 243.7 185.4 244.2 185.6 244.7C185.7 245.1 186 245.6 186.4 245.9C186.7 246.2 186.2 246.2 187.7 246.6Z"/><path d="M187.7 252.1C186.1 252.4 181.4 253.4 179.9 253.8C178.4 254.2 179 254.1 178.6 254.5C178.2 254.8 177.9 255.2 177.8 255.7C177.6 256.2 177.6 256.7 177.7 257.2C177.8 257.6 178.1 258.1 178.4 258.5C178.7 258.8 179.2 259.1 179.6 259.3C180.1 259.4 179.6 259.6 181.1 259.4C182.6 259.1 187.4 258.1 188.9 257.7C190.4 257.3 189.8 257.4 190.2 257C190.6 256.7 190.9 256.2 191 255.8C191.1 255.3 191.2 254.8 191.1 254.3C191 253.9 190.7 253.4 190.4 253C190.1 252.6 189.6 252.3 189.2 252.2C188.7 252.1 189.2 251.9 187.7 252.1Z"/><path d="M187.7 268.8C189.2 269.2 193.9 270.2 195.5 270.5C197 270.7 196.5 270.5 196.9 270.4C197.4 270.3 197.9 270 198.2 269.6C198.5 269.2 198.7 268.7 198.8 268.3C198.9 267.8 198.9 267.3 198.8 266.8C198.6 266.4 198.3 265.9 198 265.6C197.6 265.2 198.2 265.3 196.7 264.9C195.1 264.5 190.4 263.5 188.9 263.2C187.3 263 187.9 263.2 187.4 263.3C187 263.4 186.5 263.8 186.2 264.1C185.8 264.5 185.6 265 185.5 265.4C185.4 265.9 185.4 266.4 185.6 266.9C185.7 267.3 186 267.8 186.4 268.1C186.7 268.5 186.2 268.4 187.7 268.8Z"/><path d="M187.7 274.3C186.1 274.6 181.4 275.6 179.9 276C178.4 276.4 179 276.4 178.6 276.7C178.2 277 177.9 277.5 177.8 277.9C177.6 278.4 177.6 278.9 177.7 279.4C177.8 279.9 178.1 280.3 178.4 280.7C178.7 281.1 179.2 281.4 179.6 281.5C180.1 281.7 179.6 281.8 181.1 281.6C182.6 281.3 187.4 280.3 188.9 279.9C190.4 279.5 189.8 279.6 190.2 279.2C190.6 278.9 190.9 278.5 191 278C191.1 277.5 191.2 277 191.1 276.5C191 276.1 190.7 275.6 190.4 275.2C190.1 274.9 189.6 274.6 189.2 274.4C188.7 274.3 189.2 274.1 187.7 274.3Z"/><path d="M187.7 291C189.2 291.4 193.9 292.4 195.5 292.7C197 292.9 196.5 292.8 196.9 292.6C197.4 292.5 197.9 292.2 198.2 291.8C198.5 291.5 198.7 291 198.8 290.5C198.9 290 198.9 289.5 198.8 289C198.6 288.6 198.3 288.1 198 287.8C197.6 287.5 198.2 287.5 196.7 287.1C195.1 286.7 190.4 285.7 188.9 285.4C187.3 285.2 187.9 285.4 187.4 285.5C187 285.7 186.5 286 186.2 286.3C185.8 286.7 185.6 287.2 185.5 287.6C185.4 288.1 185.4 288.7 185.6 289.1C185.7 289.6 186 290 186.4 290.3C186.7 290.7 186.2 290.6 187.7 291Z"/><path d="M187.7 296.5C186.1 296.8 181.4 297.8 179.9 298.2C178.4 298.6 179 298.6 178.6 298.9C178.2 299.2 177.9 299.7 177.8 300.1C177.6 300.6 177.6 301.1 177.7 301.6C177.8 302.1 178.1 302.6 178.4 302.9C178.7 303.3 179.2 303.6 179.6 303.7C180.1 303.9 179.6 304.1 181.1 303.8C182.6 303.5 187.4 302.5 188.9 302.1C190.4 301.7 189.8 301.8 190.2 301.5C190.6 301.1 190.9 300.7 191 300.2C191.1 299.8 191.2 299.2 191.1 298.7C191 298.3 190.7 297.8 190.4 297.4C190.1 297.1 189.6 296.8 189.2 296.6C188.7 296.5 189.2 296.3 187.7 296.5Z"/><path d="M37.8 191.6C36.5 191.9 32.2 192.9 30.9 193.3C29.6 193.6 30.1 193.6 29.8 193.8C29.6 194.1 29.3 194.5 29.2 194.8C29.1 195.2 29.1 195.7 29.2 196C29.3 196.4 29.5 196.8 29.8 197.1C30 197.4 30.4 197.6 30.8 197.7C31.1 197.8 30.6 198 32 197.7C33.3 197.5 37.6 196.4 38.9 196.1C40.2 195.7 39.7 195.8 39.9 195.5C40.2 195.2 40.5 194.9 40.6 194.5C40.7 194.1 40.7 193.7 40.6 193.3C40.5 192.9 40.3 192.5 40 192.3C39.8 192 39.4 191.7 39 191.6C38.7 191.5 39.2 191.3 37.8 191.6Z"/><path d="M37.8 212.7C39.2 213.1 43.4 214.1 44.8 214.4C46.1 214.7 45.6 214.5 46 214.4C46.3 214.3 46.7 214 47 213.7C47.2 213.5 47.5 213.1 47.5 212.7C47.6 212.3 47.6 211.9 47.5 211.5C47.4 211.1 47.2 210.8 46.9 210.5C46.6 210.2 47.2 210.3 45.8 209.9C44.5 209.6 40.3 208.5 38.9 208.3C37.5 208 38.1 208.2 37.7 208.3C37.3 208.4 37 208.6 36.7 208.9C36.4 209.2 36.2 209.6 36.1 210C36 210.3 36.1 210.8 36.2 211.1C36.3 211.5 36.5 211.9 36.8 212.2C37.1 212.4 36.5 212.4 37.8 212.7Z"/><path d="M37.8 224.9C36.5 225.2 32.2 226.2 30.9 226.6C29.6 227 30.1 226.9 29.8 227.1C29.6 227.4 29.3 227.8 29.2 228.2C29.1 228.5 29.1 229 29.2 229.4C29.3 229.7 29.5 230.1 29.8 230.4C30 230.7 30.4 230.9 30.8 231C31.1 231.1 30.6 231.3 32 231.1C33.3 230.8 37.6 229.8 38.9 229.4C40.2 229 39.7 229.1 39.9 228.8C40.2 228.6 40.5 228.2 40.6 227.8C40.7 227.4 40.7 227 40.6 226.6C40.5 226.2 40.3 225.8 40 225.6C39.8 225.3 39.4 225.1 39 224.9C38.7 224.8 39.2 224.6 37.8 224.9Z"/><path d="M37.8 246C39.2 246.4 43.4 247.4 44.8 247.7C46.1 248 45.6 247.8 46 247.7C46.3 247.6 46.7 247.3 47 247.1C47.2 246.8 47.5 246.4 47.5 246C47.6 245.6 47.6 245.2 47.5 244.8C47.4 244.5 47.2 244.1 46.9 243.8C46.6 243.5 47.2 243.6 45.8 243.2C44.5 242.9 40.3 241.8 38.9 241.6C37.5 241.3 38.1 241.5 37.7 241.6C37.3 241.7 37 241.9 36.7 242.2C36.4 242.5 36.2 242.9 36.1 243.3C36 243.6 36.1 244.1 36.2 244.5C36.3 244.8 36.5 245.2 36.8 245.5C37.1 245.7 36.5 245.7 37.8 246Z"/><path d="M37.8 258.2C36.5 258.5 32.2 259.5 30.9 259.9C29.6 260.3 30.1 260.2 29.8 260.5C29.6 260.7 29.3 261.1 29.2 261.5C29.1 261.8 29.1 262.3 29.2 262.7C29.3 263 29.5 263.4 29.8 263.7C30 264 30.4 264.2 30.8 264.3C31.1 264.4 30.6 264.6 32 264.4C33.3 264.1 37.6 263.1 38.9 262.7C40.2 262.3 39.7 262.4 39.9 262.1C40.2 261.9 40.5 261.5 40.6 261.1C40.7 260.8 40.7 260.3 40.6 259.9C40.5 259.6 40.3 259.2 40 258.9C39.8 258.6 39.4 258.4 39 258.3C38.7 258.2 39.2 258 37.8 258.2Z"/></g><clipPath id="clf"><use href="#frf" transform="translate(0,-0.5)"/></clipPath><clipPath id="c0f"><use href="#frf"/></clipPath><linearGradient id="cg_f" gradientUnits="userSpaceOnUse" x1="0" y1="0" x2="0" y2="391"><stop offset="0.1279" stop-color="#6b6b6b"/><stop offset="0.3836" stop-color="#696969"/><stop offset="0.5882" stop-color="#616161"/><stop offset="0.6905" stop-color="#545454"/><stop offset="0.7673" stop-color="#404040"/><stop offset="0.8440" stop-color="#2e2e2e"/><stop offset="0.9207" stop-color="#262626"/><stop offset="1.0000" stop-color="#212121"/></linearGradient></defs><g filter="url(#cmap)"><rect x="-5" y="-5" width="401" height="401" fill="#808080"/><use href="#frf" fill="#999999" stroke="#999999" stroke-width="6" filter="url(#gb5)"/><use href="#frf" fill="#b8b8b8" stroke="#b8b8b8" stroke-width="2" filter="url(#gb25)"/><use href="#frf" fill="#ffffff" stroke="#ffffff" stroke-width="0.5" filter="url(#gb05)"/><path d="M-1.4 52.7L8.8 52.7L3.7 59.4ZM24.2 52.3L33.1 52.3L28.7 59.4ZM48.8 52.2L55.7 52.2L52.2 58.0ZM59.9 51.3L66.8 51.3L63.4 58.0ZM73.5 49.9L82.1 49.9L77.8 56.6ZM102.3 48.4L110.4 48.4L106.4 55.2ZM134.5 47.8L142.1 47.8L138.3 53.9ZM146.6 49.3L155.0 49.3L150.8 55.8ZM184.8 47.0L197.3 47.0L191.1 58.0ZM250.4 47.0L259.4 47.0L254.9 55.2ZM296.1 62.3L309.3 62.3L302.7 75.2Z" fill="#d9d9d9" filter="url(#gb25)"/><g filter="url(#gb07)"><use href="#frf" fill="url(#cg_f)"/><g fill="#383838" filter="url(#gb2)"><ellipse cx="10.6" cy="363.6" rx="7.0" ry="7.0"/><ellipse cx="38.4" cy="364.2" rx="7.6" ry="7.0"/><ellipse cx="66.1" cy="363.1" rx="6.5" ry="7.0"/><ellipse cx="96.7" cy="363.1" rx="6.5" ry="7.0"/><ellipse cx="80.0" cy="362.2" rx="5.6" ry="7.0"/><ellipse cx="111.9" cy="362.2" rx="5.1" ry="7.0"/><ellipse cx="130.0" cy="363.1" rx="6.5" ry="7.0"/><ellipse cx="152.7" cy="363.1" rx="6.5" ry="7.0"/><ellipse cx="191.1" cy="359.7" rx="10.9" ry="7.0"/><ellipse cx="181.3" cy="363.9" rx="6.8" ry="7.0"/><ellipse cx="200.8" cy="363.9" rx="6.8" ry="7.0"/><ellipse cx="220.2" cy="365.0" rx="5.1" ry="7.0"/><ellipse cx="238.3" cy="362.8" rx="5.6" ry="7.0"/><ellipse cx="359.0" cy="363.4" rx="6.2" ry="7.0"/><ellipse cx="353.5" cy="362.0" rx="4.8" ry="7.0"/><ellipse cx="386.8" cy="364.7" rx="6.2" ry="7.0"/><ellipse cx="266.0" cy="365.0" rx="6.5" ry="7.0"/><ellipse cx="288.2" cy="364.5" rx="5.9" ry="7.0"/><ellipse cx="324.3" cy="364.7" rx="6.2" ry="7.0"/><ellipse cx="332.6" cy="351.4" rx="5.4" ry="7.0"/><ellipse cx="254.9" cy="365.0" rx="5.1" ry="7.0"/><ellipse cx="338.2" cy="362.2" rx="5.1" ry="7.0"/></g><use href="#chf" fill="#2b2b2b" stroke="#2b2b2b" stroke-width="7" filter="url(#gb1)" clip-path="url(#c0f)"/><use href="#chf" fill="#4c4c4c" stroke="#4c4c4c" stroke-width="3.5" filter="url(#gb07)" clip-path="url(#c0f)"/><use href="#chf" fill="#fff" clip-path="url(#clf)"/><rect x="-5" y="375.5" width="401" height="2.0" fill="#383838" filter="url(#gb05)"/><g fill="#454545" filter="url(#gb07)"><circle cx="16.1" cy="192.0" r="2.8"/><circle cx="23.3" cy="170.8" r="2.8"/><circle cx="17.0" cy="198.2" r="2.8"/><circle cx="12.0" cy="181.2" r="2.8"/><circle cx="18.8" cy="244.5" r="2.8"/><circle cx="10.7" cy="134.4" r="2.8"/><circle cx="10.6" cy="248.2" r="2.8"/><circle cx="19.8" cy="75.5" r="2.8"/><circle cx="24.2" cy="283.1" r="2.8"/><circle cx="19.2" cy="204.6" r="2.8"/><circle cx="11.6" cy="69.5" r="2.8"/><circle cx="17.3" cy="79.5" r="2.8"/><circle cx="12.1" cy="120.5" r="2.8"/><circle cx="9.7" cy="170.5" r="2.8"/><circle cx="15.9" cy="255.6" r="2.8"/><circle cx="17.1" cy="210.1" r="2.8"/><circle cx="16.8" cy="215.1" r="2.8"/><circle cx="16.2" cy="128.7" r="2.8"/><circle cx="24.5" cy="290.0" r="2.8"/><circle cx="22.0" cy="225.3" r="2.8"/><circle cx="38.6" cy="117.8" r="2.8"/><circle cx="38.2" cy="81.9" r="2.8"/><circle cx="44.8" cy="156.2" r="2.8"/><circle cx="46.0" cy="153.0" r="2.8"/><circle cx="47.5" cy="256.7" r="2.8"/><circle cx="34.2" cy="113.3" r="2.8"/><circle cx="46.8" cy="171.8" r="2.8"/><circle cx="47.8" cy="155.5" r="2.8"/><circle cx="35.2" cy="207.7" r="2.8"/><circle cx="45.0" cy="126.8" r="2.8"/><circle cx="35.4" cy="140.9" r="2.8"/><circle cx="47.6" cy="236.6" r="2.8"/><circle cx="35.8" cy="121.5" r="2.8"/><circle cx="35.6" cy="79.6" r="2.8"/><circle cx="45.3" cy="106.1" r="2.8"/><circle cx="42.0" cy="166.7" r="2.8"/><circle cx="36.8" cy="230.7" r="2.8"/><circle cx="36.0" cy="210.9" r="2.8"/><circle cx="58.2" cy="160.7" r="2.8"/><circle cx="59.7" cy="126.8" r="2.8"/><circle cx="71.2" cy="246.8" r="2.8"/><circle cx="61.1" cy="265.1" r="2.8"/><circle cx="59.6" cy="154.8" r="2.8"/><circle cx="69.5" cy="210.5" r="2.8"/><circle cx="57.9" cy="288.6" r="2.8"/><circle cx="59.7" cy="124.2" r="2.8"/><circle cx="68.2" cy="140.1" r="2.8"/><circle cx="60.9" cy="82.6" r="2.8"/><circle cx="57.8" cy="197.2" r="2.8"/><circle cx="60.1" cy="201.3" r="2.8"/><circle cx="62.1" cy="168.0" r="2.8"/><circle cx="71.1" cy="174.9" r="2.8"/><circle cx="65.2" cy="261.0" r="2.8"/><circle cx="59.2" cy="100.8" r="2.8"/><circle cx="70.3" cy="250.0" r="2.8"/><circle cx="60.2" cy="108.8" r="2.8"/><circle cx="67.7" cy="277.6" r="2.8"/><circle cx="59.4" cy="279.8" r="2.8"/><circle cx="98.9" cy="201.8" r="2.8"/><circle cx="91.2" cy="89.5" r="2.8"/><circle cx="84.8" cy="282.6" r="2.8"/><circle cx="88.1" cy="224.6" r="2.8"/><circle cx="88.5" cy="251.4" r="2.8"/><circle cx="94.1" cy="132.1" r="2.8"/><circle cx="87.1" cy="228.1" r="2.8"/><circle cx="85.3" cy="117.5" r="2.8"/><circle cx="93.5" cy="257.8" r="2.8"/><circle cx="94.4" cy="129.1" r="2.8"/><circle cx="99.5" cy="112.0" r="2.8"/><circle cx="84.5" cy="126.7" r="2.8"/><circle cx="91.6" cy="79.7" r="2.8"/><circle cx="87.1" cy="149.1" r="2.8"/><circle cx="93.7" cy="95.7" r="2.8"/><circle cx="90.2" cy="266.5" r="2.8"/><circle cx="100.5" cy="213.9" r="2.8"/><circle cx="95.7" cy="197.6" r="2.8"/><circle cx="86.5" cy="74.0" r="2.8"/><circle cx="84.5" cy="270.8" r="2.8"/><circle cx="95.9" cy="282.6" r="2.8"/><circle cx="115.1" cy="209.2" r="2.8"/><circle cx="124.1" cy="230.4" r="2.8"/><circle cx="120.9" cy="290.9" r="2.8"/><circle cx="116.2" cy="188.9" r="2.8"/><circle cx="129.0" cy="268.6" r="2.8"/><circle cx="129.0" cy="224.4" r="2.8"/><circle cx="130.1" cy="271.9" r="2.8"/><circle cx="121.6" cy="220.2" r="2.8"/><circle cx="132.2" cy="262.0" r="2.8"/><circle cx="122.8" cy="243.9" r="2.8"/><circle cx="131.5" cy="194.9" r="2.8"/><circle cx="126.9" cy="152.1" r="2.8"/><circle cx="126.0" cy="203.0" r="2.8"/><circle cx="116.3" cy="209.9" r="2.8"/><circle cx="134.0" cy="264.0" r="2.8"/><circle cx="128.9" cy="153.5" r="2.8"/><circle cx="129.0" cy="196.8" r="2.8"/><circle cx="123.3" cy="254.7" r="2.8"/><circle cx="116.3" cy="234.8" r="2.8"/><circle cx="115.3" cy="201.3" r="2.8"/><circle cx="124.1" cy="117.9" r="2.8"/><circle cx="128.3" cy="177.9" r="2.8"/><circle cx="126.7" cy="273.1" r="2.8"/><circle cx="119.7" cy="68.7" r="2.8"/><circle cx="120.6" cy="218.6" r="2.8"/><circle cx="161.4" cy="104.3" r="2.8"/><circle cx="179.0" cy="214.5" r="2.8"/><circle cx="167.4" cy="266.7" r="2.8"/><circle cx="164.5" cy="215.9" r="2.8"/><circle cx="161.3" cy="163.0" r="2.8"/><circle cx="176.5" cy="271.7" r="2.8"/><circle cx="178.4" cy="152.6" r="2.8"/><circle cx="170.9" cy="137.3" r="2.8"/><circle cx="159.8" cy="177.8" r="2.8"/><circle cx="177.3" cy="257.0" r="2.8"/><circle cx="174.1" cy="279.8" r="2.8"/><circle cx="163.3" cy="104.2" r="2.8"/><circle cx="167.6" cy="128.0" r="2.8"/><circle cx="161.7" cy="159.2" r="2.8"/><circle cx="172.0" cy="177.2" r="2.8"/><circle cx="164.2" cy="254.8" r="2.8"/><circle cx="180.9" cy="167.9" r="2.8"/><circle cx="158.2" cy="73.2" r="2.8"/><circle cx="178.2" cy="75.5" r="2.8"/><circle cx="174.1" cy="194.4" r="2.8"/><circle cx="164.1" cy="244.1" r="2.8"/><circle cx="156.8" cy="96.7" r="2.8"/><circle cx="167.7" cy="71.7" r="2.8"/><circle cx="177.1" cy="119.5" r="2.8"/><circle cx="159.9" cy="76.7" r="2.8"/><circle cx="172.1" cy="166.5" r="2.8"/><circle cx="172.1" cy="213.4" r="2.8"/><circle cx="176.5" cy="281.7" r="2.8"/><circle cx="173.5" cy="111.0" r="2.8"/><circle cx="168.2" cy="106.3" r="2.8"/><circle cx="156.6" cy="172.3" r="2.8"/><circle cx="205.1" cy="106.4" r="2.8"/><circle cx="199.0" cy="143.9" r="2.8"/><circle cx="204.9" cy="183.2" r="2.8"/><circle cx="203.8" cy="236.2" r="2.8"/><circle cx="200.7" cy="244.2" r="2.8"/><circle cx="207.8" cy="85.7" r="2.8"/><circle cx="208.2" cy="228.6" r="2.8"/><circle cx="197.0" cy="168.1" r="2.8"/><circle cx="203.9" cy="270.8" r="2.8"/><circle cx="200.5" cy="194.0" r="2.8"/><circle cx="207.4" cy="245.3" r="2.8"/><circle cx="208.3" cy="170.4" r="2.8"/><circle cx="204.3" cy="112.2" r="2.8"/><circle cx="205.2" cy="250.2" r="2.8"/><circle cx="204.1" cy="227.5" r="2.8"/><circle cx="198.2" cy="268.5" r="2.8"/><circle cx="208.8" cy="285.9" r="2.8"/><circle cx="202.7" cy="244.0" r="2.8"/><circle cx="228.4" cy="270.8" r="2.8"/><circle cx="235.1" cy="144.5" r="2.8"/><circle cx="225.4" cy="165.3" r="2.8"/><circle cx="231.3" cy="238.9" r="2.8"/><circle cx="230.5" cy="72.5" r="2.8"/><circle cx="234.5" cy="80.5" r="2.8"/><circle cx="234.4" cy="105.0" r="2.8"/><circle cx="228.6" cy="243.3" r="2.8"/><circle cx="226.1" cy="99.6" r="2.8"/><circle cx="230.8" cy="228.8" r="2.8"/><circle cx="234.9" cy="221.2" r="2.8"/><circle cx="236.2" cy="176.9" r="2.8"/><circle cx="236.2" cy="85.5" r="2.8"/><circle cx="227.1" cy="184.6" r="2.8"/><circle cx="228.0" cy="230.0" r="2.8"/><circle cx="232.4" cy="183.7" r="2.8"/><circle cx="234.9" cy="192.1" r="2.8"/><circle cx="261.8" cy="151.9" r="2.8"/><circle cx="285.5" cy="268.6" r="2.8"/><circle cx="257.2" cy="257.4" r="2.8"/><circle cx="291.0" cy="184.0" r="2.8"/><circle cx="273.4" cy="111.3" r="2.8"/><circle cx="271.8" cy="179.3" r="2.8"/><circle cx="274.9" cy="72.4" r="2.8"/><circle cx="291.0" cy="182.2" r="2.8"/><circle cx="265.8" cy="246.3" r="2.8"/><circle cx="273.0" cy="176.6" r="2.8"/><circle cx="278.7" cy="80.9" r="2.8"/><circle cx="271.9" cy="159.2" r="2.8"/><circle cx="290.5" cy="273.8" r="2.8"/><circle cx="259.9" cy="172.5" r="2.8"/><circle cx="253.6" cy="163.7" r="2.8"/><circle cx="284.2" cy="268.6" r="2.8"/><circle cx="269.1" cy="137.5" r="2.8"/><circle cx="256.5" cy="205.1" r="2.8"/><circle cx="289.1" cy="95.2" r="2.8"/><circle cx="282.6" cy="71.3" r="2.8"/><circle cx="256.6" cy="117.2" r="2.8"/><circle cx="278.5" cy="138.6" r="2.8"/><circle cx="263.8" cy="205.5" r="2.8"/><circle cx="252.6" cy="230.5" r="2.8"/><circle cx="253.4" cy="180.9" r="2.8"/><circle cx="259.1" cy="110.6" r="2.8"/><circle cx="271.5" cy="164.3" r="2.8"/><circle cx="264.7" cy="159.1" r="2.8"/><circle cx="271.5" cy="102.0" r="2.8"/><circle cx="257.0" cy="208.1" r="2.8"/><circle cx="276.3" cy="185.2" r="2.8"/><circle cx="285.8" cy="203.7" r="2.8"/><circle cx="286.0" cy="118.4" r="2.8"/><circle cx="280.9" cy="248.4" r="2.8"/><circle cx="288.1" cy="137.2" r="2.8"/><circle cx="262.0" cy="273.6" r="2.8"/><circle cx="257.7" cy="290.6" r="2.8"/><circle cx="287.4" cy="96.2" r="2.8"/><circle cx="258.6" cy="229.5" r="2.8"/><circle cx="259.5" cy="87.9" r="2.8"/><circle cx="284.9" cy="160.9" r="2.8"/><circle cx="283.1" cy="94.5" r="2.8"/><circle cx="265.9" cy="220.2" r="2.8"/><circle cx="248.8" cy="111.3" r="2.8"/><circle cx="278.3" cy="271.1" r="2.8"/><circle cx="291.0" cy="92.1" r="2.8"/><circle cx="270.4" cy="236.6" r="2.8"/><circle cx="270.3" cy="220.3" r="2.8"/><circle cx="256.4" cy="82.0" r="2.8"/><circle cx="252.7" cy="74.5" r="2.8"/><circle cx="272.5" cy="181.9" r="2.8"/><circle cx="273.2" cy="99.1" r="2.8"/><circle cx="256.2" cy="112.0" r="2.8"/><circle cx="341.7" cy="288.8" r="2.8"/><circle cx="345.1" cy="87.5" r="2.8"/><circle cx="311.5" cy="280.1" r="2.8"/><circle cx="327.0" cy="238.1" r="2.8"/><circle cx="321.8" cy="171.1" r="2.8"/><circle cx="329.1" cy="162.8" r="2.8"/><circle cx="332.4" cy="69.1" r="2.8"/><circle cx="336.3" cy="256.0" r="2.8"/><circle cx="316.1" cy="168.2" r="2.8"/><circle cx="337.8" cy="157.3" r="2.8"/><circle cx="316.6" cy="103.3" r="2.8"/><circle cx="329.0" cy="69.6" r="2.8"/><circle cx="343.8" cy="246.4" r="2.8"/><circle cx="336.4" cy="259.7" r="2.8"/><circle cx="333.5" cy="157.1" r="2.8"/><circle cx="332.4" cy="179.5" r="2.8"/><circle cx="347.2" cy="247.1" r="2.8"/><circle cx="319.1" cy="271.1" r="2.8"/><circle cx="338.0" cy="241.1" r="2.8"/><circle cx="340.7" cy="157.3" r="2.8"/><circle cx="343.9" cy="264.0" r="2.8"/><circle cx="336.1" cy="238.7" r="2.8"/><circle cx="338.8" cy="157.4" r="2.8"/><circle cx="337.1" cy="82.0" r="2.8"/><circle cx="322.3" cy="171.6" r="2.8"/><circle cx="309.5" cy="146.1" r="2.8"/><circle cx="333.9" cy="206.5" r="2.8"/><circle cx="318.1" cy="278.6" r="2.8"/><circle cx="334.9" cy="142.1" r="2.8"/><circle cx="334.7" cy="194.2" r="2.8"/><circle cx="329.8" cy="153.7" r="2.8"/><circle cx="347.9" cy="210.6" r="2.8"/><circle cx="336.3" cy="237.4" r="2.8"/><circle cx="347.1" cy="71.3" r="2.8"/><circle cx="333.0" cy="232.3" r="2.8"/><circle cx="319.0" cy="156.4" r="2.8"/><circle cx="311.0" cy="110.1" r="2.8"/><circle cx="323.7" cy="88.3" r="2.8"/><circle cx="318.8" cy="269.8" r="2.8"/><circle cx="330.4" cy="180.3" r="2.8"/><circle cx="346.6" cy="193.9" r="2.8"/><circle cx="347.7" cy="209.6" r="2.8"/><circle cx="340.5" cy="83.3" r="2.8"/><circle cx="332.3" cy="236.9" r="2.8"/><circle cx="310.8" cy="275.3" r="2.8"/><circle cx="315.3" cy="172.2" r="2.8"/><circle cx="368.3" cy="177.6" r="2.8"/><circle cx="378.1" cy="79.3" r="2.8"/><circle cx="385.6" cy="160.7" r="2.8"/><circle cx="376.3" cy="200.6" r="2.8"/><circle cx="372.7" cy="130.4" r="2.8"/><circle cx="379.1" cy="192.2" r="2.8"/><circle cx="370.9" cy="227.3" r="2.8"/><circle cx="371.1" cy="69.3" r="2.8"/><circle cx="370.0" cy="75.7" r="2.8"/><circle cx="368.1" cy="235.8" r="2.8"/><circle cx="373.2" cy="268.0" r="2.8"/><circle cx="381.2" cy="77.4" r="2.8"/><circle cx="386.5" cy="278.5" r="2.8"/><circle cx="366.2" cy="269.8" r="2.8"/><circle cx="374.1" cy="173.5" r="2.8"/><circle cx="386.2" cy="120.9" r="2.8"/><circle cx="376.2" cy="276.9" r="2.8"/><circle cx="380.6" cy="171.4" r="2.8"/><circle cx="386.3" cy="249.8" r="2.8"/><circle cx="378.0" cy="92.0" r="2.8"/><circle cx="378.4" cy="168.6" r="2.8"/><circle cx="369.1" cy="77.8" r="2.8"/><circle cx="376.3" cy="94.1" r="2.8"/><circle cx="374.4" cy="216.3" r="2.8"/><circle cx="374.7" cy="125.1" r="2.8"/><circle cx="377.5" cy="160.5" r="2.8"/><circle cx="381.9" cy="185.5" r="2.8"/><circle cx="386.7" cy="280.4" r="2.8"/></g><g fill="#fff"><circle cx="16.1" cy="192.0" r="1.6"/><circle cx="23.3" cy="170.8" r="1.6"/><circle cx="17.0" cy="198.2" r="1.6"/><circle cx="12.0" cy="181.2" r="1.6"/><circle cx="18.8" cy="244.5" r="1.6"/><circle cx="10.7" cy="134.4" r="1.6"/><circle cx="10.6" cy="248.2" r="1.6"/><circle cx="19.8" cy="75.5" r="1.6"/><circle cx="24.2" cy="283.1" r="1.6"/><circle cx="19.2" cy="204.6" r="1.6"/><circle cx="11.6" cy="69.5" r="1.6"/><circle cx="17.3" cy="79.5" r="1.6"/><circle cx="12.1" cy="120.5" r="1.6"/><circle cx="9.7" cy="170.5" r="1.6"/><circle cx="15.9" cy="255.6" r="1.6"/><circle cx="17.1" cy="210.1" r="1.6"/><circle cx="16.8" cy="215.1" r="1.6"/><circle cx="16.2" cy="128.7" r="1.6"/><circle cx="24.5" cy="290.0" r="1.6"/><circle cx="22.0" cy="225.3" r="1.6"/><circle cx="38.6" cy="117.8" r="1.6"/><circle cx="38.2" cy="81.9" r="1.6"/><circle cx="44.8" cy="156.2" r="1.6"/><circle cx="46.0" cy="153.0" r="1.6"/><circle cx="47.5" cy="256.7" r="1.6"/><circle cx="34.2" cy="113.3" r="1.6"/><circle cx="46.8" cy="171.8" r="1.6"/><circle cx="47.8" cy="155.5" r="1.6"/><circle cx="35.2" cy="207.7" r="1.6"/><circle cx="45.0" cy="126.8" r="1.6"/><circle cx="35.4" cy="140.9" r="1.6"/><circle cx="47.6" cy="236.6" r="1.6"/><circle cx="35.8" cy="121.5" r="1.6"/><circle cx="35.6" cy="79.6" r="1.6"/><circle cx="45.3" cy="106.1" r="1.6"/><circle cx="42.0" cy="166.7" r="1.6"/><circle cx="36.8" cy="230.7" r="1.6"/><circle cx="36.0" cy="210.9" r="1.6"/><circle cx="58.2" cy="160.7" r="1.6"/><circle cx="59.7" cy="126.8" r="1.6"/><circle cx="71.2" cy="246.8" r="1.6"/><circle cx="61.1" cy="265.1" r="1.6"/><circle cx="59.6" cy="154.8" r="1.6"/><circle cx="69.5" cy="210.5" r="1.6"/><circle cx="57.9" cy="288.6" r="1.6"/><circle cx="59.7" cy="124.2" r="1.6"/><circle cx="68.2" cy="140.1" r="1.6"/><circle cx="60.9" cy="82.6" r="1.6"/><circle cx="57.8" cy="197.2" r="1.6"/><circle cx="60.1" cy="201.3" r="1.6"/><circle cx="62.1" cy="168.0" r="1.6"/><circle cx="71.1" cy="174.9" r="1.6"/><circle cx="65.2" cy="261.0" r="1.6"/><circle cx="59.2" cy="100.8" r="1.6"/><circle cx="70.3" cy="250.0" r="1.6"/><circle cx="60.2" cy="108.8" r="1.6"/><circle cx="67.7" cy="277.6" r="1.6"/><circle cx="59.4" cy="279.8" r="1.6"/><circle cx="98.9" cy="201.8" r="1.6"/><circle cx="91.2" cy="89.5" r="1.6"/><circle cx="84.8" cy="282.6" r="1.6"/><circle cx="88.1" cy="224.6" r="1.6"/><circle cx="88.5" cy="251.4" r="1.6"/><circle cx="94.1" cy="132.1" r="1.6"/><circle cx="87.1" cy="228.1" r="1.6"/><circle cx="85.3" cy="117.5" r="1.6"/><circle cx="93.5" cy="257.8" r="1.6"/><circle cx="94.4" cy="129.1" r="1.6"/><circle cx="99.5" cy="112.0" r="1.6"/><circle cx="84.5" cy="126.7" r="1.6"/><circle cx="91.6" cy="79.7" r="1.6"/><circle cx="87.1" cy="149.1" r="1.6"/><circle cx="93.7" cy="95.7" r="1.6"/><circle cx="90.2" cy="266.5" r="1.6"/><circle cx="100.5" cy="213.9" r="1.6"/><circle cx="95.7" cy="197.6" r="1.6"/><circle cx="86.5" cy="74.0" r="1.6"/><circle cx="84.5" cy="270.8" r="1.6"/><circle cx="95.9" cy="282.6" r="1.6"/><circle cx="115.1" cy="209.2" r="1.6"/><circle cx="124.1" cy="230.4" r="1.6"/><circle cx="120.9" cy="290.9" r="1.6"/><circle cx="116.2" cy="188.9" r="1.6"/><circle cx="129.0" cy="268.6" r="1.6"/><circle cx="129.0" cy="224.4" r="1.6"/><circle cx="130.1" cy="271.9" r="1.6"/><circle cx="121.6" cy="220.2" r="1.6"/><circle cx="132.2" cy="262.0" r="1.6"/><circle cx="122.8" cy="243.9" r="1.6"/><circle cx="131.5" cy="194.9" r="1.6"/><circle cx="126.9" cy="152.1" r="1.6"/><circle cx="126.0" cy="203.0" r="1.6"/><circle cx="116.3" cy="209.9" r="1.6"/><circle cx="134.0" cy="264.0" r="1.6"/><circle cx="128.9" cy="153.5" r="1.6"/><circle cx="129.0" cy="196.8" r="1.6"/><circle cx="123.3" cy="254.7" r="1.6"/><circle cx="116.3" cy="234.8" r="1.6"/><circle cx="115.3" cy="201.3" r="1.6"/><circle cx="124.1" cy="117.9" r="1.6"/><circle cx="128.3" cy="177.9" r="1.6"/><circle cx="126.7" cy="273.1" r="1.6"/><circle cx="119.7" cy="68.7" r="1.6"/><circle cx="120.6" cy="218.6" r="1.6"/><circle cx="161.4" cy="104.3" r="1.6"/><circle cx="179.0" cy="214.5" r="1.6"/><circle cx="167.4" cy="266.7" r="1.6"/><circle cx="164.5" cy="215.9" r="1.6"/><circle cx="161.3" cy="163.0" r="1.6"/><circle cx="176.5" cy="271.7" r="1.6"/><circle cx="178.4" cy="152.6" r="1.6"/><circle cx="170.9" cy="137.3" r="1.6"/><circle cx="159.8" cy="177.8" r="1.6"/><circle cx="177.3" cy="257.0" r="1.6"/><circle cx="174.1" cy="279.8" r="1.6"/><circle cx="163.3" cy="104.2" r="1.6"/><circle cx="167.6" cy="128.0" r="1.6"/><circle cx="161.7" cy="159.2" r="1.6"/><circle cx="172.0" cy="177.2" r="1.6"/><circle cx="164.2" cy="254.8" r="1.6"/><circle cx="180.9" cy="167.9" r="1.6"/><circle cx="158.2" cy="73.2" r="1.6"/><circle cx="178.2" cy="75.5" r="1.6"/><circle cx="174.1" cy="194.4" r="1.6"/><circle cx="164.1" cy="244.1" r="1.6"/><circle cx="156.8" cy="96.7" r="1.6"/><circle cx="167.7" cy="71.7" r="1.6"/><circle cx="177.1" cy="119.5" r="1.6"/><circle cx="159.9" cy="76.7" r="1.6"/><circle cx="172.1" cy="166.5" r="1.6"/><circle cx="172.1" cy="213.4" r="1.6"/><circle cx="176.5" cy="281.7" r="1.6"/><circle cx="173.5" cy="111.0" r="1.6"/><circle cx="168.2" cy="106.3" r="1.6"/><circle cx="156.6" cy="172.3" r="1.6"/><circle cx="205.1" cy="106.4" r="1.6"/><circle cx="199.0" cy="143.9" r="1.6"/><circle cx="204.9" cy="183.2" r="1.6"/><circle cx="203.8" cy="236.2" r="1.6"/><circle cx="200.7" cy="244.2" r="1.6"/><circle cx="207.8" cy="85.7" r="1.6"/><circle cx="208.2" cy="228.6" r="1.6"/><circle cx="197.0" cy="168.1" r="1.6"/><circle cx="203.9" cy="270.8" r="1.6"/><circle cx="200.5" cy="194.0" r="1.6"/><circle cx="207.4" cy="245.3" r="1.6"/><circle cx="208.3" cy="170.4" r="1.6"/><circle cx="204.3" cy="112.2" r="1.6"/><circle cx="205.2" cy="250.2" r="1.6"/><circle cx="204.1" cy="227.5" r="1.6"/><circle cx="198.2" cy="268.5" r="1.6"/><circle cx="208.8" cy="285.9" r="1.6"/><circle cx="202.7" cy="244.0" r="1.6"/><circle cx="228.4" cy="270.8" r="1.6"/><circle cx="235.1" cy="144.5" r="1.6"/><circle cx="225.4" cy="165.3" r="1.6"/><circle cx="231.3" cy="238.9" r="1.6"/><circle cx="230.5" cy="72.5" r="1.6"/><circle cx="234.5" cy="80.5" r="1.6"/><circle cx="234.4" cy="105.0" r="1.6"/><circle cx="228.6" cy="243.3" r="1.6"/><circle cx="226.1" cy="99.6" r="1.6"/><circle cx="230.8" cy="228.8" r="1.6"/><circle cx="234.9" cy="221.2" r="1.6"/><circle cx="236.2" cy="176.9" r="1.6"/><circle cx="236.2" cy="85.5" r="1.6"/><circle cx="227.1" cy="184.6" r="1.6"/><circle cx="228.0" cy="230.0" r="1.6"/><circle cx="232.4" cy="183.7" r="1.6"/><circle cx="234.9" cy="192.1" r="1.6"/><circle cx="261.8" cy="151.9" r="1.6"/><circle cx="285.5" cy="268.6" r="1.6"/><circle cx="257.2" cy="257.4" r="1.6"/><circle cx="291.0" cy="184.0" r="1.6"/><circle cx="273.4" cy="111.3" r="1.6"/><circle cx="271.8" cy="179.3" r="1.6"/><circle cx="274.9" cy="72.4" r="1.6"/><circle cx="291.0" cy="182.2" r="1.6"/><circle cx="265.8" cy="246.3" r="1.6"/><circle cx="273.0" cy="176.6" r="1.6"/><circle cx="278.7" cy="80.9" r="1.6"/><circle cx="271.9" cy="159.2" r="1.6"/><circle cx="290.5" cy="273.8" r="1.6"/><circle cx="259.9" cy="172.5" r="1.6"/><circle cx="253.6" cy="163.7" r="1.6"/><circle cx="284.2" cy="268.6" r="1.6"/><circle cx="269.1" cy="137.5" r="1.6"/><circle cx="256.5" cy="205.1" r="1.6"/><circle cx="289.1" cy="95.2" r="1.6"/><circle cx="282.6" cy="71.3" r="1.6"/><circle cx="256.6" cy="117.2" r="1.6"/><circle cx="278.5" cy="138.6" r="1.6"/><circle cx="263.8" cy="205.5" r="1.6"/><circle cx="252.6" cy="230.5" r="1.6"/><circle cx="253.4" cy="180.9" r="1.6"/><circle cx="259.1" cy="110.6" r="1.6"/><circle cx="271.5" cy="164.3" r="1.6"/><circle cx="264.7" cy="159.1" r="1.6"/><circle cx="271.5" cy="102.0" r="1.6"/><circle cx="257.0" cy="208.1" r="1.6"/><circle cx="276.3" cy="185.2" r="1.6"/><circle cx="285.8" cy="203.7" r="1.6"/><circle cx="286.0" cy="118.4" r="1.6"/><circle cx="280.9" cy="248.4" r="1.6"/><circle cx="288.1" cy="137.2" r="1.6"/><circle cx="262.0" cy="273.6" r="1.6"/><circle cx="257.7" cy="290.6" r="1.6"/><circle cx="287.4" cy="96.2" r="1.6"/><circle cx="258.6" cy="229.5" r="1.6"/><circle cx="259.5" cy="87.9" r="1.6"/><circle cx="284.9" cy="160.9" r="1.6"/><circle cx="283.1" cy="94.5" r="1.6"/><circle cx="265.9" cy="220.2" r="1.6"/><circle cx="248.8" cy="111.3" r="1.6"/><circle cx="278.3" cy="271.1" r="1.6"/><circle cx="291.0" cy="92.1" r="1.6"/><circle cx="270.4" cy="236.6" r="1.6"/><circle cx="270.3" cy="220.3" r="1.6"/><circle cx="256.4" cy="82.0" r="1.6"/><circle cx="252.7" cy="74.5" r="1.6"/><circle cx="272.5" cy="181.9" r="1.6"/><circle cx="273.2" cy="99.1" r="1.6"/><circle cx="256.2" cy="112.0" r="1.6"/><circle cx="341.7" cy="288.8" r="1.6"/><circle cx="345.1" cy="87.5" r="1.6"/><circle cx="311.5" cy="280.1" r="1.6"/><circle cx="327.0" cy="238.1" r="1.6"/><circle cx="321.8" cy="171.1" r="1.6"/><circle cx="329.1" cy="162.8" r="1.6"/><circle cx="332.4" cy="69.1" r="1.6"/><circle cx="336.3" cy="256.0" r="1.6"/><circle cx="316.1" cy="168.2" r="1.6"/><circle cx="337.8" cy="157.3" r="1.6"/><circle cx="316.6" cy="103.3" r="1.6"/><circle cx="329.0" cy="69.6" r="1.6"/><circle cx="343.8" cy="246.4" r="1.6"/><circle cx="336.4" cy="259.7" r="1.6"/><circle cx="333.5" cy="157.1" r="1.6"/><circle cx="332.4" cy="179.5" r="1.6"/><circle cx="347.2" cy="247.1" r="1.6"/><circle cx="319.1" cy="271.1" r="1.6"/><circle cx="338.0" cy="241.1" r="1.6"/><circle cx="340.7" cy="157.3" r="1.6"/><circle cx="343.9" cy="264.0" r="1.6"/><circle cx="336.1" cy="238.7" r="1.6"/><circle cx="338.8" cy="157.4" r="1.6"/><circle cx="337.1" cy="82.0" r="1.6"/><circle cx="322.3" cy="171.6" r="1.6"/><circle cx="309.5" cy="146.1" r="1.6"/><circle cx="333.9" cy="206.5" r="1.6"/><circle cx="318.1" cy="278.6" r="1.6"/><circle cx="334.9" cy="142.1" r="1.6"/><circle cx="334.7" cy="194.2" r="1.6"/><circle cx="329.8" cy="153.7" r="1.6"/><circle cx="347.9" cy="210.6" r="1.6"/><circle cx="336.3" cy="237.4" r="1.6"/><circle cx="347.1" cy="71.3" r="1.6"/><circle cx="333.0" cy="232.3" r="1.6"/><circle cx="319.0" cy="156.4" r="1.6"/><circle cx="311.0" cy="110.1" r="1.6"/><circle cx="323.7" cy="88.3" r="1.6"/><circle cx="318.8" cy="269.8" r="1.6"/><circle cx="330.4" cy="180.3" r="1.6"/><circle cx="346.6" cy="193.9" r="1.6"/><circle cx="347.7" cy="209.6" r="1.6"/><circle cx="340.5" cy="83.3" r="1.6"/><circle cx="332.3" cy="236.9" r="1.6"/><circle cx="310.8" cy="275.3" r="1.6"/><circle cx="315.3" cy="172.2" r="1.6"/><circle cx="368.3" cy="177.6" r="1.6"/><circle cx="378.1" cy="79.3" r="1.6"/><circle cx="385.6" cy="160.7" r="1.6"/><circle cx="376.3" cy="200.6" r="1.6"/><circle cx="372.7" cy="130.4" r="1.6"/><circle cx="379.1" cy="192.2" r="1.6"/><circle cx="370.9" cy="227.3" r="1.6"/><circle cx="371.1" cy="69.3" r="1.6"/><circle cx="370.0" cy="75.7" r="1.6"/><circle cx="368.1" cy="235.8" r="1.6"/><circle cx="373.2" cy="268.0" r="1.6"/><circle cx="381.2" cy="77.4" r="1.6"/><circle cx="386.5" cy="278.5" r="1.6"/><circle cx="366.2" cy="269.8" r="1.6"/><circle cx="374.1" cy="173.5" r="1.6"/><circle cx="386.2" cy="120.9" r="1.6"/><circle cx="376.2" cy="276.9" r="1.6"/><circle cx="380.6" cy="171.4" r="1.6"/><circle cx="386.3" cy="249.8" r="1.6"/><circle cx="378.0" cy="92.0" r="1.6"/><circle cx="378.4" cy="168.6" r="1.6"/><circle cx="369.1" cy="77.8" r="1.6"/><circle cx="376.3" cy="94.1" r="1.6"/><circle cx="374.4" cy="216.3" r="1.6"/><circle cx="374.7" cy="125.1" r="1.6"/><circle cx="377.5" cy="160.5" r="1.6"/><circle cx="381.9" cy="185.5" r="1.6"/><circle cx="386.7" cy="280.4" r="1.6"/></g><rect x="-5" y="378.5" width="401" height="30" fill="#101010"/></g></g>
</svg>
<rect x="971.50" y="480.50" width="391.50" height="390.70" fill="none" stroke="#111" stroke-width="1.3"/>
<path d="M971.50 480.50v-5.5M971.50 871.20v5.5M971.50 871.20h-5.5M1363.00 871.20h5.5M987.16 480.50v-2.6M987.16 871.20v2.6M971.50 855.57h-2.6M1363.00 855.57h2.6M1002.82 480.50v-2.6M1002.82 871.20v2.6M971.50 839.94h-2.6M1363.00 839.94h2.6M1018.48 480.50v-2.6M1018.48 871.20v2.6M971.50 824.32h-2.6M1363.00 824.32h2.6M1034.14 480.50v-2.6M1034.14 871.20v2.6M971.50 808.69h-2.6M1363.00 808.69h2.6M1049.80 480.50v-5.5M1049.80 871.20v5.5M971.50 793.06h-5.5M1363.00 793.06h5.5M1065.46 480.50v-2.6M1065.46 871.20v2.6M971.50 777.43h-2.6M1363.00 777.43h2.6M1081.12 480.50v-2.6M1081.12 871.20v2.6M971.50 761.80h-2.6M1363.00 761.80h2.6M1096.78 480.50v-2.6M1096.78 871.20v2.6M971.50 746.18h-2.6M1363.00 746.18h2.6M1112.44 480.50v-2.6M1112.44 871.20v2.6M971.50 730.55h-2.6M1363.00 730.55h2.6M1128.10 480.50v-5.5M1128.10 871.20v5.5M971.50 714.92h-5.5M1363.00 714.92h5.5M1143.76 480.50v-2.6M1143.76 871.20v2.6M971.50 699.29h-2.6M1363.00 699.29h2.6M1159.42 480.50v-2.6M1159.42 871.20v2.6M971.50 683.66h-2.6M1363.00 683.66h2.6M1175.08 480.50v-2.6M1175.08 871.20v2.6M971.50 668.04h-2.6M1363.00 668.04h2.6M1190.74 480.50v-2.6M1190.74 871.20v2.6M971.50 652.41h-2.6M1363.00 652.41h2.6M1206.40 480.50v-5.5M1206.40 871.20v5.5M971.50 636.78h-5.5M1363.00 636.78h5.5M1222.06 480.50v-2.6M1222.06 871.20v2.6M971.50 621.15h-2.6M1363.00 621.15h2.6M1237.72 480.50v-2.6M1237.72 871.20v2.6M971.50 605.52h-2.6M1363.00 605.52h2.6M1253.38 480.50v-2.6M1253.38 871.20v2.6M971.50 589.90h-2.6M1363.00 589.90h2.6M1269.04 480.50v-2.6M1269.04 871.20v2.6M971.50 574.27h-2.6M1363.00 574.27h2.6M1284.70 480.50v-5.5M1284.70 871.20v5.5M971.50 558.64h-5.5M1363.00 558.64h5.5M1300.36 480.50v-2.6M1300.36 871.20v2.6M971.50 543.01h-2.6M1363.00 543.01h2.6M1316.02 480.50v-2.6M1316.02 871.20v2.6M971.50 527.38h-2.6M1363.00 527.38h2.6M1331.68 480.50v-2.6M1331.68 871.20v2.6M971.50 511.76h-2.6M1363.00 511.76h2.6M1347.34 480.50v-2.6M1347.34 871.20v2.6M971.50 496.13h-2.6M1363.00 496.13h2.6M1363.00 480.50v-5.5M1363.00 871.20v5.5M971.50 480.50h-5.5M1363.00 480.50h5.5" stroke="#222" stroke-width="1" fill="none"/>
<svg x="125.50" y="918.30" width="390.80" height="390.50" viewBox="0 0 391 391" preserveAspectRatio="none" overflow="hidden">
<rect width="391" height="391" fill="#69b35f"/>
<defs><path id="frg" d="M-8.6 280.4C-7.3 281.5 -2.2 285.4 -0.5 287.1C1.2 288.8 0.8 290 1.7 290.6C2.6 291.2 3.2 292.8 4.9 290.6C6.6 288.5 9.4 281.2 11.7 277.7C13.9 274.1 15.9 271.4 18.4 269.5C20.9 267.7 23.8 266.9 26.5 266.8C29.2 266.8 32.4 267.7 34.6 269C36.9 270.4 38.6 272.3 40.1 275C41.5 277.7 41.9 283.5 43.6 285.2C45.2 286.9 48.4 285.8 50.1 285.2C51.7 284.6 51.9 282.5 53.6 281.7C55.3 280.9 58.3 280.1 60.3 280.4C62.4 280.6 64.5 281.6 65.7 283.1C67 284.5 66.6 288 67.6 289C68.7 290 70.7 288.2 72 289C73.2 289.8 73.8 293.3 75.2 293.9C76.6 294.5 78.8 292.5 80.6 292.5C82.4 292.5 84.8 294.5 86 293.9C87.2 293.3 86.7 289.8 87.6 289C88.5 288.2 90.1 289.6 91.4 289C92.7 288.5 93.7 286.6 95.5 285.8C97.3 284.9 99.8 283.9 102.2 283.9C104.7 283.9 108.5 284.5 110.3 285.8C112.1 287.1 111.6 290.7 113 291.7C114.5 292.7 117.4 292.3 119 291.7C120.6 291.2 120.8 289.2 122.5 288.5C124.2 287.7 127 286.9 129.3 287.1C131.5 287.3 134.1 288.2 136 289.8C137.9 291.5 137.8 295.9 140.6 297.1C143.5 298.3 150.2 298.3 153.1 297.1C155.9 295.9 155.5 291.8 157.7 289.8C159.8 287.8 163.3 285.7 165.8 285.2C168.2 284.8 170.9 286 172.5 287.1C174.2 288.2 174.3 291 175.8 291.7C177.2 292.5 179.9 292.7 181.2 291.7C182.4 290.7 182.1 287.2 183.3 285.8C184.6 284.3 186.8 283.3 188.7 283.1C190.6 282.8 193.4 283.7 194.7 284.4C195.9 285.2 195.1 287.1 196.3 287.7C197.5 288.2 200.5 289.3 201.7 287.7C202.9 286 202.4 280 203.6 277.7C204.8 275.3 207 274.1 209 273.6C211 273.2 214.2 274 215.8 275C217.4 275.9 217 278.8 218.5 279.6C219.9 280.3 223.1 280.5 224.4 279.6C225.8 278.6 225.3 275 226.6 273.6C227.9 272.2 230 271.1 232 270.9C234 270.7 237.1 271 238.8 272.3C240.4 273.5 240.3 277.2 242 278.2C243.7 279.2 247.3 279.6 249 278.2C250.7 276.8 250.6 271.8 252.3 269.5C253.9 267.3 256.6 265.7 259 264.7C261.5 263.7 264.4 263.2 267.1 263.6C269.8 264 273 264.7 275.3 266.8C277.5 269 279.1 273.4 280.7 276.3C282.2 279.2 283.7 282 284.7 284.4C285.7 286.8 285.1 289.6 286.6 290.6C288.1 291.7 291.5 291.9 293.6 290.6C295.8 289.4 297.2 285.5 299.6 283.1C301.9 280.7 304.3 277.9 307.7 276.3C311.1 274.7 316.3 273.4 319.9 273.6C323.5 273.8 326.6 275.4 329.3 277.7C332 279.9 334.6 284.1 336.1 287.1C337.5 290.2 336 294.6 338 296C339.9 297.5 345.5 297.5 347.7 296C349.9 294.6 349.1 290 350.9 287.1C352.8 284.3 355.2 281.3 359.1 279C362.9 276.8 370.1 273.6 373.9 273.6C377.8 273.6 380.4 276.6 382 279C383.7 281.4 382.6 286.4 383.9 287.9C385.3 289.4 388 288.7 390.1 287.9C392.3 287.1 395.8 283.9 396.9 283.1L396.9 430L-8.6 430Z"/><g id="chg"><path d="M-1.5 291.5C-0.9 294.7 0.8 302.4 2.3 308.4C3.9 314.4 5.9 321.2 7.8 327.5C9.6 333.8 12.3 342.7 13.5 346.2C14.7 349.6 14.3 347.7 14.8 348.2C15.4 348.7 16.2 349.1 17 349.2C17.7 349.4 18.6 349.3 19.4 349.1C20.1 348.8 20.8 348.3 21.4 347.8C21.9 347.2 22.3 346.4 22.4 345.6C22.6 344.9 23.4 346.6 22.3 343.2C21.1 339.8 17.6 331.3 15.6 325.1C13.6 319 11.8 312.2 10.2 306.3C8.6 300.5 6.8 292.8 5.9 289.7C5 286.7 5.4 288.5 5 288C4.5 287.5 3.9 287.2 3.3 287C2.7 286.8 1.9 286.8 1.3 286.9C0.7 287.1 0 287.4 -0.4 287.9C-0.9 288.3 -1.3 288.9 -1.5 289.6C-1.6 290.2 -2.1 288.4 -1.5 291.5Z"/><path d="M41.9 284.9C41.6 289.9 41.3 304.3 40.6 312.4C39.9 320.5 38.6 329.5 37.7 333.6C36.7 337.7 35.6 336 35.1 337.1C34.6 338.1 34.5 339 34.6 339.9C34.7 340.8 35.1 341.8 35.7 342.5C36.2 343.2 37 343.9 37.8 344.3C38.7 344.6 39.7 344.8 40.6 344.7C41.5 344.6 42.5 344.2 43.2 343.7C44 343.2 44.4 342.9 45 341.5C45.6 340.1 46.1 340 46.8 335.3C47.5 330.5 48.4 321.5 49.3 313.2C50.1 304.9 51.4 290.6 51.7 285.6C52 280.5 51.6 283.8 51.2 283.1C50.8 282.3 50.2 281.6 49.5 281.2C48.9 280.7 48 280.4 47.1 280.3C46.3 280.3 45.4 280.5 44.7 280.8C43.9 281.2 43.2 281.8 42.7 282.5C42.3 283.2 42.3 279.9 41.9 284.9Z"/><path d="M38.6 336.9C37.4 337.4 34.2 338.8 33.1 339.4C31.9 340 32 340.1 31.7 340.6C31.4 341.1 31.1 341.7 31.1 342.3C31.1 342.9 31.2 343.6 31.5 344.1C31.7 344.7 32.2 345.2 32.7 345.5C33.2 345.8 33.8 346 34.4 346.1C35 346.1 35 346.3 36.2 345.7C37.4 345.2 40.4 343.4 41.5 342.8C42.6 342.1 42.5 342.1 42.8 341.6C43.1 341.2 43.3 340.6 43.3 340C43.4 339.5 43.2 338.9 43 338.4C42.7 337.9 42.3 337.4 41.9 337.1C41.4 336.8 40.8 336.6 40.2 336.6C39.7 336.5 39.8 336.4 38.6 336.9Z"/><path d="M40.1 343.1C41.7 343.5 46.5 344.4 48.1 344.7C49.8 344.9 49.4 344.7 49.9 344.5C50.5 344.3 51.1 343.9 51.4 343.4C51.8 343 52.1 342.4 52.2 341.8C52.3 341.2 52.2 340.5 52 339.9C51.8 339.4 51.4 338.8 51 338.5C50.5 338.1 50.9 338 49.3 337.7C47.6 337.4 42.8 336.8 41.1 336.6C39.5 336.5 40 336.6 39.4 336.8C38.9 337 38.4 337.3 38.1 337.8C37.7 338.2 37.5 338.8 37.4 339.3C37.3 339.8 37.3 340.5 37.5 341C37.7 341.5 38.1 342 38.5 342.4C38.9 342.7 38.5 342.7 40.1 343.1Z"/><path d="M65.7 288.5C65.3 291.9 64.5 300.7 63.8 307C63.2 313.2 62.6 320.1 61.9 326C61.3 331.8 60.3 339.1 60 342.2C59.8 345.3 60.1 343.7 60.4 344.4C60.8 345.1 61.3 345.7 61.9 346.1C62.5 346.5 63.3 346.8 64 346.9C64.7 346.9 65.6 346.8 66.2 346.5C66.9 346.2 67.5 345.6 68 345C68.4 344.4 68.5 346 68.7 342.9C69 339.8 69.1 332.5 69.5 326.7C70 320.8 70.7 314 71.4 307.8C72.1 301.6 73.5 292.9 73.8 289.5C74.2 286.1 73.8 288 73.5 287.4C73.3 286.8 72.8 286.1 72.2 285.7C71.7 285.3 70.9 285 70.3 285C69.6 284.9 68.8 285 68.2 285.3C67.5 285.5 66.9 286 66.5 286.6C66.1 287.1 66.2 285.1 65.7 288.5Z"/><path d="M85.4 288.8C85.2 292.2 85.2 300.2 84.9 307.2C84.6 314.3 83.7 326.7 83.6 331C83.4 335.3 83.7 332.5 84 333.1C84.3 333.7 84.9 334.3 85.4 334.6C86 335 86.8 335.2 87.4 335.3C88.1 335.3 88.9 335.1 89.5 334.8C90.1 334.5 90.7 334 91.1 333.4C91.4 332.8 91.5 335.7 91.7 331.4C92 327.1 92.2 314.6 92.5 307.6C92.8 300.5 93.5 292.6 93.6 289.2C93.7 285.8 93.5 287.7 93.1 287.1C92.8 286.5 92.3 285.9 91.7 285.6C91.1 285.2 90.4 285 89.7 284.9C89 284.9 88.2 285.1 87.6 285.4C87 285.7 86.4 286.2 86.1 286.8C85.7 287.4 85.6 285.4 85.4 288.8Z"/><path d="M84.9 329.3C83.7 330.8 79.8 335.3 78.6 337C77.4 338.6 77.9 338.3 77.9 338.9C77.8 339.6 78 340.4 78.3 341C78.5 341.6 79.1 342.3 79.6 342.6C80.2 343 80.9 343.3 81.6 343.4C82.3 343.4 83.1 343.3 83.7 343C84.3 342.7 84.2 343.3 85.3 341.6C86.4 340 89.4 334.8 90.3 333.1C91.2 331.4 90.8 332 90.9 331.5C90.9 330.9 90.8 330.3 90.6 329.8C90.4 329.3 90 328.8 89.5 328.5C89.1 328.2 88.5 328 87.9 327.9C87.4 327.9 86.7 328 86.2 328.2C85.8 328.5 86.2 327.9 84.9 329.3Z"/><path d="M85.3 332.8C86.2 334.7 89 340.8 90 342.7C91.1 344.6 90.9 343.8 91.5 344.2C92.1 344.5 92.9 344.7 93.6 344.7C94.2 344.7 95 344.5 95.6 344.2C96.2 343.9 96.8 343.3 97.1 342.7C97.5 342.1 97.7 341.3 97.7 340.7C97.7 340 98.2 340.5 97.1 338.6C96 336.8 92.2 331.3 91 329.6C89.8 327.9 90.3 328.6 89.8 328.4C89.4 328.1 88.7 327.9 88.2 327.9C87.6 327.9 87 328.1 86.5 328.3C86.1 328.6 85.6 329.1 85.3 329.5C85.1 330 84.9 330.6 84.9 331.2C84.9 331.7 84.5 330.9 85.3 332.8Z"/><path d="M111.4 291.8C111.3 295.7 111.9 305.1 111.7 312.8C111.4 320.4 110 333.1 109.8 337.8C109.6 342.5 110 339.9 110.5 340.8C111 341.7 111.8 342.5 112.6 343.1C113.5 343.6 114.6 343.9 115.6 343.9C116.6 343.9 117.8 343.7 118.6 343.2C119.5 342.7 120.3 341.9 120.9 341C121.4 340.2 121.7 342.8 121.7 338.1C121.7 333.4 121.1 320.6 120.9 312.8C120.7 305.1 120.8 295.6 120.6 291.7C120.5 287.7 120.4 290 120 289.4C119.6 288.7 119 288.1 118.3 287.7C117.6 287.3 116.7 287.1 116 287.1C115.2 287.1 114.3 287.3 113.7 287.7C113 288.1 112.4 288.8 112 289.5C111.6 290.1 111.4 287.9 111.4 291.8Z"/><path d="M139.2 297.1C139.3 299.5 140.2 305.2 140.6 307.4C141 309.6 140.9 309.6 141.4 310.5C141.9 311.4 142.8 312.3 143.7 312.8C144.6 313.3 145.8 313.6 146.8 313.6C147.9 313.6 149.1 313.3 150 312.8C150.9 312.3 151.7 311.4 152.2 310.5C152.8 309.6 152.7 309.6 153.1 307.4C153.4 305.2 154.4 299.5 154.4 297.1C154.5 294.8 154.1 294.4 153.4 293.3C152.8 292.2 151.7 291.2 150.6 290.5C149.5 289.9 148.1 289.5 146.8 289.5C145.6 289.5 144.1 289.9 143 290.5C141.9 291.2 140.9 292.2 140.3 293.3C139.6 294.4 139.2 294.8 139.2 297.1Z"/><path d="M140.5 307.5C139.5 310.8 137.2 320.3 135.9 325.2C134.5 330.1 133.1 334.5 132.6 336.8C132.1 339.2 132.5 338.6 132.7 339.4C132.9 340.1 133.4 341 134 341.5C134.6 342.1 135.5 342.5 136.3 342.7C137.1 342.9 138 342.9 138.8 342.6C139.6 342.4 140.4 341.9 141 341.3C141.5 340.7 141.6 341.4 142.1 339.1C142.7 336.7 143.1 332.3 144.3 327.4C145.5 322.6 148.5 313.3 149.4 310C150.3 306.7 149.6 308.3 149.4 307.6C149.2 306.8 148.8 306.1 148.2 305.5C147.7 305 146.9 304.5 146.2 304.3C145.4 304.1 144.5 304.1 143.8 304.3C143 304.5 142.3 304.9 141.7 305.4C141.2 306 141.5 304.2 140.5 307.5Z"/><path d="M144.4 310.3C145.4 313.6 149 322.7 150.5 327.7C152.1 332.8 152.8 338.1 153.5 340.6C154.2 343.2 154.2 342.4 154.8 343C155.4 343.6 156.3 344.1 157.1 344.3C158 344.5 159 344.5 159.8 344.3C160.6 344.1 161.5 343.6 162.1 342.9C162.7 342.3 163.2 341.5 163.5 340.6C163.7 339.8 164.1 340.6 163.4 337.9C162.8 335.3 161.1 330 159.4 324.9C157.6 319.8 154.4 310.5 153.1 307.2C151.8 303.9 152.3 305.7 151.7 305.2C151.1 304.7 150.3 304.3 149.6 304.2C148.8 304.1 147.9 304.1 147.2 304.4C146.5 304.6 145.7 305.2 145.2 305.7C144.7 306.3 144.3 307.1 144.2 307.9C144 308.7 143.3 307 144.4 310.3Z"/><path d="M174.4 292C174.6 295.9 175.4 304.8 176 313.2C176.6 321.5 177.5 336.7 177.9 341.9C178.4 347.1 178.3 343.6 178.8 344.3C179.3 345 180 345.6 180.8 345.9C181.5 346.3 182.4 346.4 183.3 346.3C184.1 346.3 185 345.9 185.6 345.5C186.3 345 186.9 344.2 187.2 343.5C187.6 342.8 188.2 346.2 187.7 341C187.2 335.8 185 320.7 184.2 312.4C183.3 304.2 182.9 295.2 182.5 291.4C182.2 287.6 182.2 290 181.8 289.4C181.5 288.8 180.8 288.3 180.2 288C179.6 287.7 178.8 287.6 178.2 287.6C177.5 287.7 176.7 288 176.2 288.3C175.6 288.7 175.1 289.3 174.8 290C174.5 290.6 174.2 288.2 174.4 292Z"/><path d="M195.2 288.1C195.6 292.6 197.1 304.1 197.9 313.2C198.8 322.4 199.8 337.7 200.4 343C200.9 348.4 200.8 344.7 201.2 345.3C201.7 345.9 202.4 346.5 203.1 346.8C203.8 347.1 204.7 347.2 205.5 347.1C206.2 347.1 207.1 346.7 207.7 346.3C208.3 345.8 208.9 345.1 209.2 344.4C209.5 343.7 210.2 347.4 209.6 342C208.9 336.7 206.6 321.5 205.5 312.4C204.4 303.3 203.4 291.8 202.8 287.3C202.2 282.8 202.5 285.9 202.1 285.4C201.7 284.9 201.1 284.4 200.6 284.2C200 283.9 199.2 283.8 198.6 283.9C198 283.9 197.3 284.2 196.8 284.6C196.3 285 195.8 285.5 195.5 286.1C195.3 286.7 194.8 283.6 195.2 288.1Z"/><path d="M218.2 279.7C218.3 285.5 218.7 302.1 219 312.9C219.3 323.8 219.6 339.2 219.8 344.9C220 350.5 220.1 346.3 220.4 346.9C220.8 347.5 221.4 348 222 348.3C222.6 348.6 223.4 348.8 224.1 348.8C224.7 348.8 225.5 348.5 226.1 348.2C226.6 347.8 227.2 347.2 227.5 346.6C227.8 346 228.2 350.2 228 344.5C227.7 338.9 226.6 323.5 226.1 312.7C225.5 301.8 225 285.3 224.7 279.4C224.4 273.6 224.5 278.3 224.2 277.8C223.9 277.4 223.5 276.9 223 276.7C222.5 276.4 221.9 276.3 221.3 276.3C220.8 276.3 220.2 276.5 219.7 276.8C219.3 277.1 218.8 277.5 218.6 278C218.3 278.5 218.1 273.8 218.2 279.7Z"/><path d="M241.4 278.4C241.5 284.5 242.2 303.7 242.5 313C242.8 322.3 242.8 330.2 243.1 334.1C243.3 338 243.4 335.7 243.8 336.4C244.2 337 244.8 337.6 245.5 338C246.2 338.3 247.1 338.5 247.9 338.5C248.6 338.5 249.5 338.2 250.1 337.8C250.8 337.4 251.4 336.7 251.8 336C252.1 335.4 252.4 337.6 252.3 333.7C252.2 329.8 251.7 321.9 251.2 312.6C250.8 303.4 250 284.1 249.6 278C249.2 271.9 249.3 276.6 249 276C248.6 275.4 248 274.9 247.4 274.6C246.8 274.3 246 274.1 245.4 274.1C244.7 274.1 243.9 274.4 243.3 274.7C242.8 275.1 242.2 275.7 241.9 276.3C241.6 276.9 241.3 272.2 241.4 278.4Z"/><path d="M243.9 331.9C242.7 333.5 239.3 338.2 238.3 339.9C237.2 341.5 237.7 341.1 237.7 341.8C237.6 342.4 237.8 343.1 238 343.7C238.3 344.3 238.8 344.8 239.3 345.2C239.9 345.5 240.6 345.8 241.2 345.8C241.8 345.8 242.6 345.7 243.1 345.4C243.7 345.1 243.5 345.7 244.6 344.1C245.7 342.5 248.9 337.5 249.8 335.9C250.8 334.2 250.4 334.7 250.4 334.1C250.4 333.5 250.3 332.8 250 332.3C249.8 331.8 249.3 331.3 248.8 330.9C248.3 330.6 247.7 330.4 247.1 330.4C246.5 330.3 245.8 330.5 245.3 330.7C244.8 331 245.1 330.4 243.9 331.9Z"/><path d="M245.4 336C246.8 338.1 251.7 345 253.3 347C254.8 349 254.2 348 254.8 348.2C255.4 348.5 256.2 348.6 256.8 348.5C257.4 348.4 258.1 348.1 258.6 347.8C259.1 347.4 259.6 346.8 259.8 346.2C260.1 345.6 260.2 344.9 260.1 344.2C260 343.6 260.9 344.5 259.4 342.4C257.9 340.3 252.7 333.7 251.1 331.8C249.4 329.8 250.2 330.9 249.6 330.6C249.1 330.4 248.4 330.3 247.8 330.4C247.2 330.4 246.6 330.7 246.1 331.1C245.6 331.4 245.2 332 245 332.5C244.7 333 244.6 333.7 244.7 334.3C244.8 334.9 244 333.9 245.4 336Z"/><path d="M284.1 290.6C284.2 291.8 285.2 293.4 285.5 294.4C285.8 295.4 285.7 296.1 286.1 296.7C286.5 297.4 287.1 298 287.8 298.4C288.5 298.8 289.3 299 290.1 299C290.9 299 291.8 298.8 292.4 298.4C293.1 298 293.7 297.4 294.1 296.7C294.5 296.1 294.4 295.4 294.7 294.4C295.1 293.4 296 291.8 296.1 290.6C296.2 289.5 295.8 288.5 295.3 287.6C294.8 286.8 294 286 293.1 285.5C292.2 285 291.1 284.7 290.1 284.7C289.1 284.7 288 285 287.1 285.5C286.3 286 285.4 286.8 284.9 287.6C284.4 288.5 284.1 289.5 284.1 290.6Z"/><path d="M284.7 293.2C283.9 297.6 281.7 309.6 280.7 317.7C279.6 325.8 278.5 337.3 278.2 341.6C277.9 346 278.3 343.3 278.6 344C279 344.7 279.6 345.4 280.2 345.8C280.8 346.2 281.7 346.5 282.5 346.6C283.2 346.7 284.1 346.5 284.8 346.2C285.5 345.8 286.2 345.3 286.6 344.6C287.1 344 287.1 346.7 287.4 342.4C287.8 338 287.9 326.7 288.8 318.7C289.7 310.7 292.2 298.9 292.8 294.6C293.4 290.2 292.8 293.1 292.6 292.4C292.4 291.8 291.9 291.2 291.4 290.7C290.8 290.3 290.1 290 289.4 289.8C288.8 289.7 288 289.8 287.3 290.1C286.7 290.3 286 290.8 285.6 291.3C285.2 291.8 285.6 288.8 284.7 293.2Z"/><path d="M289.1 295.5C290.9 299.8 297.5 311.2 299.7 319.3C301.8 327.3 301.5 339.4 302 343.8C302.5 348.3 302.4 345.3 302.8 345.9C303.3 346.5 303.9 347 304.6 347.3C305.2 347.6 306.1 347.8 306.8 347.7C307.5 347.6 308.3 347.3 308.9 346.9C309.5 346.4 310 345.8 310.3 345.1C310.6 344.4 311.1 347.5 310.7 342.9C310.2 338.2 309.9 325.6 307.6 317.1C305.2 308.7 298.6 296.6 296.6 292.2C294.5 287.8 295.8 291 295.2 290.6C294.7 290.2 293.9 289.9 293.3 289.8C292.6 289.7 291.8 289.9 291.2 290.1C290.5 290.4 289.9 290.9 289.5 291.5C289.1 292 288.8 292.8 288.8 293.4C288.7 294.1 287.3 291.2 289.1 295.5Z"/><path d="M277.7 345.8C279.4 346 284.2 346.3 285.8 346.3C287.5 346.4 287 346.3 287.5 346C288 345.8 288.5 345.4 288.8 344.9C289.1 344.4 289.3 343.8 289.3 343.3C289.4 342.8 289.2 342.1 289 341.6C288.8 341.1 288.3 340.7 287.9 340.4C287.4 340.1 287.9 340 286.3 339.8C284.7 339.6 279.8 339.3 278.2 339.3C276.5 339.2 277 339.4 276.5 339.6C276 339.8 275.5 340.3 275.2 340.7C274.9 341.2 274.7 341.8 274.7 342.3C274.7 342.9 274.8 343.5 275 344C275.3 344.5 275.7 345 276.1 345.3C276.6 345.6 276.1 345.6 277.7 345.8Z"/><path d="M333.9 295.6C333.8 298.3 334.4 304.5 334.7 307C335 309.6 335 309.8 335.5 310.9C336.1 312 337.1 313.1 338.2 313.8C339.3 314.5 340.7 314.9 341.9 315C343.2 315 344.7 314.7 345.8 314.2C346.9 313.6 348 312.6 348.7 311.5C349.4 310.4 349.4 310.3 349.9 307.8C350.4 305.3 351.6 299.1 351.8 296.5C351.9 293.8 351.5 293.3 350.8 291.9C350.1 290.6 348.9 289.3 347.7 288.5C346.4 287.7 344.8 287.2 343.3 287.1C341.8 287 340.1 287.4 338.7 288.1C337.4 288.8 336.1 289.9 335.3 291.2C334.5 292.5 334 293 333.9 295.6Z"/><path d="M334 308.1C332.7 311.2 329.6 319.7 327.7 324.6C325.8 329.5 323.5 335 322.6 337.6C321.7 340.2 322.2 339.3 322.3 340.1C322.5 340.9 322.9 341.8 323.4 342.4C323.9 343 324.7 343.6 325.4 343.9C326.2 344.2 327.2 344.3 328 344.1C328.8 344 329.6 343.6 330.3 343.1C330.9 342.6 330.7 343.5 331.7 341C332.7 338.5 334.4 332.9 336.3 328C338.3 323.2 342.3 315.2 343.5 312.1C344.8 309 344 310.3 343.9 309.4C343.8 308.6 343.4 307.6 342.9 307C342.4 306.3 341.6 305.7 340.8 305.3C340 305 339 304.9 338.1 305C337.3 305.1 336.3 305.5 335.6 306C335 306.5 335.3 305 334 308.1Z"/><path d="M341.7 312.7C343.6 315.7 349.7 323.2 352.5 328.4C355.4 333.6 357.6 340.9 358.9 343.8C360.2 346.7 359.7 345.2 360.3 345.7C361 346.2 361.8 346.5 362.6 346.6C363.3 346.7 364.2 346.6 364.9 346.2C365.7 345.9 366.4 345.4 366.8 344.8C367.3 344.1 367.6 343.3 367.7 342.5C367.8 341.8 368.6 343.2 367.4 340.2C366.1 337.1 363.2 329.7 360.2 324.2C357.2 318.8 351.5 310.6 349.4 307.5C347.3 304.5 348.3 306.3 347.6 306C346.9 305.6 346 305.4 345.2 305.5C344.5 305.5 343.6 305.8 343 306.3C342.3 306.7 341.7 307.4 341.4 308C341.1 308.7 340.9 309.6 340.9 310.4C341 311.2 339.8 309.7 341.7 312.7Z"/><path d="M382.8 287.9C382.6 292.4 382.5 303.3 382.3 312.7C382 322.2 381.3 338.9 381.2 344.6C381.1 350.3 381.4 346.4 381.8 347.1C382.2 347.8 382.9 348.5 383.6 348.9C384.3 349.3 385.2 349.6 386 349.6C386.8 349.6 387.8 349.4 388.5 349C389.2 348.6 389.9 347.9 390.3 347.2C390.7 346.5 390.9 350.5 391 344.8C391.1 339.1 391 322.3 391 312.9C391 303.4 391.1 292.5 391 288C390.9 283.5 390.8 286.5 390.5 285.9C390.1 285.3 389.6 284.8 389 284.4C388.4 284.1 387.6 283.9 386.9 283.8C386.3 283.8 385.5 284 384.9 284.4C384.3 284.7 383.7 285.3 383.4 285.9C383 286.4 383 283.4 382.8 287.9Z"/></g><clipPath id="clg"><use href="#frg" transform="translate(0,-0.5)"/></clipPath><clipPath id="c0g"><use href="#frg"/></clipPath><linearGradient id="cg_g" gradientUnits="userSpaceOnUse" x1="0" y1="0" x2="0" y2="391"><stop offset="0.6650" stop-color="#383838"/><stop offset="0.7673" stop-color="#333333"/><stop offset="0.8440" stop-color="#2b2b2b"/><stop offset="0.8951" stop-color="#282828"/><stop offset="0.9514" stop-color="#212121"/><stop offset="1.0000" stop-color="#141414"/></linearGradient></defs><g filter="url(#cmap)"><rect x="-5" y="-5" width="401" height="401" fill="#808080"/><use href="#frg" fill="#b2b2b2" stroke="#b2b2b2" stroke-width="6" filter="url(#gb5)"/><use href="#frg" fill="#ebebeb" stroke="#ebebeb" stroke-width="6" filter="url(#gb25)"/><use href="#frg" fill="#ffffff" stroke="#ffffff" stroke-width="5" filter="url(#gb05)"/><path d="M-4.3 276.2L8.7 276.2L2.2 293.6ZM39.2 270.8L54.4 270.8L46.8 288.2ZM63.4 281.3L76.1 281.3L69.8 292.0ZM84.3 284.6L94.8 284.6L89.5 292.0ZM109.5 285.0L122.6 285.0L116.0 294.7ZM137.1 289.9L156.5 289.9L146.8 300.1ZM172.1 284.1L184.8 284.1L178.5 294.7ZM192.5 275.0L205.5 275.0L199.0 290.7ZM216.0 272.0L226.9 272.0L221.5 282.6ZM238.7 267.0L252.3 267.0L245.5 281.2ZM281.4 274.6L298.8 274.6L290.1 293.6ZM282.0 277.9L295.6 277.9L288.8 296.9ZM286.0 278.4L299.6 278.4L292.8 296.9ZM331.2 281.4L354.5 281.4L342.8 299.0ZM380.1 275.6L393.7 275.6L386.9 290.9Z" fill="#e0e0e0" filter="url(#gb25)"/><g filter="url(#gb07)"><use href="#frg" fill="url(#cg_g)"/><g fill="#474747" filter="url(#gb2)"><ellipse cx="17.9" cy="353.0" rx="5.5" ry="8.0"/><ellipse cx="40.1" cy="348.4" rx="6.3" ry="8.0"/><ellipse cx="34.6" cy="349.8" rx="4.4" ry="8.0"/><ellipse cx="48.7" cy="348.4" rx="4.4" ry="8.0"/><ellipse cx="64.4" cy="350.6" rx="5.3" ry="8.0"/><ellipse cx="82.0" cy="347.1" rx="5.0" ry="8.0"/><ellipse cx="93.6" cy="348.4" rx="5.0" ry="8.0"/><ellipse cx="115.7" cy="347.6" rx="6.9" ry="8.0"/><ellipse cx="137.4" cy="346.5" rx="5.8" ry="8.0"/><ellipse cx="158.5" cy="348.2" rx="6.1" ry="8.0"/><ellipse cx="182.8" cy="350.1" rx="5.8" ry="8.0"/><ellipse cx="205.0" cy="350.9" rx="5.5" ry="8.0"/><ellipse cx="223.9" cy="352.5" rx="5.0" ry="8.0"/><ellipse cx="241.5" cy="349.5" rx="4.7" ry="8.0"/><ellipse cx="256.3" cy="352.2" rx="4.7" ry="8.0"/><ellipse cx="282.8" cy="350.3" rx="5.5" ry="8.0"/><ellipse cx="306.3" cy="351.4" rx="5.3" ry="8.0"/><ellipse cx="286.1" cy="350.1" rx="4.2" ry="8.0"/><ellipse cx="327.2" cy="347.9" rx="5.8" ry="8.0"/><ellipse cx="363.1" cy="350.3" rx="5.5" ry="8.0"/><ellipse cx="386.1" cy="353.3" rx="5.8" ry="8.0"/></g><use href="#chg" fill="#333333" stroke="#333333" stroke-width="7" filter="url(#gb15)" clip-path="url(#c0g)"/><use href="#chg" fill="#4c4c4c" stroke="#4c4c4c" stroke-width="3.5" filter="url(#gb07)" clip-path="url(#c0g)"/><use href="#chg" fill="#fff" clip-path="url(#clg)"/><rect x="-5" y="381" width="401" height="30" fill="#101010"/></g></g>
</svg>
<rect x="125.50" y="918.30" width="390.80" height="390.50" fill="none" stroke="#111" stroke-width="1.3"/>
<path d="M125.50 918.30v-5.5M125.50 1308.80v5.5M125.50 1308.80h-5.5M516.30 1308.80h5.5M141.13 918.30v-2.6M141.13 1308.80v2.6M125.50 1293.18h-2.6M516.30 1293.18h2.6M156.76 918.30v-2.6M156.76 1308.80v2.6M125.50 1277.56h-2.6M516.30 1277.56h2.6M172.40 918.30v-2.6M172.40 1308.80v2.6M125.50 1261.94h-2.6M516.30 1261.94h2.6M188.03 918.30v-2.6M188.03 1308.80v2.6M125.50 1246.32h-2.6M516.30 1246.32h2.6M203.66 918.30v-5.5M203.66 1308.80v5.5M125.50 1230.70h-5.5M516.30 1230.70h5.5M219.29 918.30v-2.6M219.29 1308.80v2.6M125.50 1215.08h-2.6M516.30 1215.08h2.6M234.92 918.30v-2.6M234.92 1308.80v2.6M125.50 1199.46h-2.6M516.30 1199.46h2.6M250.56 918.30v-2.6M250.56 1308.80v2.6M125.50 1183.84h-2.6M516.30 1183.84h2.6M266.19 918.30v-2.6M266.19 1308.80v2.6M125.50 1168.22h-2.6M516.30 1168.22h2.6M281.82 918.30v-5.5M281.82 1308.80v5.5M125.50 1152.60h-5.5M516.30 1152.60h5.5M297.45 918.30v-2.6M297.45 1308.80v2.6M125.50 1136.98h-2.6M516.30 1136.98h2.6M313.08 918.30v-2.6M313.08 1308.80v2.6M125.50 1121.36h-2.6M516.30 1121.36h2.6M328.72 918.30v-2.6M328.72 1308.80v2.6M125.50 1105.74h-2.6M516.30 1105.74h2.6M344.35 918.30v-2.6M344.35 1308.80v2.6M125.50 1090.12h-2.6M516.30 1090.12h2.6M359.98 918.30v-5.5M359.98 1308.80v5.5M125.50 1074.50h-5.5M516.30 1074.50h5.5M375.61 918.30v-2.6M375.61 1308.80v2.6M125.50 1058.88h-2.6M516.30 1058.88h2.6M391.24 918.30v-2.6M391.24 1308.80v2.6M125.50 1043.26h-2.6M516.30 1043.26h2.6M406.88 918.30v-2.6M406.88 1308.80v2.6M125.50 1027.64h-2.6M516.30 1027.64h2.6M422.51 918.30v-2.6M422.51 1308.80v2.6M125.50 1012.02h-2.6M516.30 1012.02h2.6M438.14 918.30v-5.5M438.14 1308.80v5.5M125.50 996.40h-5.5M516.30 996.40h5.5M453.77 918.30v-2.6M453.77 1308.80v2.6M125.50 980.78h-2.6M516.30 980.78h2.6M469.40 918.30v-2.6M469.40 1308.80v2.6M125.50 965.16h-2.6M516.30 965.16h2.6M485.04 918.30v-2.6M485.04 1308.80v2.6M125.50 949.54h-2.6M516.30 949.54h2.6M500.67 918.30v-2.6M500.67 1308.80v2.6M125.50 933.92h-2.6M516.30 933.92h2.6M516.30 918.30v-5.5M516.30 1308.80v5.5M125.50 918.30h-5.5M516.30 918.30h5.5" stroke="#222" stroke-width="1" fill="none"/>
<svg x="544.50" y="918.30" width="391.80" height="390.50" viewBox="0 0 391 391" preserveAspectRatio="none" overflow="hidden">
<rect width="391" height="391" fill="#69b35f"/>
<defs><path id="frh" d="M-8.6 171.4C-7.3 171.5 -3.2 172.4 -0.5 172C2.2 171.5 4.9 169.4 7.6 168.7C10.3 168.1 12.6 168.4 15.7 168.2C18.9 168 22.9 167.7 26.5 167.4C30.1 167.1 33.7 166 37.3 166.6C41 167.2 45 168.7 48.2 170.9C51.3 173.1 54.4 176.4 56.3 179.5C58.2 182.7 57.8 188.1 59.5 189.8C61.2 191.5 64.6 190.1 66.5 189.8C68.5 189.6 69.5 188.3 71.1 188.2C72.8 188.1 75.3 188.5 76.5 189C77.8 189.5 77.3 190.8 78.4 191.2C79.6 191.5 81.6 191.7 83.3 191.2C85 190.7 86.5 189 88.7 188.2C91 187.4 94.1 186.6 96.8 186.6C99.5 186.6 101.7 187.6 104.9 188.2C108.2 188.8 113.7 190 116.3 190.4C118.9 190.7 118.9 190.7 120.6 190.4C122.3 190 124.7 188.6 126.6 188.2C128.5 187.7 129.9 187.5 132 187.7C134 187.8 137.1 188.3 138.7 189C140.3 189.7 140.1 191.3 141.4 191.7C142.8 192.2 145.3 192.2 146.8 191.7C148.4 191.3 149.3 189.8 150.9 189C152.5 188.2 154.3 187.1 156.3 187.1C158.3 187.1 161 187.8 163.1 189C165.1 190.2 166.4 193.5 168.5 194.4C170.5 195.3 172.7 196 175.2 194.4C177.7 192.8 180.2 187.7 183.3 185C186.5 182.3 191 179.5 194.1 178.2C197.3 176.8 200.5 176.7 202.3 176.8C204 177 203.4 178.6 204.4 179C205.4 179.4 206.8 179.8 208.2 179C209.6 178.2 210.5 175.6 213.1 174.1C215.7 172.7 220.3 170.5 223.9 170.1C227.5 169.6 232.2 170.5 234.7 171.4C237.2 172.3 237.2 174.8 238.8 175.5C240.3 176.2 242.1 176.1 244.2 175.5C246.2 174.9 247.1 172.9 250.9 172C254.7 171.1 263.1 170.4 267.1 170.1C271.2 169.8 272.1 169.6 275.3 170.1C278.4 170.5 282.7 171 286.1 172.8C289.4 174.6 292.6 179.5 295.5 180.9C298.5 182.3 300.7 181.9 303.6 180.9C306.6 179.9 310.2 175.9 313.1 174.7C316 173.5 317.6 173 321.2 173.6C324.8 174.2 331.1 175.9 334.7 178.2C338.3 180.5 341 185.5 342.8 187.7C344.6 189.8 344.2 190.4 345.5 190.9C346.9 191.4 348.7 192.3 350.9 190.9C353.2 189.5 355.5 184.2 359.1 182.3C362.7 180.3 368.3 179.2 372.6 179C376.9 178.8 382.3 180.1 384.7 180.9C387.2 181.7 386.3 183.2 387.4 183.6C388.6 184.1 389.5 184.3 391.5 183.6C393.5 182.9 398.3 180.2 399.6 179.5L399.6 430L-8.6 430Z"/><g id="chh"><path d="M-2.4 193.1C-2.2 202.9 -1.3 233.7 -0.9 249.9C-0.4 266.2 -1 279.4 0.3 290.8C1.7 302.2 5.2 309.5 7.2 318.2C9.2 327 11.4 338.5 12.5 343C13.6 347.5 13.2 344.6 13.8 345.1C14.3 345.7 15.1 346.1 15.9 346.3C16.7 346.5 17.6 346.5 18.3 346.3C19.1 346.1 19.9 345.6 20.4 345.1C21 344.5 21.4 343.7 21.6 342.9C21.8 342.2 23 344.9 21.6 340.5C20.2 336.1 15.9 325 13.4 316.6C11 308.2 8.1 301.1 6.8 290C5.4 278.9 5.7 265.9 5.3 249.8C4.8 233.6 4.4 202.7 4.1 193C3.8 183.3 3.9 191.8 3.6 191.4C3.3 190.9 2.9 190.5 2.4 190.2C1.9 190 1.3 189.8 0.8 189.8C0.2 189.8 -0.4 190 -0.8 190.3C-1.3 190.6 -1.7 191 -2 191.5C-2.2 192 -2.6 183.4 -2.4 193.1Z"/><path d="M23.4 170.2C23.6 173.7 24.6 185.1 24.8 190.5C25 196 24.7 200.6 24.8 202.9C24.9 205.2 25.1 203.9 25.4 204.4C25.7 204.8 26.2 205.2 26.6 205.4C27.1 205.6 27.7 205.7 28.2 205.6C28.7 205.5 29.3 205.3 29.7 205C30.1 204.7 30.5 204.2 30.7 203.8C30.9 203.3 31.4 204.4 31 202.2C30.6 199.9 28.9 195.6 28.3 190.2C27.6 184.8 27.2 173.5 26.9 170C26.6 166.5 26.8 169.4 26.6 169.1C26.5 168.9 26.2 168.7 26 168.5C25.7 168.4 25.4 168.3 25.1 168.3C24.8 168.4 24.5 168.5 24.2 168.6C24 168.8 23.7 169.1 23.6 169.3C23.5 169.6 23.2 166.7 23.4 170.2Z"/><path d="M58.4 188.9C57.2 194.7 54.5 211.9 52.5 221.9C50.4 232 48 235.7 45.9 249.3C43.9 262.9 41.7 289 40.2 303.6C38.8 318.2 37.6 330.7 37.2 336.7C36.8 342.6 37.4 338.6 37.9 339.5C38.3 340.3 39 341.1 39.8 341.6C40.6 342.1 41.6 342.4 42.5 342.4C43.4 342.4 44.5 342.2 45.3 341.8C46.1 341.4 46.9 340.6 47.4 339.8C47.9 339.1 48.2 343.1 48.3 337.1C48.4 331.2 47.2 318.7 48 304.2C48.8 289.8 51.1 263.8 53.1 250.4C55.1 237 57.7 233.6 60.1 223.7C62.5 213.7 66.4 196.7 67.7 190.8C68.9 184.9 67.8 189.1 67.5 188.3C67.3 187.6 66.7 186.8 66.2 186.3C65.6 185.8 64.7 185.4 64 185.2C63.2 185 62.3 185.1 61.5 185.3C60.8 185.6 60 186.1 59.5 186.7C59 187.3 59.6 183 58.4 188.9Z"/><path d="M77 191.3C77.1 201.3 77.6 233.4 78.1 249.9C78.5 266.5 79.1 283.4 79.4 290.5C79.7 297.6 79.6 291.9 80 292.5C80.3 293 80.9 293.5 81.5 293.8C82 294.1 82.8 294.3 83.4 294.3C84.1 294.3 84.8 294 85.4 293.7C85.9 293.4 86.4 292.8 86.8 292.2C87.1 291.7 87.4 297.3 87.2 290.3C87.1 283.2 86.4 266.3 85.9 249.7C85.4 233.2 84.6 201.2 84.2 191.1C83.9 181 84 189.8 83.7 189.3C83.4 188.8 82.9 188.3 82.3 188C81.8 187.7 81.1 187.5 80.5 187.5C79.9 187.6 79.2 187.8 78.7 188.1C78.2 188.4 77.7 188.9 77.4 189.4C77.1 190 76.9 181.2 77 191.3Z"/><path d="M79.4 289.1C77.7 292.5 72.5 302.3 69.9 308.2C67.3 314.1 64.9 321.6 63.9 324.6C62.9 327.5 63.7 325.6 63.8 326C63.8 326.5 64.1 327 64.4 327.3C64.7 327.7 65.1 328 65.6 328.2C66 328.3 66.6 328.4 67 328.3C67.5 328.2 68 328 68.4 327.7C68.7 327.4 68.1 329.4 69.2 326.5C70.3 323.6 72.5 316.3 75.1 310.4C77.6 304.6 82.9 295 84.5 291.7C86.1 288.3 84.8 290.7 84.8 290.2C84.7 289.7 84.6 289.2 84.3 288.8C84.1 288.4 83.6 288.1 83.2 287.9C82.8 287.7 82.3 287.5 81.8 287.6C81.3 287.6 80.8 287.8 80.4 288C80 288.3 81.2 285.8 79.4 289.1Z"/><path d="M81 290.6C81.3 294.9 82.7 307.7 82.9 315C83.2 322.3 82.6 330.9 82.7 334.5C82.7 338.2 83 336.2 83.5 336.8C83.9 337.5 84.6 338.1 85.3 338.4C86 338.8 86.9 338.9 87.7 338.9C88.5 338.8 89.3 338.5 90 338.1C90.6 337.7 91.3 337 91.6 336.3C91.9 335.5 92.5 337.5 92.1 333.9C91.6 330.2 90 321.8 89.1 314.5C88.2 307.2 87.1 294.4 86.7 290.1C86.2 285.9 86.4 289.2 86.2 288.8C85.9 288.4 85.5 288 85 287.8C84.6 287.6 84.1 287.5 83.6 287.6C83.1 287.6 82.6 287.8 82.2 288.1C81.8 288.3 81.5 288.8 81.3 289.2C81.1 289.6 80.8 286.3 81 290.6Z"/><path d="M60.5 337.4a3.9 3.9 0 1 0 7.8 0a3.9 3.9 0 1 0 -7.8 0Z"/><path d="M105.6 190.3C105.5 192.7 105.7 199.2 105.4 203.8C105 208.4 103.7 215.4 103.5 218C103.2 220.7 103.6 219.1 103.8 219.5C104 219.9 104.3 220.3 104.7 220.6C105.1 220.8 105.7 221 106.1 221C106.6 221.1 107.1 220.9 107.6 220.7C108 220.5 108.4 220.1 108.6 219.8C108.9 219.4 109.1 221 109.1 218.4C109.1 215.7 108.7 208.6 108.8 204C108.9 199.3 109.6 192.9 109.6 190.4C109.7 188 109.6 189.7 109.4 189.4C109.3 189.1 109 188.8 108.7 188.7C108.4 188.5 108.1 188.4 107.7 188.4C107.4 188.3 107 188.4 106.7 188.6C106.4 188.7 106.1 189 105.9 189.3C105.8 189.6 105.7 187.9 105.6 190.3Z"/><path d="M115.6 190.8C115.3 200.9 114.9 230.9 114.3 249.8C113.7 268.6 112.9 289.5 112.1 303.8C111.3 318.1 109.8 329.9 109.4 335.7C109.1 341.4 109.6 337.5 110 338.2C110.4 338.9 111.1 339.6 111.8 340.1C112.5 340.5 113.4 340.8 114.3 340.8C115.1 340.8 116 340.6 116.8 340.2C117.5 339.8 118.2 339.1 118.6 338.4C119.1 337.7 119.4 341.7 119.4 335.9C119.3 330.2 118.2 318.3 118.3 304C118.4 289.7 119.4 268.8 119.9 249.9C120.4 231.1 121.1 201 121.3 191C121.4 180.9 121.2 190 120.9 189.5C120.7 189.1 120.3 188.7 119.9 188.5C119.5 188.2 119 188.1 118.5 188.1C118 188.1 117.5 188.2 117.1 188.4C116.7 188.7 116.3 189 116 189.4C115.8 189.8 115.9 180.8 115.6 190.8Z"/><path d="M140.5 191.8C140.6 201.8 141.3 231.2 141.6 249.9C141.9 268.6 141.9 294.6 142.1 304C142.3 313.4 142.4 305.7 142.8 306.4C143.2 307 143.9 307.7 144.6 308C145.3 308.4 146.2 308.6 147 308.6C147.7 308.6 148.6 308.3 149.3 307.9C150 307.5 150.6 306.9 151 306.2C151.4 305.5 151.8 313.2 151.6 303.8C151.3 294.4 150 268.4 149.4 249.7C148.8 231.1 148.1 201.6 147.8 191.6C147.4 181.6 147.6 190.3 147.2 189.8C146.9 189.3 146.4 188.8 145.9 188.5C145.3 188.2 144.7 188.1 144 188.1C143.4 188.1 142.8 188.3 142.2 188.6C141.7 188.9 141.2 189.4 140.9 190C140.7 190.5 140.4 181.8 140.5 191.8Z"/><path d="M142.8 306.4C141.7 308.2 138.4 314.1 137.4 315.9C136.4 317.7 137 316.9 137 317.4C137 318 137.1 318.5 137.4 319C137.7 319.4 138.1 319.9 138.5 320.1C139 320.4 139.6 320.5 140.1 320.5C140.6 320.5 141.2 320.4 141.6 320.1C142.1 319.8 141.7 320.7 142.8 319C143.9 317.2 147.2 311.3 148.2 309.5C149.1 307.7 148.6 308.5 148.6 307.9C148.6 307.4 148.4 306.8 148.2 306.4C147.9 306 147.5 305.5 147 305.3C146.6 305 146 304.9 145.5 304.9C145 304.9 144.4 305 143.9 305.3C143.5 305.5 143.9 304.7 142.8 306.4Z"/><path d="M145 309.2C146.1 312.4 150.2 322.1 151.2 326.6C152.1 331.1 150.7 334.2 150.8 336.2C150.9 338.2 151.2 337.9 151.6 338.6C152.1 339.3 152.9 340 153.6 340.3C154.4 340.7 155.3 340.8 156.2 340.8C157 340.7 157.9 340.4 158.6 339.9C159.3 339.4 159.9 338.7 160.3 338C160.6 337.2 161 337.7 160.7 335.4C160.5 333.2 160.3 329.3 158.7 324.5C157.1 319.7 152.7 309.9 151.3 306.8C149.9 303.6 150.7 305.7 150.3 305.3C149.9 305 149.3 304.7 148.7 304.6C148.2 304.6 147.5 304.6 147 304.8C146.5 305 145.9 305.4 145.6 305.8C145.2 306.3 145 306.9 144.9 307.4C144.8 308 144 306 145 309.2Z"/><path d="M132.9 330.4a3.6 3.6 0 1 0 7.3 0a3.6 3.6 0 1 0 -7.3 0Z"/><path d="M167.9 195.5C169.2 200.5 174 214.2 175.4 223.3C176.8 232.4 176 245.2 176.2 249.8C176.4 254.5 176.3 250.9 176.6 251.4C176.9 251.8 177.3 252.3 177.7 252.5C178.2 252.8 178.8 252.9 179.3 252.9C179.8 252.9 180.4 252.8 180.8 252.5C181.3 252.3 181.7 251.8 182 251.4C182.2 250.9 182.2 254.7 182.4 249.8C182.6 245 184.2 231.7 183.2 222.3C182.1 212.9 177.4 198.5 176 193.4C174.7 188.2 175.4 192 175 191.5C174.5 191 173.8 190.6 173.1 190.4C172.4 190.2 171.6 190.2 170.9 190.4C170.3 190.5 169.6 190.9 169.1 191.4C168.6 191.9 168.1 192.6 168 193.3C167.8 194 166.7 190.5 167.9 195.5Z"/><path d="M175.1 249.7C174.8 256.8 173.6 276.8 173.8 290.4C173.9 304 175.5 322.6 176.2 331.3C176.9 339.9 177.7 340.1 178.2 342.2C178.7 344.3 178.7 343.5 179.2 344C179.7 344.4 180.3 344.8 181 345C181.6 345.2 182.3 345.2 183 345C183.6 344.8 184.3 344.4 184.7 344C185.2 343.5 185.6 342.9 185.7 342.2C185.9 341.6 186.3 342.2 185.8 340.2C185.2 338.3 183.4 338.9 182.4 330.6C181.3 322.3 179.7 303.8 179.4 290.3C179.1 276.9 180.6 256.9 180.7 249.9C180.9 243 180.6 248.9 180.4 248.5C180.2 248.1 179.8 247.7 179.4 247.4C179 247.2 178.5 247 178 247C177.6 247 177 247.1 176.6 247.3C176.2 247.6 175.8 247.9 175.5 248.3C175.3 248.7 175.4 242.7 175.1 249.7Z"/><path d="M177.9 250.6C179.7 257.5 185.8 277.5 189 291C192.1 304.5 195.1 323 196.8 331.6C198.5 340.1 198.5 340.3 199.1 342.4C199.6 344.5 199.7 343.7 200.2 344.1C200.6 344.5 201.3 344.9 202 345C202.6 345.2 203.4 345.1 204 344.9C204.6 344.7 205.2 344.3 205.7 343.9C206.1 343.4 206.5 342.7 206.6 342.1C206.8 341.4 207.2 342 206.5 340C205.8 338.1 204.4 338.7 202.3 330.3C200.2 322 197.1 303.3 193.9 289.8C190.8 276.3 185.2 256.1 183.4 249.1C181.5 242.1 183 248.2 182.6 247.8C182.3 247.5 181.8 247.2 181.4 247.1C180.9 247 180.4 247 179.9 247.1C179.4 247.2 179 247.5 178.6 247.8C178.3 248.2 178 248.6 177.9 249.1C177.8 249.6 176.1 243.6 177.9 250.6Z"/><path d="M202.7 179.6C203.9 187.1 207.7 207 209.7 223.2C211.8 239.5 213.7 257.4 215.1 277.1C216.6 296.8 217.7 330.4 218.4 341.5C219 352.5 218.7 342.9 219.1 343.5C219.4 344.1 220.1 344.6 220.7 345C221.3 345.3 222.1 345.4 222.8 345.4C223.5 345.3 224.3 345.1 224.8 344.7C225.4 344.3 226 343.7 226.3 343.1C226.6 342.4 227.4 352 226.7 341C226 329.9 223.5 296.4 221.8 276.6C220.1 256.8 218.4 238.7 216.4 222.4C214.4 206 211.1 186.1 209.9 178.5C208.7 170.8 209.5 177.2 209.1 176.7C208.8 176.3 208.2 175.8 207.6 175.6C207.1 175.4 206.4 175.3 205.8 175.4C205.2 175.5 204.5 175.8 204 176.2C203.6 176.6 203.1 177.1 202.9 177.7C202.7 178.3 201.6 172 202.7 179.6Z"/><path d="M237.6 175.3C237.1 180.4 235 191.7 235.7 204.1C236.3 216.6 240.1 233.5 241.3 250.1C242.6 266.8 242.7 289.7 243 304C243.2 318.3 242.6 330.3 242.7 336C242.8 341.8 243.1 338 243.6 338.8C244 339.5 244.8 340.3 245.7 340.7C246.5 341.1 247.5 341.4 248.4 341.3C249.4 341.3 250.4 341 251.2 340.5C252 340 252.7 339.2 253.1 338.4C253.5 337.5 254.1 341.3 253.7 335.6C253.3 329.8 251.4 318.1 250.8 303.8C250.1 289.4 250.7 266.2 249.7 249.6C248.6 232.9 245.3 215.9 244.5 203.6C243.8 191.3 245.3 180.7 245.4 175.7C245.4 170.7 245.2 174.3 244.9 173.7C244.6 173.1 244.1 172.6 243.6 172.2C243 171.9 242.3 171.6 241.6 171.6C241 171.6 240.2 171.7 239.7 172C239.1 172.3 238.5 172.8 238.2 173.4C237.8 173.9 238 170.2 237.6 175.3Z"/><path d="M245 334.9C244.1 335.5 241.9 337.1 241.1 337.8C240.3 338.5 240.3 338.6 240 339C239.8 339.5 239.7 340.1 239.7 340.6C239.8 341.1 239.9 341.7 240.2 342.1C240.5 342.5 241 342.9 241.4 343.2C241.9 343.4 242.5 343.5 243 343.5C243.5 343.5 243.6 343.5 244.5 343C245.5 342.5 247.8 341.1 248.7 340.5C249.6 339.9 249.6 339.7 249.9 339.2C250.1 338.7 250.3 338 250.2 337.5C250.2 336.9 250 336.3 249.7 335.8C249.4 335.4 248.9 334.9 248.4 334.7C247.9 334.4 247.2 334.3 246.6 334.3C246.1 334.4 245.9 334.3 245 334.9Z"/><path d="M247.5 340.4C248.6 341.3 251.8 343.7 253 344.4C254.1 345.2 254 345 254.6 345.1C255.1 345.2 255.8 345.1 256.3 344.8C256.8 344.6 257.3 344.2 257.7 343.8C258 343.3 258.2 342.7 258.3 342.2C258.4 341.6 258.3 340.9 258.1 340.4C257.8 339.9 258.1 340 257 339.1C255.9 338.2 252.8 335.8 251.6 335C250.4 334.2 250.5 334.4 250 334.4C249.4 334.3 248.8 334.4 248.2 334.6C247.7 334.8 247.2 335.2 246.9 335.7C246.5 336.1 246.3 336.7 246.2 337.3C246.2 337.9 246.3 338.5 246.5 339C246.7 339.5 246.5 339.5 247.5 340.4Z"/><path d="M258.4 175.6C258.5 179.1 259.2 189.4 259.5 195.9C259.7 202.4 259.8 211.1 260 214.5C260.2 217.8 260.3 215.5 260.6 216C260.9 216.4 261.3 216.8 261.8 217C262.3 217.2 262.9 217.3 263.4 217.2C263.9 217.2 264.5 217 264.9 216.7C265.3 216.4 265.7 215.9 265.9 215.4C266.1 214.9 266.7 217.1 266.2 213.8C265.7 210.5 263.6 202.1 262.9 195.6C262.3 189.2 262.5 179 262.4 175.4C262.3 171.9 262.3 174.7 262.1 174.4C261.9 174.1 261.6 173.9 261.3 173.7C261 173.6 260.6 173.5 260.3 173.5C260 173.5 259.6 173.6 259.3 173.8C259 174 258.8 174.3 258.6 174.6C258.4 174.9 258.2 172 258.4 175.6Z"/><path d="M295.4 180.6C294.8 187 292.8 205.6 292.2 217.1C291.5 228.6 292 239.8 291.6 249.7C291.2 259.6 290.5 267.6 289.7 276.5C289 285.5 288.5 294.3 287.1 303.2C285.6 312.2 282.5 323.8 281.2 330.1C279.9 336.3 279.5 338.3 279.2 340.5C279 342.7 279.3 342.5 279.6 343.3C280 344.2 280.6 345 281.3 345.6C282.1 346.2 283.1 346.6 284 346.7C284.9 346.8 286 346.7 286.8 346.3C287.7 346 288.5 345.3 289.1 344.6C289.7 343.8 289.9 344.1 290.2 341.9C290.5 339.8 290 338.1 291 331.8C291.9 325.6 294.6 313.7 295.9 304.6C297.1 295.5 298 286.3 298.6 277.2C299.2 268.1 298.9 259.9 299.4 250C299.9 240.1 300.9 229.1 301.6 217.7C302.3 206.2 303.5 187.6 303.7 181.2C304 174.8 303.6 179.7 303.3 179.1C303 178.5 302.5 177.8 301.9 177.4C301.4 177.1 300.6 176.8 299.9 176.7C299.2 176.7 298.4 176.8 297.8 177.1C297.1 177.4 296.5 178 296.1 178.6C295.7 179.1 296.1 174.2 295.4 180.6Z"/><path d="M302.7 302.6C302.8 306.6 303.3 321.6 303.5 325.6C303.7 329.6 303.7 326.3 303.8 326.6C304 326.9 304.3 327.2 304.6 327.3C304.9 327.5 305.3 327.6 305.6 327.5C306 327.5 306.3 327.4 306.6 327.2C306.9 327 307.2 326.8 307.3 326.5C307.5 326.2 307.7 329.4 307.5 325.4C307.4 321.4 306.5 306.4 306.2 302.5C305.9 298.5 306.1 301.9 305.9 301.6C305.8 301.4 305.5 301.1 305.2 301C305 300.9 304.7 300.8 304.4 300.8C304.1 300.8 303.8 300.9 303.5 301.1C303.3 301.2 303 301.5 302.9 301.8C302.8 302 302.6 298.7 302.7 302.6Z"/><path d="M302.4 339.1a3.9 3.9 0 1 0 7.8 0a3.9 3.9 0 1 0 -7.8 0Z"/><path d="M342.7 190.7C342.4 196.5 341.8 210.6 341.6 222.7C341.5 234.8 342.1 250.7 341.6 263.3C341.1 275.8 339 291.8 338.7 298.2C338.3 304.6 338.9 300.7 339.5 301.7C340 302.7 340.9 303.7 341.9 304.3C342.8 304.9 344.1 305.3 345.3 305.4C346.4 305.4 347.7 305.1 348.7 304.6C349.8 304 350.7 303.1 351.4 302.2C352 301.2 352.3 305.2 352.4 298.8C352.5 292.3 352.2 276.1 352.1 263.4C352.1 250.8 351.9 235 352.1 222.9C352.4 210.8 353.6 196.9 353.8 191.1C353.9 185.4 353.6 189.2 353.1 188.3C352.7 187.5 352 186.7 351.2 186.2C350.4 185.7 349.4 185.4 348.5 185.4C347.6 185.3 346.5 185.6 345.7 186C344.9 186.4 344.1 187.2 343.6 187.9C343.1 188.7 343 184.9 342.7 190.7Z"/><path d="M339.8 299.5C338 303.9 332.8 317.6 330.3 323.8C327.8 330 325.9 334.1 324.9 336.7C324 339.3 324.5 338.5 324.7 339.4C324.8 340.2 325.2 341.2 325.8 341.8C326.4 342.5 327.2 343.1 328 343.4C328.8 343.7 329.9 343.8 330.7 343.7C331.6 343.6 332.5 343.1 333.2 342.6C333.9 342 333.8 342.9 334.8 340.4C335.8 337.8 336.8 333.5 339.1 327.2C341.4 321 347 307.4 348.6 302.9C350.2 298.5 349 301.3 348.8 300.5C348.7 299.7 348.4 298.9 347.9 298.3C347.4 297.6 346.6 297.1 345.9 296.8C345.2 296.5 344.2 296.4 343.5 296.5C342.7 296.7 341.8 297 341.2 297.5C340.6 298 341.6 295.1 339.8 299.5Z"/><path d="M344.8 305.7C346.6 309.5 353.3 320.8 355.4 326.9C357.4 332.9 356.7 339.1 357.1 342C357.6 344.9 357.6 343.6 358.1 344.2C358.6 344.8 359.4 345.4 360.1 345.6C360.9 345.9 361.8 346 362.6 345.9C363.3 345.7 364.2 345.3 364.8 344.8C365.4 344.3 365.9 343.6 366.2 342.8C366.5 342.1 367 343.5 366.4 340.4C365.8 337.3 365.2 330.6 362.7 324.2C360.3 317.8 353.8 306.1 351.7 302.2C349.7 298.2 350.9 301 350.4 300.6C349.9 300.3 349.1 300 348.5 300C347.8 300 347.1 300.1 346.5 300.4C345.9 300.7 345.3 301.2 345 301.8C344.6 302.3 344.4 303 344.3 303.7C344.3 304.3 342.9 301.8 344.8 305.7Z"/><path d="M385.4 183.7C385.5 195 386.5 223.6 386.2 249.8C386 276.1 384.1 325.5 383.8 341.1C383.5 356.8 384 342.9 384.4 343.6C384.8 344.4 385.5 345.1 386.2 345.5C387 345.9 387.9 346.2 388.7 346.2C389.6 346.2 390.5 346 391.2 345.6C391.9 345.2 392.6 344.5 393.1 343.8C393.5 343.1 393.6 356.9 393.8 341.3C393.9 325.6 394.1 276.1 394.1 249.9C394 223.6 393.5 194.9 393.2 183.6C393 172.2 393 182.2 392.7 181.6C392.4 181 391.8 180.5 391.2 180.2C390.7 179.9 389.9 179.7 389.3 179.7C388.6 179.7 387.9 179.9 387.3 180.2C386.8 180.6 386.2 181.1 385.9 181.7C385.6 182.3 385.4 172.3 385.4 183.7Z"/></g><clipPath id="clh"><use href="#frh" transform="translate(0,-0.5)"/></clipPath><clipPath id="c0h"><use href="#frh"/></clipPath><linearGradient id="cg_h" gradientUnits="userSpaceOnUse" x1="0" y1="0" x2="0" y2="391"><stop offset="0.4348" stop-color="#545454"/><stop offset="0.5882" stop-color="#4f4f4f"/><stop offset="0.6905" stop-color="#424242"/><stop offset="0.7673" stop-color="#333333"/><stop offset="0.8440" stop-color="#292929"/><stop offset="0.9079" stop-color="#212121"/><stop offset="0.9719" stop-color="#1a1a1a"/><stop offset="1.0000" stop-color="#121212"/></linearGradient></defs><g filter="url(#cmap)"><rect x="-5" y="-5" width="401" height="401" fill="#808080"/><use href="#frh" fill="#b2b2b2" stroke="#b2b2b2" stroke-width="6" filter="url(#gb5)"/><use href="#frh" fill="#e0e0e0" stroke="#e0e0e0" stroke-width="8" filter="url(#gb25)"/><use href="#frh" fill="#ffffff" stroke="#ffffff" stroke-width="7.5" filter="url(#gb05)"/><g filter="url(#gb07)"><use href="#frh" fill="url(#cg_h)"/><g fill="#4c4c4c" filter="url(#gb2)"><ellipse cx="17.1" cy="351.1" rx="6.1" ry="9.0"/><ellipse cx="42.8" cy="347.1" rx="6.9" ry="9.0"/><ellipse cx="64.4" cy="346.0" rx="5.3" ry="9.0"/><ellipse cx="182.0" cy="349.8" rx="5.3" ry="9.0"/><ellipse cx="202.8" cy="349.8" rx="5.3" ry="9.0"/><ellipse cx="222.5" cy="350.0" rx="5.5" ry="9.0"/><ellipse cx="242.8" cy="348.1" rx="4.4" ry="9.0"/><ellipse cx="255.0" cy="349.8" rx="4.7" ry="9.0"/><ellipse cx="284.7" cy="351.4" rx="6.9" ry="9.0"/><ellipse cx="306.3" cy="347.6" rx="5.3" ry="9.0"/><ellipse cx="329.9" cy="348.4" rx="6.6" ry="9.0"/><ellipse cx="361.8" cy="350.6" rx="6.1" ry="9.0"/><ellipse cx="388.8" cy="350.8" rx="6.3" ry="9.0"/></g><use href="#chh" fill="#424242" stroke="#424242" stroke-width="7" filter="url(#gb15)" clip-path="url(#c0h)"/><use href="#chh" fill="#545454" stroke="#545454" stroke-width="3.5" filter="url(#gb07)" clip-path="url(#c0h)"/><use href="#chh" fill="#fff" clip-path="url(#clh)"/><rect x="-5" y="381" width="401" height="30" fill="#101010"/></g></g>
</svg>
<rect x="544.50" y="918.30" width="391.80" height="390.50" fill="none" stroke="#111" stroke-width="1.3"/>
<path d="M544.50 918.30v-5.5M544.50 1308.80v5.5M544.50 1308.80h-5.5M936.30 1308.80h5.5M560.17 918.30v-2.6M560.17 1308.80v2.6M544.50 1293.18h-2.6M936.30 1293.18h2.6M575.84 918.30v-2.6M575.84 1308.80v2.6M544.50 1277.56h-2.6M936.30 1277.56h2.6M591.52 918.30v-2.6M591.52 1308.80v2.6M544.50 1261.94h-2.6M936.30 1261.94h2.6M607.19 918.30v-2.6M607.19 1308.80v2.6M544.50 1246.32h-2.6M936.30 1246.32h2.6M622.86 918.30v-5.5M622.86 1308.80v5.5M544.50 1230.70h-5.5M936.30 1230.70h5.5M638.53 918.30v-2.6M638.53 1308.80v2.6M544.50 1215.08h-2.6M936.30 1215.08h2.6M654.20 918.30v-2.6M654.20 1308.80v2.6M544.50 1199.46h-2.6M936.30 1199.46h2.6M669.88 918.30v-2.6M669.88 1308.80v2.6M544.50 1183.84h-2.6M936.30 1183.84h2.6M685.55 918.30v-2.6M685.55 1308.80v2.6M544.50 1168.22h-2.6M936.30 1168.22h2.6M701.22 918.30v-5.5M701.22 1308.80v5.5M544.50 1152.60h-5.5M936.30 1152.60h5.5M716.89 918.30v-2.6M716.89 1308.80v2.6M544.50 1136.98h-2.6M936.30 1136.98h2.6M732.56 918.30v-2.6M732.56 1308.80v2.6M544.50 1121.36h-2.6M936.30 1121.36h2.6M748.24 918.30v-2.6M748.24 1308.80v2.6M544.50 1105.74h-2.6M936.30 1105.74h2.6M763.91 918.30v-2.6M763.91 1308.80v2.6M544.50 1090.12h-2.6M936.30 1090.12h2.6M779.58 918.30v-5.5M779.58 1308.80v5.5M544.50 1074.50h-5.5M936.30 1074.50h5.5M795.25 918.30v-2.6M795.25 1308.80v2.6M544.50 1058.88h-2.6M936.30 1058.88h2.6M810.92 918.30v-2.6M810.92 1308.80v2.6M544.50 1043.26h-2.6M936.30 1043.26h2.6M826.60 918.30v-2.6M826.60 1308.80v2.6M544.50 1027.64h-2.6M936.30 1027.64h2.6M842.27 918.30v-2.6M842.27 1308.80v2.6M544.50 1012.02h-2.6M936.30 1012.02h2.6M857.94 918.30v-5.5M857.94 1308.80v5.5M544.50 996.40h-5.5M936.30 996.40h5.5M873.61 918.30v-2.6M873.61 1308.80v2.6M544.50 980.78h-2.6M936.30 980.78h2.6M889.28 918.30v-2.6M889.28 1308.80v2.6M544.50 965.16h-2.6M936.30 965.16h2.6M904.96 918.30v-2.6M904.96 1308.80v2.6M544.50 949.54h-2.6M936.30 949.54h2.6M920.63 918.30v-2.6M920.63 1308.80v2.6M544.50 933.92h-2.6M936.30 933.92h2.6M936.30 918.30v-5.5M936.30 1308.80v5.5M544.50 918.30h-5.5M936.30 918.30h5.5" stroke="#222" stroke-width="1" fill="none"/>
<svg x="971.50" y="918.30" width="391.50" height="390.50" viewBox="0 0 391 391" preserveAspectRatio="none" overflow="hidden">
<rect width="391" height="391" fill="#69b35f"/>
<defs><path id="fri" d="M-8.8 25.1C-7.4 25.1 -3.7 25 -0.5 25.1C2.7 25.3 6.9 25.7 10.6 26C14.3 26.3 17.3 26.3 21.7 26.8C26.1 27.3 31.4 28 37 28.8C42.5 29.5 50.2 30.5 55 31.5C59.9 32.6 62.4 34 66.1 35.1C69.8 36.3 73.5 37 77.2 38.5C80.9 39.9 85.1 42.5 88.3 44C91.6 45.5 92 46.3 96.7 47.4C101.3 48.4 109.2 49.7 116.1 50.1C123 50.6 131.4 50.6 138.3 50.1C145.3 49.7 152.7 48.6 157.7 47.4C162.8 46.1 165.1 44.1 168.9 42.6C172.6 41.2 175.8 40.2 180 38.5C184.1 36.8 188.7 33.7 193.8 32.4C198.9 31.1 205.9 31.1 210.5 30.7C215.1 30.3 217.4 30.2 221.6 30.1C225.8 30 230.9 30.5 235.5 30.1C240.1 29.8 244.7 28.5 249.4 27.9C254 27.3 258.6 26.8 263.2 26.5C267.9 26.3 273 26.1 277.1 26.3C281.3 26.4 284.5 26.7 288.2 27.4C291.9 28 295.2 28.8 299.3 30.1C303.5 31.4 308.6 33.8 313.2 35.1C317.8 36.4 322.5 37.3 327.1 37.9C331.7 38.6 335.9 38.5 341 39C346.1 39.6 353 41.3 357.6 41.2C362.3 41.2 365.5 40.1 368.7 38.5C372 36.8 374.3 33.5 377.1 31.5C379.8 29.6 382.6 28 385.4 26.8C388.2 25.7 390.5 25 393.7 24.6C397 24.1 403 24.1 404.8 24L404.8 430L-8.8 430Z"/><g id="chi"><path d="M8.8 27.5C9 32.2 9.9 50.4 10.2 55.2C10.5 60 10.3 55.8 10.5 56.1C10.6 56.3 10.9 56.6 11.2 56.7C11.4 56.9 11.8 56.9 12.1 56.9C12.4 56.9 12.7 56.8 13 56.6C13.2 56.5 13.5 56.2 13.6 55.9C13.7 55.7 14 59.8 13.8 55C13.6 50.3 12.7 32 12.4 27.3C12.1 22.5 12.3 26.6 12.1 26.4C11.9 26.1 11.7 25.9 11.4 25.8C11.2 25.6 10.8 25.6 10.5 25.6C10.2 25.6 9.9 25.7 9.6 25.9C9.4 26 9.1 26.3 9 26.5C8.9 26.8 8.6 22.7 8.8 27.5Z"/><path d="M19.9 27.5C19.9 29 20.1 34.3 20.2 35.8C20.3 37.4 20.4 36.6 20.5 36.8C20.7 37.1 21 37.4 21.4 37.5C21.7 37.7 22.1 37.8 22.4 37.8C22.7 37.7 23.1 37.6 23.4 37.4C23.7 37.2 24 36.9 24.1 36.6C24.3 36.3 24.4 37.1 24.3 35.6C24.2 34 23.7 28.8 23.5 27.2C23.3 25.7 23.4 26.6 23.2 26.4C23 26.1 22.8 25.9 22.5 25.8C22.2 25.6 21.9 25.6 21.6 25.6C21.3 25.6 21 25.7 20.7 25.9C20.5 26 20.2 26.3 20.1 26.6C20 26.8 19.9 25.9 19.9 27.5Z"/><path d="M34.9 29.5C34.6 36.3 34.1 56.8 33.5 68.9C32.9 81 31.6 96.4 31.3 102.2C31 108 31.4 103.2 31.6 103.7C31.9 104.1 32.2 104.5 32.6 104.8C33.1 105 33.6 105.2 34.1 105.2C34.6 105.2 35.1 105.1 35.5 104.9C36 104.7 36.4 104.3 36.7 103.9C36.9 103.5 36.9 108.2 37.1 102.4C37.3 96.6 37.3 81.2 37.7 69.1C38 57 38.9 36.4 39 29.7C39.2 22.9 39 28.9 38.8 28.6C38.6 28.3 38.4 28 38.1 27.8C37.8 27.6 37.4 27.5 37.1 27.5C36.7 27.5 36.3 27.6 36 27.8C35.7 27.9 35.4 28.2 35.2 28.5C35 28.8 35.2 22.8 34.9 29.5Z"/><path d="M62.7 36.9C62.2 41.9 61.6 56.9 59.9 65.9C58.3 74.8 55.2 82.3 52.8 90.6C50.4 98.9 46.8 111.1 45.6 115.5C44.4 119.9 45.4 116.4 45.5 116.9C45.7 117.3 45.9 117.7 46.2 118C46.5 118.4 47 118.6 47.4 118.7C47.8 118.8 48.3 118.9 48.7 118.7C49.2 118.6 49.6 118.4 49.9 118.1C50.2 117.8 49.4 121.3 50.6 116.9C51.8 112.5 55.1 100.2 57.3 91.8C59.5 83.5 62.4 75.7 64 66.6C65.6 57.5 66.4 42.3 66.8 37.3C67.2 32.2 66.8 36.5 66.6 36.2C66.5 35.9 66.2 35.6 65.9 35.4C65.7 35.2 65.3 35.1 64.9 35C64.6 35 64.2 35.1 63.9 35.2C63.6 35.3 63.3 35.6 63.1 35.9C62.9 36.2 63.2 31.9 62.7 36.9Z"/><path d="M91 46.9C89.9 53.1 86.8 69.6 84.9 82.5C83 95.4 80.4 116.7 79.6 124.1C78.8 131.5 79.7 126 80.1 126.9C80.5 127.7 81.2 128.5 81.9 129C82.7 129.5 83.7 129.8 84.6 129.9C85.5 130 86.5 129.8 87.3 129.4C88.1 129 88.9 128.3 89.5 127.6C90 126.9 90 132.3 90.4 125C90.8 117.6 90.7 96.1 91.8 83.3C92.8 70.4 96 54 96.8 47.8C97.6 41.6 96.8 46.8 96.6 46.3C96.4 45.9 96.1 45.4 95.7 45.1C95.3 44.8 94.8 44.6 94.3 44.5C93.9 44.4 93.3 44.5 92.8 44.6C92.4 44.8 91.9 45.2 91.6 45.5C91.3 45.9 92.1 40.7 91 46.9Z"/><path d="M79.6 135.3C78.8 139.7 75.9 155.5 75.2 160.1C74.5 164.6 75.2 161.8 75.6 162.6C75.9 163.3 76.5 164 77.1 164.5C77.8 165 78.7 165.4 79.5 165.4C80.3 165.5 81.2 165.4 82 165.1C82.7 164.7 83.4 164.1 83.9 163.5C84.4 162.8 84.5 165.7 84.8 161.2C85.2 156.6 85.8 140.5 85.9 136C86.1 131.5 85.9 134.8 85.7 134.4C85.5 133.9 85.1 133.4 84.7 133.1C84.2 132.8 83.7 132.5 83.1 132.5C82.6 132.4 82 132.5 81.5 132.7C81 132.9 80.5 133.3 80.2 133.8C79.9 134.2 80.5 130.9 79.6 135.3Z"/><path d="M70.3 168.1C68.1 174.8 61.3 195.8 57.8 207C54.3 218.1 52 223.2 49.2 234.8C46.3 246.5 42.9 260.6 40.8 276.9C38.6 293.1 36.7 322.8 36 332.5C35.3 342.2 36.2 334.3 36.6 335.1C37 335.8 37.6 336.6 38.4 337.1C39.1 337.5 40 337.8 40.9 337.9C41.7 337.9 42.7 337.7 43.5 337.3C44.2 336.9 45 336.2 45.4 335.5C45.9 334.8 46 342.7 46.3 333C46.5 323.3 45.6 293.7 47.1 277.6C48.6 261.5 52.6 247.8 55.3 236.3C58.1 224.8 59.9 219.8 63.3 208.7C66.8 197.6 73.7 176.6 75.8 169.8C77.9 163.1 76 168.8 75.9 168.3C75.8 167.9 75.5 167.4 75.2 167C74.9 166.6 74.4 166.3 74 166.2C73.5 166 72.9 166 72.5 166.1C72 166.2 71.5 166.5 71.1 166.8C70.8 167.1 72.5 161.4 70.3 168.1Z"/><path d="M80.2 174.6C80.3 182.7 81.5 204.6 81.3 221.7C81.1 238.8 78.5 263.5 79.1 277.4C79.6 291.4 83.8 296.1 84.3 305.3C84.8 314.5 82.4 327.6 82.1 332.6C81.9 337.7 82.4 334.7 82.8 335.5C83.3 336.3 84 337.1 84.8 337.6C85.7 338.1 86.7 338.4 87.7 338.4C88.6 338.4 89.7 338.2 90.5 337.7C91.4 337.3 92.2 336.5 92.6 335.7C93.1 334.9 93.5 338 93.5 332.9C93.4 327.7 93.5 313.9 92.3 304.6C91.2 295.3 87.4 290.9 86.5 277C85.6 263.2 87.3 238.8 87.1 221.7C86.9 204.6 85.8 182.5 85.4 174.4C85.1 166.3 85.3 173.5 85 173.1C84.8 172.8 84.4 172.4 84 172.2C83.6 172 83.1 171.9 82.7 171.9C82.3 171.9 81.8 172 81.4 172.3C81 172.5 80.7 172.9 80.5 173.3C80.3 173.6 80 166.5 80.2 174.6Z"/><path d="M116.5 50.9C116.2 56.4 115.8 75.2 115.1 82.7C114.5 90.3 113 93.8 112.7 96.4C112.3 99 112.7 97.7 112.9 98.2C113.2 98.7 113.6 99.2 114.1 99.6C114.6 99.9 115.2 100.2 115.8 100.2C116.3 100.3 117 100.2 117.5 99.9C118.1 99.7 118.6 99.3 118.9 98.8C119.2 98.3 119.4 99.7 119.5 97.1C119.7 94.5 119.6 90.7 119.8 83C120.1 75.4 121 56.6 121.2 51.1C121.4 45.5 121.1 50.2 121 49.9C120.8 49.5 120.5 49.2 120.1 49C119.8 48.8 119.4 48.6 119 48.6C118.6 48.6 118.1 48.7 117.8 48.9C117.4 49.1 117.1 49.4 116.9 49.7C116.7 50 116.8 45.4 116.5 50.9Z"/><path d="M119.3 105.1C119.3 109 119.5 123.5 119.6 127.4C119.7 131.2 119.7 128.1 119.9 128.4C120.1 128.7 120.4 129 120.7 129.1C121 129.3 121.4 129.4 121.7 129.4C122.1 129.4 122.4 129.3 122.7 129.1C123 128.9 123.3 128.6 123.5 128.3C123.6 128 123.8 131.1 123.7 127.3C123.6 123.4 123.1 108.9 122.9 105.1C122.7 101.2 122.8 104.4 122.6 104.2C122.5 103.9 122.2 103.7 122 103.5C121.7 103.4 121.4 103.3 121.1 103.3C120.8 103.3 120.4 103.4 120.2 103.6C119.9 103.7 119.7 104 119.5 104.2C119.4 104.5 119.3 101.3 119.3 105.1Z"/><path d="M117.9 138.3C117.6 140.8 116.5 149.5 116.3 152.1C116 154.7 116.4 153.2 116.6 153.7C116.8 154.2 117.2 154.7 117.7 154.9C118.1 155.2 118.7 155.4 119.2 155.5C119.8 155.5 120.4 155.4 120.9 155.1C121.3 154.9 121.8 154.5 122.1 154C122.4 153.6 122.5 155.1 122.6 152.5C122.7 149.9 122.7 141.1 122.6 138.6C122.6 136 122.5 137.7 122.4 137.4C122.2 137 121.9 136.7 121.6 136.5C121.2 136.2 120.8 136.1 120.4 136.1C120 136 119.6 136.1 119.2 136.3C118.9 136.5 118.5 136.8 118.3 137.1C118.1 137.4 118.3 135.8 117.9 138.3Z"/><path d="M136.2 51C136.4 61.1 137.1 86.9 137.6 110.7C138.2 134.5 139 170.9 139.6 194C140.2 217.1 140.7 231 141.2 249.6C141.8 268.2 141.3 291.4 142.7 305.5C144 319.6 148.1 329.2 149.5 334.4C150.9 339.6 150.4 336.2 151.1 336.9C151.8 337.5 152.7 338.1 153.7 338.3C154.6 338.5 155.7 338.5 156.6 338.2C157.5 337.9 158.5 337.3 159.1 336.6C159.8 336 160.3 335 160.5 334.1C160.7 333.1 162.1 336 160.4 331.1C158.8 326.2 152.9 318.1 150.6 304.5C148.3 290.8 147.6 267.8 146.5 249.3C145.3 230.9 144.5 217 143.7 193.9C142.9 170.8 142.3 134.4 141.8 110.6C141.2 86.8 140.7 61 140.4 50.9C140.1 40.8 140.3 50.2 140.1 49.9C139.9 49.6 139.6 49.3 139.3 49.1C139 49 138.6 48.9 138.3 48.9C137.9 48.9 137.5 49 137.2 49.2C136.9 49.4 136.7 49.7 136.5 50C136.3 50.3 136.1 40.9 136.2 51Z"/><path d="M119.3 210.5C118.7 221.8 117.6 256.8 116.3 277.1C114.9 297.4 111.8 322.8 111 332.5C110.2 342.2 111.2 334.3 111.5 335.1C111.9 335.8 112.6 336.6 113.3 337.1C114 337.5 115 337.8 115.8 337.9C116.7 337.9 117.7 337.7 118.4 337.3C119.2 336.9 119.9 336.2 120.4 335.5C120.9 334.8 121 342.7 121.2 333C121.4 323.3 121 297.7 121.5 277.3C122 257 123.6 222 124 210.7C124.4 199.4 123.9 209.9 123.7 209.5C123.6 209.2 123.2 208.8 122.9 208.6C122.6 208.4 122.1 208.3 121.8 208.2C121.4 208.2 120.9 208.3 120.6 208.5C120.2 208.7 119.9 209 119.7 209.3C119.5 209.7 119.9 199.2 119.3 210.5Z"/><path d="M154.9 48.6C155.2 52.3 156.6 65.7 157.1 69.5C157.6 73.2 157.4 70.7 157.8 71.1C158.1 71.6 158.7 72 159.2 72.2C159.7 72.4 160.4 72.5 161 72.4C161.6 72.4 162.2 72.1 162.6 71.7C163.1 71.4 163.5 70.9 163.7 70.3C163.9 69.8 164.5 72.3 164 68.5C163.4 64.8 161.3 51.5 160.6 47.8C160 44.1 160.3 46.8 160 46.4C159.8 46 159.3 45.7 158.9 45.5C158.4 45.3 157.8 45.2 157.4 45.3C156.9 45.4 156.4 45.6 156 45.9C155.6 46.2 155.2 46.6 155.1 47.1C154.9 47.5 154.5 44.8 154.9 48.6Z"/><path d="M156.8 77.7C157.9 85.8 161.1 107.8 163.5 124.9C165.9 142.1 169.1 164.3 171.3 180.5C173.4 196.7 175.5 210.5 176.5 222.1C177.6 233.7 177.3 244.9 177.6 250C178 255 178.1 251.8 178.6 252.5C179.1 253.1 179.8 253.8 180.6 254.1C181.4 254.5 182.4 254.6 183.2 254.6C184.1 254.5 185 254.1 185.7 253.6C186.4 253.1 187.1 252.3 187.4 251.6C187.8 250.8 188.5 254 187.8 249C187.2 243.9 185.1 232.8 183.4 221.3C181.7 209.7 180 195.8 177.6 179.6C175.1 163.4 171.4 141.2 168.7 124.1C166 107 162.7 85 161.5 77C160.2 68.9 161.2 76.2 161 75.9C160.7 75.6 160.4 75.3 160 75.2C159.6 75 159.2 75 158.8 75C158.4 75.1 158 75.3 157.7 75.5C157.4 75.7 157.1 76.1 157 76.5C156.8 76.8 155.7 69.6 156.8 77.7Z"/><path d="M173.2 260.8C173.8 268.4 176.4 292.7 177.1 305.2C177.7 317.7 176.9 330.3 177.1 335.7C177.2 341.2 177.3 337.2 177.7 337.8C178.1 338.4 178.7 339 179.4 339.3C180 339.7 180.8 339.8 181.5 339.8C182.3 339.8 183.1 339.5 183.7 339.1C184.3 338.8 184.8 338.1 185.2 337.5C185.5 336.9 186 340.8 185.6 335.3C185.2 329.9 184.1 317.3 182.9 304.8C181.6 292.3 179.2 267.9 178.4 260.3C177.6 252.7 178.2 259.4 177.9 259C177.7 258.7 177.3 258.4 176.9 258.2C176.5 258 176 257.9 175.5 258C175.1 258 174.6 258.2 174.3 258.4C173.9 258.7 173.6 259.1 173.4 259.5C173.2 259.9 172.6 253.2 173.2 260.8Z"/><path d="M188.5 261.1C189.8 268.7 194.8 295.8 196.5 305.5C198.3 315.3 198.3 316.9 198.8 319.5C199.3 322.1 199.2 320.7 199.6 321.2C199.9 321.6 200.5 322 201.1 322.1C201.6 322.3 202.3 322.4 202.8 322.3C203.4 322.1 204 321.8 204.4 321.5C204.9 321.1 205.3 320.5 205.4 320C205.6 319.4 206.1 320.8 205.6 318.2C205 315.6 204.2 314.1 202.2 304.4C200.3 294.8 195.2 267.7 193.6 260.1C192.1 252.5 193.3 259.2 193.1 258.9C192.8 258.5 192.3 258.2 191.9 258.1C191.5 257.9 191 257.9 190.6 258C190.1 258.1 189.7 258.3 189.4 258.6C189 258.9 188.7 259.3 188.6 259.7C188.4 260.1 187.2 253.4 188.5 261.1Z"/><path d="M182.6 37.3C182.9 43.3 184.4 66 184.8 72.1C185.3 78.1 185.1 73.3 185.4 73.7C185.8 74.2 186.3 74.7 186.8 74.9C187.3 75.2 188 75.3 188.6 75.2C189.1 75.2 189.8 75 190.2 74.6C190.7 74.3 191.2 73.8 191.4 73.3C191.7 72.7 192.2 77.6 191.7 71.5C191.2 65.4 189 42.9 188.4 36.8C187.8 30.8 188.2 35.8 187.9 35.4C187.6 35 187.2 34.7 186.8 34.5C186.3 34.2 185.8 34.1 185.3 34.2C184.8 34.2 184.3 34.4 183.9 34.7C183.5 35 183.1 35.4 182.9 35.8C182.7 36.3 182.3 31.3 182.6 37.3Z"/><path d="M191.8 110.9C192.6 118.1 195.2 141.5 196.8 152.7C198.4 163.9 200.6 173.5 201.6 178C202.5 182.5 202 179.2 202.4 179.6C202.8 180 203.4 180.4 203.9 180.6C204.5 180.8 205.1 180.8 205.7 180.7C206.3 180.5 206.9 180.2 207.3 179.8C207.7 179.4 208.1 178.9 208.2 178.3C208.4 177.8 209.4 180.9 208.3 176.5C207.3 172.1 204.1 162.9 202 151.9C199.9 140.8 197 117.5 195.9 110.4C194.8 103.3 195.7 109.7 195.5 109.4C195.3 109.1 194.9 108.9 194.6 108.7C194.3 108.6 193.9 108.6 193.6 108.6C193.2 108.6 192.8 108.8 192.6 109C192.3 109.2 192.1 109.5 191.9 109.9C191.8 110.2 191 103.8 191.8 110.9Z"/><path d="M205.4 191.5C206.7 201.4 211.2 230.8 213.4 249.8C215.7 268.7 217.6 290.9 218.7 305.3C219.8 319.6 219.7 330.5 220.1 335.9C220.5 341.4 220.5 337.4 220.9 338C221.3 338.6 221.9 339.1 222.6 339.4C223.2 339.7 224.1 339.9 224.8 339.8C225.5 339.7 226.3 339.4 226.8 339C227.4 338.6 228 338 228.3 337.3C228.6 336.7 229.3 340.6 228.6 335.1C228 329.7 226.2 319 224.5 304.7C222.8 290.4 221.1 268.1 218.7 249.1C216.2 230.2 211.6 200.7 210 190.8C208.5 180.9 209.8 190 209.6 189.7C209.3 189.4 209 189.1 208.6 189C208.2 188.8 207.8 188.8 207.4 188.8C207 188.9 206.6 189.1 206.3 189.3C206 189.6 205.7 189.9 205.5 190.3C205.4 190.6 204.1 181.6 205.4 191.5Z"/><path d="M216.8 31.6C216.8 38 217.4 62.6 217.6 69C217.8 75.4 217.7 69.7 217.8 69.9C218 70.2 218.2 70.4 218.5 70.6C218.8 70.7 219.1 70.8 219.4 70.8C219.7 70.8 220 70.7 220.3 70.5C220.6 70.4 220.8 70.1 220.9 69.9C221.1 69.6 221.2 75.4 221.2 69C221.2 62.6 221 37.9 220.9 31.5C220.8 25.1 220.8 30.8 220.6 30.5C220.4 30.2 220.1 29.9 219.8 29.7C219.5 29.5 219.1 29.5 218.8 29.5C218.4 29.5 218.1 29.6 217.8 29.7C217.5 29.9 217.2 30.2 217 30.5C216.8 30.8 216.7 25.1 216.8 31.6Z"/><path d="M232.6 30.8C232.8 37.4 233.9 56.2 234 69.1C234.1 81.9 233.2 101.1 233.1 107.9C233.1 114.7 233.3 109.2 233.6 109.7C233.9 110.3 234.5 110.8 235 111.1C235.5 111.4 236.2 111.6 236.9 111.6C237.5 111.6 238.2 111.4 238.7 111.1C239.3 110.8 239.8 110.3 240.1 109.7C240.4 109.2 240.7 114.7 240.6 107.9C240.5 101.1 240.1 81.8 239.8 69C239.4 56.1 238.7 37.2 238.4 30.6C238.1 24 238.2 29.6 237.9 29.2C237.7 28.7 237.3 28.4 236.8 28.1C236.4 27.9 235.9 27.8 235.4 27.8C234.9 27.8 234.3 28 233.9 28.2C233.5 28.5 233.1 28.9 232.9 29.3C232.7 29.8 232.4 24.2 232.6 30.8Z"/><path d="M237.9 138.4C237.8 152.5 237.3 198.7 238.1 221.8C239 245 242.1 259 243.1 277.5C244.2 296 243.9 323.3 244.2 333C244.6 342.7 244.6 334.8 245.1 335.5C245.5 336.2 246.3 336.9 247 337.3C247.8 337.7 248.8 337.9 249.6 337.9C250.5 337.8 251.4 337.5 252.1 337.1C252.9 336.6 253.5 335.8 253.9 335.1C254.3 334.3 255.1 342.2 254.5 332.5C253.8 322.8 251.8 295.5 250 277C248.3 258.5 245.1 244.7 243.9 221.6C242.8 198.5 243.3 152.5 243.1 138.4C242.9 124.3 243 137.5 242.7 137.1C242.5 136.7 242.2 136.3 241.8 136.1C241.4 135.9 240.9 135.8 240.5 135.8C240 135.8 239.5 135.9 239.1 136.1C238.8 136.4 238.4 136.7 238.2 137.1C238 137.5 237.9 124.3 237.9 138.4Z"/><path d="M257 27.5C257.5 34.2 259.5 59.7 260.1 66.4C260.6 73 260.2 67 260.4 67.2C260.5 67.5 260.8 67.7 261.1 67.8C261.3 68 261.7 68 262 68C262.3 68 262.6 67.9 262.9 67.7C263.1 67.5 263.3 67.3 263.5 67C263.6 66.7 264 72.7 263.6 66.1C263.3 59.5 261.6 33.9 261.1 27.2C260.7 20.6 261 26.5 260.8 26.2C260.6 25.9 260.3 25.7 260 25.5C259.7 25.3 259.3 25.3 258.9 25.3C258.6 25.3 258.2 25.5 257.9 25.6C257.6 25.8 257.4 26.1 257.2 26.5C257.1 26.8 256.5 20.9 257 27.5Z"/><path d="M278.1 27.2C277.6 33.4 275.8 57.1 275.3 63.3C274.9 69.5 275.4 64 275.5 64.2C275.6 64.5 275.9 64.8 276.1 64.9C276.4 65.1 276.7 65.2 277 65.2C277.3 65.3 277.6 65.2 277.9 65.1C278.2 64.9 278.4 64.7 278.6 64.5C278.8 64.2 278.4 69.8 278.9 63.6C279.4 57.4 281.3 33.7 281.7 27.5C282.1 21.3 281.6 26.9 281.5 26.6C281.4 26.3 281.2 26.1 280.9 25.9C280.7 25.7 280.3 25.6 280 25.6C279.7 25.6 279.4 25.6 279.1 25.7C278.9 25.9 278.6 26.1 278.4 26.3C278.3 26.6 278.6 21.1 278.1 27.2Z"/><path d="M310 35.5C309.4 43.6 309 65.4 307 82.5C305 99.6 300.1 119.5 298.1 138C296.2 156.5 296.3 175.2 295.3 193.7C294.3 212.3 293 233.1 292 249.2C291 265.3 291.4 276.8 289.3 290.5C287.1 304.2 281 324.2 279.3 331.5C277.7 338.9 279.2 333.8 279.5 334.7C279.9 335.7 280.6 336.7 281.3 337.4C282.1 338.1 283.2 338.7 284.2 338.9C285.2 339.1 286.5 339 287.5 338.7C288.4 338.3 289.4 337.6 290.1 336.9C290.8 336.1 290.2 341.5 291.6 334C292.9 326.4 296.7 305.8 298.3 291.7C299.9 277.7 300.3 266 301.1 249.7C302 233.5 302.5 212.6 303.3 194.1C304.2 175.7 304.3 157.3 306.1 138.8C307.9 120.3 312.2 100.4 313.9 83.3C315.6 66.1 316 44 316.4 35.9C316.8 27.7 316.3 34.7 316.1 34.3C315.8 33.8 315.4 33.3 315 33C314.5 32.7 313.9 32.5 313.4 32.5C312.9 32.5 312.3 32.6 311.8 32.8C311.3 33.1 310.8 33.5 310.6 33.9C310.3 34.4 310.6 27.4 310 35.5Z"/><path d="M354.5 41C353.9 48.2 352.1 70.2 351.4 82.7C350.7 95.2 350.2 110.2 350 116.1C349.9 122.1 350.2 117.7 350.6 118.3C350.9 118.9 351.5 119.5 352.1 119.9C352.7 120.3 353.5 120.5 354.2 120.5C354.9 120.5 355.8 120.3 356.4 120C357 119.6 357.6 119 358 118.4C358.4 117.8 358.5 122.2 358.6 116.3C358.6 110.4 357.9 95.5 358.3 83C358.7 70.6 360.4 48.7 360.8 41.5C361.2 34.3 360.7 40.3 360.5 39.8C360.3 39.4 359.8 38.9 359.4 38.6C359 38.3 358.4 38.1 357.8 38.1C357.3 38 356.7 38.2 356.2 38.4C355.8 38.6 355.3 39 355 39.5C354.7 39.9 355.1 33.8 354.5 41Z"/><path d="M347 124.3C346 133.8 342.5 161.4 342 180C341.4 198.5 344 217.1 343.9 235.6C343.8 254.1 341.5 279.4 341.1 291C340.8 302.7 341.4 302.7 341.7 305.6C342 308.5 342.2 307.8 342.9 308.6C343.5 309.5 344.4 310.2 345.4 310.7C346.3 311.1 347.5 311.3 348.5 311.2C349.6 311.1 350.7 310.7 351.6 310C352.4 309.4 353.2 308.5 353.6 307.6C354 306.6 354.4 307.1 354.1 304.4C353.8 301.6 352 302.6 351.9 291.2C351.8 279.7 353.7 254.1 353.6 235.6C353.5 217.1 351 198.6 351.1 180.1C351.2 161.7 353.9 134.3 354.4 124.8C354.9 115.3 354.3 123.5 354.1 122.9C353.8 122.3 353.3 121.8 352.8 121.4C352.3 121.1 351.6 120.9 351 120.8C350.4 120.8 349.6 120.9 349.1 121.2C348.5 121.4 348 121.9 347.6 122.4C347.3 122.9 347.9 114.7 347 124.3Z"/><path d="M342.2 302.8C339.5 307.7 330.1 325.2 327.6 330.2C325 335.3 326.9 332.1 327 333.1C327 334 327.4 335.1 327.9 335.9C328.4 336.7 329.3 337.4 330.1 337.8C331 338.3 332 338.5 333 338.4C333.9 338.4 335 338 335.8 337.5C336.6 337 335.2 340.3 337.7 335.3C340.2 330.2 348.6 312.3 350.9 307.2C353.1 302.1 351.4 305.5 351.4 304.7C351.3 303.9 351 303 350.6 302.3C350.1 301.6 349.4 301 348.7 300.7C348 300.3 347 300.1 346.2 300.1C345.4 300.2 344.5 300.5 343.9 300.9C343.2 301.4 344.9 297.9 342.2 302.8Z"/><path d="M345.5 306.4C347.3 311.8 353.9 331.7 355.9 337.2C357.8 342.7 356.7 338.7 357.3 339.2C357.9 339.8 358.8 340.2 359.6 340.3C360.4 340.4 361.3 340.4 362.1 340.1C362.8 339.8 363.6 339.3 364.1 338.6C364.6 338 365 337.2 365.2 336.4C365.3 335.6 367 339.3 365 333.9C362.9 328.4 355.3 308.9 353.1 303.6C350.9 298.3 352.4 302.3 351.9 301.9C351.4 301.5 350.7 301.1 350 301C349.3 300.9 348.6 301 347.9 301.2C347.3 301.4 346.7 301.9 346.2 302.4C345.8 302.9 345.5 303.6 345.4 304.3C345.2 304.9 343.8 300.9 345.5 306.4Z"/><path d="M366.2 41.8C367.5 48.9 371.8 69 374.5 83.4C377.2 97.7 380.9 120.2 382.3 127.9C383.7 135.6 382.6 129 383 129.4C383.3 129.8 383.8 130.1 384.3 130.3C384.8 130.5 385.5 130.5 386 130.4C386.5 130.3 387.1 130.1 387.5 129.7C387.9 129.4 388.2 128.9 388.4 128.4C388.6 127.9 390 134.4 388.5 126.7C387.1 119.1 382.5 96.7 379.6 82.4C376.8 68.1 372.8 47.9 371.3 40.7C369.8 33.6 371 39.8 370.7 39.5C370.4 39.2 370 38.9 369.6 38.8C369.2 38.6 368.7 38.6 368.2 38.7C367.8 38.8 367.3 39 367 39.3C366.7 39.6 366.4 40 366.3 40.4C366.1 40.8 364.8 34.6 366.2 41.8Z"/><path d="M384.7 299.4C384.5 306.7 383.9 333.8 383.9 341.1C383.8 348.4 384.1 342.6 384.5 343.2C384.8 343.8 385.4 344.4 386 344.8C386.6 345.2 387.5 345.4 388.2 345.4C388.9 345.4 389.7 345.2 390.3 344.8C390.9 344.4 391.5 343.8 391.9 343.2C392.2 342.6 392.5 348.4 392.5 341.1C392.4 333.8 391.8 306.7 391.6 299.4C391.4 292.2 391.5 298.2 391.2 297.7C390.9 297.2 390.4 296.7 389.9 296.4C389.4 296.1 388.7 296 388.2 296C387.6 296 386.9 296.1 386.4 296.4C385.9 296.7 385.5 297.2 385.2 297.7C384.9 298.2 384.9 292.2 384.7 299.4Z"/><path d="M-1.2 199.6C-1.1 208.2 0 234.2 -0.1 249.5C-0.2 264.7 -1.5 283.7 -1.7 291C-1.9 298.2 -1.6 292.4 -1.3 293C-1 293.6 -0.4 294.2 0.2 294.5C0.7 294.9 1.5 295.1 2.1 295.1C2.8 295.1 3.6 295 4.2 294.6C4.8 294.3 5.3 293.8 5.7 293.2C6 292.7 6 298.5 6.3 291.2C6.6 283.9 7.5 264.8 7.4 249.5C7.3 234.2 6.1 208 5.7 199.4C5.4 190.8 5.5 198.2 5.2 197.7C4.9 197.2 4.4 196.7 3.9 196.4C3.4 196.2 2.8 196 2.2 196C1.6 196 1 196.2 0.5 196.5C-0 196.8 -0.5 197.3 -0.8 197.8C-1 198.4 -1.3 191 -1.2 199.6Z"/><path d="M13 339.7a4.6 4.6 0 1 0 9.1 0a4.6 4.6 0 1 0 -9.1 0Z"/><path d="M12.7 324.4a2.9 2.9 0 1 0 5.8 0a2.9 2.9 0 1 0 -5.8 0Z"/><path d="M10.5 305.6C10.8 307 11.8 311.1 12.2 312.4C12.6 313.8 12.5 313.3 12.8 313.7C13.1 314 13.5 314.3 13.9 314.4C14.3 314.6 14.9 314.6 15.3 314.5C15.7 314.4 16.2 314.2 16.5 313.9C16.8 313.6 17.1 313.2 17.3 312.8C17.4 312.4 17.5 312.8 17.3 311.4C17.2 310 16.5 305.8 16.2 304.4C15.9 303 15.9 303.4 15.6 303.1C15.2 302.7 14.8 302.4 14.3 302.2C13.9 302.1 13.3 302 12.8 302.1C12.3 302.2 11.8 302.5 11.5 302.8C11.1 303.1 10.8 303.6 10.6 304.1C10.5 304.5 10.3 304.2 10.5 305.6Z"/><path d="M62.1 336.9a4 4 0 1 0 8 0a4 4 0 1 0 -8 0Z"/><path d="M64.3 321.6a3.2 3.2 0 1 0 6.4 0a3.2 3.2 0 1 0 -6.4 0Z"/><path d="M73.5 303.9C74 303.2 74.9 301.6 75.2 300.9C75.6 300.2 75.6 300.1 75.7 299.7C75.7 299.2 75.6 298.7 75.5 298.3C75.3 297.9 74.9 297.5 74.6 297.3C74.2 297 73.7 296.9 73.3 296.8C72.9 296.8 72.4 296.9 72 297.1C71.6 297.2 71.5 297.3 70.9 297.9C70.4 298.5 69.2 299.9 68.7 300.5C68.3 301.2 68.3 301.5 68.2 302C68.2 302.4 68.3 303 68.5 303.4C68.7 303.9 69.1 304.3 69.5 304.6C69.9 304.9 70.4 305.1 70.9 305.1C71.4 305.1 71.9 305 72.4 304.8C72.8 304.6 73 304.5 73.5 303.9Z"/><path d="M132.9 330a4 4 0 1 0 8 0a4 4 0 1 0 -8 0Z"/><path d="M199 336.9a4.6 4.6 0 1 0 9.1 0a4.6 4.6 0 1 0 -9.1 0Z"/><path d="M198.7 318.9a3.5 3.5 0 1 0 6.9 0a3.5 3.5 0 1 0 -6.9 0Z"/><path d="M302.8 338.3a3.5 3.5 0 1 0 6.9 0a3.5 3.5 0 1 0 -6.9 0Z"/><path d="M303.1 322.2a3.2 3.2 0 1 0 6.4 0a3.2 3.2 0 1 0 -6.4 0Z"/><path d="M302.3 307.8a3.2 3.2 0 1 0 6.4 0a3.2 3.2 0 1 0 -6.4 0Z"/><path d="M382.8 138.5C382.9 152.6 383.6 207.6 383.9 221.7C384.1 235.9 384 222.8 384.3 223.2C384.5 223.6 385 224 385.4 224.2C385.8 224.5 386.3 224.6 386.8 224.6C387.3 224.6 387.9 224.4 388.3 224.2C388.7 223.9 389.1 223.5 389.3 223.1C389.6 222.7 389.9 235.8 389.7 221.7C389.5 207.5 388.4 152.5 388 138.4C387.7 124.3 387.9 137.4 387.6 137.1C387.4 136.7 387.1 136.3 386.7 136.1C386.3 135.9 385.8 135.8 385.4 135.8C384.9 135.8 384.4 135.9 384 136.2C383.7 136.4 383.3 136.8 383.1 137.1C382.9 137.5 382.6 124.4 382.8 138.5Z"/><path d="M11.3 66.2a2.1 2.1 0 1 0 4.1 0a2.1 2.1 0 1 0 -4.1 0Z"/><path d="M12.3 75.3a2.1 2.1 0 1 0 4.1 0a2.1 2.1 0 1 0 -4.1 0Z"/><path d="M13.3 84.4a2.1 2.1 0 1 0 4.1 0a2.1 2.1 0 1 0 -4.1 0Z"/><path d="M14.4 93.4a2.1 2.1 0 1 0 4.1 0a2.1 2.1 0 1 0 -4.1 0Z"/><path d="M15.4 102.5a2.1 2.1 0 1 0 4.1 0a2.1 2.1 0 1 0 -4.1 0Z"/><path d="M16.4 111.6a2.1 2.1 0 1 0 4.1 0a2.1 2.1 0 1 0 -4.1 0Z"/><path d="M17.4 120.6a2.1 2.1 0 1 0 4.1 0a2.1 2.1 0 1 0 -4.1 0Z"/><path d="M18.4 129.7a2.1 2.1 0 1 0 4.1 0a2.1 2.1 0 1 0 -4.1 0Z"/><path d="M19.5 138.8a2.1 2.1 0 1 0 4.1 0a2.1 2.1 0 1 0 -4.1 0Z"/><path d="M20.5 147.9a2.1 2.1 0 1 0 4.1 0a2.1 2.1 0 1 0 -4.1 0Z"/><path d="M21.5 156.9a2.1 2.1 0 1 0 4.1 0a2.1 2.1 0 1 0 -4.1 0Z"/><path d="M22.5 166a2.1 2.1 0 1 0 4.1 0a2.1 2.1 0 1 0 -4.1 0Z"/><path d="M23.5 175.1a2.1 2.1 0 1 0 4.1 0a2.1 2.1 0 1 0 -4.1 0Z"/><path d="M24.5 184.1a2.1 2.1 0 1 0 4.1 0a2.1 2.1 0 1 0 -4.1 0Z"/><path d="M25.6 193.2a2.1 2.1 0 1 0 4.1 0a2.1 2.1 0 1 0 -4.1 0Z"/><path d="M26.6 202.3a2.1 2.1 0 1 0 4.1 0a2.1 2.1 0 1 0 -4.1 0Z"/><path d="M59.9 77.3a2.1 2.1 0 1 0 4.1 0a2.1 2.1 0 1 0 -4.1 0Z"/><path d="M56.9 86.6a2.1 2.1 0 1 0 4.1 0a2.1 2.1 0 1 0 -4.1 0Z"/><path d="M53.9 95.8a2.1 2.1 0 1 0 4.1 0a2.1 2.1 0 1 0 -4.1 0Z"/><path d="M50.9 105.1a2.1 2.1 0 1 0 4.1 0a2.1 2.1 0 1 0 -4.1 0Z"/><path d="M47.9 114.4a2.1 2.1 0 1 0 4.1 0a2.1 2.1 0 1 0 -4.1 0Z"/><path d="M44.9 123.6a2.1 2.1 0 1 0 4.1 0a2.1 2.1 0 1 0 -4.1 0Z"/><path d="M41.8 132.9a2.1 2.1 0 1 0 4.1 0a2.1 2.1 0 1 0 -4.1 0Z"/><path d="M73.8 105.1a2.1 2.1 0 1 0 4.1 0a2.1 2.1 0 1 0 -4.1 0Z"/><path d="M69.3 115.1a2.1 2.1 0 1 0 4.1 0a2.1 2.1 0 1 0 -4.1 0Z"/><path d="M64.9 125.1a2.1 2.1 0 1 0 4.1 0a2.1 2.1 0 1 0 -4.1 0Z"/><path d="M60.4 135.1a2.1 2.1 0 1 0 4.1 0a2.1 2.1 0 1 0 -4.1 0Z"/><path d="M56 145.1a2.1 2.1 0 1 0 4.1 0a2.1 2.1 0 1 0 -4.1 0Z"/><path d="M51.6 155.1a2.1 2.1 0 1 0 4.1 0a2.1 2.1 0 1 0 -4.1 0Z"/><path d="M90.4 135.6a2.1 2.1 0 1 0 4.1 0a2.1 2.1 0 1 0 -4.1 0Z"/><path d="M94.6 149.5a2.1 2.1 0 1 0 4.1 0a2.1 2.1 0 1 0 -4.1 0Z"/><path d="M111.3 163.4a2.1 2.1 0 1 0 4.1 0a2.1 2.1 0 1 0 -4.1 0Z"/><path d="M109.9 173.9a2.1 2.1 0 1 0 4.1 0a2.1 2.1 0 1 0 -4.1 0Z"/><path d="M108.5 184.5a2.1 2.1 0 1 0 4.1 0a2.1 2.1 0 1 0 -4.1 0Z"/><path d="M107.1 195a2.1 2.1 0 1 0 4.1 0a2.1 2.1 0 1 0 -4.1 0Z"/><path d="M105.7 205.6a2.1 2.1 0 1 0 4.1 0a2.1 2.1 0 1 0 -4.1 0Z"/><path d="M104.3 216.1a2.1 2.1 0 1 0 4.1 0a2.1 2.1 0 1 0 -4.1 0Z"/><path d="M119.6 166.2a2.1 2.1 0 1 0 4.1 0a2.1 2.1 0 1 0 -4.1 0Z"/><path d="M119.6 178.2a2.1 2.1 0 1 0 4.1 0a2.1 2.1 0 1 0 -4.1 0Z"/><path d="M119.6 190.2a2.1 2.1 0 1 0 4.1 0a2.1 2.1 0 1 0 -4.1 0Z"/><path d="M119.6 202.3a2.1 2.1 0 1 0 4.1 0a2.1 2.1 0 1 0 -4.1 0Z"/><path d="M164 74.6a2.1 2.1 0 1 0 4.1 0a2.1 2.1 0 1 0 -4.1 0Z"/><path d="M168.2 85.2a2.1 2.1 0 1 0 4.1 0a2.1 2.1 0 1 0 -4.1 0Z"/><path d="M172.3 95.8a2.1 2.1 0 1 0 4.1 0a2.1 2.1 0 1 0 -4.1 0Z"/><path d="M176.5 106.5a2.1 2.1 0 1 0 4.1 0a2.1 2.1 0 1 0 -4.1 0Z"/><path d="M186.2 80.1a2.1 2.1 0 1 0 4.1 0a2.1 2.1 0 1 0 -4.1 0Z"/><path d="M189 95.4a2.1 2.1 0 1 0 4.1 0a2.1 2.1 0 1 0 -4.1 0Z"/><path d="M191.8 110.6a2.1 2.1 0 1 0 4.1 0a2.1 2.1 0 1 0 -4.1 0Z"/><path d="M216.8 74.6a2.1 2.1 0 1 0 4.1 0a2.1 2.1 0 1 0 -4.1 0Z"/><path d="M216.9 84.9a2.1 2.1 0 1 0 4.1 0a2.1 2.1 0 1 0 -4.1 0Z"/><path d="M217.1 95.2a2.1 2.1 0 1 0 4.1 0a2.1 2.1 0 1 0 -4.1 0Z"/><path d="M217.3 105.5a2.1 2.1 0 1 0 4.1 0a2.1 2.1 0 1 0 -4.1 0Z"/><path d="M217.5 115.8a2.1 2.1 0 1 0 4.1 0a2.1 2.1 0 1 0 -4.1 0Z"/><path d="M217.7 126.1a2.1 2.1 0 1 0 4.1 0a2.1 2.1 0 1 0 -4.1 0Z"/><path d="M217.9 136.4a2.1 2.1 0 1 0 4.1 0a2.1 2.1 0 1 0 -4.1 0Z"/><path d="M218.1 146.7a2.1 2.1 0 1 0 4.1 0a2.1 2.1 0 1 0 -4.1 0Z"/><path d="M236.2 119a2.1 2.1 0 1 0 4.1 0a2.1 2.1 0 1 0 -4.1 0Z"/><path d="M236.9 130.8a2.1 2.1 0 1 0 4.1 0a2.1 2.1 0 1 0 -4.1 0Z"/><path d="M237.6 142.6a2.1 2.1 0 1 0 4.1 0a2.1 2.1 0 1 0 -4.1 0Z"/><path d="M238.3 154.4a2.1 2.1 0 1 0 4.1 0a2.1 2.1 0 1 0 -4.1 0Z"/><path d="M239 166.2a2.1 2.1 0 1 0 4.1 0a2.1 2.1 0 1 0 -4.1 0Z"/><path d="M241.7 107.9a2.1 2.1 0 1 0 4.1 0a2.1 2.1 0 1 0 -4.1 0Z"/><path d="M243.4 116.9a2.1 2.1 0 1 0 4.1 0a2.1 2.1 0 1 0 -4.1 0Z"/><path d="M245 125.9a2.1 2.1 0 1 0 4.1 0a2.1 2.1 0 1 0 -4.1 0Z"/><path d="M246.6 134.9a2.1 2.1 0 1 0 4.1 0a2.1 2.1 0 1 0 -4.1 0Z"/><path d="M248.2 144a2.1 2.1 0 1 0 4.1 0a2.1 2.1 0 1 0 -4.1 0Z"/><path d="M249.8 153a2.1 2.1 0 1 0 4.1 0a2.1 2.1 0 1 0 -4.1 0Z"/><path d="M251.5 162a2.1 2.1 0 1 0 4.1 0a2.1 2.1 0 1 0 -4.1 0Z"/><path d="M253.1 171a2.1 2.1 0 1 0 4.1 0a2.1 2.1 0 1 0 -4.1 0Z"/><path d="M254.7 180.1a2.1 2.1 0 1 0 4.1 0a2.1 2.1 0 1 0 -4.1 0Z"/><path d="M256.3 189.1a2.1 2.1 0 1 0 4.1 0a2.1 2.1 0 1 0 -4.1 0Z"/><path d="M257.9 198.1a2.1 2.1 0 1 0 4.1 0a2.1 2.1 0 1 0 -4.1 0Z"/><path d="M259.6 207.1a2.1 2.1 0 1 0 4.1 0a2.1 2.1 0 1 0 -4.1 0Z"/><path d="M261.2 216.1a2.1 2.1 0 1 0 4.1 0a2.1 2.1 0 1 0 -4.1 0Z"/><path d="M259.8 69a2.1 2.1 0 1 0 4.1 0a2.1 2.1 0 1 0 -4.1 0Z"/><path d="M260.5 78.3a2.1 2.1 0 1 0 4.1 0a2.1 2.1 0 1 0 -4.1 0Z"/><path d="M261.3 87.7a2.1 2.1 0 1 0 4.1 0a2.1 2.1 0 1 0 -4.1 0Z"/><path d="M262.1 97a2.1 2.1 0 1 0 4.1 0a2.1 2.1 0 1 0 -4.1 0Z"/><path d="M262.8 106.4a2.1 2.1 0 1 0 4.1 0a2.1 2.1 0 1 0 -4.1 0Z"/><path d="M263.6 115.7a2.1 2.1 0 1 0 4.1 0a2.1 2.1 0 1 0 -4.1 0Z"/><path d="M264.3 125a2.1 2.1 0 1 0 4.1 0a2.1 2.1 0 1 0 -4.1 0Z"/><path d="M265.1 134.4a2.1 2.1 0 1 0 4.1 0a2.1 2.1 0 1 0 -4.1 0Z"/><path d="M265.8 143.7a2.1 2.1 0 1 0 4.1 0a2.1 2.1 0 1 0 -4.1 0Z"/><path d="M266.6 153.1a2.1 2.1 0 1 0 4.1 0a2.1 2.1 0 1 0 -4.1 0Z"/><path d="M267.4 162.4a2.1 2.1 0 1 0 4.1 0a2.1 2.1 0 1 0 -4.1 0Z"/><path d="M268.1 171.7a2.1 2.1 0 1 0 4.1 0a2.1 2.1 0 1 0 -4.1 0Z"/><path d="M275.1 57.9a2.1 2.1 0 1 0 4.1 0a2.1 2.1 0 1 0 -4.1 0Z"/><path d="M275.5 68.1a2.1 2.1 0 1 0 4.1 0a2.1 2.1 0 1 0 -4.1 0Z"/><path d="M276 78.3a2.1 2.1 0 1 0 4.1 0a2.1 2.1 0 1 0 -4.1 0Z"/><path d="M276.4 88.4a2.1 2.1 0 1 0 4.1 0a2.1 2.1 0 1 0 -4.1 0Z"/><path d="M276.9 98.6a2.1 2.1 0 1 0 4.1 0a2.1 2.1 0 1 0 -4.1 0Z"/><path d="M277.4 108.8a2.1 2.1 0 1 0 4.1 0a2.1 2.1 0 1 0 -4.1 0Z"/><path d="M277.8 119a2.1 2.1 0 1 0 4.1 0a2.1 2.1 0 1 0 -4.1 0Z"/><path d="M291.7 57.9a2.1 2.1 0 1 0 4.1 0a2.1 2.1 0 1 0 -4.1 0Z"/><path d="M289.4 67.6a2.1 2.1 0 1 0 4.1 0a2.1 2.1 0 1 0 -4.1 0Z"/><path d="M287.1 77.3a2.1 2.1 0 1 0 4.1 0a2.1 2.1 0 1 0 -4.1 0Z"/><path d="M284.8 87.1a2.1 2.1 0 1 0 4.1 0a2.1 2.1 0 1 0 -4.1 0Z"/><path d="M282.5 96.8a2.1 2.1 0 1 0 4.1 0a2.1 2.1 0 1 0 -4.1 0Z"/><path d="M280.1 106.5a2.1 2.1 0 1 0 4.1 0a2.1 2.1 0 1 0 -4.1 0Z"/><path d="M277.8 116.2a2.1 2.1 0 1 0 4.1 0a2.1 2.1 0 1 0 -4.1 0Z"/><path d="M358.3 119a2.1 2.1 0 1 0 4.1 0a2.1 2.1 0 1 0 -4.1 0Z"/><path d="M360.4 130.1a2.1 2.1 0 1 0 4.1 0a2.1 2.1 0 1 0 -4.1 0Z"/><path d="M362.5 141.2a2.1 2.1 0 1 0 4.1 0a2.1 2.1 0 1 0 -4.1 0Z"/><path d="M364.6 152.3a2.1 2.1 0 1 0 4.1 0a2.1 2.1 0 1 0 -4.1 0Z"/><path d="M366.7 163.4a2.1 2.1 0 1 0 4.1 0a2.1 2.1 0 1 0 -4.1 0Z"/><path d="M369.4 71.8a2.1 2.1 0 1 0 4.1 0a2.1 2.1 0 1 0 -4.1 0Z"/><path d="M383.3 80.1a2.1 2.1 0 1 0 4.1 0a2.1 2.1 0 1 0 -4.1 0Z"/><path d="M308.4 132.9a2.1 2.1 0 1 0 4.1 0a2.1 2.1 0 1 0 -4.1 0Z"/><path d="M309.8 141.2a2.1 2.1 0 1 0 4.1 0a2.1 2.1 0 1 0 -4.1 0Z"/></g><clipPath id="cli"><use href="#fri" transform="translate(0,-0.5)"/></clipPath><clipPath id="c0i"><use href="#fri"/></clipPath><linearGradient id="cg_i" gradientUnits="userSpaceOnUse" x1="0" y1="0" x2="0" y2="391"><stop offset="0.1023" stop-color="#575757"/><stop offset="0.5115" stop-color="#545454"/><stop offset="0.6394" stop-color="#4c4c4c"/><stop offset="0.7417" stop-color="#383838"/><stop offset="0.8440" stop-color="#292929"/><stop offset="0.9079" stop-color="#242424"/><stop offset="0.9591" stop-color="#1a1a1a"/><stop offset="1.0000" stop-color="#121212"/></linearGradient></defs><g filter="url(#cmap)"><rect x="-5" y="-5" width="401" height="401" fill="#808080"/><use href="#fri" fill="#b2b2b2" stroke="#b2b2b2" stroke-width="6" filter="url(#gb5)"/><use href="#fri" fill="#e0e0e0" stroke="#e0e0e0" stroke-width="8" filter="url(#gb25)"/><use href="#fri" fill="#ffffff" stroke="#ffffff" stroke-width="7.5" filter="url(#gb05)"/><g filter="url(#gb07)"><use href="#fri" fill="url(#cg_i)"/><g fill="#4c4c4c" filter="url(#gb2)"><ellipse cx="388.2" cy="350.0" rx="5.6" ry="9.0"/><ellipse cx="17.5" cy="348.9" rx="5.9" ry="9.0"/><ellipse cx="66.1" cy="345.6" rx="5.4" ry="9.0"/><ellipse cx="203.6" cy="346.1" rx="5.9" ry="9.0"/><ellipse cx="306.3" cy="346.4" rx="4.8" ry="9.0"/></g><use href="#chi" fill="#4c4c4c" stroke="#4c4c4c" stroke-width="7" filter="url(#gb15)" clip-path="url(#c0i)"/><use href="#chi" fill="#5c5c5c" stroke="#5c5c5c" stroke-width="3.5" filter="url(#gb07)" clip-path="url(#c0i)"/><use href="#chi" fill="#fff" clip-path="url(#cli)"/><rect x="-5" y="381" width="401" height="30" fill="#101010"/></g></g>
</svg>
<rect x="971.50" y="918.30" width="391.50" height="390.50" fill="none" stroke="#111" stroke-width="1.3"/>
<path d="M971.50 918.30v-5.5M971.50 1308.80v5.5M971.50 1308.80h-5.5M1363.00 1308.80h5.5M987.16 918.30v-2.6M987.16 1308.80v2.6M971.50 1293.18h-2.6M1363.00 1293.18h2.6M1002.82 918.30v-2.6M1002.82 1308.80v2.6M971.50 1277.56h-2.6M1363.00 1277.56h2.6M1018.48 918.30v-2.6M1018.48 1308.80v2.6M971.50 1261.94h-2.6M1363.00 1261.94h2.6M1034.14 918.30v-2.6M1034.14 1308.80v2.6M971.50 1246.32h-2.6M1363.00 1246.32h2.6M1049.80 918.30v-5.5M1049.80 1308.80v5.5M971.50 1230.70h-5.5M1363.00 1230.70h5.5M1065.46 918.30v-2.6M1065.46 1308.80v2.6M971.50 1215.08h-2.6M1363.00 1215.08h2.6M1081.12 918.30v-2.6M1081.12 1308.80v2.6M971.50 1199.46h-2.6M1363.00 1199.46h2.6M1096.78 918.30v-2.6M1096.78 1308.80v2.6M971.50 1183.84h-2.6M1363.00 1183.84h2.6M1112.44 918.30v-2.6M1112.44 1308.80v2.6M971.50 1168.22h-2.6M1363.00 1168.22h2.6M1128.10 918.30v-5.5M1128.10 1308.80v5.5M971.50 1152.60h-5.5M1363.00 1152.60h5.5M1143.76 918.30v-2.6M1143.76 1308.80v2.6M971.50 1136.98h-2.6M1363.00 1136.98h2.6M1159.42 918.30v-2.6M1159.42 1308.80v2.6M971.50 1121.36h-2.6M1363.00 1121.36h2.6M1175.08 918.30v-2.6M1175.08 1308.80v2.6M971.50 1105.74h-2.6M1363.00 1105.74h2.6M1190.74 918.30v-2.6M1190.74 1308.80v2.6M971.50 1090.12h-2.6M1363.00 1090.12h2.6M1206.40 918.30v-5.5M1206.40 1308.80v5.5M971.50 1074.50h-5.5M1363.00 1074.50h5.5M1222.06 918.30v-2.6M1222.06 1308.80v2.6M971.50 1058.88h-2.6M1363.00 1058.88h2.6M1237.72 918.30v-2.6M1237.72 1308.80v2.6M971.50 1043.26h-2.6M1363.00 1043.26h2.6M1253.38 918.30v-2.6M1253.38 1308.80v2.6M971.50 1027.64h-2.6M1363.00 1027.64h2.6M1269.04 918.30v-2.6M1269.04 1308.80v2.6M971.50 1012.02h-2.6M1363.00 1012.02h2.6M1284.70 918.30v-5.5M1284.70 1308.80v5.5M971.50 996.40h-5.5M1363.00 996.40h5.5M1300.36 918.30v-2.6M1300.36 1308.80v2.6M971.50 980.78h-2.6M1363.00 980.78h2.6M1316.02 918.30v-2.6M1316.02 1308.80v2.6M971.50 965.16h-2.6M1363.00 965.16h2.6M1331.68 918.30v-2.6M1331.68 1308.80v2.6M971.50 949.54h-2.6M1363.00 949.54h2.6M1347.34 918.30v-2.6M1347.34 1308.80v2.6M971.50 933.92h-2.6M1363.00 933.92h2.6M1363.00 918.30v-5.5M1363.00 1308.80v5.5M971.50 918.30h-5.5M1363.00 918.30h5.5" stroke="#222" stroke-width="1" fill="none"/>
<g font-family="Liberation Serif, serif" fill="#231815">
<text x="127.0" y="33.0" font-weight="bold" font-size="26">a</text>
<text x="190.1" y="35.0" font-size="29.7">4.0×10<tspan font-size="17.5" dy="-10">4</tspan><tspan dy="10"> </tspan><tspan font-style="italic">δt</tspan> = 1.4×10<tspan font-size="17.5" dy="-10">-4</tspan><tspan dy="10"> s</tspan></text>
<text x="540.4" y="33.0" font-weight="bold" font-size="26">b</text>
<text x="599.8" y="35.0" font-size="29.7">7.0×10<tspan font-size="17.5" dy="-10">4</tspan><tspan dy="10"> </tspan><tspan font-style="italic">δt</tspan> = 2.4×10<tspan font-size="17.5" dy="-10">-4</tspan><tspan dy="10"> s</tspan></text>
<text x="971.8" y="33.0" font-weight="bold" font-size="26">c</text>
<text x="1024.7" y="35.0" font-size="29.7">1.05×10<tspan font-size="17.5" dy="-10">5</tspan><tspan dy="10"> </tspan><tspan font-style="italic">δt</tspan> = 3.7×10<tspan font-size="17.5" dy="-10">-4</tspan><tspan dy="10"> s</tspan></text>
<text x="122.1" y="471.8" font-weight="bold" font-size="26">d</text>
<text x="181.7" y="473.8" font-size="29.7">3.0×10<tspan font-size="17.5" dy="-10">4</tspan><tspan dy="10"> </tspan><tspan font-style="italic">δt</tspan> = 1.0×10<tspan font-size="17.5" dy="-10">-4</tspan><tspan dy="10"> s</tspan></text>
<text x="543.7" y="471.8" font-weight="bold" font-size="26">e</text>
<text x="601.4" y="473.8" font-size="29.7">5.0×10<tspan font-size="17.5" dy="-10">4</tspan><tspan dy="10"> </tspan><tspan font-style="italic">δt</tspan> = 1.7×10<tspan font-size="17.5" dy="-10">-4</tspan><tspan dy="10"> s</tspan></text>
<text x="972.4" y="471.6" font-weight="bold" font-size="26">f</text>
<text x="1022.4" y="472.0" font-size="29.7">7.0×10<tspan font-size="17.5" dy="-10">4</tspan><tspan dy="10"> </tspan><tspan font-style="italic">δt</tspan> = 2.4×10<tspan font-size="17.5" dy="-10">-4</tspan><tspan dy="10"> s</tspan></text>
<text x="127.0" y="907.8" font-weight="bold" font-size="26">g</text>
<text x="192.2" y="908.2" font-size="29.7">9.9×10<tspan font-size="17.5" dy="-10">4</tspan><tspan dy="10"> </tspan><tspan font-style="italic">δt</tspan> = 3.5×10<tspan font-size="17.5" dy="-10">-4</tspan><tspan dy="10"> s</tspan></text>
<text x="546.2" y="907.8" font-weight="bold" font-size="26">h</text>
<text x="601.4" y="908.2" font-size="29.7">1.50×10<tspan font-size="17.5" dy="-10">5</tspan><tspan dy="10"> </tspan><tspan font-style="italic">δt</tspan> = 5.2×10<tspan font-size="17.5" dy="-10">-4</tspan><tspan dy="10"> s</tspan></text>
<text x="972.4" y="907.8" font-weight="bold" font-size="26">i</text>
<text x="1030.7" y="907.6" font-size="29.7">2.10×10<tspan font-size="17.5" dy="-10">5</tspan><tspan dy="10"> </tspan><tspan font-style="italic">δt</tspan> = 7.3×10<tspan font-size="17.5" dy="-10">-4</tspan><tspan dy="10"> s</tspan></text>
<text transform="translate(106.5 423.80) rotate(-90)" text-anchor="middle" font-size="30.2" letter-spacing="0.8">0.0</text>
<text transform="translate(106.5 358.04) rotate(-90)" text-anchor="middle" font-size="30.2" letter-spacing="0.8">0.3</text>
<text transform="translate(106.5 279.78) rotate(-90)" text-anchor="middle" font-size="30.2" letter-spacing="0.8">0.6</text>
<text transform="translate(106.5 201.52) rotate(-90)" text-anchor="middle" font-size="30.2" letter-spacing="0.8">0.9</text>
<text transform="translate(106.5 123.26) rotate(-90)" text-anchor="middle" font-size="30.2" letter-spacing="0.8">1.2</text>
<text transform="translate(106.5 57.50) rotate(-90)" text-anchor="middle" font-size="30.2" letter-spacing="0.8">1.5</text>
<text transform="translate(106.5 859.80) rotate(-90)" text-anchor="middle" font-size="30.2" letter-spacing="0.8">0.0</text>
<text transform="translate(106.5 794.30) rotate(-90)" text-anchor="middle" font-size="30.2" letter-spacing="0.8">0.3</text>
<text transform="translate(106.5 716.30) rotate(-90)" text-anchor="middle" font-size="30.2" letter-spacing="0.8">0.6</text>
<text transform="translate(106.5 638.30) rotate(-90)" text-anchor="middle" font-size="30.2" letter-spacing="0.8">0.9</text>
<text transform="translate(106.5 560.30) rotate(-90)" text-anchor="middle" font-size="30.2" letter-spacing="0.8">1.2</text>
<text transform="translate(106.5 494.80) rotate(-90)" text-anchor="middle" font-size="30.2" letter-spacing="0.8">1.5</text>
<text transform="translate(106.5 1296.30) rotate(-90)" text-anchor="middle" font-size="30.2" letter-spacing="0.8">0.0</text>
<text transform="translate(106.5 1230.70) rotate(-90)" text-anchor="middle" font-size="30.2" letter-spacing="0.8">0.3</text>
<text transform="translate(106.5 1152.60) rotate(-90)" text-anchor="middle" font-size="30.2" letter-spacing="0.8">0.6</text>
<text transform="translate(106.5 1074.50) rotate(-90)" text-anchor="middle" font-size="30.2" letter-spacing="0.8">0.9</text>
<text transform="translate(106.5 996.40) rotate(-90)" text-anchor="middle" font-size="30.2" letter-spacing="0.8">1.2</text>
<text transform="translate(106.5 930.80) rotate(-90)" text-anchor="middle" font-size="30.2" letter-spacing="0.8">1.5</text>
<text x="138.00" y="1348.5" text-anchor="middle" font-size="29.3" letter-spacing="1.0">0.0</text>
<text x="203.66" y="1348.5" text-anchor="middle" font-size="29.3" letter-spacing="1.0">0.3</text>
<text x="281.82" y="1348.5" text-anchor="middle" font-size="29.3" letter-spacing="1.0">0.6</text>
<text x="359.98" y="1348.5" text-anchor="middle" font-size="29.3" letter-spacing="1.0">0.9</text>
<text x="438.14" y="1348.5" text-anchor="middle" font-size="29.3" letter-spacing="1.0">1.2</text>
<text x="505.30" y="1348.5" text-anchor="middle" font-size="29.3" letter-spacing="1.0">1.5</text>
<text x="557.00" y="1348.5" text-anchor="middle" font-size="29.3" letter-spacing="1.0">0.0</text>
<text x="622.86" y="1348.5" text-anchor="middle" font-size="29.3" letter-spacing="1.0">0.3</text>
<text x="701.22" y="1348.5" text-anchor="middle" font-size="29.3" letter-spacing="1.0">0.6</text>
<text x="779.58" y="1348.5" text-anchor="middle" font-size="29.3" letter-spacing="1.0">0.9</text>
<text x="857.94" y="1348.5" text-anchor="middle" font-size="29.3" letter-spacing="1.0">1.2</text>
<text x="925.30" y="1348.5" text-anchor="middle" font-size="29.3" letter-spacing="1.0">1.5</text>
<text x="984.00" y="1348.5" text-anchor="middle" font-size="29.3" letter-spacing="1.0">0.0</text>
<text x="1049.80" y="1348.5" text-anchor="middle" font-size="29.3" letter-spacing="1.0">0.3</text>
<text x="1128.10" y="1348.5" text-anchor="middle" font-size="29.3" letter-spacing="1.0">0.6</text>
<text x="1206.40" y="1348.5" text-anchor="middle" font-size="29.3" letter-spacing="1.0">0.9</text>
<text x="1284.70" y="1348.5" text-anchor="middle" font-size="29.3" letter-spacing="1.0">1.2</text>
<text x="1352.00" y="1348.5" text-anchor="middle" font-size="29.3" letter-spacing="1.0">1.5</text>
<text x="722.4" y="1401" text-anchor="middle" font-size="32" letter-spacing="0.9"><tspan font-style="italic">x</tspan> / <tspan font-style="italic">δx</tspan> (× 10<tspan font-size="19" dy="-12">3</tspan><tspan dy="12">)</tspan></text>
<text transform="translate(41 687.5) rotate(-90)" text-anchor="middle" font-size="32" letter-spacing="0.9"><tspan font-style="italic">y</tspan> / <tspan font-style="italic">δx</tspan> (× 10<tspan font-size="19" dy="-12">3</tspan><tspan dy="12">)</tspan></text>
<text x="1369.5" y="31.4" font-size="27.5" font-style="italic" textLength="40" lengthAdjust="spacingAndGlyphs">C/C</text>
<text x="1410.5" y="40" font-size="15.5">0</text>
<text x="1416.8" y="70.0" font-size="28.5" textLength="32.2" lengthAdjust="spacingAndGlyphs">1.0</text>
<text x="1416.8" y="377.4" font-size="28.5" textLength="32.2" lengthAdjust="spacingAndGlyphs">0.8</text>
<text x="1416.8" y="692.0" font-size="28.5" textLength="32.2" lengthAdjust="spacingAndGlyphs">0.6</text>
<text x="1416.8" y="1005.0" font-size="28.5" textLength="32.2" lengthAdjust="spacingAndGlyphs">0.4</text>
<text x="1416.8" y="1313.0" font-size="28.5" textLength="32.2" lengthAdjust="spacingAndGlyphs">0.2</text>
</g>
<defs><linearGradient id="cbg" x1="0" y1="1" x2="0" y2="0"><stop offset="0.000" stop-color="#4460ac"/><stop offset="0.062" stop-color="#4868b0"/><stop offset="0.125" stop-color="#4a80bc"/><stop offset="0.187" stop-color="#30a0b4"/><stop offset="0.250" stop-color="#40a89c"/><stop offset="0.312" stop-color="#50ac8c"/><stop offset="0.375" stop-color="#68b478"/><stop offset="0.438" stop-color="#7cbc6c"/><stop offset="0.500" stop-color="#90c462"/><stop offset="0.562" stop-color="#b0cc5c"/><stop offset="0.625" stop-color="#d8d856"/><stop offset="0.688" stop-color="#f0c44a"/><stop offset="0.750" stop-color="#f0a848"/><stop offset="0.812" stop-color="#ee8c46"/><stop offset="0.875" stop-color="#eb7442"/><stop offset="0.938" stop-color="#e96440"/><stop offset="1.000" stop-color="#e85440"/></linearGradient></defs>
<rect x="1381" y="56" width="23" height="1252.2" fill="url(#cbg)"/>
<defs><pattern id="cbs" patternUnits="userSpaceOnUse" x="0" y="56" width="23" height="4.9"><rect width="23" height="2.3" fill="#fff" fill-opacity="0.09"/></pattern></defs>
<rect x="1381" y="56" width="23" height="1252.2" fill="url(#cbs)"/>
<rect x="1381" y="54.2" width="23" height="2" fill="#111"/>
<rect x="1381" y="1308.2" width="23" height="2" fill="#111"/>
<path d="M1381 1151.7h1.5M1404 1151.7h-1.5M1381 995.2h5.7M1404 995.2h-5.7M1381 838.7h1.5M1404 838.7h-1.5M1381 682.2h5.7M1404 682.2h-5.7M1381 525.7h1.5M1404 525.7h-1.5M1381 369.2h5.7M1404 369.2h-5.7M1381 212.7h1.5M1404 212.7h-1.5" stroke="#111" stroke-width="1.3"/>
</svg></body></html>
